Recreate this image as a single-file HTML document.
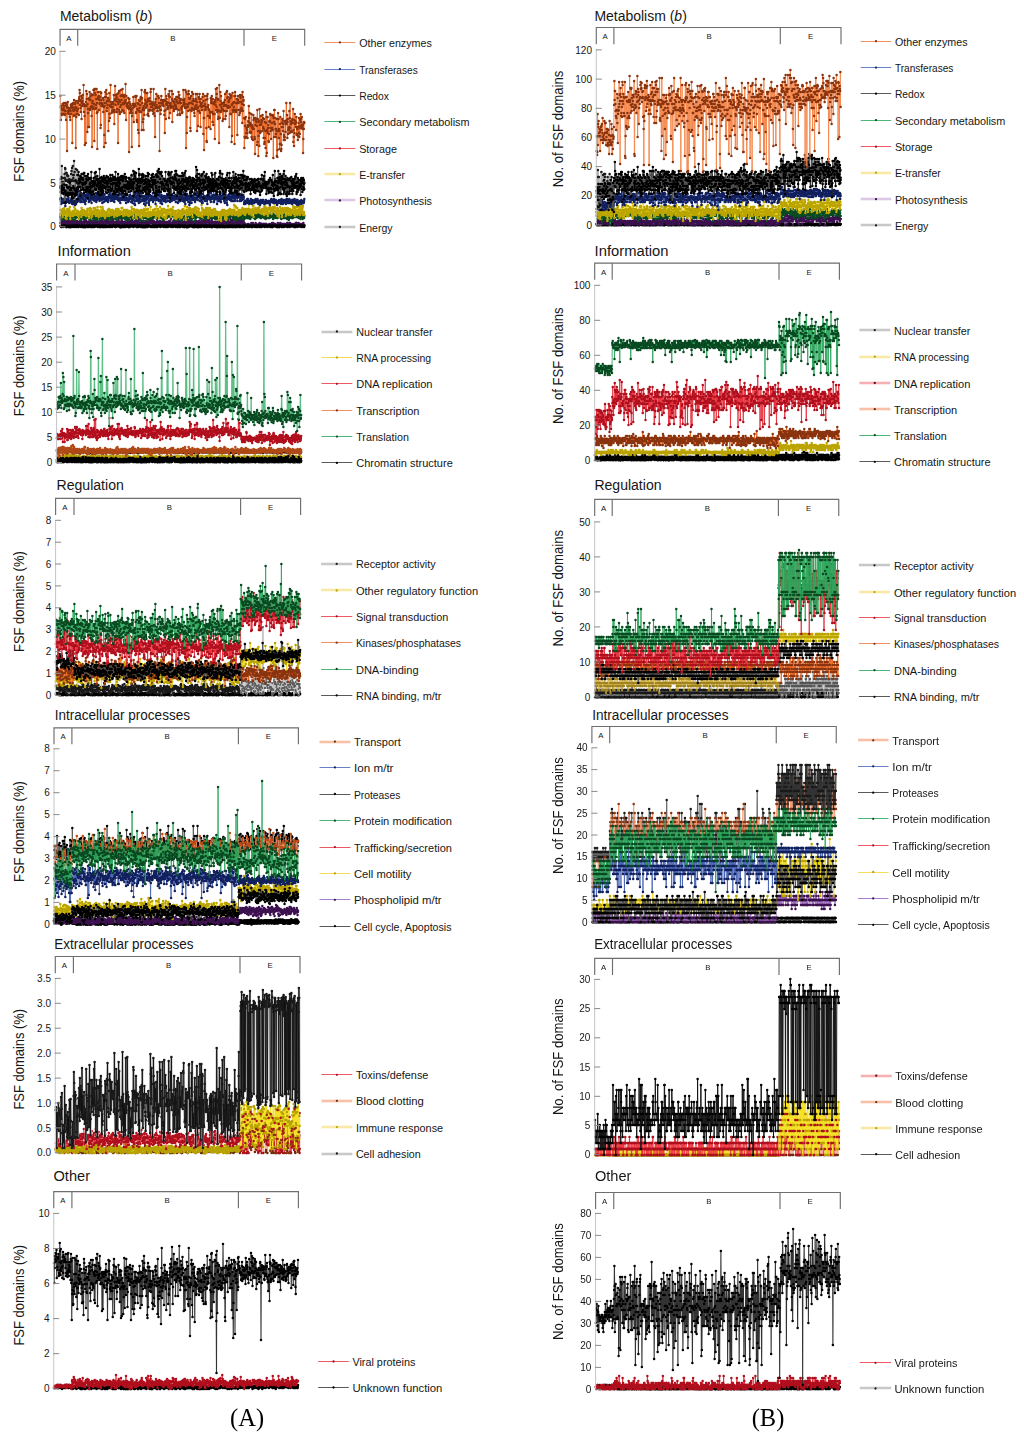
<!DOCTYPE html><html><head><meta charset="utf-8"><style>html,body{margin:0;padding:0;background:#fff;width:1024px;height:1440px;overflow:hidden}svg{display:block}text{font-family:"Liberation Sans",sans-serif;fill:#161616}.s{fill:none;stroke-linejoin:round}.d{filter:blur(0.35px)}.lt{font-size:11.2px}.tk{font-size:10px;text-anchor:end}.ti{font-size:14px}.yl{font-size:14.2px;text-anchor:middle}.br{font-size:7.8px;text-anchor:middle}</style></head><body>
<svg width="1024" height="1440" viewBox="0 0 1024 1440">
<defs><marker id="m0" markerUnits="userSpaceOnUse" markerWidth="1" markerHeight="1" overflow="visible"><ellipse rx="5.00" ry="1.25" fill="#b0101e"/></marker><marker id="m1" markerUnits="userSpaceOnUse" markerWidth="1" markerHeight="1" overflow="visible"><ellipse rx="5.00" ry="1.25" fill="#3d1250"/></marker><marker id="m2" markerUnits="userSpaceOnUse" markerWidth="1" markerHeight="1" overflow="visible"><ellipse rx="5.00" ry="1.25" fill="#000000"/></marker><marker id="m3" markerUnits="userSpaceOnUse" markerWidth="1" markerHeight="1" overflow="visible"><ellipse rx="5.00" ry="1.25" fill="#0a4a22"/></marker><marker id="m4" markerUnits="userSpaceOnUse" markerWidth="1" markerHeight="1" overflow="visible"><ellipse rx="5.00" ry="1.25" fill="#bba400"/></marker><marker id="m5" markerUnits="userSpaceOnUse" markerWidth="1" markerHeight="1" overflow="visible"><ellipse rx="5.00" ry="1.25" fill="#13205e"/></marker><marker id="m6" markerUnits="userSpaceOnUse" markerWidth="1" markerHeight="1" overflow="visible"><ellipse rx="5.00" ry="1.25" fill="#1a1a1a"/></marker><marker id="m7" markerUnits="userSpaceOnUse" markerWidth="1" markerHeight="1" overflow="visible"><ellipse rx="5.00" ry="1.25" fill="#8a3410"/></marker><marker id="m8" markerUnits="userSpaceOnUse" markerWidth="1" markerHeight="1" overflow="visible"><ellipse rx="5.00" ry="1.25" fill="#b04a18"/></marker><marker id="m9" markerUnits="userSpaceOnUse" markerWidth="1" markerHeight="1" overflow="visible"><ellipse rx="4.00" ry="1.00" fill="#5a5a5a"/></marker><marker id="m10" markerUnits="userSpaceOnUse" markerWidth="1" markerHeight="1" overflow="visible"><ellipse rx="6.80" ry="1.70" fill="#000000"/></marker><marker id="m11" markerUnits="userSpaceOnUse" markerWidth="1" markerHeight="1" overflow="visible"><ellipse rx="2.50" ry="1.25" fill="#c04a14"/></marker><marker id="m12" markerUnits="userSpaceOnUse" markerWidth="1" markerHeight="1" overflow="visible"><ellipse rx="5.00" ry="1.25" fill="#6a2a0a"/></marker><marker id="m13" markerUnits="userSpaceOnUse" markerWidth="1" markerHeight="1" overflow="visible"><ellipse rx="5.00" ry="1.25" fill="#b8a200"/></marker><marker id="m14" markerUnits="userSpaceOnUse" markerWidth="1" markerHeight="1" overflow="visible"><ellipse rx="1.25" ry="1.25" fill="#b0101e"/></marker><marker id="m15" markerUnits="userSpaceOnUse" markerWidth="1" markerHeight="1" overflow="visible"><ellipse rx="1.04" ry="1.25" fill="#8a3410"/></marker><marker id="m16" markerUnits="userSpaceOnUse" markerWidth="1" markerHeight="1" overflow="visible"><ellipse rx="4.17" ry="1.25" fill="#1a1a1a"/></marker><marker id="m17" markerUnits="userSpaceOnUse" markerWidth="1" markerHeight="1" overflow="visible"><ellipse rx="5.20" ry="1.30" fill="#000000"/></marker><marker id="m18" markerUnits="userSpaceOnUse" markerWidth="1" markerHeight="1" overflow="visible"><ellipse rx="5.00" ry="1.25" fill="#555"/></marker><marker id="m19" markerUnits="userSpaceOnUse" markerWidth="1" markerHeight="1" overflow="visible"><ellipse rx="5.00" ry="1.25" fill="#a08420"/></marker><marker id="m20" markerUnits="userSpaceOnUse" markerWidth="1" markerHeight="1" overflow="visible"><ellipse rx="2.50" ry="1.25" fill="#8a3410"/></marker><marker id="m21" markerUnits="userSpaceOnUse" markerWidth="1" markerHeight="1" overflow="visible"><ellipse rx="2.08" ry="1.25" fill="#b0101e"/></marker><marker id="m22" markerUnits="userSpaceOnUse" markerWidth="1" markerHeight="1" overflow="visible"><ellipse rx="4.17" ry="1.25" fill="#000000"/></marker><path id="p0" transform="translate(55.6 0) scale(0.3 1.0)" vector-effect="non-scaling-stroke" d="M0 1110l1-3 1 18 1-12 1 35 1-22 1-13 1 16 1-1 1-25 1 5 1 23 1-5 1-13 1-3 1 5 1 29 1-20 1-27 1 22 1-10 1-16 1 40 1 15 1-22 1-1 1 17 1-12 1 9 1 9 1-62 1 46 1-9 1-3 1-15 1 10 1 15 1-3 1 10 1-20 1 22 1-27 1 23 1-18 1 16 1 5 1-38 1 9 1 36 1-18 1-28 1 22 1 17 1-1 1 11 1-11 1 8 1-23 1 19 1 5 1-50 1-24 1 11 1 18 1 37 1-46 1 7 1-4 1 42 1-5 1-15 1-11 1 2 1 6 1 24 1-22 1-18 1 10 1-20 1 0 1 33 1-43 1 32 1-18 1-6 1 31 1-27 1 24 1-46 1 31 1 19 1-22 1 23 1 0 1-12 1-15 1 23 1 9 1-15 1 10 1-7 1 30 1-73 1 26 1 28 1 7 1-2 1-27 1-3 1-14 1 35 1 8 1-20 1-42 1 60 1-11 1 21 1-16 1-39 1 16 1 11 1 5 1-32 1 25 1-17 1 5 1 4 1 18 1-46 1 37 1-44 1 27 1-1 1 21 1 23 1-23 1-29 1 36 1 16 1 5 1-34 1-17 1 2 1 21 1 7 1-8 1-7 1-21 1 30 1-4 1-24 1-6 1 10 1 25 1 23 1-20 1 11 1-4 1-26 1 1 1 13 1-13 1 8 1-7 1 39 1-55 1 13 1-10 1 16 1 1 1 29 1-51 1 6 1-22 1 45 1 4 1 0 1 5 1-26 1-11 1-6 1 6 1 34 1-5 1-27 1 28 1-15 1-13 1 11 1 4 1 2 1-8 1 3 1-3 1 21 1-1 1-58 1 56 1 5 1 21 1 1 1-52 1-15 1 60 1-30 1 1 1-19 1 49 1-19 1-25 1-24 1 33 1-24 1 29 1 10 1 7 1-11 1-6 1 6 1 13 1 13 1-35 1 13 1-58 1 73 1-31 1 43 1-33 1 28 1-28 1 28 1-25 1 28 1-5 1-72 1 55 1-3 1-17 1 11 1-47 1 35 1 3 1 41 1-39 1 14 1 22 1-23 1-8 1 26 1 11 1-20 1 19 1-30 1 10 1 9 1-3 1-33 1 8 1 34 1-66 1 3 1 41 1-20 1 0 1 7 1-7 1 32 1-1 1-46 1 35 1-18 1 5 1-3 1 0 1-1 1 11 1 20 1-27 1 33 1-11 1 14 1-42 1-5 1 13 1 0 1-12 1-1 1-2 1 36 1-51 1 35 1 23 1-20 1-1 1-13 1 9 1-17 1 14 1 12 1 4 1 15 1-11 1-26 1 9 1-7 1 2 1 1 1 13 1 5 1-26 1 30 1-23 1 26 1-11 1 2 1 18 1-79 1 20 1 30 1-5 1-31 1 16 1 41 1 12 1-21 1-8 1-50 1 18 1 48 1-41 1 29 1-2 1-2 1-19 1 12 1-19 1 16 1 30 1-18 1-38 1 55 1-22 1 11 1-10 1 5 1 2 1-9 1-42 1 26 1-18 1 36 1-15 1 8 1 18 1 16 1-48 1-23 1 64 1-4 1 7 1 12 1-43 1-38 1 77 1-31 1-2 1-29 1 13 1-2 1 10 1 10 1-13 1 18 1-12 1 1 1 33 1-27 1-45 1 29 1 15 1 25 1-30 1 5 1-33 1 17 1 1 1-33 1 53 1-16 1 10 1-9 1 8 1 29 1-17 1-25 1-14 1 53 1-32 1 18 1-2 1-24 1 20 1 23 1-30 1-11 1-10 1 50 1-18 1-35 1 36 1-4 1 19 1-31 1-15 1 45 1-31 1 4 1 6 1-34 1 34 1-7 1-9 1 2 1-6 1 22 1-38 1 2 1-10 1 42 1 1 1 16 1-2 1 7 1-26 1-12 1 33 1-29 1 41 1 9 1-45 1-1 1-5 1 3 1 3 1-33 1-1 1 61 1-37 1 43 1-21 1-10 1 31 1-25 1-33 1 23 1-34 1 65 1-25 1 2 1 24 1-14 1 12 1 0 1-34 1-14 1 50 1-31 1 50 1-60 1 39 1-25 1-35 1 44 1 25 1-27 1-5 1-16 1-10 1 51 1-31 1 27 1-60 1 11 1 32 1 33 1-55 1-21 1 63 1-22 1-31 1 2 1 72 1-48 1 2 1 23 1 2 1-36 1-7 1-14 1 24 1 16 1 2 1-18 1 17 1 0 1-11 1 8 1 13 1-8 1-4 1 21 1-17 1 15 1-22 1-8 1 9 1-11 1 32 1-34 1 36 1-34 1 46 1-29 1-2 1-9 1-10 1 31 1-24 1 2 1 8 1 4 1 13 1-33 1 21 1-17 1 15 1 16 1-80 1 55 1-3 1 44 1-34 1-21 1 14 1 10 1-13 1-32 1 52 1-28 1 10 1 18 1-19 1-23 1 46 1 9 1-49 1-24 1 35 1 2 1 35 1-27 1 9 1-57 1 73 1-21 1 28 1-10 1-36 1 21 1-32 1 46 1-57 1 46 1 26 1-36 1 0 1 5 1 20 1-30 1-15 1 11 1 28 1-22 1 35 1-37 1 28 1-32 1-3 1 22 1-1 1-11 1 28 1-25 1 4 1 26 1-6 1-24 1-36 1 50 1-9 1-22 1 17 1-13 1 7 1-6 1 7 1 22 1 13 1-26 1 10 1-44 1-24 1 78 1-40 1 2 1 8 1-89 1-5 1-4 1 94 1-104 1 110 1 2 1-103 1 7 1-7 1 97 1-103 1 0 1 14 1 82 1-89 1 87 1-81 1-10 1 6 1-5 1 1 1-4 1 104 1-2 1-96 1 102 1-11 1-80 1 87 1 1 1-100 1-10 1 102 1-88 1 95 1-7 1 4 1-1 1-84 1-3 1-4 1 3 1 2 1-9 1 93 1-92 1 6 1-5 1 6 1-3 1 2 1-1 1-1 1 3 1 87 1 2 1 7 1-97 1 87 1 13 1-111 1 5 1 103 1-104 1 93 1 4 1 6 1-9 1-86 1-6 1 4 1-5 1 100 1-100 1-12 1 10 1 98 1-97 1 6 1-3 1-9 1 6 1 2 1 102 1-3 1-96 1-12 1 2 1 103 1-2 1-101 1 3 1 1 1 7 1-4 1-8 1 5 1 4 1 2 1 100 1-6 1 0 1 5 1-103 1-11 1 6 1 12 1-3 1 87 1-81 1-7 1 92 1-6 1-93 1 9 1-9 1 4 1 9 1 80 1-85 1 1 1-2 1 0 1-4 1 3 1 6 1-12 1 105 1-95 1 6 1-9 1-4 1 2 1 92 1-88 1-6 1-3 1 12 1-12 1 98 1-93 1-6 1 19 1-21 1 3 1 12 1-9 1 93 1-96 1 96 1-97 1 4 1 105 1-94 1 1 1-10 1 1 1 85 1-84 1 89 1-93 1 1 1 1 1 86 1-95 1 105 1-100 1 2 1 0 1-8 1 18 1 0 1 89 1-91 1-8 1 2 1-4 1 90 1-91 1 3 1-5 1 106 1 5 1-18 1-84 1 96 1-98 1 95 1-6 1-89 1 1 1-6 1 105 1-91 1-24 1 10 1 104"/></defs>
<g><text class="ti" x="59.9" y="20.9" textLength="92.4" lengthAdjust="spacingAndGlyphs">Metabolism (<tspan font-style="italic">b</tspan>)</text><path d="M60.05 45.8V29.3H304.7V45.8M77.7 29.3V45.8M244.0 29.3V45.8" fill="none" stroke="#6e6e6e" stroke-width="1.15"/><text class="br" x="68.9" y="40.8">A</text><text class="br" x="172.8" y="40.8">B</text><text class="br" x="274.4" y="40.8">E</text><g class="d"><path class="s" transform="translate(60.3 0) scale(0.25 1.0)" vector-effect="non-scaling-stroke" d="M0 227l1-1 1 1 1-1 1 1 1-1 1 0 1 0 1 0 1 1 1 0 1-1 1 0 1 0 1 0 1 1 1-1 1 1 1-1 1 0 1 1 1-1 1 0 1 0 1 0 1 0 1 0 1 0 1 0 1 0 1 0 1 1 1 0 1-1 1 0 1 0 1 0 1 0 1 0 1 1 1-1 1 0 1 0 1 0 1 0 1 1 1-1 1 0 1 0 1 0 1 0 1 1 1-1 1 0 1 0 1 0 1 1 1-1 1 0 1 0 1 1 1-1 1 0 1 0 1 0 1 0 1 0 1 1 1-1 1 0 1 0 1 0 1 0 1 0 1 0 1 1 1-1 1 0 1 0 1 0 1 0 1 0 1 1 1-1 1 0 1 0 1 0 1 0 1 0 1 1 1-1 1 0 1 0 1 0 1 1 1-1 1 1 1-1 1 0 1 1 1-1 1 0 1 0 1 1 1-1 1 0 1 0 1 0 1 0 1 1 1-1 1 0 1 1 1-1 1 1 1 0 1-1 1 0 1 0 1 0 1 1 1 0 1 0 1 0 1 0 1-1 1 0 1 0 1 0 1 0 1 1 1 0 1-1 1 0 1 0 1 0 1 0 1 0 1 0 1 1 1-1 1 1 1-1 1 0 1 1 1-1 1 1 1 0 1-1 1 0 1 0 1 1 1-1 1 0 1 1 1 0 1-1 1 1 1-1 1 0 1 1 1-1 1 0 1 1 1-1 1 0 1 0 1 0 1 0 1 0 1 0 1 0 1 0 1 1 1-1 1 0 1 0 1 0 1 1 1-1 1 1 1-1 1 1 1-1 1 1 1-1 1 0 1 0 1 1 1-1 1 0 1 0 1 0 1 0 1 0 1 0 1 0 1 0 1 1 1-1 1 0 1 0 1 0 1 0 1 1 1 0 1 0 1-1 1 0 1 0 1 0 1 0 1 1 1-1 1 0 1 1 1-1 1 1 1-1 1 1 1-1 1 0 1 1 1 0 1-1 1 1 1 0 1-1 1 0 1 1 1 0 1-1 1 1 1-1 1 0 1 1 1-1 1 0 1 1 1-1 1 0 1 0 1 0 1 1 1 0 1 0 1-1 1 1 1 0 1-1 1 0 1 0 1 0 1 1 1-1 1 0 1 1 1-1 1 0 1 0 1 1 1 0 1-1 1 0 1 0 1 0 1 0 1 1 1-1 1 1 1-1 1 1 1 0 1 0 1-1 1 1 1-1 1 0 1 0 1 0 1 0 1 0 1 0 1 0 1 0 1 0 1 0 1 0 1 0 1 0 1 0 1 1 1-1 1 0 1 0 1 0 1 1 1-1 1 1 1-1 1 0 1 0 1 1 1-1 1 0 1 0 1 0 1 0 1 1 1-1 1 0 1 1 1-1 1 1 1-1 1 0 1 0 1 0 1 1 1-1 1 1 1-1 1 1 1-1 1 1 1-1 1 1 1-1 1 0 1 0 1 0 1 0 1 1 1-1 1 1 1-1 1 0 1 0 1 0 1 0 1 0 1 0 1 0 1 0 1 0 1 0 1 0 1 1 1-1 1 0 1 1 1-1 1 1 1-1 1 0 1 1 1 0 1 0 1 0 1 0 1 0 1 0 1 0 1 0 1-1 1 1 1-1 1 0 1 0 1 0 1 0 1 1 1-1 1 0 1 0 1 0 1 0 1 0 1 0 1 0 1 0 1 0 1 0 1 1 1 0 1-1 1 0 1 0 1 0 1 0 1 1 1-1 1 1 1-1 1 1 1-1 1 1 1 0 1 0 1-1 1 0 1 0 1 0 1 0 1 0 1 0 1 0 1 0 1 0 1 1 1-1 1 1 1-1 1 1 1-1 1 1 1-1 1 1 1 0 1-1 1 0 1 0 1 0 1 1 1 0 1 0 1-1 1 1 1-1 1 1 1-1 1 1 1 0 1 0 1-1 1 0 1 0 1 1 1-1 1 0 1 0 1 0 1 0 1 0 1 1 1-1 1 0 1 0 1 0 1 1 1-1 1 0 1 0 1 1 1 0 1-1 1 0 1 0 1 0 1 0 1 0 1 1 1 0 1-1 1 0 1 1 1-1 1 0 1 0 1 1 1-1 1 0 1 0 1 0 1 0 1 0 1 0 1 0 1 0 1 0 1 0 1 0 1 0 1 0 1 1 1-1 1 0 1 0 1 1 1-1 1 0 1 0 1 0 1 1 1 0 1-1 1 0 1 1 1-1 1 1 1-1 1 1 1-1 1 0 1 0 1 1 1 0 1 0 1-1 1 1 1-1 1 1 1 0 1-1 1 0 1 0 1 0 1 0 1 0 1 0 1 0 1 0 1 0 1 0 1 0 1 0 1 1 1 0 1-1 1 1 1 0 1-1 1 0 1 0 1 1 1 0 1 0 1-1 1 0 1 0 1 0 1 0 1 1 1-1 1 1 1-1 1 0 1 0 1 0 1 0 1 0 1 0 1 1 1 0 1-1 1 1 1 0 1-1 1 0 1 0 1 0 1 1 1-1 1 0 1 0 1 1 1 0 1 0 1-1 1 0 1 1 1-1 1 0 1 0 1 0 1 0 1 0 1 0 1 0 1 0 1 1 1 0 1-1 1 1 1-1 1 0 1 1 1-1 1 0 1 1 1-1 1 1 1-1 1 1 1-1 1 0 1 0 1 1 1 0 1-1 1 0 1 0 1 1 1 0 1-1 1 0 1 0 1 0 1 0 1 0 1 0 1 0 1 0 1 0 1 0 1 0 1 0 1 1 1 0 1-1 1 0 1 0 1 0 1 1 1-1 1 1 1-1 1 0 1 1 1-1 1 1 1-1 1 0 1 0 1 0 1 0 1 0 1 1 1-1 1 1 1-1 1 1 1-1 1 1 1-1 1 0 1 0 1 0 1 1 1-1 1 0 1 0 1 0 1 0 1 0 1 1 1-1 1 0 1 1 1 0 1-1 1 0 1 0 1 0 1 1 1-1 1 0 1 0 1 0 1 0 1 0 1 0 1 1 1-1 1 0 1 0 1 0 1 0 1 1 1-1 1 0 1 0 1 0 1 0 1 1 1 0 1-1 1 1 1-1 1 1 1-1 1 1 1-1 1 1 1 0 1-1 1 0 1 0 1 0 1 0 1 0 1 0 1 0 1 1 1 0 1-1 1 0 1 0 1 0 1 0 1 0 1 1 1-1 1 1 1 0 1-1 1 0 1 0 1 1 1-1 1 0 1 0 1 1 1-1 1 1 1-1 1 0 1 1 1-1 1 0 1 0 1 0 1 0 1 0 1 0 1 0 1 1 1-1 1 0 1 0 1 0 1 0 1 0 1 0 1 0 1 0 1 0 1 0 1 0 1 0 1 1 1 0 1-1 1 1 1 0 1 0 1-1 1 1 1 0 1 0 1-1 1 1 1 0 1-1 1 1 1-1 1 1 1-1 1 0 1 0 1 0 1 0 1 1 1-1 1 0 1 0 1 1 1-1 1 0 1 1 1-1 1 0 1 0 1 0 1 0 1 1 1-1 1 0 1 0 1 0 1 0 1 1 1 0 1-1 1 0 1 0 1 0 1 1 1-1 1 0 1 0 1 0 1 0 1 0 1-1 1 1 1 0 1 0 1 1 1 0 1-1 1 0 1 1 1-1 1 1 1 0 1-1 1 1 1 0 1-1 1 0 1 1 1-1 1 1 1-1 1 0 1 0 1 0 1 0 1 0 1 0 1 0 1 0 1 0 1 0 1 1 1-1 1 0 1 0 1 0 1 0 1 0 1 0 1 1 1-1 1 0 1 0 1 0 1 1 1-1 1 0 1 0 1 0 1 0 1 0 1 1 1-1 1 1 1-1 1 0 1 0 1 1 1-1 1 0 1 1 1-1 1 0 1 0 1 0 1 0 1 0 1 0 1 0 1 1 1 0 1-1 1 0 1 0 1 0 1 0 1 0 1 0 1 0 1 0 1 0 1 0 1 1 1 0 1-1 1 0 1 0 1 0 1 0 1 0 1 0 1 0 1 0 1 1 1 0 1-1 1 0 1 0 1 1 1 0 1-1 1 0 1 0 1 0 1 0 1 1 1 0 1-1 1 1 1-1 1 0 1 1 1 0 1 0 1-1 1 0 1 0 1 0 1 0 1 1 1-1 1 0 1 0 1 0 1 0 1 0 1 0 1 1 1-1 1 0 1 0 1 0 1 0 1 0 1 0 1 1 1-1 1 1 1 0 1-1 1 1 1-1 1 0 1 0 1 1 1-1 1 0 1 0 1 0 1 1 1 0 1 0 1 0 1-1 1 0 1 1 1-1 1 0 1 0 1 0 1 1 1 0 1 0 1-1 1 0 1 1 1-1 1 0 1 0 1 0 1 0 1 0 1 0" stroke="#e6323e" stroke-width="0.9"/><path class="s" transform="translate(60.3 0) scale(0.25 1.0)" vector-effect="non-scaling-stroke" d="M0 223l1-4 1 3 1 0 1 5 1-6 1 2 1 0 1-1 1 2 1-3 1 1 1 1 1 1 1-3 1 3 1 2 1-4 1-1 1 2 1 0 1 0 1 0 1 1 1-2 1-1 1 4 1-3 1 0 1-1 1-1 1 3 1 0 1 2 1-2 1-2 1 1 1 2 1-3 1 2 1 1 1-1 1 0 1 0 1-1 1 3 1-3 1 2 1-4 1 0 1 1 1 2 1-2 1 3 1 1 1-2 1 2 1-2 1 0 1-2 1 0 1 2 1-1 1-1 1 1 1 3 1-2 1-2 1 4 1-2 1-1 1 0 1 0 1 2 1 1 1-2 1 2 1-2 1 0 1-3 1 2 1 1 1-1 1 1 1-2 1 4 1-3 1 1 1 3 1-1 1 1 1-3 1 0 1 1 1-2 1 1 1-2 1 0 1-2 1 6 1-3 1-2 1 2 1 0 1-1 1 2 1 0 1-1 1 3 1-1 1 1 1-3 1 0 1 3 1-2 1 1 1-1 1-3 1 1 1 1 1 2 1-3 1 0 1 3 1-2 1 4 1-5 1 1 1 1 1 2 1-4 1 3 1-3 1 2 1 1 1-1 1 3 1-4 1-2 1 4 1 0 1-2 1 2 1-2 1 0 1 1 1 2 1-3 1-1 1 2 1 1 1 0 1 0 1-2 1 0 1 0 1 2 1 0 1-2 1 3 1-2 1 1 1-3 1 4 1 0 1-4 1 1 1 2 1 0 1-4 1 4 1 1 1-1 1-2 1 0 1 3 1 0 1-3 1 0 1 4 1-5 1 2 1-2 1 1 1 2 1-3 1-2 1 2 1-1 1 1 1 2 1-1 1 1 1 0 1-2 1 1 1 2 1-1 1-1 1 2 1-1 1-1 1 1 1 0 1 0 1-2 1 2 1-1 1 3 1-2 1 2 1-5 1 3 1-1 1 2 1 0 1-2 1 2 1 0 1 3 1-3 1 0 1 0 1-2 1 1 1 1 1 0 1-3 1 4 1-1 1-2 1 2 1 0 1-4 1 3 1 3 1-4 1 2 1 3 1-5 1 0 1 1 1 2 1-2 1 2 1-5 1 5 1-4 1 2 1-1 1 1 1 0 1 0 1 1 1 0 1-2 1 0 1 0 1 1 1-1 1 3 1-6 1 4 1 1 1-1 1 0 1 0 1 0 1 1 1-2 1 3 1-5 1 5 1-4 1 1 1 1 1-1 1 3 1-1 1 1 1-2 1 1 1 0 1-3 1 1 1-2 1 1 1-2 1 4 1 1 1 1 1-3 1 2 1-2 1 0 1 2 1-2 1 3 1-4 1 1 1 1 1 1 1 1 1-3 1-1 1 2 1 2 1-1 1-2 1-1 1 2 1 0 1 1 1-3 1 2 1-4 1 5 1-2 1-2 1 3 1-2 1 3 1 3 1-4 1 1 1-2 1 2 1 2 1-4 1-1 1 0 1 1 1 1 1 0 1 2 1-2 1 2 1-1 1 1 1-2 1-2 1 2 1 1 1-1 1-1 1 2 1 1 1 0 1-3 1 0 1 1 1 0 1 1 1 0 1-2 1 0 1-1 1 0 1 2 1 0 1-1 1 1 1 0 1-2 1 2 1-2 1 1 1-2 1 3 1 0 1 1 1-3 1 3 1-3 1 1 1 3 1-3 1 0 1 0 1 2 1 1 1-2 1 0 1 1 1-2 1 1 1-1 1 1 1-2 1 3 1-2 1 0 1 2 1-2 1 1 1-1 1 2 1 0 1-1 1-2 1 4 1-2 1-1 1 2 1 0 1-1 1 0 1-1 1 3 1-2 1-3 1 2 1 3 1-3 1 3 1-3 1 2 1-5 1 7 1-3 1 3 1-3 1-1 1 3 1-2 1-1 1 3 1-2 1-1 1 1 1-1 1 1 1 0 1-1 1 2 1-1 1-2 1 3 1-3 1 3 1-1 1 2 1 0 1-6 1 7 1-3 1 0 1 2 1-2 1 2 1 0 1 0 1-4 1 1 1 2 1 0 1-1 1-1 1 3 1-4 1 0 1 2 1-1 1 2 1-1 1-1 1 2 1-3 1 4 1-3 1 2 1 3 1-4 1 0 1 2 1-4 1 1 1 2 1-1 1 2 1 0 1-1 1 0 1-2 1-2 1 2 1 1 1 0 1-3 1 2 1 4 1-2 1-2 1 2 1 1 1-2 1 2 1-1 1 0 1-3 1 1 1 0 1 1 1 1 1 0 1-4 1 2 1-1 1 1 1 3 1-4 1 2 1-1 1 1 1-3 1 4 1-1 1-2 1 5 1-1 1-3 1 1 1 0 1 0 1-3 1 2 1 2 1-1 1-1 1 1 1-1 1 3 1-1 1-1 1-1 1 0 1 2 1-3 1 1 1-2 1 1 1 3 1 1 1 0 1-3 1-1 1 3 1-1 1-1 1 2 1 3 1-3 1-1 1 0 1-2 1 1 1 4 1-4 1 3 1-1 1-2 1-3 1 4 1-1 1 0 1 2 1-1 1-2 1 3 1 0 1-1 1-1 1-2 1 1 1 1 1 1 1 1 1-3 1 2 1-3 1 4 1-3 1 2 1 2 1-1 1-2 1-3 1 7 1-4 1-1 1 4 1 0 1-6 1 3 1 2 1-4 1 2 1-1 1 4 1-2 1-1 1 1 1 0 1 1 1-2 1 4 1-6 1 7 1-5 1 1 1-1 1 0 1 1 1 1 1 0 1 0 1-2 1 0 1 2 1-2 1 3 1 0 1-3 1 0 1 0 1 2 1 0 1-2 1 1 1 2 1-8 1 5 1 5 1-2 1-2 1 1 1-3 1 1 1 1 1 1 1 1 1-2 1 3 1-1 1-1 1-3 1-1 1 2 1 0 1 2 1 1 1-1 1 1 1-2 1 1 1-1 1-2 1-1 1 2 1 0 1 4 1-5 1 0 1 2 1-1 1 0 1 3 1-3 1 2 1-3 1 1 1 1 1-2 1 2 1-1 1 0 1 2 1-1 1 2 1 0 1-6 1 3 1 2 1-3 1 1 1 1 1-2 1-1 1 5 1 1 1-3 1 1 1 1 1-4 1-3 1 6 1 1 1 1 1-2 1 2 1-4 1 2 1-1 1 0 1 2 1-1 1 0 1-3 1 1 1 0 1 1 1 0 1-2 1 1 1 3 1-1 1-2 1-3 1 2 1 3 1 1 1-2 1-1 1-1 1 0 1 2 1-3 1 3 1-3 1 3 1 1 1-3 1 1 1-1 1 4 1 1 1-3 1 4 1-2 1 1 1-2 1 1 1 0 1 0 1 1 1 0 1-1 1 1 1 1 1-2 1-1 1 1 1 1 1-2 1 2 1-1 1 0 1 1 1-1 1 1 1 0 1 0 1 0 1-1 1-2 1 4 1-3 1 1 1-1 1 2 1-3 1 1 1 2 1-1 1 1 1-1 1 1 1 0 1 0 1-1 1 1 1-3 1 2 1 0 1 0 1-1 1 1 1 2 1-1 1-1 1 1 1 0 1 0 1-1 1 1 1-1 1-1 1-1 1 1 1 0 1 0 1 1 1 2 1-2 1-1 1 0 1 0 1 1 1-1 1 2 1 0 1-1 1 0 1-1 1 0 1 1 1 0 1-1 1 1 1 0 1 0 1 0 1-1 1 0 1 0 1 1 1 1 1-1 1 2 1-1 1-1 1 1 1-1 1 1 1 0 1 0 1-2 1 1 1 1 1-1 1 0 1 2 1 0 1-3 1 1 1-1 1 2 1-3 1 4 1 0 1-2 1-2 1 2 1-1 1 1 1-1 1 1 1-1 1 1 1 0 1-1 1 2 1-1 1 0 1 1 1 1 1-1 1-1 1 0 1 2 1-4 1 3 1-2 1 2 1 1 1-3 1 3 1-2 1 0 1 1 1-3 1 1 1 1 1 1 1-2 1 1 1 2 1-3 1 1 1 0 1 0 1-1 1 0 1 2 1-1 1 0 1 0 1-1 1 0 1 2 1-1 1 1 1-1 1 0 1 1 1-1 1 0 1-2 1 4 1-4 1 4 1-2 1 0 1 1 1 0 1-2 1 1 1-2 1 4 1-4 1 2 1 0 1 0 1 0 1 0 1 0 1 0 1-1 1 1 1 1 1-1 1 0 1 1 1-1 1 0 1 0 1-1 1 0 1 0 1 3 1-2 1 0 1 0 1-2 1 0 1 0 1 1 1 2 1 1 1-2 1 0 1-1 1 1 1-2 1 2 1 0 1 0 1 1 1-2 1 1 1 0 1-1 1 1 1 1 1 1 1-1 1-1 1-1 1 2 1 1 1-2 1 0 1-2 1 2 1 1 1-1 1 0" stroke="#a070c0" stroke-width="0.9" marker-start="url(#m1)" marker-mid="url(#m1)" marker-end="url(#m1)"/><path class="s" transform="translate(60.3 0) scale(0.25 1.0)" vector-effect="non-scaling-stroke" d="M0 226l1 0 1 0 1 0 1 1 1-1 1 0 1 0 1 0 1 0 1 0 1 1 1-1 1 0 1 0 1 0 1 0 1 0 1 0 1 0 1 0 1 0 1 0 1 1 1 0 1-1 1 1 1-1 1 0 1 0 1 0 1 0 1 1 1-1 1 0 1 1 1 0 1-1 1 0 1 1 1 0 1-1 1 1 1-1 1 1 1-1 1 0 1 0 1 0 1 0 1 0 1 1 1-1 1 0 1 0 1 0 1 0 1 0 1 1 1-1 1 0 1 0 1 0 1 0 1 1 1-2 1 1 1 0 1 0 1 0 1 0 1 1 1-1 1 1 1-1 1 0 1 0 1 0 1 0 1 0 1 0 1 0 1 0 1 1 1-1 1 0 1 0 1 0 1 0 1 1 1-1 1 0 1 1 1-1 1 1 1 0 1-1 1 0 1 1 1 0 1 0 1 0 1-1 1 0 1 0 1 0 1 0 1 0 1 1 1-1 1 0 1 0 1 1 1-1 1 0 1 0 1 0 1 0 1 1 1-1 1 0 1 0 1 0 1 0 1 1 1 0 1-1 1 0 1 0 1 1 1-1 1 0 1 1 1-1 1 0 1 0 1 0 1 1 1-1 1 0 1 0 1 0 1 0 1 0 1 0 1 0 1 0 1 0 1 0 1 0 1 1 1-1 1 0 1 0 1 0 1 0 1 0 1 1 1-1 1 0 1 1 1 0 1-1 1 0 1 0 1 0 1 0 1 1 1-1 1 0 1 0 1 1 1 0 1-1 1 0 1 0 1 0 1 1 1-1 1 1 1-1 1 0 1 0 1 1 1-1 1 0 1 0 1 1 1-1 1 0 1 0 1 0 1 0 1 0 1 0 1 1 1-1 1 0 1 0 1 0 1 1 1-1 1 0 1 0 1 0 1 0 1 0 1 1 1-1 1 0 1 0 1 0 1 0 1 0 1 0 1 0 1 0 1 0 1 0 1 0 1 0 1 0 1 1 1-1 1 0 1 0 1 0 1 0 1 0 1 0 1 0 1 0 1 0 1 0 1 0 1 0 1 0 1 0 1 0 1 1 1 0 1 0 1 0 1 0 1 0 1-1 1 0 1 0 1 0 1 1 1-1 1 0 1 0 1 1 1-1 1 1 1-1 1 0 1 0 1 0 1 0 1 1 1-1 1 0 1 0 1 0 1 0 1 0 1 0 1 0 1 0 1 0 1 1 1 0 1-1 1 1 1-1 1 0 1 1 1-1 1 0 1 0 1 0 1 0 1 0 1 0 1 0 1 0 1 0 1 0 1 0 1 0 1 1 1-1 1 0 1 0 1 0 1 0 1 0 1 0 1 0 1 0 1 0 1 0 1 0 1 0 1 1 1 0 1-1 1 0 1 0 1 0 1 1 1-1 1 0 1 0 1 0 1 0 1 0 1 0 1 0 1 0 1 0 1 0 1 0 1 0 1 1 1 0 1-1 1 0 1 1 1-1 1 1 1 0 1-1 1 0 1 1 1 0 1-1 1 1 1-1 1 1 1-1 1 1 1-1 1 0 1 0 1 0 1 0 1 1 1-1 1 0 1 0 1 0 1 0 1 0 1 0 1 0 1 0 1 0 1 0 1 0 1 0 1 1 1-1 1 0 1 0 1 1 1-1 1 0 1 0 1 0 1 0 1 1 1-1 1 0 1 1 1-1 1 0 1 0 1 0 1 1 1-1 1 0 1 0 1 0 1 1 1-1 1 1 1-1 1 0 1 0 1 0 1 0 1 0 1 0 1 0 1 0 1 0 1 0 1 0 1 1 1-1 1 0 1 0 1 0 1 0 1 0 1 0 1 0 1 0 1 0 1 0 1 0 1 1 1-1 1 0 1 0 1 0 1 0 1 0 1 1 1-1 1 0 1 0 1 1 1-1 1 0 1 0 1 0 1 1 1-1 1 0 1 0 1 0 1 0 1 0 1 0 1 0 1 0 1 0 1 0 1 0 1 0 1 1 1-1 1 0 1 0 1 0 1 0 1 0 1 1 1-1 1 0 1 0 1 0 1 0 1 0 1 0 1 0 1 0 1 0 1 1 1-1 1 0 1 0 1 0 1 0 1 1 1 0 1-1 1 0 1 0 1 0 1 0 1-1 1 1 1 1 1-1 1 0 1 1 1-1 1 0 1 0 1 0 1 0 1 0 1 0 1 0 1 0 1 0 1 1 1-1 1 0 1 0 1 0 1 1 1 0 1-1 1 0 1 0 1 0 1 0 1 0 1 1 1 0 1 0 1 0 1 0 1-1 1 0 1 1 1-1 1 1 1-1 1 0 1 0 1 0 1 0 1 0 1 0 1 0 1 0 1 0 1 0 1 0 1 0 1 0 1 0 1 0 1 1 1-1 1 1 1-1 1 0 1 1 1 0 1-2 1 1 1 1 1-1 1 0 1 0 1 0 1 0 1 1 1-1 1 0 1 0 1 1 1-1 1 1 1-1 1 0 1 1 1-1 1 0 1 0 1 1 1-1 1 0 1 0 1 0 1 1 1-1 1 0 1 0 1 0 1 0 1 0 1 0 1 0 1 0 1 0 1 0 1 1 1-1 1 0 1 0 1 0 1 0 1 0 1 0 1 1 1-1 1 0 1 1 1-1 1 0 1 0 1 0 1 0 1 0 1 0 1 0 1 0 1 1 1-1 1 0 1 0 1 0 1 0 1 0 1 0 1 1 1-1 1 1 1-1 1 0 1 1 1-1 1 0 1 0 1 0 1 0 1 0 1 0 1 0 1 0 1 1 1-1 1 0 1 0 1 0 1 1 1-1 1 1 1-1 1 1 1 0 1-1 1 0 1 0 1 0 1 0 1 0 1 1 1-1 1 0 1 0 1 1 1 0 1-1 1 0 1 0 1 0 1 0 1 1 1 0 1-1 1 0 1 0 1 1 1-1 1 0 1 1 1-1 1 1 1-1 1 1 1 0 1-1 1 0 1 0 1 0 1 0 1 1 1-1 1 0 1 1 1-1 1 0 1 1 1-1 1 0 1 1 1-1 1 0 1 0 1 1 1-1 1 0 1 0 1 0 1 0 1 0 1 1 1-1 1 0 1 0 1 1 1 0 1-1 1 0 1 0 1 0 1 0 1 0 1 1 1 0 1-1 1 0 1 1 1 0 1-1 1 0 1 0 1 0 1 0 1 1 1-1 1 0 1 0 1 0 1 0 1 0 1 0 1 1 1-1 1 1 1-1 1 0 1 0 1 0 1 0 1 1 1-1 1 0 1 0 1 0 1 0 1 0 1 0 1 1 1 0 1-1 1 0 1 0 1 0 1 0 1 0 1 0 1 0 1 0 1 0 1 0 1 0 1 0 1 0 1 0 1 0 1 0 1 0 1 0 1 0 1 1 1-1 1 0 1 0 1 0 1 0 1 0 1 0 1 0 1 0 1 0 1 1 1-1 1 0 1 1 1-1 1 0 1 0 1 0 1 0 1 0 1 0 1 0 1 0 1 0 1 1 1-1 1 0 1 0 1 0 1 0 1 1 1-1 1 0 1 0 1 0 1 0 1 0 1 0 1 0 1 0 1 1 1-1 1 0 1 0 1 0 1 0 1 0 1 0 1 1 1-1 1 0 1 0 1 0 1 0 1 0 1 0 1 0 1 0 1 0 1 0 1 0 1 0 1 1 1-1 1 0 1 0 1 0 1 0 1 0 1 0 1 0 1 0 1 0 1 0 1 0 1 0 1 0 1 0 1 0 1 0 1 0 1 0 1 0 1 0 1 0 1 0 1 0 1 0 1 0 1 0 1 0 1 1 1-1 1 0 1 0 1 0 1 0 1 0 1 0 1 0 1 0 1 0 1 0 1 0 1 0 1 0 1 0 1 0 1 0 1 0 1 0 1 0 1 1 1-1 1 0 1 0 1 0 1 0 1 0 1 1 1-1 1 0 1 0 1 0 1 0 1 0 1 0 1 0 1 0 1 0 1 0 1 1 1-1 1 0 1 0 1 0 1 0 1 0 1 1 1-1 1 0 1 0 1 0 1 0 1 0 1 0 1 0 1 0 1 0 1 0 1 0 1 0 1 0 1 0 1 0 1 0 1 0 1 0 1 0 1 0 1 0 1 0 1 0 1 0 1 0 1 0 1 0 1 0 1 0 1 0 1 0 1 0 1 0 1 0 1 0 1 0 1 0 1 0 1 0 1 0 1 1 1-1 1 0 1 0 1 1 1-1 1 0 1 0 1 0 1 0 1 0 1 0 1 0 1 0 1 0 1 0 1 0 1 0 1 0 1 0 1 0 1 0 1 0 1 0 1 0 1 0 1 0 1 0 1 0 1 0 1 0 1 0 1 0 1 0 1 0 1 0 1 0 1 0 1 0 1 1 1-1" stroke="#555555" stroke-width="0.9" marker-start="url(#m2)" marker-mid="url(#m2)" marker-end="url(#m2)"/><path class="s" transform="translate(60.3 0) scale(0.25 1.0)" vector-effect="non-scaling-stroke" d="M0 217l1-3 1 2 1-1 1 0 1-1 1 6 1-3 1 0 1-3 1-1 1 5 1 1 1 0 1-1 1-1 1 2 1-2 1-3 1 5 1-3 1 0 1 1 1-1 1 1 1 0 1-3 1 1 1-1 1 2 1-1 1 4 1-1 1 0 1-1 1 2 1-3 1 0 1 0 1 0 1-1 1 2 1 0 1 0 1-2 1 0 1 2 1-1 1 3 1 0 1-3 1-2 1 2 1 0 1-1 1 2 1 0 1-2 1-1 1 6 1-3 1 1 1-1 1 0 1 0 1-1 1 1 1 0 1-2 1 2 1-3 1 2 1 1 1-1 1 1 1-2 1 3 1-3 1 0 1 0 1 0 1 3 1 2 1-4 1 0 1-1 1 2 1 1 1 0 1 0 1 0 1 0 1-3 1 1 1 3 1-4 1-1 1 3 1-1 1 1 1 0 1 0 1-3 1 3 1-3 1 4 1-1 1-2 1-3 1 4 1-1 1 0 1 3 1-1 1-3 1 5 1-1 1-1 1 0 1-2 1 1 1 4 1-5 1 2 1-1 1-2 1 2 1-1 1-1 1 0 1 4 1-3 1-2 1 7 1-5 1 3 1-2 1-1 1 3 1-3 1 0 1 3 1-4 1 4 1-2 1-2 1 6 1-2 1 1 1-5 1 1 1 1 1-1 1 2 1-2 1-1 1 3 1 3 1-2 1-1 1-2 1 1 1 1 1 1 1 0 1-1 1-2 1 1 1 3 1-4 1 3 1-3 1 0 1-2 1 5 1 1 1-2 1-3 1 5 1-2 1-1 1 0 1 0 1 0 1 0 1 2 1-1 1-3 1 1 1 3 1-4 1 1 1-2 1 6 1-3 1 0 1 2 1 0 1-3 1 2 1 1 1 0 1-2 1 4 1-5 1 2 1 0 1-3 1-1 1 4 1 0 1 1 1-3 1 0 1-1 1 4 1-5 1 1 1 3 1-2 1 4 1-3 1 1 1-2 1 2 1 3 1-5 1 1 1 1 1-1 1 2 1-4 1 3 1-2 1 3 1-3 1-1 1 4 1-1 1-1 1-3 1 5 1-1 1 0 1 1 1 0 1 0 1-2 1 1 1 1 1-2 1-2 1 4 1-1 1 0 1 1 1-1 1-3 1 2 1 3 1 0 1-2 1 2 1-7 1 8 1-3 1 1 1-3 1 2 1 0 1 1 1-1 1 0 1 1 1-3 1 2 1 3 1-4 1 1 1-2 1 2 1-1 1-1 1 2 1-1 1 2 1-1 1-1 1 0 1 3 1-3 1 1 1 0 1 0 1 0 1-1 1 0 1-1 1-2 1 5 1-2 1 2 1-4 1 2 1 3 1-5 1 1 1 2 1-1 1-1 1 1 1 1 1-1 1 1 1-1 1 0 1 0 1 1 1 4 1-1 1 0 1-1 1-2 1-1 1-3 1 3 1 0 1 1 1-2 1 2 1-6 1 5 1 2 1 3 1-4 1-2 1 0 1 0 1 1 1 2 1-3 1 2 1-1 1 1 1 1 1-1 1 0 1 0 1 3 1-7 1 2 1 4 1-1 1 0 1-3 1 3 1 0 1-1 1-3 1 5 1-4 1 1 1 0 1 3 1-3 1 1 1 0 1-1 1 3 1-6 1 2 1 1 1 2 1-2 1 0 1-1 1 1 1 1 1-1 1-1 1 1 1-2 1 3 1-2 1 0 1 3 1 1 1-4 1 1 1-2 1 4 1-6 1 3 1 0 1 3 1-1 1 1 1-3 1 1 1-1 1 2 1 0 1 0 1-1 1 2 1-3 1 1 1-3 1 3 1 2 1 2 1-6 1 4 1-4 1 6 1-6 1 0 1-1 1-1 1 6 1 0 1-1 1 1 1 0 1-4 1 1 1-1 1 4 1-1 1-2 1 1 1 0 1-1 1-2 1 1 1 2 1 0 1-2 1 3 1-2 1 2 1-2 1 1 1-2 1 3 1-1 1 0 1-2 1 1 1 0 1 0 1-2 1 3 1 0 1 0 1 1 1 3 1-3 1-2 1 0 1-3 1 7 1-4 1 3 1-2 1 0 1 2 1 1 1 1 1-2 1 0 1-1 1 2 1-1 1-2 1 1 1-5 1 4 1-1 1 2 1-2 1 1 1 0 1-1 1 4 1 2 1-2 1-2 1 1 1 0 1-3 1 1 1 1 1-1 1 0 1 0 1 1 1 0 1 0 1 2 1-3 1 2 1-1 1 0 1-1 1-1 1 1 1 1 1-4 1 7 1-7 1 3 1-2 1 1 1 0 1 1 1 0 1-2 1 4 1-5 1 4 1 0 1 1 1-2 1 2 1 2 1-2 1-1 1-1 1 2 1-3 1 3 1-2 1-2 1 0 1 1 1 1 1-3 1 8 1-6 1-1 1 4 1-1 1 1 1-2 1-2 1 2 1 1 1-3 1 1 1 0 1 0 1 1 1 1 1-2 1 2 1 0 1 0 1-3 1 0 1 3 1 2 1-1 1-3 1 1 1 0 1 2 1-1 1-4 1 4 1-1 1 0 1-2 1 3 1-4 1 4 1-2 1 0 1 4 1-1 1-3 1 2 1-1 1 3 1-5 1 0 1 3 1-2 1 4 1-6 1 1 1 1 1 2 1 0 1-1 1-1 1 2 1 0 1-2 1 2 1 1 1-1 1 1 1 0 1-3 1 0 1 0 1 0 1 2 1-4 1 2 1 3 1-1 1-1 1-1 1 1 1 2 1-5 1 5 1-3 1 4 1-1 1 1 1-1 1-2 1 0 1 2 1-3 1 0 1 4 1 0 1-2 1-2 1-2 1 3 1 2 1-2 1-1 1 0 1 2 1 1 1 0 1-3 1 3 1-5 1 4 1-1 1 2 1-2 1 0 1 3 1-4 1-1 1 4 1-5 1 4 1 0 1-1 1 2 1 1 1 0 1-1 1 1 1-6 1 1 1 7 1-6 1 2 1-2 1 3 1 1 1-3 1-2 1-1 1 3 1-1 1 0 1 2 1 0 1 0 1-2 1-3 1 2 1 1 1 1 1 0 1 0 1-1 1-1 1 2 1 1 1 1 1-1 1 2 1-5 1 3 1 0 1 1 1-4 1 6 1-2 1-1 1 0 1 0 1 1 1 1 1 1 1-3 1 2 1-2 1-2 1 3 1-2 1-1 1 4 1-5 1 1 1-1 1 4 1 1 1-1 1-4 1 3 1-1 1 3 1-6 1 3 1-2 1 5 1-4 1-1 1 2 1 0 1 0 1 2 1-2 1 3 1-2 1 1 1-3 1 1 1 2 1-2 1-1 1 1 1-1 1 3 1-1 1-3 1 2 1 2 1 0 1-3 1 3 1 0 1-2 1 1 1-3 1 3 1-2 1 4 1-2 1-1 1 0 1-2 1 2 1 1 1-2 1 2 1-2 1 2 1-1 1-1 1 1 1-2 1 4 1-2 1-1 1 3 1 1 1-2 1 0 1 1 1-3 1 3 1-3 1 1 1 0 1 0 1 0 1 1 1-3 1 2 1 1 1-3 1 1 1 2 1-2 1 0 1 1 1 0 1 2 1-1 1 1 1-2 1 0 1 1 1-3 1 1 1 2 1-1 1 1 1-1 1 1 1 0 1 0 1 1 1-3 1 2 1 0 1-1 1 3 1-3 1 0 1 0 1 1 1-1 1 2 1-2 1 1 1-2 1 3 1-3 1 0 1 3 1-1 1-1 1 2 1-2 1 0 1-1 1 0 1 1 1 1 1 0 1-4 1 3 1 0 1-3 1 3 1 0 1 3 1-5 1 4 1-3 1 1 1 0 1 1 1 1 1-3 1 2 1-2 1 1 1 1 1 0 1-1 1 2 1-2 1-2 1 4 1-4 1 2 1-1 1 1 1 1 1 0 1-1 1-1 1-1 1 0 1 3 1 0 1-2 1 3 1 1 1-3 1 2 1-3 1 2 1 1 1-3 1 1 1 1 1-3 1 4 1 0 1-3 1 2 1 0 1-1 1 2 1-3 1-1 1 2 1 0 1 0 1 2 1 1 1-2 1-2 1 1 1 0 1 2 1-1 1 3 1-3 1-1 1 1 1 1 1-2 1 1 1 0 1-3 1 2 1 0 1 2 1-3 1 0 1-1 1 4 1 0 1-3 1 1 1-1 1 2 1-1 1-2 1 3 1-1 1 1 1-2 1 1 1-1 1 2 1-1 1-3 1 2 1 2 1 0 1 0 1-1 1-2 1 1 1 0 1 3 1-2 1 0 1-2 1 1 1 0 1 0 1 4 1-2 1-1 1 0 1 0 1-1 1 2 1 0 1 2 1-3 1 0 1 0 1-1 1 2 1 1 1-2" stroke="#2ea65c" stroke-width="0.9" marker-start="url(#m3)" marker-mid="url(#m3)" marker-end="url(#m3)"/><path class="s" transform="translate(60.3 0) scale(0.25 1.0)" vector-effect="non-scaling-stroke" d="M0 215l1-5 1 0 1 2 1 1 1 0 1-3 1 4 1 0 1 3 1-8 1 3 1 2 1-2 1 3 1-5 1-2 1 4 1 2 1-2 1-1 1 7 1-7 1 2 1-1 1 7 1-3 1 0 1-7 1 4 1-3 1 1 1 4 1-6 1 6 1-2 1-3 1 6 1-9 1 5 1 7 1-6 1 3 1-1 1-2 1 0 1 2 1 0 1-2 1-2 1 5 1 0 1-4 1 0 1-1 1 3 1-7 1 8 1-2 1-4 1 5 1-4 1 4 1 0 1 1 1-2 1 0 1 0 1-2 1 1 1-1 1 5 1-4 1 0 1 7 1-6 1 0 1 1 1-1 1 1 1-2 1 1 1-1 1-1 1 6 1-9 1 7 1-5 1 2 1 0 1 0 1 3 1-2 1 1 1-4 1 3 1-1 1 1 1-1 1 3 1 0 1-2 1 2 1 1 1-5 1 5 1-5 1 3 1-1 1-4 1 0 1 5 1-5 1 6 1 3 1-4 1 4 1-7 1 4 1-7 1 5 1-3 1 4 1-2 1-3 1 8 1-5 1 4 1-4 1 1 1 1 1-2 1-1 1-3 1 4 1 1 1-2 1 3 1 0 1-4 1-2 1 2 1 6 1-6 1 3 1 3 1-5 1 4 1-3 1-5 1 5 1-2 1 5 1 1 1 1 1-4 1 2 1-4 1 2 1 0 1 2 1-8 1 7 1 2 1-3 1 3 1-6 1 3 1-2 1-4 1 2 1 6 1-3 1 4 1-3 1-2 1 5 1-2 1-2 1 6 1-4 1 2 1-4 1 1 1 1 1-1 1-1 1 1 1 1 1 2 1-6 1 4 1 0 1 1 1-6 1 0 1 7 1-5 1 4 1-4 1 1 1-1 1-1 1 4 1-1 1 2 1-3 1-2 1 1 1-1 1 2 1 1 1 0 1 2 1-3 1 2 1 3 1-6 1 3 1-1 1-2 1 4 1-4 1-2 1 3 1 0 1 0 1 4 1-1 1-6 1 1 1 3 1 2 1-6 1 4 1-2 1 2 1 2 1-2 1-2 1 2 1 0 1-1 1 1 1 0 1-5 1 4 1 0 1-4 1 5 1 1 1 0 1 2 1-4 1 0 1-2 1 1 1 4 1-3 1 3 1-5 1 5 1-2 1-1 1 3 1-5 1 1 1 1 1-2 1 4 1 1 1-2 1-1 1 4 1-5 1 5 1-2 1-3 1 2 1 2 1-2 1-2 1 4 1-3 1 2 1-7 1 6 1-4 1 3 1 2 1-1 1 1 1 4 1-5 1 0 1-4 1 1 1 1 1 0 1 1 1 0 1 4 1-3 1 3 1 2 1-8 1 0 1 1 1 1 1-2 1 5 1 0 1-1 1-3 1 0 1 0 1 2 1 2 1-4 1 6 1-6 1 3 1-2 1-2 1 2 1 6 1-8 1 2 1-1 1 3 1 1 1-2 1-1 1 1 1 3 1-7 1 3 1 3 1-5 1 6 1-6 1-4 1 7 1 0 1 3 1-2 1-4 1-1 1 4 1-4 1 8 1-4 1-4 1 8 1-1 1-1 1-3 1 0 1 3 1-2 1 2 1-8 1 8 1 1 1-1 1-2 1 0 1 0 1-1 1 1 1-3 1 5 1-3 1 0 1-1 1 2 1-1 1 3 1-6 1 5 1-1 1-4 1 9 1-4 1 2 1-10 1 6 1 3 1 1 1-4 1-1 1-2 1 5 1-3 1 1 1 6 1-5 1 1 1 0 1-7 1 5 1-1 1 4 1-1 1 0 1 2 1-7 1 2 1 2 1-2 1 1 1 5 1 0 1-4 1-4 1 0 1 3 1 5 1-7 1 8 1-5 1 6 1-9 1 2 1 5 1-2 1-4 1-1 1 2 1 0 1 2 1-8 1 8 1-4 1 1 1 0 1 0 1 3 1 0 1-3 1 0 1-2 1 8 1-8 1 0 1 1 1 5 1-2 1-1 1-2 1 1 1-4 1 8 1 0 1-4 1 3 1 4 1-6 1 1 1 3 1-1 1-4 1 5 1 3 1-8 1 7 1-3 1 2 1-3 1 2 1-3 1 0 1-3 1 7 1-4 1-2 1 3 1 1 1-3 1 4 1-5 1 5 1 1 1 1 1-4 1-3 1 6 1-7 1 2 1 1 1-4 1 6 1-2 1 0 1-2 1 0 1 2 1 0 1-7 1 6 1 1 1 5 1 2 1-8 1 2 1-4 1 4 1-7 1 8 1-3 1 3 1-1 1-1 1-3 1 0 1-1 1-1 1 0 1 0 1 7 1-3 1-2 1 3 1-3 1 4 1-2 1 0 1 1 1-4 1 8 1-5 1 0 1 0 1-2 1 1 1-2 1 3 1-3 1-1 1 5 1-2 1-4 1 3 1 1 1 3 1 0 1-1 1 2 1-7 1 4 1 0 1-1 1 5 1-3 1-4 1 4 1-1 1 2 1-1 1 3 1-2 1-1 1 3 1-1 1-2 1-8 1 11 1-8 1 9 1-8 1 2 1 0 1-1 1 2 1 2 1-4 1 1 1 4 1-1 1 0 1-2 1-2 1 2 1-4 1 3 1-2 1 5 1-1 1 2 1-1 1-6 1 2 1 8 1-3 1-3 1 2 1-2 1-3 1-1 1 5 1 0 1-3 1 6 1-5 1 2 1-3 1 1 1 1 1-1 1 3 1 2 1-3 1-3 1 0 1-1 1 6 1-3 1 2 1-1 1-4 1 3 1-1 1 2 1 2 1-3 1 0 1 0 1 0 1 3 1 0 1-3 1 1 1 2 1 5 1-6 1-1 1 0 1 2 1-2 1-1 1 5 1-5 1 3 1 6 1-8 1 0 1-2 1 1 1-2 1 1 1 4 1 0 1-5 1 4 1-3 1 2 1-3 1 3 1 1 1 5 1-4 1-4 1 5 1 4 1-1 1-1 1-7 1 4 1 0 1-2 1-2 1 3 1 1 1-5 1 1 1 2 1 0 1 1 1-5 1 0 1 5 1-3 1 0 1 2 1-3 1 1 1 2 1 2 1-5 1 3 1 1 1-1 1 0 1 0 1-3 1-5 1 6 1 1 1 1 1 2 1-9 1 8 1-7 1 7 1-2 1 0 1 2 1-1 1-5 1 6 1-2 1 1 1 3 1-3 1 0 1-3 1 3 1 2 1-4 1 3 1-4 1 5 1-2 1 0 1 0 1-2 1-1 1 3 1-5 1 5 1 0 1-3 1-1 1 4 1 0 1 1 1-3 1-2 1 0 1 6 1-1 1-2 1 1 1-3 1-1 1 2 1 0 1-2 1 1 1 2 1 0 1-2 1-1 1 3 1-9 1 11 1-5 1 3 1 1 1 0 1-3 1 0 1 2 1 0 1-1 1 4 1 0 1 0 1-4 1-2 1 4 1-7 1 0 1 11 1-6 1 2 1 0 1-3 1 0 1 0 1-2 1 3 1 1 1 1 1-2 1 2 1-2 1-2 1 1 1-2 1 3 1-2 1 3 1 0 1-3 1 3 1-5 1 5 1-2 1 3 1-1 1 0 1-2 1 0 1 0 1 3 1 1 1-1 1-4 1 3 1-3 1 2 1 1 1 0 1-1 1 4 1-8 1-2 1 6 1-2 1 5 1-7 1 6 1-4 1 3 1 1 1-4 1 2 1-2 1 5 1 2 1-3 1-5 1 5 1-5 1 1 1 4 1-3 1-2 1-4 1 3 1 3 1-1 1 2 1-2 1 5 1-4 1-2 1 2 1 1 1 1 1-5 1 1 1 1 1-1 1 3 1 0 1-4 1-5 1 6 1 4 1-1 1 0 1 0 1 3 1-2 1 0 1-2 1-2 1 8 1-7 1 5 1-5 1 6 1-2 1-2 1 6 1-5 1 1 1-6 1 4 1 2 1-2 1-2 1 5 1-3 1 0 1 6 1-7 1-2 1 4 1 1 1-1 1 0 1-1 1 1 1-3 1 1 1-2 1 2 1 1 1 1 1 4 1-6 1 5 1-4 1-3 1 6 1-5 1 1 1-2 1 4 1-3 1 3 1 3 1-3 1-3 1 2 1-2 1 4 1 0 1 0 1-1 1 3 1-5 1 1 1 2 1-2 1 1 1-2 1 1 1-5 1 2 1 3 1 3 1-7 1 4 1 2 1 3 1-8 1-1 1 3 1 3 1-1 1 2 1-2 1-5 1 5 1 3 1-4 1-1 1 0 1-4 1 7 1-3 1 4 1-7 1 2 1 2 1 4 1-2 1-7 1 7 1-2 1 1 1-4 1 2 1 2 1-3 1-2 1-1 1 9 1-1 1-2 1 2 1-2 1 3" stroke="#f0d820" stroke-width="0.9" marker-start="url(#m4)" marker-mid="url(#m4)" marker-end="url(#m4)"/><path class="s" transform="translate(60.3 0) scale(0.25 1.0)" vector-effect="non-scaling-stroke" d="M0 199l1 0 1 2 1 3 1-1 1 0 1-4 1 4 1-1 1 0 1-3 1 0 1 3 1-1 1 1 1 0 1-2 1 0 1 0 1 0 1 6 1-3 1 0 1-2 1-2 1 0 1 2 1 0 1-1 1 1 1-2 1 3 1 0 1-4 1 4 1-1 1 2 1-1 1-1 1 1 1-1 1-1 1 2 1-1 1-1 1 1 1 2 1-3 1 4 1-4 1 4 1-1 1 0 1-2 1 3 1-2 1-4 1 3 1-1 1 5 1-5 1 2 1-1 1 3 1-2 1-2 1-1 1 2 1 1 1-1 1 0 1-10 1 6 1 2 1-1 1 2 1-9 1 4 1 4 1-5 1 8 1-5 1 4 1-8 1 4 1 1 1 4 1-8 1 0 1 5 1 0 1-1 1-3 1 5 1-4 1 6 1-7 1 7 1-2 1-4 1 8 1-9 1 6 1-3 1-2 1-4 1 3 1 3 1 0 1 1 1-3 1 3 1 0 1-3 1 6 1-8 1 7 1 0 1 0 1-8 1 5 1 1 1-3 1 3 1-5 1 9 1-4 1-1 1-1 1 0 1 1 1-1 1 3 1-6 1 3 1 1 1-1 1 4 1-5 1 1 1 1 1 2 1 0 1-7 1 9 1-7 1 2 1-4 1 7 1-2 1 1 1-5 1 4 1-1 1 2 1-1 1-1 1 4 1-6 1 3 1-6 1 5 1-4 1 7 1 0 1-2 1 0 1 1 1 4 1-9 1 4 1-2 1 3 1-1 1 4 1-3 1-4 1-1 1 5 1 0 1 2 1-4 1 2 1-1 1 1 1 1 1-2 1-1 1 4 1-3 1 0 1 4 1-4 1 2 1-5 1 1 1 2 1-3 1-2 1 3 1 1 1 0 1 4 1-10 1 7 1 2 1-1 1-3 1-1 1 5 1-6 1 4 1 3 1-3 1 1 1-3 1 6 1-4 1-1 1 0 1-1 1 3 1-2 1 2 1-7 1 6 1-3 1 1 1 3 1-3 1 2 1 2 1 0 1-2 1 2 1 1 1-8 1 6 1-5 1 5 1 4 1-4 1 1 1-2 1-7 1 4 1 3 1-5 1 6 1 0 1 1 1-3 1 1 1-4 1 4 1-3 1 2 1 3 1 0 1 0 1-6 1 4 1 1 1 4 1-8 1 5 1-2 1 0 1 1 1 0 1 0 1 3 1-3 1 2 1-2 1 2 1-4 1-1 1-1 1 3 1 1 1-8 1 7 1 0 1 4 1 0 1-5 1-1 1 4 1 3 1-4 1 1 1 0 1-1 1-2 1-1 1 8 1-10 1 7 1 4 1-11 1 3 1-4 1 4 1 1 1 1 1-3 1 5 1-2 1 0 1-4 1-1 1 6 1-2 1 5 1-10 1 8 1-4 1 1 1 1 1 3 1-9 1 3 1-3 1 3 1-4 1 9 1-1 1-3 1-1 1 1 1-1 1 3 1 2 1-4 1 7 1-5 1-3 1 5 1-5 1 9 1-5 1-2 1 1 1-4 1 8 1-7 1-1 1 4 1-1 1 0 1-5 1 3 1 5 1 2 1 2 1-4 1-5 1 0 1-1 1 4 1 1 1-4 1 0 1 4 1-2 1-1 1 0 1 2 1 0 1-6 1 9 1-2 1 0 1-3 1 3 1-1 1-6 1 3 1-2 1 2 1 8 1-8 1 2 1 2 1-7 1 2 1 0 1 3 1 2 1-1 1-4 1-3 1 2 1 7 1-9 1 3 1 1 1 4 1 0 1-4 1 7 1-11 1 9 1-4 1-2 1 3 1 6 1-5 1 0 1-1 1-1 1-1 1 5 1-3 1 3 1-2 1 1 1-4 1 3 1 1 1-2 1 4 1-5 1 1 1 0 1-2 1-2 1 4 1 3 1 0 1-6 1 3 1 0 1-2 1 1 1 4 1-4 1-2 1 7 1-6 1 4 1-1 1-2 1-1 1 5 1-5 1-2 1 4 1 2 1-2 1-1 1-1 1 0 1 3 1 1 1-3 1 2 1-3 1 2 1-2 1-1 1 7 1-5 1 2 1-2 1 1 1 0 1-3 1-2 1 10 1-5 1 0 1 4 1-3 1 0 1-2 1 2 1 1 1-7 1 4 1 4 1-3 1 1 1-7 1 7 1-4 1 4 1-3 1 3 1 2 1-3 1-6 1 3 1 4 1-5 1 8 1-2 1-2 1 2 1 4 1-8 1 1 1 2 1 1 1-6 1 3 1-3 1 6 1-4 1 2 1-2 1 6 1-6 1 3 1-1 1 7 1-3 1-6 1 7 1-8 1 5 1-4 1 1 1-1 1 7 1-5 1 0 1-2 1 4 1-2 1-2 1 4 1-5 1 3 1 1 1-5 1-1 1 7 1 2 1-4 1 2 1-2 1-3 1 3 1 1 1-7 1 6 1-5 1 4 1 3 1-4 1 1 1-5 1 4 1 1 1 0 1 0 1 4 1-6 1 3 1-1 1 0 1-1 1 4 1 2 1-8 1 9 1-1 1 1 1-4 1-2 1 0 1 0 1 1 1 1 1-3 1 4 1 0 1 1 1-2 1-2 1 2 1 0 1 1 1-4 1 5 1-2 1 5 1-7 1 0 1 2 1 0 1-3 1-2 1-2 1 6 1-1 1 0 1 0 1 3 1-1 1 3 1-9 1 4 1 2 1-3 1 3 1-1 1 0 1-1 1-2 1 2 1 5 1-11 1 11 1-2 1-2 1-3 1 3 1-1 1-6 1 8 1-3 1 3 1-7 1 7 1 5 1-9 1 2 1 0 1 0 1 4 1-2 1-1 1 3 1-2 1-4 1 5 1-2 1-5 1 4 1 5 1 0 1-3 1-3 1 3 1-3 1 0 1-4 1 2 1 1 1 4 1-1 1 1 1-6 1 8 1 0 1 2 1-6 1-3 1 1 1 3 1-1 1 2 1 1 1 3 1-6 1 8 1-7 1 1 1-3 1 0 1-1 1 2 1 2 1 0 1-5 1 0 1 6 1-3 1 1 1-4 1 6 1 1 1-4 1 1 1-1 1-2 1 6 1-7 1 1 1 2 1 4 1-4 1-1 1 2 1-4 1 7 1-3 1 1 1-2 1-4 1 2 1 2 1-1 1-2 1-1 1 8 1-3 1-4 1 3 1 0 1-3 1 2 1 1 1-3 1 7 1-7 1 2 1 4 1-4 1 3 1 2 1-3 1 0 1-3 1 5 1-3 1 2 1-4 1 2 1-2 1 4 1-2 1 7 1-1 1-1 1 0 1 2 1-3 1 0 1 0 1 2 1-2 1 0 1 2 1 0 1-4 1 3 1-3 1 2 1 2 1-2 1 2 1 0 1 1 1-3 1 0 1 2 1 0 1-1 1-3 1 3 1-2 1 2 1 2 1-2 1 0 1-2 1 2 1 0 1-1 1 2 1 0 1 0 1-1 1-2 1 1 1 1 1 0 1-2 1-1 1 2 1 0 1 1 1 0 1 0 1 0 1-3 1 3 1-1 1 3 1-3 1 0 1 0 1 0 1 3 1-2 1 3 1-3 1 1 1-3 1 2 1 1 1-1 1-1 1 2 1-2 1 1 1-2 1 2 1-2 1 2 1 0 1 0 1 2 1-2 1 0 1 0 1 1 1 0 1-3 1 3 1 0 1-2 1 1 1 0 1 1 1-1 1 0 1 0 1-1 1 2 1-2 1 1 1-1 1 1 1 3 1-2 1-1 1 0 1-1 1-1 1-1 1 2 1-1 1 2 1-2 1 0 1 2 1-2 1 2 1 1 1 0 1-4 1 3 1 0 1 1 1-2 1 1 1 0 1-2 1 3 1 0 1-1 1 1 1 2 1-3 1-1 1 1 1 1 1-1 1-1 1 2 1-3 1 2 1 0 1 0 1-1 1 1 1-2 1 3 1 1 1-1 1-4 1 2 1 0 1 0 1 2 1 1 1-4 1 1 1 1 1 0 1-2 1 1 1 1 1-1 1 1 1 0 1 1 1 1 1-4 1 3 1-4 1 1 1-1 1 4 1-2 1 0 1-1 1 0 1 3 1-1 1 1 1-4 1 3 1 1 1-1 1-1 1 0 1 2 1-1 1-2 1 1 1 2 1 1 1-3 1-1 1 3 1-3 1 0 1 0 1 1 1 0 1 1 1-3 1 4 1-1 1-1 1 1 1 0 1 1 1-3 1 4 1 0 1-4 1 5 1-5 1 2 1 0 1 3 1-3 1 2 1-1 1-1 1 1 1-1 1-1 1 1 1 0 1 0 1 2 1-4 1 2 1 0 1-1 1 2 1 0 1 0 1-1 1 1 1 0 1-1 1-1 1-2" stroke="#4b66b4" stroke-width="0.9" marker-start="url(#m5)" marker-mid="url(#m5)" marker-end="url(#m5)"/><path class="s" transform="translate(60.3 0) scale(0.25 1.0)" vector-effect="non-scaling-stroke" d="M0 188l1-2 1-7 1 0 1-2 1 9 1-20 1 16 1 7 1-5 1-6 1 12 1-8 1 7 1-6 1 1 1-6 1-4 1 4 1-10 1 1 1 11 1 0 1 1 1-8 1 0 1 7 1 1 1-6 1 1 1 0 1 6 1-6 1 15 1-11 1 0 1-1 1 2 1-1 1 7 1-2 1 4 1 5 1-20 1 6 1-9 1 10 1-13 1 12 1 11 1-25 1 9 1 3 1 3 1-6 1-14 1 40 1-29 1 16 1 5 1-3 1-10 1-11 1 12 1 2 1 7 1-9 1-11 1 5 1 8" stroke="#b0b0b0" stroke-width="1.8" marker-start="url(#m6)" marker-mid="url(#m6)" marker-end="url(#m6)"/><path class="s" transform="translate(60.3 0) scale(0.25 1.0)" vector-effect="non-scaling-stroke" d="M70 183l1 1 1 3 1-5 1 0 1-3 1 7 1-1 1 2 1-6 1-5 1 20 1-10 1 1 1 0 1-5 1 1 1-1 1 6 1-3 1-2 1 6 1-1 1 2 1 0 1 3 1-9 1 1 1-6 1 9 1-1 1-1 1 6 1-5 1-4 1 7 1-12 1 4 1-5 1 21 1-11 1 4 1-10 1 5 1 0 1 3 1 3 1-10 1 4 1-3 1 10 1-5 1 3 1-12 1 5 1 4 1 7 1-9 1-4 1 6 1 3 1-5 1-1 1 2 1 7 1-16 1 11 1-9 1 4 1-3 1 5 1-5 1 9 1-1 1-2 1 0 1-4 1 2 1 2 1-5 1 3 1 1 1 8 1-8 1-6 1 3 1 12 1-13 1 5 1 0 1 2 1 6 1-5 1 1 1 4 1-6 1-5 1 8 1-4 1 3 1 2 1-10 1 8 1-4 1-4 1 3 1 0 1-4 1 6 1-5 1 1 1 1 1 4 1 3 1-3 1-2 1 6 1-7 1 0 1-7 1 13 1-3 1 1 1 1 1-6 1 4 1-3 1 4 1-2 1-6 1 6 1-1 1 0 1 0 1 4 1-3 1-7 1 8 1-1 1-2 1 1 1 7 1-8 1 3 1 0 1-1 1-3 1 7 1-5 1 7 1-8 1-4 1 3 1 4 1-4 1 5 1 2 1-13 1 4 1 8 1-13 1-4 1 21 1-7 1-2 1-4 1 7 1 0 1 1 1-6 1 7 1-3 1-7 1 7 1-5 1 0 1-2 1-2 1 9 1 5 1-5 1-5 1 14 1-15 1-2 1 9 1-1 1-10 1 5 1 2 1 9 1-5 1 6 1-18 1 5 1 6 1 0 1 0 1-3 1 2 1 1 1 0 1-7 1 7 1 4 1-5 1 2 1-11 1 2 1 8 1-1 1-2 1 3 1-4 1 7 1-15 1 9 1-1 1-4 1 7 1-5 1 7 1 7 1-10 1 3 1-6 1 2 1 3 1 2 1-1 1-1 1-7 1 3 1 6 1-8 1 4 1 5 1-3 1-1 1-5 1 5 1 4 1 1 1-2 1-3 1-1 1-2 1 6 1 6 1-13 1 6 1 1 1 0 1-3 1-4 1 2 1 3 1 3 1-9 1 4 1 7 1-4 1-2 1-10 1 12 1-1 1 0 1 2 1-4 1 5 1-7 1 8 1-10 1 4 1 8 1-5 1-4 1-1 1-1 1 4 1-8 1 10 1 2 1-5 1 8 1-13 1 6 1 0 1 5 1-8 1 7 1-7 1-2 1 3 1-2 1 4 1-1 1-2 1 0 1 4 1-4 1 1 1 5 1-6 1-3 1 10 1-8 1 8 1-10 1 15 1-13 1 13 1-9 1 6 1-5 1 0 1-4 1 11 1-15 1 12 1-2 1-9 1 5 1-2 1 3 1 3 1 2 1-2 1-7 1 0 1 8 1 0 1-5 1 3 1-9 1 8 1-10 1 10 1-10 1 5 1 1 1 0 1 3 1-7 1 5 1-1 1 0 1 4 1-5 1 0 1-4 1 3 1 6 1-2 1 2 1-5 1 5 1-6 1 4 1-3 1 7 1 1 1 4 1-12 1-2 1 6 1-1 1 7 1-4 1 9 1-23 1 17 1-8 1 7 1-7 1-1 1 4 1-1 1-1 1-8 1 9 1-6 1 6 1 0 1 2 1 5 1-12 1 8 1-4 1-1 1 5 1-7 1 2 1-13 1 19 1 0 1-1 1-4 1 11 1-9 1 2 1 3 1-10 1-1 1 1 1-3 1 15 1-15 1 21 1-9 1 1 1-6 1-4 1 9 1 3 1-15 1-3 1 14 1-3 1-3 1 4 1 0 1-2 1-3 1 6 1-10 1 9 1-3 1 5 1 4 1-10 1 11 1-8 1-1 1 5 1-12 1 8 1 1 1-3 1 0 1 4 1-3 1 3 1 0 1-5 1 2 1-4 1-1 1 0 1 12 1-1 1-9 1 3 1 5 1 5 1-14 1 4 1-2 1 8 1-5 1-9 1 2 1 5 1 1 1 0 1-3 1 1 1 1 1 9 1-8 1 1 1 3 1 0 1-4 1-6 1 1 1 2 1 4 1 1 1-6 1 4 1 2 1 8 1-10 1-4 1 7 1-4 1 9 1-9 1-2 1 9 1-1 1 0 1-5 1 7 1-7 1-1 1-1 1 6 1-12 1 7 1 2 1 0 1 11 1-17 1 4 1-4 1 9 1-9 1-5 1 4 1 6 1 3 1 0 1-8 1 7 1-2 1 0 1 2 1 7 1-9 1 5 1 0 1 1 1-5 1-4 1 1 1-3 1 9 1-11 1 2 1 7 1-7 1 10 1-3 1 1 1-5 1 3 1 2 1 0 1-6 1 8 1-3 1-4 1 6 1-10 1 6 1 1 1-13 1 15 1 0 1-2 1-7 1 3 1 2 1 9 1-14 1 7 1-3 1 8 1-3 1-8 1 2 1 2 1 1 1-1 1 0 1 0 1 7 1 2 1-21 1 9 1 1 1 4 1 1 1-8 1 5 1-1 1 5 1 1 1-5 1 6 1-11 1 2 1-1 1 13 1 4 1-14 1 3 1-3 1-5 1 13 1-12 1-2 1 10 1-1 1-4 1 4 1-4 1 1 1 0 1 1 1-3 1 3 1 1 1-3 1 4 1-4 1 4 1 6 1-6 1 2 1 2 1-1 1-9 1 12 1-4 1-8 1 3 1 1 1 2 1 0 1-5 1-6 1 12 1-6 1-1 1 11 1-7 1-6 1 12 1-9 1 3 1 7 1-11 1 4 1 8 1-5 1-5 1 12 1-10 1 4 1-6 1 5 1-4 1 6 1-6 1-2 1 4 1 3 1-8 1 8 1-5 1-6 1 6 1-6 1 8 1 4 1-6 1-1 1 5 1-6 1-3 1 7 1-1 1-9 1 16 1-5 1 1 1-6 1 7 1-2 1-2 1 1 1 5 1-13 1-1 1 11 1-1 1 0 1-10 1 12 1-5 1 2 1-3 1 7 1-1 1-2 1 2 1-6 1 1 1 10 1-8 1-2 1 5 1-10 1 4 1 7 1-7 1 4 1-7 1 5 1 1 1 3 1 1 1 2 1-6 1-7 1 5 1 4 1-7 1 10 1 0 1-6 1 3 1 0 1 2 1-9 1 7 1 3 1-6 1 0 1-4 1-2 1 10 1-6 1 0 1 2 1 0 1 10 1-6 1 0 1-4 1-1 1 5 1 2 1-5 1-3 1-2 1 5 1-1 1-1 1-2 1-2 1-3 1 9 1-5 1 2 1 2 1 1 1-2 1 2 1-4 1 6 1 6 1-7 1-3 1 1 1 0 1 2 1 0 1-3 1 3 1 6 1-3 1-4 1 2 1-2 1-2 1 7 1 1 1-2 1 2 1-6 1-5 1 5 1-3 1 4 1 0 1-5 1 2 1 1 1 1 1 3 1 7 1-7 1-3 1 5 1-9 1-3 1 6 1 2 1 2 1 1 1-5 1 0 1-1 1 4 1 0 1-3 1 10 1-5 1-9 1 3 1 10 1-7 1 1 1-6 1 7 1-2 1 7 1-8 1-7 1 9 1 0 1-12 1 4 1-4 1 11 1 0 1 2 1-9 1 9 1 5 1-4 1-1 1-10 1 4 1-3 1 12 1-6 1-5 1 1 1 6 1-1 1 1 1 8 1-16 1-2 1 12 1-5 1 2 1-3 1 7 1 0 1-8 1 5 1 6 1-10 1-2 1 9 1-9 1 4 1-4 1-1 1 2 1 1 1 2 1 8 1-11 1 1 1 2 1 5 1-11 1 8 1-1 1-7 1 0 1 8 1-7 1 4 1-6 1 2 1 6 1-8 1 15 1-7 1 5 1-3 1 3 1-14 1 8 1-1 1-2 1 3 1 2 1-4 1-3 1 7 1-6 1 0 1 3 1-2 1 3 1-8 1 4 1 1 1 0 1 0 1 1 1-3 1-2 1 7 1 2 1-4 1-2 1 1" stroke="#222" stroke-width="0.9" marker-start="url(#m2)" marker-mid="url(#m2)" marker-end="url(#m2)"/><path class="s" transform="translate(60.3 0) scale(0.25 1.0)" vector-effect="non-scaling-stroke" d="M0 187l1 5 1 6 1-9 1 2 1 1 1-4 1 5 1-7 1 3 1 4 1 0 1-3 1 4 1-6 1-4 1 19 1-13 1-5 1 7 1 10 1-11 1 3 1 1 1 0 1-10 1 2 1 7 1-1 1-6 1 9 1-8 1 5 1-6 1 0 1 8 1-2 1 2 1-12 1-1 1 8 1 3 1-5 1 2 1 4 1 4 1-10 1 8 1-3 1 5 1-5 1 1 1-8 1 12 1-10 1 0 1 6 1-5 1 1 1 6 1-15 1 14 1-3 1 1 1 2 1-1 1-4 1-2 1 4 1 7 1-12 1 2 1-14 1-3 1 11 1-3 1-1 1 3 1-1 1 6 1-5 1-5 1 0 1 13 1-11 1-5 1 9 1-4 1 5 1-6 1 5 1-3 1-6 1 10 1-11 1 11 1-11 1 10 1 1 1 6 1-14 1 6 1 1 1-1 1-3 1 8 1 1 1-12 1 4 1 8 1-8 1-6 1 13 1-9 1 0 1 14 1-2 1-3 1-3 1-5 1 4 1-5 1 8 1-8 1-6 1 15 1-6 1 11 1 0 1-9 1 1 1 2 1 5 1-10 1-3 1 7 1 0 1-2 1-10 1 9 1 1 1-6 1-5 1 17 1-9 1 5 1-6 1 7 1-10 1 4 1 4 1 8 1-10 1-3 1 9 1 1 1-3 1-17 1 14 1-5 1 3 1 4 1-2 1-2 1-3 1-1 1 4 1 6 1-7 1 5 1 1 1-8 1 4 1-2 1-4 1 10 1 1 1-8 1 4 1-3 1-2 1 0 1 3 1 6 1-4 1-7 1 5 1 12 1-8 1-2 1 7 1-13 1 10 1-4 1-4 1 1 1 1 1 9 1-3 1-8 1-4 1 3 1 6 1-3 1 3 1 5 1-9 1-1 1-4 1 5 1 4 1-1 1-6 1 3 1 11 1-8 1-4 1-2 1 6 1-3 1-2 1-6 1 11 1-3 1 3 1 1 1 1 1 4 1-3 1-3 1 0 1-3 1 1 1-2 1 7 1-5 1-3 1 6 1-1 1 5 1-11 1 12 1-9 1 11 1-15 1 4 1-2 1 11 1-2 1-8 1-3 1 5 1-3 1 13 1-4 1-10 1 8 1-8 1-3 1 17 1-3 1-9 1 2 1 5 1-8 1 7 1 9 1-6 1 7 1-6 1-5 1-2 1 4 1-8 1 5 1 1 1 2 1-7 1 5 1 2 1-4 1-2 1 0 1 1 1 4 1-10 1 10 1-2 1 4 1-4 1 0 1-1 1-11 1 8 1 3 1 1 1-9 1-2 1 4 1 16 1-14 1 2 1-7 1 0 1 15 1-7 1 0 1 4 1-5 1-1 1 7 1-3 1-3 1 7 1-18 1 12 1-6 1-1 1 5 1 7 1-6 1 3 1-1 1 9 1-12 1-4 1 7 1-4 1 2 1-6 1 3 1 4 1 9 1-15 1 13 1-4 1 4 1-8 1 3 1 4 1-6 1-5 1 3 1 0 1 4 1-1 1 3 1-3 1-6 1 0 1-3 1 14 1-7 1 4 1-10 1 7 1 2 1 2 1-4 1 0 1 9 1-3 1-2 1-7 1 9 1-12 1 5 1-5 1 2 1 5 1-8 1 6 1-3 1 6 1-3 1-3 1 7 1 9 1-11 1-1 1-1 1-5 1 8 1 3 1 2 1-14 1 3 1 14 1-15 1-5 1 11 1-10 1 5 1 13 1-21 1 18 1 0 1-14 1-1 1 7 1 4 1 9 1-18 1-1 1 9 1-10 1 11 1-7 1 6 1 3 1-1 1 0 1 5 1 1 1-11 1 12 1-5 1-7 1 9 1-7 1 10 1-19 1 12 1-3 1 3 1 1 1 4 1-7 1 3 1-5 1 5 1-6 1-5 1-2 1 3 1 5 1-6 1 15 1-16 1 8 1-3 1 5 1 0 1 1 1 11 1-23 1 10 1 2 1-6 1 4 1 0 1 0 1 6 1-9 1 4 1 3 1-7 1-4 1 2 1 0 1-6 1 17 1-8 1-1 1-5 1 13 1 1 1-7 1-6 1 8 1 3 1-1 1-1 1 0 1-4 1-4 1 13 1-1 1-1 1-4 1-1 1-6 1 11 1-5 1 8 1-4 1-5 1 6 1-14 1 11 1 4 1-9 1-3 1-1 1 7 1-2 1 6 1-13 1 7 1 7 1 0 1-16 1 15 1-4 1-4 1 3 1-2 1 5 1 1 1-2 1 5 1-8 1 1 1-3 1 4 1-4 1 4 1-5 1 9 1 0 1-1 1-7 1 2 1 4 1-3 1 8 1-6 1 0 1 6 1-4 1 1 1 2 1-7 1 1 1 6 1-9 1 7 1-6 1 5 1 4 1-4 1-2 1 3 1-19 1 9 1 1 1 3 1-10 1 11 1-7 1 11 1-7 1 10 1-4 1 4 1-9 1-5 1 4 1 3 1 0 1 3 1-4 1 4 1-1 1-7 1-1 1 16 1-3 1-14 1 6 1 3 1-3 1 0 1 2 1-10 1 10 1 0 1 1 1-3 1 2 1 5 1-11 1 11 1-10 1 1 1-4 1 4 1 0 1 8 1-1 1-5 1 2 1-4 1-1 1 9 1-3 1 2 1 0 1-3 1-2 1 3 1 1 1-4 1 3 1 0 1-10 1 12 1-5 1-5 1 7 1 2 1-5 1 3 1 2 1 0 1 1 1 1 1-5 1 6 1-3 1-11 1 8 1 10 1-5 1-3 1 1 1 2 1-7 1 0 1 5 1 3 1-8 1 5 1-4 1 5 1-8 1 0 1 11 1-15 1-2 1 14 1-1 1-2 1 1 1 1 1-6 1 10 1-7 1-7 1 9 1-3 1 5 1-2 1-4 1 2 1 2 1 3 1 0 1-3 1-1 1-1 1 4 1 3 1 2 1-5 1-2 1-3 1-5 1 8 1-10 1 13 1 2 1-7 1 4 1-1 1-6 1 13 1-18 1 14 1-6 1 7 1 0 1 1 1-2 1-9 1 5 1 2 1 3 1-3 1 0 1 8 1-11 1-10 1 6 1 0 1 5 1-3 1 7 1-4 1 4 1-5 1-8 1 5 1-2 1 6 1-4 1 6 1-4 1 10 1-4 1-8 1 9 1-13 1 3 1 16 1-8 1-5 1-3 1 11 1-7 1-7 1 10 1-1 1-3 1 7 1-6 1 13 1-20 1 1 1 7 1-5 1 7 1-14 1 6 1 14 1-11 1-4 1 0 1 8 1-4 1 4 1 0 1-4 1 3 1 3 1-7 1-1 1 9 1-8 1 11 1-3 1-3 1 2 1 4 1-3 1 2 1-5 1 5 1-10 1 11 1-5 1 5 1-8 1 0 1 7 1-6 1-3 1 2 1 5 1-5 1 7 1-5 1 2 1-1 1 1 1 2 1-6 1 8 1 0 1 0 1 3 1-7 1 5 1-7 1-4 1 7 1-3 1-4 1 6 1 1 1-2 1-6 1 12 1-6 1-3 1 2 1 0 1 2 1 6 1 0 1 0 1-13 1 7 1 1 1 1 1-9 1-4 1 15 1-3 1-2 1 1 1-2 1-4 1-1 1 9 1-12 1 9 1-3 1-10 1 12 1-2 1 2 1-1 1 3 1-1 1-1 1-2 1 0 1 2 1-1 1 6 1-1 1 3 1-8 1-3 1 1 1 8 1-9 1 12 1-14 1 10 1 0 1 4 1-12 1 0 1 9 1-7 1 3 1 8 1-10 1-8 1 10 1 1 1-3 1 1 1-1 1 1 1 5 1-18 1 10 1 4 1-4 1 1 1 6 1-7 1 0 1 1 1 4 1 0 1-8 1 0 1 5 1-12 1 7 1 10 1-7 1-2 1 14 1-16 1-3 1 9 1 4 1-7 1 14 1-10 1-2 1 1 1-1 1-4 1 7 1-6 1 3 1 1 1-9 1 14 1-17 1 12 1-1 1-3 1 9 1-3 1-9 1 5 1 13 1-14 1 5 1-2 1 2 1 2 1 5 1-12 1 6 1 8 1-14 1-1 1 8 1-8 1 8 1-8 1 8 1-9 1 9 1-6 1 10 1-14 1 4 1 8 1-3 1-3 1 1 1-5 1 5 1-3 1 1 1 4 1-3 1 1 1-5 1 7 1-3 1-6 1-1 1 10 1 0 1-12 1 18 1-5 1-4 1-1 1 7 1-3 1-4 1 6 1 2 1-4 1-6 1 7 1-2 1-1 1 3 1-7 1 15 1-11 1 2 1-4 1-3 1 10 1-10 1 13 1-11 1 2 1-5 1 9 1 3 1-10 1 4 1 5" stroke="#555555" stroke-width="0.9" marker-start="url(#m2)" marker-mid="url(#m2)" marker-end="url(#m2)"/><path class="s" transform="translate(60.3 0) scale(0.25 1.0)" vector-effect="non-scaling-stroke" d="M0 96l1 11 1 13 1-14 1 8 1-5 1 6 1-1 1-4 1-6 1 10 1-9 1 9 1-6 1-5 1 7 1-4 1 9 1-4 1-8 1 11 1-3 1-8 1 17 1-15 1-1 1 2 1 45 1-44 1 1 1-6 1 11 1-2 1 0 1 3 1-6 1 1 1 1 1 7 1-6 1 9 1-9 1-6 1 2 1 7 1-10 1 4 1-2 1 37 1-36 1-3 1-1 1 7 1 1 1 5 1-16 1 8 1 7 1-5 1-6 1-1 1 4 1 41 1-47 1 16 1-9 1 6 1-3 1 3 1-5 1-6 1 6 1-8 1 0 1 14 1-16 1-2 1-7 1 3 1 12 1-5 1 8 1 4 1-11 1-5 1 23 1-16 1 3 1-8 1 3 1-6 1 9 1 1 1-20 1 19 1 8 1-6 1 10 1 29 1-39 1-1 1 1 1 37 1-41 1-11 1 15 1-7 1-5 1 38 1-28 1 5 1 4 1 14 1-18 1-10 1 28 1-29 1-6 1 8 1 10 1-10 1 8 1-12 1 11 1-13 1 22 1-10 1 41 1-44 1-2 1-6 1 14 1-2 1-17 1 0 1 14 1 37 1-52 1 4 1-4 1 20 1-14 1 10 1 3 1-9 1-10 1 24 1-10 1 46 1-37 1-13 1-7 1 5 1 1 1-2 1 14 1-10 1 4 1-1 1-6 1-5 1 36 1-3 1-25 1-7 1 13 1 0 1-3 1 1 1 1 1 1 1-8 1 14 1-12 1 7 1 40 1-12 1-29 1-3 1-6 1-5 1 51 1-40 1-6 1-7 1 4 1 17 1-10 1 7 1-3 1-4 1-3 1 33 1-32 1 2 1 20 1-28 1 21 1 4 1-12 1-1 1-20 1 17 1 5 1 0 1 6 1-9 1 3 1 4 1-4 1 3 1-8 1 10 1-8 1-9 1 17 1 12 1-14 1-10 1-14 1 13 1 6 1-4 1-6 1 17 1-15 1 15 1-3 1-15 1 5 1 3 1 41 1-39 1-11 1 17 1-19 1 9 1 12 1 2 1-12 1 5 1-11 1-6 1 15 1 7 1-12 1-5 1 1 1 14 1-21 1 15 1-1 1-8 1 16 1-7 1-7 1 16 1-18 1 6 1 2 1 0 1-19 1 16 1 20 1-24 1 10 1-2 1 2 1 1 1 0 1-4 1 5 1-10 1 8 1 3 1 43 1-53 1 3 1 6 1 5 1-9 1 5 1-3 1 5 1-2 1 1 1 37 1-31 1-3 1-5 1-4 1 1 1-8 1 7 1 18 1-15 1-3 1 1 1 0 1-1 1-8 1 10 1-9 1 16 1-1 1-16 1 24 1 2 1-13 1-6 1 7 1 20 1-26 1 29 1-33 1 46 1-35 1-3 1-7 1 11 1-7 1-7 1-1 1 15 1-13 1-9 1 40 1-32 1 5 1 7 1 12 1-14 1 11 1 11 1-24 1 4 1 5 1-23 1 12 1-14 1 10 1 8 1-4 1-11 1 9 1 5 1-2 1-3 1-9 1 22 1-1 1-15 1 2 1 15 1-6 1 0 1 1 1-13 1 3 1 3 1 6 1-18 1-3 1 15 1 3 1 0 1-5 1 5 1 3 1 1 1-8 1 2 1 9 1-25 1 20 1 4 1-8 1-1 1 12 1 21 1-35 1 5 1-8 1 9 1-14 1 11 1 2 1 1 1 3 1 0 1-15 1 12 1-12 1 12 1-10 1 5 1 4 1 44 1-48 1 3 1 4 1 4 1-14 1 10 1-14 1 7 1 0 1-3 1 3 1 2 1-2 1 2 1-4 1 5 1-5 1-1 1 15 1-4 1 22 1-32 1-12 1 21 1 9 1-15 1-8 1 3 1 6 1-3 1 1 1 5 1 1 1-2 1-4 1-9 1 2 1 22 1-12 1-15 1 6 1 16 1-9 1-1 1 5 1-1 1-1 1 0 1-15 1 8 1 23 1-21 1-7 1 13 1 0 1-6 1 10 1-2 1-6 1-1 1 3 1-6 1 7 1-1 1 4 1-2 1-10 1 3 1 9 1-7 1-5 1 18 1-12 1-6 1 6 1-11 1 18 1-12 1-3 1 19 1-13 1 14 1-12 1-3 1-1 1 4 1 5 1 2 1-3 1 6 1-1 1-6 1-6 1 0 1-10 1 15 1-2 1-2 1-2 1 5 1 3 1 1 1-18 1 14 1 4 1 40 1-56 1 15 1 26 1-16 1-23 1 11 1 2 1 4 1-7 1-13 1 3 1 4 1 5 1-4 1 11 1-12 1 30 1 3 1-28 1-7 1 7 1 8 1-3 1-16 1 17 1-8 1 3 1-10 1 15 1-10 1 11 1-9 1 12 1 3 1-7 1-1 1-2 1-5 1-7 1 5 1 6 1 4 1-7 1 29 1-37 1 14 1-1 1 19 1-15 1 0 1-14 1 14 1-12 1-5 1 8 1 11 1-7 1 21 1-28 1 5 1 2 1 1 1-4 1 7 1-4 1-9 1 9 1-12 1 40 1-33 1 17 1 32 1-32 1-12 1-10 1 8 1 6 1-1 1-9 1 7 1 21 1 13 1 1 1-46 1 3 1-5 1 22 1-9 1-2 1 4 1 18 1-17 1 6 1 0 1 2 1-6 1 1 1 16 1-31 1 5 1-3 1 2 1-6 1 16 1-9 1 19 1-23 1 15 1 11 1-21 1 10 1-11 1-1 1 12 1 25 1-39 1 2 1 3 1-16 1 21 1-12 1 9 1-13 1-6 1 24 1-12 1 10 1 9 1-20 1 18 1-6 1 32 1-58 1 26 1 7 1-13 1-13 1 9 1 11 1-16 1 11 1 3 1-6 1-1 1 6 1 12 1-11 1-7 1 16 1-16 1 3 1 5 1-9 1 3 1-5 1-6 1 25 1-8 1 5 1-11 1 1 1-14 1 19 1-20 1 7 1 9 1-10 1 11 1-2 1-4 1-1 1-1 1 27 1-33 1 13 1-9 1 16 1-16 1-3 1 19 1-18 1 46 1-37 1 31 1-32 1-11 1 17 1-7 1 9 1-2 1-3 1-5 1-6 1 48 1-34 1-18 1 4 1 15 1-8 1 9 1-9 1 7 1-11 1 4 1 32 1-32 1-3 1-4 1 4 1 3 1-1 1 8 1 5 1-5 1 3 1-18 1 2 1 1 1 13 1-9 1 6 1-13 1 14 1-5 1 19 1-31 1 19 1-14 1 4 1-1 1 5 1 13 1 30 1-11 1-18 1 7 1 0 1 12 1-21 1 20 1-4 1-5 1 5 1-3 1 3 1 5 1-13 1 2 1-6 1 1 1-16 1 12 1 7 1-12 1 19 1-9 1 1 1 9 1-7 1 6 1-18 1 23 1-12 1 14 1-11 1-1 1 2 1 11 1-25 1 5 1 9 1-11 1 0 1 19 1 2 1 15 1-29 1-7 1 1 1 1 1 2 1 0 1 4 1 19 1-35 1 32 1-23 1 12 1 25 1-20 1-14 1-1 1 25 1-37 1 16 1 8 1-2 1 1 1-16 1 9 1-2 1-3 1 1 1 0 1 10 1-16 1 13 1-10 1 9 1 11 1-9 1-10 1 25 1-2 1-4 1-16 1 9 1 17 1-25 1-11 1 44 1-39 1 36 1-23 1 1 1-14 1 16 1-5 1-3 1 16 1 1 1-8 1-12 1-1 1 0 1-7 1 14 1 3 1-16 1 24 1-11 1-13 1 8 1 5 1 2 1 0 1-15 1 1 1 42 1-40 1 4 1 15 1-27 1 0 1 14 1 0 1-6 1 11 1 8 1-3 1-5 1 2 1 25 1-37 1 38 1-7 1-19 1-18 1 18 1-12 1 19 1-9 1 2 1 18 1-5 1-20 1-7 1 27 1-10 1 17 1-2 1-4 1-18 1-4 1-4 1 2 1 6 1 4 1-7 1-13 1 29 1-5 1 2 1 0 1 3 1-19 1 1 1 10 1-8 1-1 1-20 1 21 1-4 1-5 1 23 1-16 1-3 1 15 1-4 1-2 1 2 1-3 1-16 1 22 1-15 1-15 1 25 1-7 1 3 1 8 1-1 1-9 1 10 1-9 1-4 1 1 1 3 1-14 1 33 1-12 1 7 1 9 1-26 1 13 1-19 1 10 1-3 1 2 1 4 1-5 1-5 1 18 1-1 1-5 1-2 1 2 1 11 1-4 1-9 1-4 1 10 1-15 1 19 1-11 1 8 1-14 1 8 1-14 1 8 1-3 1 9 1-3 1-8 1 10 1 0 1 2 1-4 1 28 1-14 1-16 1 6 1-7 1 1" stroke="#ee6a28" stroke-width="1.0" marker-start="url(#m7)" marker-mid="url(#m7)" marker-end="url(#m7)"/></g><path d="M60.05 51.3V226.8" stroke="#c4c4c4" stroke-width="1" fill="none"/><text class="tk" x="55.8" y="230.4">0</text><text class="tk" x="55.8" y="186.5">5</text><text class="tk" x="55.8" y="142.7">10</text><text class="tk" x="55.8" y="98.8">15</text><text class="tk" x="55.8" y="54.9">20</text><path d="M59.5 226.8h6M59.5 182.9h6M59.5 139.1h6M59.5 95.2h6M59.5 51.3h6" stroke="#8a8a8a" stroke-width="1" fill="none"/><text class="yl" transform="translate(23.7 131.4) rotate(-90)" textLength="100.7" lengthAdjust="spacingAndGlyphs">FSF domains (%)</text><path d="M324.4 42.5H355.3" stroke="#f39060" stroke-width="1.0"/><circle cx="339.9" cy="42.4" r="1.15" fill="#8a3410"/><text class="lt" x="359.2" y="46.9" textLength="72.6" lengthAdjust="spacingAndGlyphs">Other enzymes</text><path d="M324.4 69.5H355.3" stroke="#6a80c8" stroke-width="1.0"/><circle cx="339.9" cy="69.1" r="1.15" fill="#13205e"/><text class="lt" x="359.2" y="73.6" textLength="58.5" lengthAdjust="spacingAndGlyphs">Transferases</text><path d="M324.4 95.5H355.3" stroke="#5a5a5a" stroke-width="1.0"/><circle cx="339.9" cy="95.6" r="1.15" fill="#000000"/><text class="lt" x="359.2" y="100.1" textLength="29.8" lengthAdjust="spacingAndGlyphs">Redox</text><path d="M324.4 121.5H355.3" stroke="#4cb87a" stroke-width="1.0"/><circle cx="339.9" cy="121.9" r="1.15" fill="#0a4a22"/><text class="lt" x="359.2" y="126.4" textLength="110.4" lengthAdjust="spacingAndGlyphs">Secondary metabolism</text><path d="M324.4 148.5H355.3" stroke="#ee5a64" stroke-width="1.0"/><circle cx="339.9" cy="148.4" r="1.15" fill="#b0101e"/><text class="lt" x="359.2" y="152.9" textLength="37.7" lengthAdjust="spacingAndGlyphs">Storage</text><path d="M324.4 174H355.3" stroke="#f8eaa6" stroke-width="2.6"/><circle cx="339.9" cy="174.2" r="1.15" fill="#bba400"/><text class="lt" x="359.2" y="178.7" textLength="45.9" lengthAdjust="spacingAndGlyphs">E-transfer</text><path d="M324.4 200H355.3" stroke="#dcc8e4" stroke-width="2.6"/><circle cx="339.9" cy="200.5" r="1.15" fill="#3d1250"/><text class="lt" x="359.2" y="205" textLength="72.8" lengthAdjust="spacingAndGlyphs">Photosynthesis</text><path d="M324.4 227H355.3" stroke="#c8c8c8" stroke-width="2.6"/><circle cx="339.9" cy="227" r="1.15" fill="#1a1a1a"/><text class="lt" x="359.2" y="231.5" textLength="33.4" lengthAdjust="spacingAndGlyphs">Energy</text></g>
<g><text class="ti" x="57.6" y="256.1" textLength="73.2" lengthAdjust="spacingAndGlyphs">Information</text><path d="M56.6 280.6V264.0H301.6V280.6M75.0 264.0V280.6M241.25 264.0V280.6" fill="none" stroke="#6e6e6e" stroke-width="1.15"/><text class="br" x="65.8" y="275.5">A</text><text class="br" x="170.1" y="275.5">B</text><text class="br" x="271.4" y="275.5">E</text><g class="d"><path class="s" transform="translate(56.9 0) scale(0.25 1.0)" vector-effect="non-scaling-stroke" d="M0 456l1 1 1 1 1-4 1 2 1 2 1 1 1-3 1-2 1 4 1 0 1 1 1-3 1 1 1 0 1 2 1-1 1-1 1 0 1 1 1-1 1 1 1-2 1 1 1 1 1-1 1-3 1 1 1 3 1-2 1 2 1-2 1 0 1 1 1-1 1 1 1-1 1 1 1-1 1 2 1-1 1-2 1 3 1-1 1-2 1 0 1 1 1 0 1-1 1 5 1-4 1 0 1 0 1 0 1-1 1 2 1-1 1 1 1-1 1 1 1 0 1-3 1 1 1 0 1 1 1 1 1-2 1-1 1 4 1 1 1-1 1-2 1 4 1-2 1-2 1 2 1-1 1 0 1-1 1 2 1 1 1-2 1 3 1-2 1 0 1-2 1 0 1 2 1-2 1 0 1 3 1-1 1-1 1 0 1 2 1-2 1 1 1 0 1-1 1 1 1 0 1-1 1 1 1-1 1 1 1-1 1 1 1-2 1 0 1 3 1 0 1-1 1-1 1 0 1 1 1 0 1-1 1 1 1 0 1 0 1 0 1-1 1-1 1 1 1 2 1 0 1-1 1 1 1-2 1 2 1-1 1 0 1 0 1 0 1-1 1-1 1 2 1 0 1-2 1 2 1-1 1 0 1 0 1 1 1-2 1 2 1 0 1 0 1 0 1-1 1 0 1 1 1 2 1-2 1-3 1 3 1-1 1 1 1 1 1-2 1 0 1 0 1 0 1 1 1-2 1 3 1 1 1-3 1 2 1-3 1 1 1 2 1-2 1 2 1-1 1 1 1-3 1 2 1-2 1 2 1-1 1 1 1-1 1 0 1 1 1-1 1 2 1 0 1-3 1 2 1 1 1 0 1-2 1 1 1 1 1-2 1-2 1 3 1-1 1 1 1-1 1 1 1 0 1-2 1 3 1-2 1 2 1-2 1 0 1 1 1-1 1 1 1 0 1-2 1 2 1 0 1-1 1 0 1 0 1-1 1 2 1 0 1-1 1 1 1-1 1-2 1 3 1 0 1 0 1-1 1 2 1-1 1-1 1 1 1 0 1-1 1-1 1 4 1-1 1-3 1 1 1 1 1-1 1 1 1-1 1 0 1 1 1 0 1 0 1 0 1-2 1 2 1 1 1-3 1 2 1 0 1-1 1 2 1 0 1-2 1 1 1-2 1 1 1 1 1 0 1 0 1 0 1 0 1 1 1-3 1 1 1 2 1-1 1-1 1 1 1 1 1-1 1 0 1 1 1-1 1 0 1 2 1-1 1-3 1 1 1 2 1-3 1 1 1 1 1-1 1 1 1 0 1 0 1-1 1 0 1 1 1 0 1 0 1 0 1 0 1 0 1-1 1 1 1-1 1 2 1-2 1 1 1 2 1-3 1 1 1-2 1 0 1 5 1-1 1-2 1 2 1-3 1 0 1 2 1-2 1 2 1-1 1-1 1-1 1 2 1-2 1 3 1-3 1 2 1-1 1 1 1-1 1 0 1 0 1 2 1-1 1 1 1-1 1 0 1 1 1 0 1 0 1 0 1-1 1 0 1-1 1 1 1 1 1-1 1 0 1-2 1 2 1 1 1-1 1 0 1 0 1 0 1 1 1 1 1-3 1 4 1-4 1-1 1 2 1 0 1 0 1-2 1 4 1-4 1 4 1-2 1-2 1 1 1-1 1 1 1 1 1 1 1-2 1 4 1-2 1-4 1 2 1 1 1-2 1 1 1 1 1-1 1 0 1 2 1-1 1 0 1 1 1-1 1-1 1 1 1-2 1 3 1-3 1 3 1-1 1 0 1-1 1 1 1 0 1 0 1 0 1 0 1-1 1 1 1 0 1 1 1-1 1-1 1 2 1 0 1-3 1 3 1-2 1 3 1 1 1-3 1 0 1 0 1 0 1-1 1 0 1 1 1 0 1-1 1 1 1 2 1-2 1 0 1 0 1 0 1 1 1 0 1-3 1 2 1 1 1-1 1-1 1 3 1-4 1 0 1 2 1-1 1 1 1-1 1 1 1 0 1 0 1 0 1-1 1 0 1 2 1-1 1 0 1 1 1-3 1 1 1 1 1 1 1-1 1-1 1 0 1 1 1-1 1 0 1 0 1 1 1 1 1-1 1 0 1-1 1 0 1 0 1 0 1 0 1-1 1 1 1-1 1 1 1 0 1 1 1 0 1 0 1 0 1-1 1 2 1-3 1 1 1 0 1 3 1-2 1 0 1 1 1-1 1 0 1-2 1 4 1-3 1 0 1 0 1 0 1 1 1-1 1 1 1 0 1 0 1-1 1 1 1-1 1 0 1 0 1 1 1 1 1-1 1 1 1-2 1 1 1 0 1-2 1 0 1 1 1 1 1-1 1 1 1-2 1 2 1-1 1 3 1-3 1 0 1 0 1-1 1 1 1 1 1-2 1 1 1-1 1 2 1 0 1-1 1 1 1 0 1-2 1 3 1-1 1 0 1 1 1 0 1-1 1-3 1 1 1 3 1-1 1-2 1 1 1 2 1 0 1-2 1 1 1 1 1 0 1-4 1 3 1 2 1-1 1-1 1 2 1-1 1-2 1 1 1-1 1 0 1-1 1 1 1 2 1-2 1 0 1 0 1-1 1 2 1 0 1 0 1 0 1 0 1-1 1 1 1 0 1 0 1 2 1-3 1 1 1-2 1 1 1 1 1 1 1-1 1 1 1-2 1 2 1-3 1 3 1-1 1 1 1 0 1-2 1 2 1-4 1 4 1-2 1 0 1-2 1 4 1-1 1 2 1-2 1-1 1 1 1-1 1-1 1 3 1-2 1 3 1-3 1 1 1 2 1-2 1-1 1 0 1 1 1-1 1 2 1 0 1-1 1 0 1-1 1 1 1 2 1-1 1-2 1 1 1-1 1 1 1 1 1 0 1-1 1-1 1-1 1 3 1 0 1-2 1 1 1 1 1-2 1 1 1-1 1-1 1 2 1-3 1 3 1-1 1 1 1 1 1-1 1 0 1 0 1-2 1 2 1 1 1-1 1-1 1-1 1 1 1 3 1-2 1-1 1 1 1 1 1-1 1 0 1 0 1 0 1-2 1 2 1 1 1-2 1-1 1 3 1-3 1 2 1-1 1 2 1-1 1-1 1 1 1 1 1-2 1 0 1 1 1 0 1 1 1-3 1 1 1 0 1 0 1 1 1-1 1 1 1-1 1 1 1-1 1 3 1-3 1 1 1 2 1-2 1-1 1 0 1 1 1-1 1 0 1 0 1 1 1-1 1 1 1 1 1-2 1 2 1-2 1 0 1 0 1 2 1-2 1 1 1 0 1 0 1-1 1 1 1-1 1 1 1-1 1 0 1 1 1 0 1 0 1 0 1 0 1-2 1 1 1 1 1 0 1-1 1 0 1 0 1 1 1-1 1 0 1 0 1 0 1 0 1 1 1-1 1 1 1 0 1 0 1 0 1-1 1 1 1-1 1 0 1 0 1 1 1-1 1 1 1 0 1 0 1-1 1 1 1-1 1 0 1 1 1 0 1-1 1 1 1 0 1-2 1 1 1-1 1 1 1 1 1-3 1 2 1 2 1-1 1 0 1-1 1 0 1 2 1-2 1 0 1 1 1 0 1 0 1 1 1-3 1 1 1 1 1 0 1 0 1-1 1 0 1 0 1 0 1 0 1 1 1-1 1 1 1-1 1 0 1 0 1 0 1 0 1-1 1 2 1 1 1-2 1 0 1 0 1 1 1 0 1 0 1-1 1 0 1 0 1 0 1 0 1 1 1-2 1 2 1-1 1 0 1 2 1-2 1 0 1 2 1-2 1 0 1 2 1-2 1-1 1 2 1-1 1 2 1 0 1-2 1 2 1-1 1 1 1-1 1 0 1 1 1-3 1 3 1-1 1 0 1-2 1 1 1 0 1 0 1 1 1 0 1-1 1 0 1 1 1-2 1 1 1-1 1 2 1-1 1 1 1 0 1 1 1-1 1 0 1 0 1 0 1-1 1 1 1-1 1 0 1 1 1-2 1 2 1-1 1 1 1 0 1 0 1-1 1 0 1 0 1 1 1-1 1 0 1 0 1 1 1-1 1-1 1 0 1 0 1 0 1 1 1 0 1 0 1 1 1 0 1 0 1 0 1-2 1 1 1 1 1-1 1 0 1 2 1-1 1-1 1 1 1-2 1 1 1 0 1 0 1 0 1-1 1 0 1 1 1 0 1 1 1-2 1 2 1-2 1 2 1-1 1 0 1 0 1 1 1 0 1-1 1 1 1-1 1 2 1-2 1 2 1-2 1 1 1-2 1 1 1 1 1 0 1-1 1 0 1 1 1-1 1 0 1 2 1-1 1-1 1 0 1 1 1 0 1-2 1 0 1 1 1 1 1-1 1 0 1 1" stroke="#f0d820" stroke-width="0.9" marker-start="url(#m4)" marker-mid="url(#m4)" marker-end="url(#m4)"/><path class="s" transform="translate(56.9 0) scale(0.25 1.0)" vector-effect="non-scaling-stroke" d="M0 462l1-1 1 0 1 1 1-1 1 1 1-2 1 0 1 1 1 0 1 1 1 0 1-1 1-1 1 0 1 1 1 0 1 0 1 1 1-1 1-1 1 2 1-1 1 0 1 0 1 1 1-1 1 1 1-1 1 1 1-1 1-1 1 1 1 0 1 0 1 0 1 0 1-1 1 0 1 1 1-1 1 2 1-2 1 1 1-1 1 2 1-1 1 0 1 0 1 0 1-1 1 0 1 2 1-1 1 0 1-1 1 1 1 0 1 0 1-1 1 1 1 0 1 1 1-1 1 0 1 0 1 0 1 0 1 0 1 0 1-2 1 3 1-2 1 0 1 0 1 0 1 2 1-1 1 0 1 0 1-1 1 2 1-1 1 0 1 0 1 1 1-1 1-1 1 2 1-1 1 0 1-1 1 2 1-1 1-1 1 2 1 0 1-3 1 1 1-2 1 4 1 0 1 0 1-1 1 1 1-2 1 1 1 0 1 0 1 0 1-2 1 2 1 0 1 0 1 0 1 0 1 0 1 0 1 0 1-2 1 0 1 2 1-1 1 1 1-1 1 2 1-4 1 3 1-1 1 0 1 2 1-1 1 1 1-1 1 1 1 0 1-2 1 0 1-1 1 3 1-1 1 0 1 0 1 1 1-2 1 2 1-3 1 2 1 0 1 1 1-1 1-2 1 2 1-2 1 2 1 0 1-2 1 3 1-1 1 1 1 0 1 0 1-1 1-1 1 2 1 0 1-1 1-1 1 0 1 1 1-1 1 0 1 0 1 2 1-1 1 1 1 0 1 0 1-2 1 2 1-1 1 0 1-1 1 1 1 1 1-1 1 0 1-1 1 1 1 1 1 0 1 0 1 0 1-2 1-1 1 2 1 0 1 0 1 1 1-1 1 0 1 0 1 0 1 0 1 1 1-1 1 0 1 0 1 0 1 0 1-1 1 0 1 1 1-1 1 2 1-1 1 0 1-1 1 2 1-2 1 1 1 1 1-1 1 1 1-1 1-2 1 3 1-1 1 1 1-1 1 1 1-2 1 0 1 2 1-1 1 0 1-1 1 1 1 1 1 0 1-1 1-2 1 1 1 2 1-1 1 1 1-2 1 2 1-2 1-1 1 2 1 0 1 1 1 0 1-2 1 2 1-1 1 0 1 1 1-1 1 0 1 0 1-1 1 2 1-2 1 1 1-2 1 0 1 2 1-1 1 0 1 2 1 0 1-2 1 0 1 0 1 2 1 0 1-2 1 2 1-3 1 1 1 2 1-2 1 1 1 1 1-1 1 0 1 1 1-1 1 1 1-1 1 1 1-2 1 1 1-2 1 2 1 0 1 0 1 0 1 0 1 0 1 0 1 0 1 1 1-1 1-1 1 2 1-1 1-2 1 1 1 1 1 0 1 0 1 0 1-1 1 1 1-1 1 1 1-1 1 2 1-2 1 1 1 0 1 1 1 0 1-1 1 1 1-1 1-1 1 1 1 1 1-1 1-1 1 1 1 1 1 0 1 0 1 0 1 0 1 0 1 0 1-1 1 1 1 0 1-1 1 0 1-2 1 2 1 1 1 0 1-1 1 1 1-1 1 0 1 1 1 0 1 0 1 0 1 0 1-2 1-1 1 2 1 0 1-2 1 3 1-1 1 0 1 0 1 1 1 0 1-3 1 2 1 0 1 0 1 0 1-1 1 0 1 0 1 1 1 0 1 0 1-1 1-1 1 2 1-2 1 2 1-2 1 2 1 0 1-1 1 1 1 1 1-2 1 0 1 2 1-3 1 2 1-2 1 2 1 0 1 1 1 0 1-2 1 1 1 1 1-1 1-2 1 1 1 2 1-1 1-2 1 3 1 0 1-4 1 2 1 2 1-1 1-2 1 3 1-2 1 1 1-2 1 2 1 1 1 0 1-1 1-1 1-2 1 4 1-1 1 0 1 0 1 0 1-1 1 0 1 0 1 1 1 0 1-2 1 3 1-2 1 1 1 1 1-1 1 0 1 1 1-1 1 1 1 0 1 0 1 0 1-1 1 0 1-1 1 2 1 0 1-1 1-1 1 1 1 1 1-1 1 0 1 0 1-1 1 1 1-1 1 0 1 0 1 1 1-1 1 1 1-1 1 2 1-1 1 0 1-2 1 2 1-1 1 1 1 0 1-1 1-1 1 2 1-2 1 2 1 1 1-2 1 0 1 0 1 1 1-1 1 2 1 0 1-1 1 1 1-3 1 2 1 1 1 0 1-2 1 1 1 1 1 0 1-1 1 0 1 1 1-2 1 1 1 0 1 0 1 1 1-2 1 0 1 2 1-2 1 0 1-1 1 2 1-1 1 0 1 2 1 0 1-1 1 0 1 0 1 0 1 0 1 0 1 0 1 0 1 1 1-1 1 0 1 0 1 0 1 0 1 0 1 1 1 0 1-1 1-1 1 2 1 0 1-1 1-1 1 1 1 0 1 0 1 0 1 1 1-1 1 1 1-1 1 0 1 1 1 0 1 0 1 0 1-2 1 0 1 2 1 0 1 0 1-3 1 2 1-2 1 1 1 1 1 1 1 0 1-2 1 0 1 1 1 1 1 0 1 0 1-1 1-1 1 0 1-2 1 3 1 0 1 0 1 1 1-2 1 2 1-3 1 1 1 1 1 1 1-2 1 2 1-2 1 0 1 2 1-1 1 0 1-1 1 1 1-3 1 3 1 1 1-1 1 0 1 1 1-1 1 0 1 0 1-2 1 0 1 3 1 0 1-1 1 0 1 0 1 1 1-1 1-1 1 1 1 0 1 1 1-1 1-1 1 0 1 1 1 1 1 0 1-1 1 0 1 1 1-1 1 1 1-1 1-1 1 0 1 2 1-3 1 3 1 0 1 0 1-3 1 1 1 0 1 1 1-1 1 2 1-1 1-1 1 0 1 0 1 2 1 0 1-1 1 1 1-2 1-2 1 1 1 1 1 1 1-1 1 1 1 0 1 0 1 0 1 1 1 0 1-1 1 0 1 0 1-1 1 0 1 2 1-1 1 1 1-2 1 1 1 1 1 0 1-1 1-1 1 2 1 0 1 0 1-3 1 2 1 1 1-1 1 1 1-3 1 1 1 1 1 0 1-2 1 1 1 1 1-1 1 0 1 0 1 2 1 0 1-2 1 0 1 2 1-1 1-1 1 2 1 0 1-3 1 2 1 0 1-2 1 0 1 3 1-1 1 0 1 1 1-3 1 2 1-1 1 2 1-4 1 4 1-2 1 1 1 0 1-1 1 0 1 2 1-1 1-2 1 3 1-1 1 0 1 1 1-2 1 0 1 0 1 2 1-2 1 1 1 1 1 0 1-3 1 2 1 1 1-2 1 0 1 2 1-1 1-2 1 2 1 0 1 0 1-1 1-1 1 2 1 0 1 1 1-1 1 0 1-2 1 0 1 3 1-1 1 1 1 0 1 0 1-2 1-1 1 1 1 2 1 0 1-1 1 1 1-1 1-1 1 1 1 1 1-1 1 0 1 0 1 0 1-2 1 1 1 1 1-1 1 1 1 0 1 0 1-1 1 0 1 1 1 1 1 0 1-1 1-1 1 2 1-2 1-1 1 1 1 0 1 1 1 0 1 0 1 0 1 1 1-1 1 0 1 0 1 1 1-2 1 0 1 1 1 1 1 0 1-1 1 0 1 1 1-2 1 1 1 1 1 0 1 0 1 0 1-1 1 1 1-1 1 1 1 0 1-1 1 1 1-1 1-1 1 1 1 0 1 1 1-1 1 0 1 1 1-1 1 0 1 1 1 0 1-2 1 2 1-3 1 1 1 0 1 2 1 0 1 0 1-2 1 0 1 1 1 1 1-2 1-1 1 2 1 1 1 0 1-1 1 0 1 1 1-3 1 0 1 1 1 2 1-2 1 1 1 1 1 0 1-2 1-1 1 3 1-2 1 1 1 1 1-1 1-1 1 1 1 1 1-1 1 0 1 0 1 1 1 0 1-2 1 1 1 1 1-1 1 1 1-1 1 1 1-1 1-3 1 4 1-2 1 0 1 1 1 1 1-1 1-1 1 2 1-1 1 1 1-3 1 2 1 1 1-1 1-1 1 0 1 1 1-2 1-1 1 3 1 0 1 0 1 0 1-1 1 1 1 0 1-1 1 2 1-1 1 0 1-1 1 0 1 1 1-2 1 2 1 0 1-1 1 2 1 0 1-1 1 1 1-1 1-1 1-2 1 3 1-1 1 0 1 2 1 0 1 0 1-1 1 1 1-2 1 1 1 1 1 0 1 0 1 0 1-1 1 1 1-2 1 0 1 1 1 1 1-2 1 1 1 1 1-1 1 1 1-1 1 0 1 0 1 1 1-1 1 1 1 0 1-2 1 2 1-1 1-1 1 2 1-1" stroke="#b0b0b0" stroke-width="1.8" marker-start="url(#m6)" marker-mid="url(#m6)" marker-end="url(#m6)"/><path class="s" transform="translate(56.9 0) scale(0.25 1.0)" vector-effect="non-scaling-stroke" d="M0 460l1 0 1-2 1 4 1-2 1 2 1-1 1 0 1-1 1 0 1 0 1 0 1 0 1-2 1 3 1 1 1-3 1 3 1-3 1 0 1 0 1 0 1 1 1 2 1-4 1 1 1 2 1 0 1-1 1 0 1 1 1 0 1-2 1 2 1-2 1 0 1 2 1 0 1-3 1 3 1 1 1-4 1 1 1 2 1-2 1 1 1-1 1 2 1-2 1 0 1 0 1 1 1 0 1-1 1-1 1 2 1 0 1 0 1-1 1 3 1-4 1 2 1 1 1-1 1 0 1 1 1-1 1 0 1-2 1 4 1-3 1 1 1-2 1 1 1 2 1 0 1-3 1 2 1-1 1 3 1-1 1-2 1 0 1 1 1 0 1 0 1-2 1 0 1 3 1-1 1-1 1 0 1 0 1 0 1 1 1-1 1 2 1 1 1-2 1 0 1 1 1 0 1-2 1 0 1-2 1 1 1 2 1 1 1 1 1-2 1-1 1 2 1-1 1 1 1-2 1-2 1 5 1-3 1 3 1-1 1-2 1 1 1-1 1-1 1 1 1 2 1-3 1 4 1-3 1 2 1-3 1 3 1-3 1 4 1-1 1 0 1-3 1 4 1-2 1 2 1-3 1-1 1 4 1-2 1-1 1 1 1 0 1-2 1 1 1 0 1 0 1 1 1-1 1 1 1 0 1 1 1-2 1 0 1 1 1 0 1-2 1 2 1 0 1 1 1-3 1 4 1-2 1 0 1 1 1-1 1 1 1-3 1 2 1 1 1 0 1-1 1 1 1-1 1 1 1 0 1-3 1 1 1-1 1 1 1 0 1 0 1 3 1-3 1 1 1 0 1 1 1-2 1 1 1 0 1 2 1-4 1 4 1 0 1-3 1 2 1-3 1 4 1-1 1 0 1 1 1-2 1 2 1-2 1 0 1 0 1 2 1-1 1-2 1 1 1 2 1-1 1-2 1 2 1-3 1 2 1 0 1 0 1 0 1 1 1-2 1 1 1 1 1-2 1 0 1 1 1 1 1 0 1-1 1 0 1 1 1-1 1-2 1 1 1 0 1 1 1 0 1 1 1 0 1 0 1-1 1 2 1 0 1-2 1 1 1-1 1 0 1 1 1-1 1-1 1 0 1 1 1 0 1 1 1-1 1 2 1-1 1-1 1 1 1-1 1-1 1 3 1 0 1 0 1-3 1 1 1 0 1 0 1-1 1 0 1 0 1 2 1-1 1 1 1 0 1-1 1 1 1-2 1 2 1-2 1 1 1-1 1 1 1 0 1-2 1 2 1-2 1 2 1 1 1 0 1-1 1-2 1 3 1-2 1 0 1 2 1-2 1 0 1 1 1 1 1-2 1-1 1 3 1-2 1 1 1 1 1-1 1-1 1 3 1-2 1 0 1-1 1 3 1-2 1-1 1 3 1-3 1 1 1-1 1 3 1-1 1 0 1-1 1 1 1-2 1 0 1 1 1-1 1 2 1 0 1-4 1 5 1-1 1-2 1 2 1-1 1-1 1 1 1 0 1-1 1 1 1 1 1 1 1-2 1-1 1 2 1-1 1 1 1-2 1-1 1 1 1 0 1 0 1 2 1 0 1 0 1 0 1 0 1-2 1 1 1-1 1 2 1 0 1 0 1-1 1-1 1 1 1 0 1 0 1-1 1-1 1 2 1-1 1 0 1 1 1 1 1-3 1 0 1 4 1-4 1 1 1 1 1-2 1 1 1 0 1 2 1-2 1 3 1-2 1-1 1 2 1-1 1 1 1 0 1 0 1-1 1 0 1 2 1-1 1 1 1-3 1 3 1-1 1 0 1-2 1 1 1-2 1-1 1 5 1-2 1-1 1 0 1 2 1-2 1 0 1 0 1 1 1-2 1 1 1 3 1-1 1 0 1-2 1 1 1 1 1-2 1 0 1 1 1 1 1-2 1-1 1 1 1 1 1-1 1 1 1-1 1 2 1-1 1-3 1 3 1-1 1 0 1 0 1 2 1-1 1 1 1-2 1 2 1-1 1-1 1-1 1 1 1 0 1 0 1 3 1-1 1-3 1 0 1 3 1-2 1 0 1 0 1 0 1 0 1 1 1 0 1-3 1 3 1 1 1-2 1 0 1 0 1 2 1 0 1-1 1 1 1-1 1 2 1-2 1 0 1 1 1-1 1 1 1-1 1-1 1 1 1 0 1 2 1-3 1 1 1 0 1 2 1 0 1-4 1 3 1-2 1 1 1 0 1 0 1 0 1 2 1 0 1-1 1-3 1 1 1 1 1 1 1 1 1-2 1 0 1 1 1 1 1-2 1 0 1 1 1-1 1-2 1 2 1 1 1-2 1 1 1 2 1-2 1-3 1 4 1-1 1 1 1-2 1-1 1 4 1-2 1-1 1 2 1 0 1 0 1 0 1-2 1 0 1 3 1 0 1-1 1 1 1-4 1 1 1 0 1 0 1 0 1 0 1 2 1 0 1-1 1-1 1 0 1 0 1 1 1-1 1 3 1-4 1 3 1-5 1 3 1 2 1-2 1 1 1 0 1 1 1-2 1 1 1-1 1 0 1 3 1-1 1-2 1 0 1 3 1-2 1 0 1-1 1 1 1 2 1-1 1 0 1 1 1-3 1 1 1 1 1 0 1 0 1-1 1 1 1-1 1 0 1 0 1 1 1-2 1-1 1 1 1 0 1 2 1 0 1 0 1 0 1 0 1 1 1-1 1-2 1 1 1 0 1 1 1 0 1-3 1 2 1 1 1-3 1 3 1-1 1 0 1 0 1-1 1 3 1-2 1-1 1 1 1 0 1 1 1-3 1 2 1 0 1 2 1-3 1 1 1 2 1-2 1 0 1 2 1-3 1 1 1-2 1 3 1-1 1 0 1-2 1 0 1 2 1 2 1-1 1-1 1 0 1-1 1 3 1-2 1 1 1 0 1-1 1-1 1 0 1 1 1 0 1 1 1-1 1-1 1 2 1-3 1 2 1 1 1-1 1 2 1 0 1-4 1 1 1 0 1 0 1 3 1-3 1 1 1 0 1 0 1 0 1 2 1-2 1 2 1-3 1 1 1-2 1 2 1 0 1-1 1 1 1 0 1 0 1 1 1-2 1 0 1 3 1-2 1 2 1-1 1-1 1 2 1-3 1 2 1-5 1 2 1 0 1 1 1-1 1 1 1 0 1 2 1 1 1-2 1 1 1-2 1 3 1-2 1-1 1 1 1-1 1 1 1-2 1 3 1-1 1 0 1-2 1 0 1 2 1 1 1-2 1 1 1 0 1 0 1 0 1 1 1 0 1 0 1 1 1-2 1-2 1 3 1 0 1-1 1-1 1 0 1 3 1-3 1 0 1 2 1 1 1 0 1-2 1-1 1 1 1 1 1 1 1-3 1 2 1 0 1 0 1-2 1-2 1 2 1-1 1 2 1 0 1 1 1-1 1-1 1 0 1 1 1 0 1 1 1 0 1-2 1 1 1-1 1 1 1-2 1 2 1 1 1 1 1-3 1 2 1-1 1 0 1-2 1 1 1 3 1-1 1 0 1-2 1 3 1-1 1-1 1 0 1-1 1 1 1-2 1 2 1-1 1 0 1 2 1-2 1 1 1 1 1-2 1 3 1-3 1-1 1 2 1 0 1-1 1 0 1 1 1 1 1-2 1 3 1-4 1 0 1 3 1-1 1-1 1 1 1 0 1 1 1 0 1 0 1-1 1-1 1-1 1 2 1-2 1 1 1 1 1-1 1 0 1 0 1 3 1-2 1-1 1 3 1-2 1 0 1 1 1-1 1-1 1 1 1-2 1 1 1 2 1-3 1 1 1 1 1 1 1-2 1 2 1-1 1 0 1 0 1-1 1-1 1 3 1 0 1-1 1 2 1-2 1-2 1 3 1-2 1 1 1 2 1-4 1 3 1-2 1 0 1 1 1 0 1-1 1 1 1 1 1 1 1-3 1 1 1 1 1-4 1 1 1 1 1 0 1 1 1 0 1 1 1-2 1 0 1 0 1-2 1 3 1 0 1 2 1-2 1 0 1 0 1-2 1 1 1 1 1 1 1-2 1 0 1-1 1 0 1 1 1 1 1-1 1 3 1-3 1-2 1 1 1 1 1 1 1-2 1 0 1 2 1 0 1 0 1-4 1 4 1 2 1-2 1 0 1 2 1-1 1-1 1 1 1-1 1 0 1 0 1-2 1 2 1-1 1 1 1-1 1 2 1-5 1 4 1-1 1 1 1 2 1-5 1 2 1 0 1 1 1 0 1 0 1-1 1 1 1 1 1-1 1 1 1 0 1 0 1-1 1 0 1 2 1-1 1-1 1-3 1 2 1 3 1-2 1 0 1 1 1-2 1 1 1 1 1-2 1 2" stroke="#555555" stroke-width="1.2" marker-start="url(#m2)" marker-mid="url(#m2)" marker-end="url(#m2)"/><path class="s" transform="translate(56.9 0) scale(0.25 1.0)" vector-effect="non-scaling-stroke" d="M0 450l1 2 1-2 1 2 1-1 1 0 1 0 1-1 1 1 1 1 1-1 1-1 1 2 1 0 1-1 1 1 1-1 1 0 1 1 1-1 1 0 1 0 1 0 1 0 1-1 1 2 1-1 1-1 1 1 1-1 1 1 1 1 1-1 1 0 1 0 1 0 1 0 1 0 1 0 1 1 1-1 1 0 1 0 1 1 1-1 1 0 1 0 1 0 1 0 1-1 1 1 1 0 1 0 1 1 1-1 1 0 1 0 1-1 1 0 1 2 1-1 1-1 1 0 1 2 1-1 1 0 1 0 1 1 1-1 1 0 1 0 1 0 1-1 1 2 1 0 1-1 1 1 1 1 1-2 1 1 1-1 1 1 1 0 1 0 1 0 1 0 1 0 1-1 1 1 1 1 1-2 1 0 1 1 1 0 1 1 1-2 1 2 1-1 1 0 1 0 1-1 1 1 1 0 1-1 1 1 1-1 1 1 1 0 1 0 1-1 1 1 1-1 1 0 1 1 1 0 1 0 1-1 1 1 1 0 1-1 1 1 1-1 1 2 1-1 1 0 1 0 1-1 1 1 1 0 1-1 1 1 1 0 1-1 1 1 1 1 1-2 1 1 1 0 1-1 1 1 1 0 1 0 1 0 1-1 1 1 1 0 1 0 1-1 1 1 1-1 1 0 1 1 1-2 1 2 1 0 1 0 1 1 1-1 1 0 1-1 1 2 1-1 1 0 1 0 1 0 1-1 1 2 1-2 1 1 1-1 1 2 1-1 1-1 1 0 1 0 1 1 1 0 1 0 1 0 1 0 1 0 1 0 1-1 1 1 1 0 1-1 1 1 1-1 1 1 1 0 1 0 1-1 1 1 1 0 1 0 1-1 1 1 1-2 1 2 1-1 1 0 1 0 1 1 1 0 1 0 1-1 1 0 1 1 1-1 1 0 1 1 1 0 1 0 1 1 1-1 1 0 1 0 1 0 1 1 1-1 1 1 1-1 1 0 1-1 1 0 1 0 1 1 1-1 1 1 1-1 1 1 1-1 1 1 1 0 1 0 1-1 1 0 1 2 1-1 1-1 1 1 1 0 1 1 1-1 1 0 1 0 1 0 1 0 1 0 1 0 1-1 1 1 1-1 1 0 1-1 1 1 1 1 1 0 1 0 1 0 1 0 1 0 1-1 1 1 1 0 1 1 1-1 1-1 1 0 1 1 1 0 1 0 1-1 1 0 1 1 1 0 1-1 1 0 1 1 1 0 1 0 1 0 1-1 1 0 1 2 1-1 1 0 1 0 1-1 1 1 1-1 1 0 1 0 1 1 1 1 1-1 1 0 1-1 1 0 1 1 1-1 1 0 1 1 1 0 1-1 1 2 1-1 1-1 1 1 1-1 1 1 1 0 1-1 1 1 1 0 1-1 1 0 1 1 1 0 1 0 1 0 1 0 1 1 1-2 1 0 1 2 1 0 1-1 1 0 1-1 1 1 1 0 1 0 1 0 1 0 1 0 1 0 1 0 1 0 1-1 1 1 1 0 1 0 1 0 1-1 1-1 1 1 1 0 1 1 1-1 1 0 1 1 1-1 1 1 1 0 1 0 1-1 1 1 1 0 1-1 1 0 1 1 1 0 1-1 1 1 1 1 1-1 1 1 1-1 1 0 1 0 1 0 1 0 1 0 1 0 1 0 1-1 1 1 1 0 1 0 1-1 1 0 1 1 1 0 1 0 1-1 1 1 1 0 1 0 1 0 1 0 1-1 1 1 1-1 1 1 1 0 1-1 1 1 1 0 1-1 1 0 1 1 1 0 1 0 1-1 1 0 1 0 1 1 1-1 1 0 1 0 1 0 1 1 1 0 1 0 1 0 1-1 1 1 1 0 1 0 1 0 1 1 1-1 1 0 1 0 1 0 1 0 1 0 1-1 1 1 1 0 1 0 1-1 1 0 1 1 1 0 1 0 1 0 1-1 1 0 1 0 1 0 1 0 1 1 1 0 1-1 1 1 1-1 1 1 1-1 1 0 1 0 1 1 1 0 1-1 1 1 1 0 1 0 1-1 1 1 1-1 1 1 1 0 1-1 1 0 1 1 1 0 1 0 1 0 1-1 1 2 1-1 1 0 1 0 1 0 1 1 1-1 1 0 1 0 1 0 1 0 1-1 1 1 1-1 1 1 1 0 1 1 1-2 1 1 1 0 1 0 1 0 1 0 1 0 1 0 1 0 1-1 1 0 1 1 1 0 1 0 1 0 1 0 1-1 1 0 1 2 1-1 1-1 1 0 1 0 1 0 1 1 1 0 1 0 1-1 1 1 1 0 1 0 1 0 1 0 1 0 1 0 1 0 1 0 1 0 1 1 1-1 1-1 1 0 1 0 1 1 1 0 1 0 1 0 1 0 1 0 1 1 1-2 1 1 1-1 1 1 1-1 1 1 1-1 1 0 1 0 1 0 1 1 1 1 1-1 1 0 1-1 1 1 1-1 1 1 1-1 1 1 1 0 1 0 1 0 1-1 1 1 1-1 1 1 1 1 1-1 1 0 1 1 1-1 1 0 1 0 1 0 1 0 1-1 1 0 1 1 1-1 1 1 1-1 1 1 1 0 1 0 1 0 1 0 1 0 1 0 1 0 1 0 1-1 1 0 1 1 1 0 1 0 1 0 1 0 1 0 1-1 1 1 1 0 1 0 1 0 1 0 1 0 1 0 1 0 1-1 1 1 1 0 1 0 1 0 1 0 1 0 1-1 1 1 1 0 1 0 1 0 1-1 1 1 1 0 1 0 1 0 1-1 1 1 1-1 1 1 1 0 1 0 1 1 1-1 1 0 1 0 1 0 1 0 1 0 1-1 1 1 1-2 1 1 1 1 1 0 1-1 1 1 1-1 1 1 1 0 1-1 1 1 1 0 1 0 1 0 1-1 1 2 1-1 1 0 1 0 1 0 1 0 1 0 1 0 1 0 1 1 1-1 1-1 1 1 1 0 1 0 1 0 1 0 1 0 1 0 1-1 1 0 1 1 1 0 1 0 1 0 1-1 1 1 1 0 1 0 1 0 1-1 1 0 1 1 1 0 1 0 1 0 1-1 1 1 1-1 1 0 1 0 1 0 1 2 1-2 1 1 1-1 1 1 1 0 1-1 1 1 1 0 1-1 1 2 1-1 1-1 1 1 1 0 1 0 1 1 1-1 1 0 1 0 1-1 1 2 1-1 1 0 1 0 1-1 1 1 1 0 1 0 1 0 1-1 1 1 1 0 1 0 1 0 1 0 1-1 1 1 1 0 1 0 1-1 1 1 1-1 1 1 1 0 1 0 1 0 1 0 1-1 1 1 1-1 1 1 1-1 1 0 1 1 1 0 1-1 1 0 1 1 1 0 1 0 1-1 1 1 1 0 1-1 1 1 1-1 1 1 1 0 1-1 1 1 1 0 1 0 1 0 1 0 1 0 1 0 1 0 1 0 1 0 1-1 1 1 1 0 1 0 1 0 1 0 1 0 1 0 1 0 1-1 1 1 1 0 1-1 1 1 1 0 1 0 1 0 1-1 1 0 1 1 1 0 1 0 1-1 1 1 1 0 1 0 1 0 1 0 1 0 1 0 1 0 1-1 1 0 1 1 1 0 1 0 1 0 1 0 1 0 1-1 1 0 1 2 1-2 1 1 1 0 1-1 1 1 1 0 1 0 1 0 1 1 1-1 1 0 1-1 1 0 1 1 1-1 1 0 1 1 1 0 1 0 1 0 1 0 1 0 1-1 1 0 1 0 1 1 1 0 1-1 1 1 1-1 1 1 1 0 1-1 1 1 1 0 1 0 1 0 1 0 1 0 1-1 1 1 1 0 1-1 1 1 1 0 1-1 1 1 1-1 1 0 1 1 1 1 1 0 1-1 1 0 1-1 1 0 1 0 1 1 1 0 1 0 1 0 1 0 1 1 1-2 1 1 1 0 1-1 1 1 1 0 1 0 1-1 1 1 1 1 1-2 1 1 1 0 1 0 1 1 1-1 1 1 1-1 1 0 1 0 1 0 1 0 1 0 1-1 1 0 1 1 1 0 1 0 1-1 1 0 1 0 1 1 1 0 1 0 1 0 1-1 1 1 1-1 1 1 1 0 1 0 1-1 1 2 1-2 1 1 1-1 1 1 1 0 1 0 1 0 1 1 1-1 1 1 1-1 1 0 1 0 1 0 1 0 1 0 1-1 1 0 1 1 1 0 1 1 1-1 1-1 1 1 1 1 1-1 1-1 1 0 1 1 1-1 1 0 1 1 1-1 1 1 1-1 1 1 1 0 1 0 1 0 1 0 1 0 1-1 1 1 1 0 1 0 1 0 1-1 1 1 1-1 1 1 1 0 1 0 1 0 1 1 1 0 1-1" stroke="#555555" stroke-width="1.0" marker-start="url(#m2)" marker-mid="url(#m2)" marker-end="url(#m2)"/><path class="s" transform="translate(56.9 0) scale(0.25 1.0)" vector-effect="non-scaling-stroke" d="M0 451l1 2 1-2 1 2 1 0 1-3 1 1 1-3 1 9 1-7 1 5 1-7 1 2 1 2 1-4 1 0 1 1 1 0 1-1 1 5 1-4 1 1 1-3 1 0 1 8 1-6 1 2 1-4 1 5 1-3 1 1 1 1 1-2 1 0 1 4 1-5 1 3 1 2 1-3 1 4 1-3 1 2 1-5 1 3 1-3 1 5 1-1 1 0 1-3 1 1 1 0 1-2 1 1 1 1 1 0 1 2 1-4 1 2 1-4 1 3 1 3 1 0 1-1 1 2 1-8 1 1 1 8 1-4 1-1 1-2 1 6 1-2 1-2 1 4 1-4 1 2 1-1 1 3 1-2 1-1 1 3 1-4 1 1 1 0 1 2 1-1 1-1 1 0 1 2 1-2 1-1 1 4 1-1 1 2 1-3 1 2 1-3 1 2 1 0 1-1 1 0 1-2 1 3 1 0 1 0 1 1 1-4 1 0 1 1 1-1 1 2 1-4 1 0 1 4 1 1 1 0 1 1 1 0 1-2 1 1 1-1 1 3 1-2 1-4 1 1 1 1 1-1 1 0 1 2 1 3 1-4 1 0 1 2 1-1 1 0 1 0 1 0 1-2 1 3 1-2 1 1 1 3 1-3 1 1 1 1 1-4 1 0 1 5 1-1 1-4 1 2 1 2 1-1 1-2 1 4 1-2 1-1 1 1 1-1 1 1 1-1 1-2 1 4 1 0 1-4 1 2 1 1 1-2 1 2 1-2 1-1 1 3 1 1 1-5 1 5 1-1 1-2 1 2 1 1 1-2 1 2 1 1 1-4 1 0 1 0 1 4 1-4 1 3 1-2 1 1 1 0 1-2 1 2 1-4 1 3 1 2 1-1 1 2 1-3 1-1 1-1 1 3 1-1 1 1 1-2 1 0 1 0 1 0 1 1 1-1 1 3 1-1 1-2 1 3 1-4 1 2 1 1 1 0 1 0 1 1 1-2 1 1 1-2 1 0 1 1 1 1 1 2 1-2 1 0 1 1 1-2 1 2 1-2 1-1 1 0 1 2 1 0 1-1 1-3 1 5 1 0 1-1 1-5 1 7 1-1 1-1 1-3 1 2 1 0 1-1 1 2 1 1 1-1 1-1 1 0 1 0 1 2 1-3 1-1 1 3 1-2 1 0 1 1 1 2 1-4 1 2 1 0 1 2 1-2 1-1 1 1 1-1 1-1 1 1 1-1 1 1 1 4 1 2 1-6 1 2 1 2 1-4 1 3 1-1 1-2 1 2 1-2 1 2 1-2 1 1 1 0 1 0 1-2 1 3 1 0 1-1 1 0 1-1 1 0 1-1 1 2 1-3 1 4 1-3 1 4 1-6 1 4 1 0 1 1 1-3 1 3 1 1 1-4 1 0 1 1 1 1 1 1 1 0 1 0 1 0 1 0 1 0 1 0 1-3 1 1 1-2 1 4 1-2 1-1 1 3 1-2 1 3 1-1 1-1 1 1 1 0 1-2 1 0 1-1 1 0 1 3 1 0 1-2 1-1 1 1 1 3 1-1 1-3 1 3 1 0 1-2 1-1 1 2 1-1 1 1 1 0 1-2 1 2 1-1 1 3 1-2 1 0 1-2 1 0 1 2 1 0 1-2 1 4 1 0 1-3 1 3 1 1 1-4 1 0 1 0 1 0 1 0 1 5 1-5 1 0 1 0 1 1 1 2 1-2 1 0 1 0 1 2 1-2 1-2 1 2 1-2 1 4 1-1 1-3 1 3 1-2 1 0 1 0 1 0 1 1 1 1 1-2 1-1 1 0 1 3 1 0 1-2 1 1 1 0 1 0 1 3 1-6 1 1 1 2 1 0 1 1 1-2 1 2 1 0 1 0 1-3 1 1 1 3 1-2 1-1 1 1 1-1 1-1 1 2 1 2 1-2 1 0 1-3 1 2 1 1 1-1 1 0 1 1 1 2 1-2 1 1 1 2 1-3 1 0 1 1 1-2 1 1 1 0 1-1 1 0 1 3 1-2 1 0 1-2 1 1 1 2 1 3 1-5 1-1 1-1 1 4 1-3 1 0 1 0 1 2 1-3 1 5 1-2 1-1 1 2 1 0 1-1 1-1 1 3 1-2 1 1 1-2 1 1 1 0 1 2 1-2 1 0 1-1 1 3 1-4 1 1 1 2 1-2 1 1 1 0 1 1 1-2 1 1 1 1 1 0 1-3 1 3 1-2 1 1 1-1 1 3 1-4 1 2 1 0 1 1 1-4 1 3 1-2 1 3 1-2 1-1 1 3 1 1 1-6 1 6 1 1 1-4 1 1 1 2 1 2 1-2 1-3 1 2 1-1 1 1 1-1 1 1 1-5 1 5 1-1 1 0 1-1 1-1 1 2 1 3 1-3 1 2 1-1 1-2 1 0 1 5 1-2 1-5 1 2 1 0 1 0 1 2 1-1 1 0 1 1 1-1 1-2 1 1 1 2 1-2 1 1 1 0 1 1 1-2 1 0 1 1 1 1 1-3 1 5 1-5 1 2 1-1 1 1 1 0 1-1 1 0 1 2 1-2 1 1 1 1 1-1 1 0 1 0 1 0 1 1 1-2 1 1 1-1 1 1 1 0 1 2 1-5 1 2 1 1 1-1 1 1 1-2 1 1 1 1 1 1 1 0 1-1 1 1 1-2 1 0 1 1 1 0 1 1 1-2 1-1 1 3 1-2 1 1 1-1 1 2 1-1 1 1 1-3 1 0 1 1 1 2 1 1 1-2 1-2 1 1 1 0 1 2 1-1 1 0 1-3 1 2 1 3 1-2 1 1 1 0 1-5 1 4 1-2 1 2 1 0 1-1 1 0 1-2 1 5 1-2 1 0 1-1 1 2 1 0 1-2 1 1 1 0 1 0 1-2 1 3 1-2 1 2 1 1 1-4 1-1 1 2 1 2 1-3 1 2 1 1 1-3 1 4 1-2 1 1 1-3 1 0 1 2 1-1 1 1 1 1 1-5 1 4 1 2 1-4 1-1 1 3 1-1 1 1 1 1 1 0 1-2 1 1 1 1 1 0 1-3 1 1 1 2 1-1 1-1 1 4 1-3 1 0 1 0 1-1 1 0 1 0 1 0 1 0 1 0 1 1 1 0 1-2 1 1 1-1 1 4 1-1 1 2 1 0 1-3 1 0 1 1 1-2 1 0 1 2 1-5 1 5 1 0 1 0 1-1 1-1 1 1 1-1 1 2 1-3 1 3 1 0 1 0 1 0 1 2 1 0 1-2 1-2 1 2 1-2 1 0 1-1 1 2 1-1 1 1 1-3 1 3 1-1 1 2 1-1 1 2 1-1 1-1 1-1 1-1 1 2 1-1 1 0 1 3 1-1 1 0 1-2 1-2 1 3 1-2 1 4 1-3 1 2 1-2 1-1 1 4 1-1 1 0 1-2 1 0 1 3 1-3 1 1 1 0 1 2 1-1 1-1 1-1 1 1 1 1 1-1 1-1 1 1 1 0 1 0 1-1 1 3 1-1 1-3 1 2 1 1 1 1 1-3 1 0 1 2 1 0 1-2 1 1 1 1 1 0 1 0 1-1 1 0 1-1 1 0 1 1 1-1 1 1 1 1 1-2 1-1 1 3 1 0 1 0 1 0 1-1 1-3 1 5 1-3 1 0 1 1 1 0 1-2 1 3 1 0 1 0 1-2 1 1 1-1 1-2 1 4 1-1 1 0 1-2 1 1 1-1 1 2 1 1 1-1 1 2 1-3 1 2 1 1 1-3 1 1 1 0 1-1 1 1 1 0 1 1 1-4 1 3 1-3 1 3 1-1 1 1 1 0 1 0 1-3 1 5 1-2 1 0 1-1 1 1 1-1 1 1 1-1 1 2 1-2 1 0 1 3 1-1 1 0 1 0 1 1 1-2 1 0 1 0 1 0 1 1 1-2 1 1 1 0 1-1 1 4 1-2 1-3 1 4 1-3 1 1 1 0 1 1 1-3 1 1 1 1 1 0 1-1 1-1 1 3 1 0 1 2 1-3 1-1 1 0 1 0 1 1 1 0 1-1 1 0 1 1 1-3 1 2 1 1 1 0 1-2 1 1 1 1 1 0 1 0 1 0 1 1 1 0 1-1 1 2 1-4 1 1 1 1 1-3 1 3 1 1 1-2 1 0 1 4 1-5 1 4 1-3 1 1 1 0 1 1 1-2 1 2 1 0 1 1 1-1 1-3 1 2 1 2 1-1 1-2 1 0 1 2 1-1 1-1 1 3 1-3 1 1 1 1 1-2 1 0 1 2 1 1 1-2 1-1 1 1 1-2 1 3 1-2 1 2 1-2 1 2 1 0 1 2 1-4 1 3 1-4 1 3 1-2 1 3 1-3" stroke="#ee6a28" stroke-width="1.0" marker-start="url(#m8)" marker-mid="url(#m8)" marker-end="url(#m8)"/><path class="s" transform="translate(56.9 0) scale(0.25 1.0)" vector-effect="non-scaling-stroke" d="M0 438l1-4 1 4 1-1 1 2 1-2 1-2 1 2 1 2 1-4 1 1 1 0 1 1 1-1 1-2 1 5 1-3 1-5 1 5 1-2 1 4 1-5 1-4 1 6 1 7 1-6 1-1 1-1 1-1 1 2 1 1 1 6 1-5 1-2 1 3 1-4 1 1 1 1 1 1 1 0 1-1 1-7 1 11 1 0 1-8 1-2 1 6 1-2 1 1 1 3 1-3 1 0 1-2 1-3 1 7 1-1 1-3 1 6 1-5 1 2 1-5 1 3 1-4 1 7 1-7 1 6 1 0 1 2 1-6 1 1 1 0 1 1 1 3 1-10 1 1 1 4 1 5 1-9 1 5 1-3 1-3 1 9 1-3 1 3 1-3 1-3 1 8 1-5 1-3 1 3 1-4 1 1 1 1 1 3 1-2 1 0 1 1 1 2 1-2 1-2 1 0 1 3 1 5 1-9 1 2 1 3 1-3 1 0 1 0 1 0 1 1 1-2 1 2 1-1 1 1 1-1 1 3 1-9 1 6 1-2 1 4 1-8 1 6 1-2 1 2 1 2 1 3 1-13 1 10 1-3 1 6 1 0 1-5 1 5 1-3 1 3 1-5 1-4 1 6 1-4 1 2 1 5 1-3 1-4 1 5 1-4 1 6 1-9 1 4 1-2 1-10 1 16 1-4 1 1 1 2 1-16 1 14 1 5 1-1 1-1 1 4 1-10 1 2 1-1 1 7 1-7 1 1 1 3 1 0 1-3 1 3 1-3 1 5 1-3 1 1 1 0 1-1 1-4 1 2 1 0 1 1 1-1 1 0 1 4 1-5 1 1 1 2 1 2 1-2 1-5 1 0 1 3 1 0 1 3 1-4 1 5 1-2 1-1 1 1 1-3 1 3 1-3 1-1 1 6 1 0 1-3 1 6 1-4 1 0 1-2 1-15 1 11 1 3 1 2 1-2 1-3 1 5 1-7 1 5 1 1 1 6 1-6 1-7 1 5 1 4 1-1 1-1 1 2 1 0 1-6 1 6 1-2 1-3 1 1 1 0 1-1 1 2 1 2 1-3 1 2 1 1 1-4 1-1 1-5 1 10 1 0 1-2 1 3 1-11 1 13 1-6 1 5 1 3 1-5 1-5 1 5 1-4 1-1 1 2 1-3 1 2 1 3 1-2 1 0 1 0 1 1 1 2 1-3 1 4 1-1 1-4 1 5 1-3 1-2 1 5 1-1 1 2 1-3 1 1 1-2 1-2 1 5 1-9 1 11 1-1 1-7 1 1 1 4 1-1 1 1 1-2 1 1 1 1 1-5 1 5 1-2 1 2 1-6 1 6 1-1 1-2 1 1 1 3 1-1 1-1 1-2 1 2 1-1 1 0 1 3 1-1 1-7 1 1 1 5 1 4 1-1 1-3 1-2 1 3 1 0 1-3 1 1 1 2 1-3 1 2 1 1 1 2 1-5 1 2 1-2 1 2 1-1 1 1 1-4 1 2 1-1 1 1 1 7 1-6 1 1 1-2 1 4 1-3 1 4 1-7 1 6 1-3 1-2 1 5 1-5 1 5 1 1 1-1 1-4 1 0 1 5 1-7 1 3 1-5 1 5 1-12 1 11 1 7 1-7 1 4 1-7 1 4 1 5 1-8 1 5 1-3 1 3 1-5 1 6 1-13 1 13 1-4 1-2 1 4 1 2 1-7 1 9 1-2 1-5 1 6 1-3 1 0 1-7 1 12 1-4 1-6 1-1 1 9 1-3 1-3 1-4 1 8 1 1 1 3 1-7 1 4 1-3 1-2 1 7 1 0 1-5 1-1 1 2 1-3 1 3 1-3 1 3 1 1 1 6 1-11 1-7 1 6 1 3 1 3 1-7 1 4 1-2 1 10 1-9 1 1 1 4 1-3 1 3 1-6 1 4 1-1 1-1 1 3 1-1 1 0 1 0 1-1 1 6 1-7 1-1 1 6 1-5 1 2 1-3 1-3 1-1 1 8 1-4 1 5 1 0 1 0 1 1 1-4 1 1 1 6 1-13 1 7 1 3 1-6 1 2 1 0 1 3 1-1 1-3 1 1 1 0 1-2 1 1 1 4 1-1 1-2 1-1 1 0 1 0 1-1 1 4 1 2 1-3 1 1 1-5 1 5 1 0 1-6 1 7 1 0 1 0 1 1 1-7 1 7 1-5 1 4 1 1 1-4 1 2 1-1 1-2 1 1 1 2 1-5 1 5 1-1 1-4 1 8 1-5 1-3 1 5 1-2 1 3 1 1 1-4 1-1 1 3 1-1 1 1 1 2 1-6 1 3 1 1 1 2 1-6 1 3 1 1 1-1 1 2 1-3 1 2 1-1 1 2 1-1 1-4 1 2 1-10 1 8 1-4 1 6 1-1 1-7 1 8 1-1 1-1 1 8 1-8 1 6 1-3 1-3 1 2 1-3 1 3 1-1 1 3 1-4 1 9 1-14 1 10 1-6 1 5 1 1 1-1 1-1 1-3 1-7 1 1 1 11 1-6 1 2 1 2 1-2 1 5 1-3 1-3 1 0 1-1 1 3 1 3 1-6 1 1 1 3 1 2 1 2 1-6 1 3 1-1 1 1 1 0 1-1 1-4 1 4 1-1 1-1 1 2 1-2 1 3 1 1 1 0 1-3 1 6 1-3 1-6 1 7 1-5 1 3 1 6 1-5 1-1 1 3 1-4 1-2 1 1 1 5 1-2 1-4 1-4 1 4 1 1 1 3 1-7 1 1 1 5 1 1 1 2 1-6 1 2 1 2 1-3 1-4 1-8 1 16 1-7 1 6 1-8 1 4 1-3 1 3 1 1 1 1 1-3 1 2 1-2 1 5 1-2 1-6 1-1 1 8 1-1 1-4 1 1 1 1 1-1 1 2 1 1 1 4 1 4 1-11 1 0 1 0 1 2 1 1 1-1 1-3 1 4 1-4 1 6 1-8 1 4 1 4 1-3 1-9 1 10 1 1 1-2 1 2 1-5 1 0 1 2 1-3 1 4 1-13 1 10 1 1 1 1 1-7 1 8 1-3 1-1 1 3 1-8 1 12 1-1 1 1 1-3 1 3 1-2 1-2 1 0 1-2 1 1 1-3 1 12 1-6 1-3 1 1 1 2 1-1 1 1 1-4 1 5 1 4 1-6 1-2 1 2 1-4 1 7 1-1 1-4 1 3 1-3 1 0 1 0 1 7 1 0 1-1 1-2 1 2 1-4 1 0 1 0 1-13 1 16 1-1 1-4 1 5 1-12 1 12 1 1 1-3 1 2 1-1 1 2 1 3 1-2 1 3 1 2 1-5 1 2 1 3 1-5 1 3 1-1 1 2 1 0 1 1 1-2 1-3 1 5 1-5 1 1 1 0 1 1 1-7 1 1 1 6 1-2 1 3 1 0 1-1 1-2 1 3 1 1 1-3 1 0 1 1 1-3 1 0 1 3 1 2 1-2 1 0 1-2 1 3 1-1 1 2 1 2 1-4 1-1 1 2 1-1 1 0 1-1 1 1 1-1 1 0 1 0 1 0 1 0 1 0 1 3 1-1 1 0 1 0 1-4 1 4 1-2 1 4 1-5 1 1 1 1 1 1 1 2 1-7 1 4 1-2 1 2 1-7 1 8 1-2 1 0 1-2 1-1 1-3 1 4 1 7 1-7 1 4 1-5 1 2 1-1 1-1 1 5 1 1 1-2 1 2 1 0 1-6 1 0 1 3 1 1 1-2 1 3 1-1 1-2 1 2 1-1 1-2 1 4 1-1 1 0 1-1 1-2 1-3 1 4 1 2 1-5 1 11 1-4 1-4 1 3 1 0 1-3 1 1 1 3 1-5 1 0 1 3 1 4 1-5 1 1 1-5 1-1 1 2 1 2 1 5 1-5 1-1 1 5 1-3 1 2 1-4 1 1 1 3 1-3 1 6 1-3 1 1 1-3 1 3 1-3 1-1 1 3 1 0 1 2 1-6 1 4 1-4 1-1 1 4 1-2 1-1 1 6 1-2 1 0 1-1 1-4 1 5 1-3 1 1 1 4 1-10 1 11 1-2 1-1 1 1 1-1 1 2 1-5 1-1 1 1 1 4 1-6 1 0 1 4 1-2 1-1 1 1 1 0 1-1 1 3 1 0 1 0 1 2 1-1 1-2 1 4 1-3 1 1 1-2 1 3 1 2 1-5 1 3 1 0 1-5 1 8 1-7 1 4 1-3 1 1 1-4 1 0 1 5 1 0 1-1 1-2 1 5 1-2 1-5 1-1 1 4 1-6 1 8 1-4 1 4 1-4 1 2 1 4 1-4 1-2 1-1 1 1 1 3 1 0 1-1 1 3 1-4 1 4 1-2 1 1 1-2 1-2" stroke="#e6323e" stroke-width="0.9" marker-start="url(#m0)" marker-mid="url(#m0)" marker-end="url(#m0)"/><path class="s" transform="translate(56.9 0) scale(0.25 1.0)" vector-effect="non-scaling-stroke" d="M0 409l1-4 1-2 1 3 1-4 1 0 1 6 1-11 1 10 1 0 1-9 1 7 1 0 1-3 1-6 1 2 1-15 1 18 1 7 1-10 1 5 1-3 1 2 1-8 1-21 1 28 1-24 1 19 1 13 1-27 1 26 1-7 1-2 1 6 1-4 1 5 1-1 1-5 1 1 1-4 1 14 1-14 1 7 1 2 1-2 1-4 1-2 1 8 1-7 1 11 1-4 1-8 1 6 1 0 1 1 1-6 1-2 1 8 1-4 1 4 1-5 1 6 1-7 1 1 1 7 1-9 1-62 1 72 1-5 1-1 1-4 1-2 1 9 1-2 1 13 1-9 1 6 1-10 1 1 1-34 1 31 1-1 1 4 1 4 1-9 1 2 1 7 1-6 1-30 1 24 1 11 1 0 1-3 1 4 1-6 1 3 1 3 1-6 1 6 1-1 1-4 1-2 1 12 1-10 1 0 1-6 1 8 1-1 1 7 1-2 1-6 1-7 1 1 1 10 1-2 1-1 1-1 1 6 1-7 1 3 1 8 1-8 1-3 1-2 1 2 1-1 1-5 1 12 1-10 1 8 1 12 1-17 1 8 1-8 1 2 1-52 1 6 1 46 1-1 1 11 1-9 1 5 1-3 1 0 1-12 1 23 1-15 1 7 1-5 1-2 1-23 1 11 1 15 1-3 1-4 1 2 1-2 1 2 1-2 1 7 1 3 1-11 1 9 1 2 1-7 1 7 1-50 1 41 1 11 1-9 1 7 1-7 1-2 1 9 1-26 1 18 1-24 1 37 1 3 1-11 1-3 1 1 1-64 1 65 1-6 1 12 1-8 1 7 1-3 1 0 1-13 1 12 1 8 1-14 1 6 1 3 1-1 1 3 1-33 1 34 1-7 1 2 1-4 1-22 1 28 1-11 1 4 1-2 1 6 1 21 1-21 1-3 1-1 1-6 1 12 1-2 1-10 1 7 1 7 1 2 1-10 1 0 1-2 1 19 1-12 1 1 1-24 1 19 1 3 1-9 1 2 1 7 1 7 1-33 1 16 1 8 1-4 1 8 1-11 1 6 1-25 1 29 1-2 1-25 1 26 1-3 1 2 1 0 1-5 1-3 1 2 1 5 1-2 1 2 1-8 1 10 1 4 1-40 1 36 1-1 1 2 1 0 1-6 1-4 1 11 1-8 1 9 1-6 1 4 1 3 1-3 1-10 1 13 1 1 1-6 1 0 1-34 1 36 1-5 1 3 1 2 1 6 1-4 1-1 1-3 1 6 1-11 1-2 1-4 1 10 1 1 1-2 1 2 1 0 1-5 1 13 1-33 1 35 1-13 1 13 1-11 1 0 1 2 1 2 1-3 1 7 1-6 1-5 1 5 1 1 1-77 1 76 1-1 1-1 1-2 1-5 1-5 1 14 1-6 1 9 1-1 1 1 1-4 1-9 1 4 1 11 1-8 1 4 1 3 1-1 1-1 1-3 1 9 1-5 1-7 1 7 1-2 1-3 1-6 1 11 1 3 1-3 1-9 1 1 1-27 1 27 1 11 1-6 1-1 1 4 1-1 1-9 1 20 1-18 1 11 1-13 1 11 1-4 1-9 1 8 1-5 1-7 1 10 1-7 1 8 1 4 1-5 1-1 1 5 1 4 1-1 1-6 1 7 1 1 1-21 1 8 1 10 1-7 1 11 1-9 1-1 1 18 1-25 1 7 1 5 1-5 1 4 1-14 1 9 1 2 1 7 1-1 1-12 1 4 1 10 1-8 1-1 1-6 1 12 1 2 1-16 1 13 1-4 1-14 1 11 1 7 1-4 1 4 1 9 1-17 1 8 1-5 1 11 1 2 1-11 1-5 1 11 1-7 1-25 1 30 1-57 1 56 1-10 1 15 1-4 1-1 1-6 1-3 1 9 1-2 1-4 1 0 1 1 1 6 1-7 1 7 1 2 1-3 1-12 1 12 1 0 1-36 1 37 1-9 1-37 1 41 1-3 1 11 1-10 1-6 1 18 1-9 1-3 1 16 1-6 1-9 1-6 1 5 1 1 1 2 1-1 1 6 1-2 1 6 1-44 1 34 1-5 1 8 1-4 1 0 1 2 1 0 1 9 1-13 1 5 1 3 1-7 1-2 1 10 1-12 1 9 1-3 1-2 1-18 1 13 1 2 1 2 1-3 1 8 1-4 1 1 1 16 1-14 1 0 1 3 1-1 1-1 1 5 1-6 1 1 1-7 1 0 1 2 1 7 1-5 1 1 1 2 1 3 1-1 1 0 1-7 1 3 1-4 1 5 1-3 1 0 1-53 1 64 1-6 1-32 1 39 1-3 1-6 1 1 1-1 1 2 1-4 1 9 1-7 1-5 1 6 1-57 1 68 1-1 1-6 1 2 1-11 1 9 1 0 1-7 1-1 1-11 1 16 1-3 1-8 1 5 1-2 1-49 1 56 1-4 1 14 1-10 1-6 1 10 1 7 1-18 1 11 1-6 1 3 1-1 1-1 1-7 1 9 1 1 1-3 1-2 1 5 1-2 1-58 1 50 1-2 1 5 1 6 1 5 1-1 1-7 1-3 1 0 1 11 1 1 1-11 1 5 1-11 1 10 1-11 1 15 1-12 1 12 1 2 1-11 1 9 1 0 1-3 1 6 1-2 1 4 1-2 1-3 1-12 1 6 1 2 1-25 1 32 1-1 1-5 1-12 1 13 1 0 1-3 1-22 1 24 1 2 1-10 1 3 1 4 1 3 1 0 1-7 1 12 1-4 1-41 1 35 1 4 1-15 1 13 1 5 1-8 1-2 1 8 1 3 1-10 1-2 1-3 1 16 1-32 1 25 1-3 1 4 1 11 1-7 1-32 1 25 1 6 1-2 1 8 1-10 1-7 1 6 1-2 1 3 1-3 1-115 1 111 1 2 1 5 1 7 1-5 1-5 1 2 1 6 1-1 1-8 1 11 1-12 1-1 1 7 1 4 1-5 1 1 1-3 1-7 1 12 1-8 1 7 1-5 1-80 1 85 1-5 1-5 1-1 1-20 1-20 1 51 1-5 1 4 1 0 1 1 1-8 1 2 1-1 1 5 1-2 1 7 1-5 1 6 1-6 1-7 1 13 1-6 1 0 1-43 1 44 1-7 1 20 1-44 1 30 1-2 1 8 1-34 1 27 1 2 1-7 1 8 1-5 1-5 1 1 1 7 1-16 1 2 1 8 1 5 1 0 1-78 1 87 1 1 1-15 1 0 1 9 1 12 1-14 1 6 1-9 1 3 1-10 1 12 1-13 1 11 1-1 1 6 1 3 1 1 1 6 1 3 1-8 1 11 1-18 1 14 1-5 1 5 1-6 1-4 1 5 1-5 1 6 1-2 1 2 1 5 1-9 1 2 1-1 1-1 1 5 1-27 1 23 1-1 1-4 1 5 1 1 1 5 1-6 1-4 1 1 1 5 1-3 1-2 1 5 1 2 1-22 1 17 1 3 1-1 1 2 1-2 1-2 1 4 1 3 1-4 1 1 1-4 1-3 1 13 1-10 1 5 1-3 1-3 1 4 1-1 1-3 1 5 1-7 1 8 1-10 1 6 1 6 1-3 1 0 1-1 1 4 1-9 1 2 1 8 1-4 1-4 1 5 1-4 1 5 1-3 1-3 1 1 1-5 1 14 1-23 1 21 1 3 1-12 1 3 1 3 1-7 1-91 1 91 1-19 1 22 1-19 1 21 1-7 1 7 1-3 1 1 1 1 1-1 1-2 1 0 1 0 1 2 1 7 1-15 1 11 1-1 1-10 1 10 1 0 1-2 1 1 1-5 1 8 1-6 1 3 1 1 1-3 1 7 1-4 1-4 1-2 1 8 1-12 1 3 1 12 1-2 1-2 1-3 1 0 1 1 1 1 1-5 1 6 1 0 1-1 1-3 1 1 1-2 1 5 1-4 1 6 1-8 1-3 1 7 1-3 1 2 1 4 1-2 1-4 1 6 1-2 1-1 1 0 1-1 1 5 1-2 1-10 1-13 1 14 1 14 1-9 1 7 1-9 1 4 1 10 1-13 1 1 1 1 1-3 1 1 1-3 1 9 1-7 1 6 1-2 1 0 1 5 1-11 1 1 1 8 1-28 1 24 1-21 1 20 1 0 1-2 1 3 1-14 1 18 1-3 1 1 1-20 1 19 1-15 1 8 1 5 1 6 1-2 1-4 1 4 1-8 1-2 1 8 1 3 1-5 1 1 1-4 1 14 1-8 1-2 1 2 1 2 1-3 1 0 1 6 1-8 1 0 1-3 1 4 1 15 1-10 1-5 1-3 1-6 1 11 1-3 1-6 1 12 1 6 1-16 1 4 1-4 1-16 1 24 1-1 1-3" stroke="#5cbf86" stroke-width="1.3" marker-start="url(#m3)" marker-mid="url(#m3)" marker-end="url(#m3)"/></g><path d="M56.6 286.9V462.5" stroke="#c4c4c4" stroke-width="1" fill="none"/><text class="tk" x="52.3" y="466.1">0</text><text class="tk" x="52.3" y="441">5</text><text class="tk" x="52.3" y="415.9">10</text><text class="tk" x="52.3" y="390.8">15</text><text class="tk" x="52.3" y="365.8">20</text><text class="tk" x="52.3" y="340.7">25</text><text class="tk" x="52.3" y="315.6">30</text><text class="tk" x="52.3" y="290.5">35</text><path d="M56.1 462.5h6M56.1 437.4h6M56.1 412.3h6M56.1 387.2h6M56.1 362.2h6M56.1 337.1h6M56.1 312h6M56.1 286.9h6" stroke="#8a8a8a" stroke-width="1" fill="none"/><text class="yl" transform="translate(23.7 365.8) rotate(-90)" textLength="100.7" lengthAdjust="spacingAndGlyphs">FSF domains (%)</text><path d="M321.5 332H352.3" stroke="#c8c8c8" stroke-width="2.6"/><circle cx="336.9" cy="331.5" r="1.15" fill="#1a1a1a"/><text class="lt" x="356.2" y="336" textLength="76.3" lengthAdjust="spacingAndGlyphs">Nuclear transfer</text><path d="M321.5 357.5H352.3" stroke="#f3dc5a" stroke-width="1.0"/><circle cx="336.9" cy="357.5" r="1.15" fill="#bba400"/><text class="lt" x="356.2" y="362" textLength="75.0" lengthAdjust="spacingAndGlyphs">RNA processing</text><path d="M321.5 383.5H352.3" stroke="#ee5a64" stroke-width="1.0"/><circle cx="336.9" cy="383.8" r="1.15" fill="#b0101e"/><text class="lt" x="356.2" y="388.3" textLength="76.3" lengthAdjust="spacingAndGlyphs">DNA replication</text><path d="M321.5 410.5H352.3" stroke="#f39060" stroke-width="1.0"/><circle cx="336.9" cy="410.4" r="1.15" fill="#8a3410"/><text class="lt" x="356.2" y="414.9" textLength="63.2" lengthAdjust="spacingAndGlyphs">Transcription</text><path d="M321.5 436.5H352.3" stroke="#4cb87a" stroke-width="1.0"/><circle cx="336.9" cy="436.6" r="1.15" fill="#0a4a22"/><text class="lt" x="356.2" y="441.1" textLength="52.7" lengthAdjust="spacingAndGlyphs">Translation</text><path d="M321.5 462.5H352.3" stroke="#5a5a5a" stroke-width="1.0"/><circle cx="336.9" cy="462.9" r="1.15" fill="#000000"/><text class="lt" x="356.2" y="467.4" textLength="96.6" lengthAdjust="spacingAndGlyphs">Chromatin structure</text></g>
<g><text class="ti" x="56.5" y="489.7" textLength="67.3" lengthAdjust="spacingAndGlyphs">Regulation</text><path d="M55.6 515.0V498.4H300.6V515.0M74.0 498.4V515.0M240.6 498.4V515.0" fill="none" stroke="#6e6e6e" stroke-width="1.15"/><text class="br" x="64.8" y="509.9">A</text><text class="br" x="169.3" y="509.9">B</text><text class="br" x="270.6" y="509.9">E</text><g class="d"><path class="s" transform="translate(55.9 0) scale(0.25 1.0)" vector-effect="non-scaling-stroke" d="M0 694l1-1 1 1 1 0 1 0 1-1 1 1 1 0 1 0 1 0 1-1 1 1 1 1 1 0 1-2 1 1 1 1 1 0 1-1 1 1 1 0 1-1 1 0 1 1 1 0 1-1 1 0 1 1 1-2 1 2 1-1 1 1 1-1 1-2 1 2 1 0 1 0 1 0 1 0 1 1 1 0 1-2 1 1 1 0 1 1 1 0 1-1 1 0 1 1 1-1 1 0 1 0 1 0 1 0 1 0 1 0 1 0 1 0 1 0 1 1 1 0 1-1 1 1 1-1 1 0 1 0 1 0 1-1 1 2 1-1 1-1 1 1 1 0 1 0 1 1 1 0 1-1 1 1 1-1 1 1 1-1 1 1 1 0 1-1 1 0 1-1 1 1 1-1 1 2 1-1 1 0 1 1 1-1 1-1 1 1 1 0 1 0 1-1 1 2 1-1 1 0 1 0 1 0 1 1 1 0 1-1 1 1 1-1 1 0 1 1 1-1 1 0 1 1 1-1 1 1 1-1 1 1 1-1 1 0 1 0 1 0 1-1 1 1 1 0 1-1 1 1 1 0 1 0 1 0 1 0 1 1 1-1 1 0 1 0 1 0 1 0 1 0 1 0 1 1 1 0 1-1 1 1 1-1 1 0 1 1 1-1 1 0 1 1 1 0 1 0 1-2 1 0 1 1 1 1 1-1 1 1 1-1 1 1 1-2 1 1 1 1 1-2 1 1 1 0 1 0 1 0 1 0 1 1 1-1 1 1 1-1 1 0 1 1 1-1 1 0 1 1 1 0 1-1 1-1 1 1 1 0 1 1 1-1 1 0 1 1 1-1 1 1 1-1 1 0 1 0 1 0 1-1 1 0 1 1 1-2 1 2 1 1 1 0 1-1 1 1 1 0 1-1 1 1 1 0 1 0 1-2 1 1 1 0 1 0 1 0 1 0 1 0 1 1 1-1 1 1 1-1 1 1 1-2 1 2 1-1 1 0 1 1 1-1 1 0 1 0 1 0 1 1 1-2 1 2 1-2 1 0 1 1 1 0 1 0 1 0 1 0 1 0 1 0 1 1 1-1 1 0 1 1 1 0 1-1 1 0 1 1 1-1 1 1 1 0 1-1 1-1 1 1 1 1 1-2 1 1 1-1 1 0 1 1 1-1 1 1 1 0 1 1 1-2 1 0 1 2 1 0 1-1 1 0 1 0 1 0 1 1 1-1 1-1 1 0 1 1 1-1 1 0 1 2 1-1 1 0 1 0 1 1 1-1 1 0 1 1 1-2 1 0 1 2 1 0 1-1 1 0 1 1 1 0 1-2 1 2 1-1 1 0 1 0 1 0 1 0 1 1 1 0 1-3 1 2 1 0 1 0 1-1 1 1 1 1 1-1 1 1 1-1 1 0 1 0 1 0 1 1 1-1 1 0 1 0 1-1 1 0 1 1 1 1 1-1 1 0 1 0 1 1 1-2 1 2 1-1 1 0 1 0 1 0 1 0 1 0 1 1 1 0 1 0 1-1 1 0 1 0 1 1 1-1 1-1 1 2 1-2 1 1 1-1 1 2 1-1 1 0 1 0 1 0 1 0 1 0 1 1 1 0 1-1 1-1 1 0 1 0 1 0 1 1 1 0 1 0 1 1 1-2 1 2 1-2 1 1 1 0 1 1 1 0 1-1 1 1 1-1 1 0 1 0 1-1 1 1 1-1 1 1 1 1 1-1 1 0 1-1 1 0 1 1 1 1 1-1 1 1 1-1 1-1 1 1 1 0 1 1 1-1 1 0 1 0 1 0 1 0 1 1 1 0 1-1 1 0 1 0 1 0 1 0 1-1 1 1 1 0 1 1 1-1 1 1 1 0 1 0 1-1 1 0 1-1 1 2 1 0 1-2 1 1 1 0 1 1 1-1 1 1 1-1 1 0 1 0 1 0 1 1 1-1 1 1 1 0 1 0 1-1 1 1 1-1 1 0 1-1 1 2 1-1 1 0 1-1 1 1 1 0 1 0 1 1 1-1 1-1 1 2 1-1 1-1 1 1 1 1 1 0 1 0 1-1 1 1 1 0 1-1 1 0 1 0 1 0 1-2 1 2 1-1 1 1 1 0 1 0 1 1 1-2 1 2 1 0 1-1 1 1 1-1 1 1 1 0 1 0 1 0 1-1 1 0 1 0 1 0 1 0 1 1 1-1 1 0 1 1 1-1 1 0 1 0 1 0 1 1 1-1 1 1 1-1 1 0 1 0 1 0 1 1 1-1 1 0 1 1 1 0 1-1 1 1 1-1 1 1 1 0 1-1 1 0 1 0 1 1 1 0 1 0 1-1 1 0 1 1 1 0 1-2 1 1 1 1 1-1 1 0 1 0 1 1 1-1 1 0 1-1 1 2 1-1 1 1 1-1 1-1 1 2 1 0 1-2 1 1 1 1 1 0 1-2 1 1 1 0 1 1 1-1 1 1 1-3 1 2 1-1 1 1 1 0 1-1 1 0 1 1 1 0 1 0 1 1 1-1 1 0 1 0 1 0 1 1 1-2 1 2 1-1 1 0 1 0 1 0 1 1 1-1 1 1 1-1 1 0 1 0 1 0 1 1 1-1 1 0 1-1 1 0 1 1 1 0 1 0 1 0 1 0 1 1 1-2 1 2 1 0 1 0 1 0 1 0 1-1 1 1 1-2 1 1 1 0 1 0 1 1 1-1 1 0 1 1 1-1 1 1 1 0 1-1 1 0 1 0 1 1 1-2 1 1 1 1 1-1 1 0 1 1 1-2 1 1 1 0 1 1 1-1 1 0 1 0 1 0 1 1 1-1 1 1 1-1 1 1 1 0 1-1 1-1 1 2 1-1 1 0 1 0 1 0 1 1 1-1 1 1 1 0 1 0 1-2 1 2 1-1 1 0 1 1 1 0 1 0 1 0 1-1 1 0 1 0 1-1 1 0 1 1 1 0 1 0 1 0 1-1 1 1 1 0 1 0 1 1 1-1 1 0 1 1 1-1 1 0 1 0 1-1 1-1 1 2 1 1 1-1 1 0 1 0 1 1 1 0 1-1 1 0 1 1 1-1 1 1 1-1 1 0 1 1 1-1 1 0 1 0 1 1 1 0 1 0 1 0 1-1 1 1 1-1 1 0 1 0 1 1 1-1 1 1 1-1 1 0 1 1 1-2 1 1 1-1 1 2 1-1 1-1 1 1 1 1 1 0 1-2 1 1 1 0 1 0 1 0 1 1 1-1 1 0 1 0 1 0 1 0 1 0 1 0 1 1 1-1 1 0 1 1 1 0 1 0 1-2 1 1 1 1 1-1 1 1 1 0 1-1 1 0 1 1 1 0 1 0 1 0 1 0 1-1 1 0 1 0 1-1 1 1 1 0 1 0 1 0 1 1 1-2 1 2 1 0 1-1 1 0 1 0 1 0 1 0 1 0 1 0 1 0 1 1 1 0 1-1 1 0 1 1 1-1 1 1 1-1 1 1 1-1 1 0 1 1 1 0 1-1 1-1 1 2 1-1 1 1 1 0 1-1 1 0 1 1 1-1 1-1 1 1 1 0 1 1 1-1 1 0 1 0 1-1 1 2 1 0 1 0 1 0 1-1 1-1 1 0 1 2 1-1 1 0 1 0 1 1 1-1 1 1 1 0 1-1 1-1 1 1 1 0 1-1 1 2 1-1 1 0 1 0 1 1 1-1 1 0 1 1 1-1 1 1 1-1 1 1 1-2 1 2 1-1 1 0 1 0 1 0 1-1 1 2 1-1 1 1 1 0 1-1 1 0 1 0 1 1 1 0 1 0 1-1 1-1 1 1 1-1 1 2 1-1 1 0 1 1 1-1 1-1 1 0 1 1 1-2 1 2 1 1 1 0 1-1 1 0 1 0 1 0 1 1 1-1 1 1 1-1 1 1 1 0 1 0 1-1 1 0 1 0 1 0 1-1 1 1 1 0 1 0 1 0 1 0 1 0 1-1 1 1 1 1 1 0 1-2 1 0 1 2 1-2 1 1 1-1 1 2 1 0 1-1 1 0 1 0 1 0 1 0 1 0 1 0 1 0 1 0 1 0 1 0 1 1 1 0 1-1 1 0 1-1 1 1 1 0 1 0 1 1 1-1 1 0 1 1 1 0 1 0 1-1 1 0 1 0 1 1 1-1 1 0 1 1 1-1 1-1 1 1 1 0 1 0 1-1 1 2 1-1 1 1 1 0 1-1 1 1 1 0 1-1 1 0 1 0 1 0 1 1 1-2 1 1 1 0 1 0 1-1 1 2 1-1 1 0 1 0 1 0 1 1 1-1 1 0 1 0 1 0 1 0 1 0 1 0 1 1 1-1 1 1 1 0 1 0 1-1 1 0 1 1 1-1 1 0 1-1 1 1" stroke="#555555" stroke-width="0.9" marker-start="url(#m2)" marker-mid="url(#m2)" marker-end="url(#m2)"/><path class="s" transform="translate(55.9 0) scale(0.25 1.0)" vector-effect="non-scaling-stroke" d="M0 686l1 1 1 0 1 2 1-2 1-1 1 3 1 0 1-4 1 2 1-1 1-1 1 8 1-6 1 3 1-2 1 1 1-4 1 6 1-5 1 1 1 0 1 3 1-2 1 1 1 1 1 0 1-3 1 4 1-4 1 3 1 0 1-4 1 0 1 2 1 3 1 0 1-1 1-3 1 4 1-4 1 6 1-6 1 2 1 5 1-6 1-1 1-1 1 0 1 5 1-2 1 2 1-2 1 6 1-6 1 2 1-4 1 3 1 1 1 0 1-6 1 5 1 0 1-2 1-2 1 2 1 5 1-1 1-1 1 0 1-2 1 0 1-3 1 1 1-1 1 6 1-1 1-3 1 5 1-6 1 4 1-2 1 5 1-7 1-2 1 3 1 5 1-5 1 1 1-1 1-2 1 3 1-1 1 3 1-2 1 1 1-3 1 4 1-1 1-3 1 2 1 0 1 5 1-3 1 2 1-6 1-3 1 6 1-4 1 5 1-4 1-2 1 7 1-1 1 2 1-3 1-3 1 1 1 2 1-3 1 1 1 1 1-3 1 6 1-4 1 2 1-4 1 0 1-2 1 6 1 2 1-9 1 7 1-1 1 0 1 1 1 0 1-1 1-2 1-1 1 2 1 3 1 3 1-4 1-1 1 0 1 3 1-6 1 4 1-3 1 3 1-4 1 1 1 5 1-2 1-6 1 7 1 0 1-4 1 5 1-2 1-5 1-1 1 0 1 3 1 1 1-3 1 6 1-2 1-1 1-3 1 3 1 1 1 3 1-3 1 4 1-4 1-1 1 0 1 1 1 1 1-3 1 1 1-1 1 3 1-2 1 1 1-2 1 2 1 2 1 0 1-4 1 3 1-7 1 4 1 0 1 2 1 3 1-3 1-2 1 2 1-2 1 1 1 2 1-2 1-1 1 2 1 0 1 1 1-2 1 0 1 6 1-8 1 6 1 0 1-1 1 1 1-1 1 1 1-1 1-1 1 0 1-1 1-1 1 1 1-2 1-2 1 6 1-3 1 0 1 0 1 0 1 0 1 1 1-3 1 1 1 0 1 2 1-1 1 3 1-3 1 1 1-1 1-1 1 2 1 1 1-1 1 2 1-6 1 4 1 0 1-3 1 4 1-4 1 7 1-7 1 4 1 4 1-7 1 4 1-4 1 7 1-5 1 1 1 1 1-1 1-3 1-2 1 4 1 0 1 4 1-5 1 1 1-1 1-4 1 6 1-2 1-1 1 4 1-1 1 2 1-2 1-4 1 3 1 3 1-3 1 1 1 1 1-3 1 2 1-3 1 2 1-2 1 3 1-1 1 0 1 3 1-5 1 1 1 1 1-2 1 0 1 3 1-5 1 4 1-5 1 7 1-2 1-1 1 2 1-2 1-2 1 4 1-1 1-1 1 0 1 2 1-6 1 5 1 3 1 0 1 0 1-6 1 0 1 1 1 4 1 2 1-7 1 4 1-4 1 3 1-1 1-2 1 2 1-2 1 2 1-1 1 4 1 1 1-5 1 4 1-2 1-1 1-2 1 4 1 0 1 0 1-2 1 2 1-2 1-3 1 2 1 0 1 3 1-2 1 0 1 2 1-2 1 1 1 0 1-5 1 5 1-2 1 3 1-1 1 4 1-4 1-4 1 2 1 2 1 0 1 3 1-5 1 0 1-1 1 7 1-3 1 0 1 3 1-1 1-7 1 0 1 3 1 3 1-4 1-4 1 7 1-3 1-1 1 1 1 5 1 0 1-1 1-1 1-2 1 2 1-4 1 3 1 4 1-3 1 3 1-2 1-1 1-1 1 0 1-1 1 2 1 4 1-6 1 1 1 1 1-2 1 2 1 1 1-3 1 5 1-3 1 0 1 2 1-6 1 3 1 1 1 5 1-7 1 3 1-2 1 1 1 1 1 2 1-4 1-1 1 0 1-2 1 4 1-4 1 1 1 0 1 5 1 1 1-3 1-2 1 0 1-1 1 4 1-1 1-2 1-2 1 3 1 1 1 2 1-4 1 1 1-2 1 4 1-2 1 0 1-2 1 5 1-3 1 2 1-2 1-4 1 10 1-6 1-3 1 1 1 2 1 1 1-4 1 3 1-1 1-1 1 6 1-4 1-2 1 2 1-3 1 0 1 2 1 0 1-2 1 1 1 1 1 0 1 1 1-2 1 3 1-3 1 4 1-2 1-1 1 0 1 4 1-2 1-1 1-1 1 0 1 4 1 0 1-7 1 3 1-4 1 3 1 6 1-4 1-3 1 2 1 1 1-1 1-2 1 3 1-4 1 2 1 1 1-1 1 4 1-5 1 2 1 3 1-3 1 2 1-3 1 3 1 1 1-1 1-3 1 1 1 1 1 0 1-1 1 2 1 0 1 4 1-7 1 3 1 2 1-4 1-2 1 3 1-3 1 1 1 1 1 2 1 2 1-7 1 7 1-6 1 6 1-3 1-1 1 0 1 0 1 0 1 0 1 2 1-3 1 2 1-3 1 0 1-1 1 3 1 2 1 2 1-1 1 0 1-6 1 7 1-5 1 2 1 3 1-5 1 1 1 3 1-2 1 0 1 2 1-2 1-1 1 4 1 0 1-5 1 3 1-2 1 6 1-4 1-2 1-1 1 5 1-6 1-2 1 5 1-3 1 3 1-4 1 3 1-2 1-5 1 9 1-1 1-5 1 4 1-2 1-2 1 6 1 0 1-4 1 2 1-1 1 3 1 1 1-3 1 0 1 2 1 1 1-1 1-1 1 2 1 1 1-3 1 1 1-6 1 4 1 0 1 0 1-1 1-1 1-1 1 1 1-1 1 3 1 3 1-1 1 3 1-6 1 4 1 0 1-4 1 0 1 0 1-1 1 2 1-1 1 0 1 3 1-1 1 0 1-4 1 6 1-4 1 5 1 1 1-7 1-1 1 2 1-1 1 7 1-6 1 2 1-1 1 0 1 0 1-2 1 3 1-2 1 0 1 0 1 3 1 2 1-7 1 5 1-1 1 1 1-2 1 5 1-4 1-2 1 4 1 1 1-1 1-3 1 0 1 1 1 5 1-5 1-1 1 3 1 0 1-3 1 3 1 1 1-3 1 1 1 0 1 1 1-3 1 1 1-2 1-3 1 3 1 3 1 1 1 0 1 0 1-3 1 3 1-7 1 6 1-1 1-2 1 2 1-1 1 0 1 1 1 0 1-1 1 3 1 2 1-5 1 0 1 0 1-1 1 0 1 0 1 2 1-3 1 3 1-2 1 6 1-3 1-2 1-1 1 3 1 0 1 2 1-1 1-2 1 0 1 2 1-6" stroke="#9a9a9a" stroke-width="1.8" marker-start="url(#m6)" marker-mid="url(#m6)" marker-end="url(#m6)"/><path class="s" transform="translate(55.9 0) scale(0.25 1.0)" vector-effect="non-scaling-stroke" d="M739 685l1 6 1 2 1-7 1-3 1 3 1 3 1-3 1-10 1 15 1 3 1-7 1 1 1 0 1 1 1 2 1 1 1-3 1-8 1-2 1 8 1-7 1 13 1-4 1-7 1 4 1 9 1-5 1-5 1 2 1-2 1-2 1-14 1 21 1-22 1 15 1 3 1 1 1 0 1 2 1-2 1-5 1 9 1-3 1-6 1 7 1-9 1 5 1-2 1 1 1-4 1 8 1 3 1-19 1 20 1-6 1-3 1 10 1-9 1 7 1-6 1-10 1 13 1 6 1-8 1-10 1-22 1 35 1 4 1-7 1 4 1 1 1-16 1 10 1 3 1-1 1-5 1 7 1 5 1-1 1-3 1-3 1 7 1-8 1-6 1 4 1 4 1-5 1-27 1-29 1 65 1 2 1-26 1 25 1-9 1-3 1 2 1 5 1 0 1-4 1 0 1-3 1 3 1-2 1-3 1-2 1 9 1 2 1-3 1 6 1-6 1-3 1 3 1-3 1 6 1-14 1 8 1 5 1-5 1 8 1-3 1 0 1 2 1-1 1 2 1 3 1-10 1 12 1-6 1 5 1 0 1-4 1 3 1-13 1 2 1-28 1 30 1-9 1 9 1-2 1 10 1-8 1 7 1-4 1-2 1 5 1-1 1-10 1 10 1-7 1 2 1-22 1 28 1 1 1 4 1-7 1-6 1 10 1-7 1 7 1-10 1 1 1 11 1 1 1-6 1-7 1 6 1 3 1-36 1 36 1-6 1 3 1-3 1-7 1 10 1-5 1 7 1-3 1-3 1 7 1-12 1 13 1-15 1 11 1-1 1 7 1-3 1-9 1 7 1-4 1 5 1-5 1-3 1 9 1-4 1 3 1-14 1 8 1-2 1 3 1-4 1 9 1-7 1 4 1-22 1 23 1 2 1-10 1 4 1-2 1 8 1-5 1-2 1 12 1-8 1-3 1 2 1 0 1 0 1 4 1-8 1 9 1 2 1-21 1 4 1 8 1-4 1 4 1 0 1 0 1-4 1 9 1 6 1-11 1 2 1 1 1-3 1 8 1-4" stroke="#c4c4c4" stroke-width="1.8" marker-start="url(#m9)" marker-mid="url(#m9)" marker-end="url(#m9)"/><path class="s" transform="translate(55.9 0) scale(0.25 1.0)" vector-effect="non-scaling-stroke" d="M0 681l1 0 1-1 1 0 1-3 1 4 1-1 1 6 1-7 1 2 1-3 1 4 1 3 1-2 1-2 1 3 1-5 1 2 1-4 1 3 1 5 1-8 1 1 1-3 1 5 1 5 1 1 1-1 1-6 1-4 1 6 1 0 1 4 1-1 1-5 1 1 1 2 1-4 1-1 1 5 1 1 1-2 1 0 1 2 1-3 1-2 1 1 1-4 1 7 1-9 1 6 1-1 1 4 1 5 1-9 1 4 1-2 1 0 1-1 1 5 1-6 1-3 1 7 1 1 1-4 1 4 1-6 1 3 1 0 1 5 1-11 1 3 1 3 1-3 1 1 1 0 1-3 1-3 1 7 1-3 1-14 1 5 1 10 1 3 1-7 1 13 1-6 1-9 1 0 1 9 1-5 1-9 1 12 1 4 1-16 1 0 1 13 1-16 1 14 1-1 1 7 1-16 1 10 1 6 1-3 1-3 1-1 1 2 1 2 1-4 1-5 1 4 1-6 1 8 1-7 1 7 1-8 1 18 1-22 1 15 1-16 1 12 1-4 1-3 1 2 1 9 1 2 1-12 1 0 1 11 1-3 1-2 1-4 1 2 1-2 1 2 1 9 1-14 1 5 1-5 1 9 1-10 1 9 1-2 1-9 1 1 1 2 1-1 1 2 1 6 1 0 1-14 1 6 1 0 1-1 1 14 1-9 1 6 1-1 1-2 1-10 1 6 1-2 1-7 1 20 1-9 1-4 1 8 1 3 1-10 1 4 1 6 1-6 1-1 1 0 1 2 1-3 1 2 1 2 1-9 1 3 1 5 1 13 1-12 1 3 1-3 1 2 1 1 1-12 1 11 1-1 1-1 1 4 1-12 1 8 1-13 1 15 1-5 1 3 1-3 1 1 1 4 1-2 1-9 1 3 1 6 1-7 1 2 1 11 1-19 1 14 1-7 1 3 1 4 1-7 1 3 1-1 1 10 1-8 1 6 1-3 1-8 1 7 1-1 1-1 1-1 1 3 1-9 1 9 1-1 1-10 1 3 1-2 1 9 1-1 1-10 1 9 1 3 1-9 1 9 1 9 1-6 1 7 1-18 1 14 1-7 1 2 1-6 1 1 1-3 1 6 1 4 1-1 1-8 1 10 1-3 1-9 1 4 1-2 1 1 1 7 1-7 1-11 1 7 1 3 1 6 1-5 1-4 1 7 1-4 1 7 1-3 1 0 1-5 1 5 1-12 1 12 1-10 1 4 1 6 1-9 1 5 1-6 1 10 1 7 1-9 1 13 1-14 1 6 1-5 1 11 1-3 1-5 1-3 1-2 1 5 1 4 1-4 1-3 1-3 1-3 1 17 1-8 1 5 1-9 1 2 1 4 1 2 1-4 1-5 1 6 1-5 1 2 1-1 1 10 1-11 1-2 1 4 1-1 1 6 1-1 1-5 1 7 1 1 1-4 1-1 1-7 1-2 1 10 1 0 1 0 1-10 1 7 1 4 1-7 1-6 1 11 1-16 1 14 1-5 1 13 1-11 1 8 1-7 1-7 1 7 1 3 1 6 1-11 1 0 1 0 1-2 1 11 1-11 1 9 1 6 1-12 1-6 1 12 1 4 1 5 1-3 1-10 1-6 1 7 1-4 1-9 1 12 1 2 1-5 1 9 1-5 1-3 1 0 1 2 1 0 1-1 1 1 1 0 1 13 1-19 1-4 1 17 1-6 1-3 1 11 1-14 1-1 1 3 1 1 1 14 1-9 1 6 1-7 1 0 1 5 1-7 1 0 1-6 1 4 1 7 1-3 1 0 1-2 1-3 1 7 1-2 1 9 1-11 1-2 1-4 1 8 1-4 1 5 1-10 1 17 1-10 1 7 1 3 1-8 1-14 1 18 1-3 1-5 1-4 1 15 1-6 1-3 1-9 1 8 1 6 1 0 1-10 1 16 1-12 1 4 1 1 1-8 1 4 1-2 1 12 1-4 1-4 1 2 1-5 1-7 1 19 1-11 1 9 1-11 1 4 1-8 1 4 1 13 1-21 1 1 1 6 1 5 1-7 1 0 1 14 1 6 1-19 1 1 1 17 1-4 1-3 1-6 1-12 1 8 1-1 1 1 1-1 1 2 1 7 1-6 1 6 1-3 1 2 1-8 1 7 1 1 1 2 1-19 1 10 1 4 1-7 1 10 1 4 1-4 1 2 1-6 1 8 1-2 1-8 1 9 1-12 1 4 1-1 1 2 1-2 1 7 1-1 1 5 1-13 1 3 1 0 1-9 1 25 1-17 1 5 1-1 1 0 1-4 1 3 1 2 1-5 1 4 1-7 1 0 1 7 1-8 1 1 1 8 1-7 1 9 1-11 1 12 1 5 1-7 1-2 1 5 1-5 1-15 1 15 1-5 1-3 1 6 1 2 1-2 1 0 1 11 1-15 1-3 1 10 1 3 1 1 1-9 1 10 1-7 1-1 1 3 1-4 1 5 1-2 1 0 1-7 1 13 1-12 1 1 1 6 1-7 1 11 1-11 1 7 1 2 1 0 1-1 1-1 1-3 1 10 1-7 1-8 1 11 1-1 1-12 1-1 1 11 1-3 1-3 1 10 1-21 1 13 1 13 1-19 1 14 1-4 1-2 1 2 1 2 1 4 1-11 1 6 1-2 1-3 1-7 1 10 1 3 1 3 1-11 1 18 1-16 1 7 1-3 1 2 1 0 1-2 1 3 1-6 1 4 1 2 1-7 1 4 1-5 1 1 1 9 1-6 1 5 1-1 1 1 1-1 1 7 1-12 1-6 1-2 1 9 1-2 1 2 1 0 1-6 1 11 1-5 1 8 1-15 1 3 1 10 1-12 1 6 1-4 1 5 1-7 1 0 1 3 1-2 1 2 1 0 1 13 1-15 1-1 1 12 1-3 1-13 1 4 1 20 1-14 1 3 1 7 1-13 1 1 1 1 1-7 1 4 1 8 1-10 1 11 1-11 1 9 1-7 1 4 1 4 1-4 1-4 1 17 1-9 1 2 1-16 1 7 1-1 1 7 1-5 1 6 1-5 1-3 1 8 1-12 1 4 1 8 1-14 1 11 1-8 1 3 1-7 1 13 1-1 1 0 1 3 1 3 1-7 1-5 1 0 1 11 1-19 1 8 1-4 1 18 1-13 1 8 1 6 1-12 1 7 1-2 1 6 1-22 1 11 1 13 1-15 1 4 1-16 1 9 1 0 1 5 1 10 1-11 1 5 1 0 1 3 1-5 1 9 1-15 1 13 1-3 1-7 1 12 1-10 1-2 1 8 1 0 1-7 1-5 1-11 1-11 1 20 1-11 1 8 1-2 1-1 1-1 1 11 1-10 1-3 1-5 1 9 1 7 1-17 1 6 1 3 1 7 1-10 1-3 1 0 1 11 1-10 1-2 1-1 1 4 1-5 1 5 1-4 1 9 1-3 1 3 1-6 1 11 1-2 1 2 1-7 1-2 1-13 1 25 1-9 1-2 1 5 1 8 1-10 1 1 1-8 1 7 1-5 1 0 1-5 1 12 1-6 1-7 1 14 1 5 1-13 1 4 1-2 1-4 1 4 1-5 1 10 1-13 1 7 1 3 1 0 1 4 1-3 1-11 1 16 1-18 1 9 1 1 1 5 1 6 1-10 1 3 1 9 1-13 1 1 1-1 1-5 1 2 1 4 1-5 1 10 1-1 1 0 1-10 1 6 1-6 1 3 1-3 1 10 1-5 1-2 1 2 1 2 1-13 1 11 1 4 1-10 1 5 1 5 1-9 1 1 1 8 1-8 1 3 1-4 1 8 1-6 1 6 1-2 1-3 1 0 1 0 1 5 1-13 1 11 1 7 1 4 1-18 1 10 1-9 1 4 1-1 1 0 1 3 1 5 1-9 1 3 1-4 1 12 1-4 1 5 1-9 1-14 1 22 1 1 1-17 1 9 1 1 1-11 1 3 1 6 1 4 1-3 1-1 1 5 1-1 1-9 1 2 1 2 1 3 1-1 1-7 1 6 1-2 1-6 1 6 1-1 1 0 1 4 1 3 1-13 1 10 1-6 1-5 1 7 1 8 1-14 1 11 1-10 1-1 1 15 1-2 1-3 1-2 1 5 1 3 1-2 1-2 1 12 1-19 1 1 1 8 1-18 1 16 1-4 1 4 1-6 1 3 1 8 1-6 1 1 1-6 1 1 1 3 1 0 1 5 1-14 1-2 1 15 1 2 1-4 1-1 1-7 1-2 1 3 1 4 1-7 1 1 1 5 1-1 1-3 1 7 1-6 1 0 1-8 1 6 1 11 1-7 1 3 1-6 1 4 1 0 1 10 1 2 1-12 1 8 1-3 1-1 1-13 1 16 1-10 1 3 1-3" stroke="#f0d820" stroke-width="0.9" marker-start="url(#m4)" marker-mid="url(#m4)" marker-end="url(#m4)"/><path class="s" transform="translate(55.9 0) scale(0.25 1.0)" vector-effect="non-scaling-stroke" d="M0 674l1-8 1 9 1-2 1-4 1 6 1-12 1 16 1-4 1-6 1 6 1-5 1 1 1 14 1-13 1 2 1 4 1-7 1 0 1 9 1-4 1-18 1 10 1 12 1-8 1 4 1-2 1-9 1 2 1 12 1-6 1 10 1 1 1-15 1-3 1 3 1 4 1 5 1-1 1-8 1 2 1-6 1 12 1 3 1-14 1 13 1-1 1 4 1-25 1 16 1-2 1 5 1-8 1 11 1-12 1 6 1 10 1-9 1-3 1 2 1-3 1 1 1-3 1-1 1 10 1-10 1 8 1 8 1-8 1-6 1 4 1 5 1-6 1-8 1 4 1 1 1 4 1-1 1-10 1 4 1 4 1-1 1-3 1 3 1 0 1-3 1 6 1-3 1 5 1-6 1 5 1-11 1 14 1-5 1 2 1-2 1 0 1 2 1-5 1-3 1 2 1 1 1 8 1-10 1 3 1-2 1 9 1-12 1 4 1 4 1 4 1-5 1-3 1 4 1-2 1 0 1 0 1 11 1-9 1-11 1-3 1 17 1 6 1-11 1 6 1-4 1 1 1-7 1 11 1-12 1 8 1-1 1-10 1 9 1 2 1-2 1 9 1-5 1-1 1-5 1-2 1 8 1 2 1-14 1 6 1-2 1-1 1 1 1-6 1 16 1-17 1-4 1 11 1 4 1 4 1 1 1-3 1-4 1-2 1 1 1-3 1 5 1 2 1 12 1-10 1 5 1 1 1-4 1-3 1 1 1-12 1 5 1 7 1-10 1 4 1 9 1-11 1 6 1 5 1-5 1-3 1-1 1-3 1 6 1 3 1-3 1-5 1 10 1-5 1 4 1-12 1 5 1-2 1 9 1-8 1 2 1 15 1-16 1 4 1 5 1-11 1 4 1 11 1-9 1 2 1-3 1 1 1 4 1-15 1 7 1 3 1-4 1 1 1-4 1 9 1 2 1-8 1-1 1 4 1 0 1-1 1 4 1-3 1-10 1 5 1 7 1-8 1 7 1-3 1 1 1 2 1 0 1 0 1 4 1-9 1-1 1-4 1 5 1-5 1 1 1 10 1-8 1 12 1-11 1 5 1-2 1 8 1-6 1 6 1-9 1-2 1 7 1-13 1 9 1 1 1-2 1 0 1-12 1 13 1 6 1-3 1 2 1-1 1-5 1-3 1 11 1-9 1-2 1 10 1-3 1-1 1-1 1-1 1-1 1 7 1-5 1-1 1 8 1 4 1-4 1-4 1-5 1 14 1-21 1 14 1-11 1 11 1-5 1 1 1 2 1-3 1 6 1 1 1-2 1 5 1-15 1 8 1-4 1-1 1 3 1-10 1 19 1-13 1 18 1-17 1-1 1 14 1-7 1 6 1-9 1 6 1-16 1 4 1 18 1-18 1 14 1-12 1-2 1 7 1 1 1 3 1 1 1-1 1-5 1 3 1-4 1-3 1-4 1 18 1-8 1-1 1-1 1 8 1-9 1 8 1-5 1 2 1-5 1 6 1-4 1 2 1 5 1-2 1-4 1 5 1-9 1 0 1 2 1 2 1 0 1-2 1 1 1-2 1-4 1 10 1-1 1-7 1 11 1-12 1 6 1-1 1-5 1 5 1-1 1-1 1-1 1 3 1-1 1 3 1-2 1 5 1-4 1-6 1 15 1-3 1-4 1-4 1-10 1 3 1 8 1-5 1-5 1 18 1-14 1 10 1 2 1-2 1 2 1-7 1 5 1-8 1 4 1 7 1-10 1 1 1-7 1 11 1 4 1-8 1-6 1 2 1 4 1 6 1-6 1 13 1-11 1-12 1 14 1-4 1 3 1-3 1-6 1 11 1 5 1-12 1 3 1-2 1-2 1 1 1 4 1-5 1 2 1-6 1 1 1 6 1-3 1 9 1 0 1-9 1-7 1 15 1-8 1 0 1-9 1 16 1-1 1-4 1 4 1 3 1-9 1 8 1-4 1 9 1-10 1 9 1-10 1-4 1 11 1-5 1 1 1-1 1 4 1-11 1 8 1-5 1-1 1 6 1-6 1 1 1 16 1-15 1 5 1-4 1 1 1 8 1-10 1 10 1-3 1-9 1 4 1-1 1 2 1 5 1 3 1-9 1 0 1 5 1-6 1 8 1 2 1-2 1-6 1-1 1 1 1 0 1-2 1 11 1-11 1 0 1-2 1 4 1-4 1-3 1 3 1 3 1 1 1-9 1 1 1 9 1-3 1-1 1 1 1 2 1-6 1 4 1 4 1-5 1 1 1 5 1-9 1 8 1-9 1 4 1-3 1 2 1 3 1-4 1 12 1-5 1 1 1 2 1-4 1 0 1 3 1 4 1-7 1-3 1-5 1 2 1 2 1 3 1-5 1 4 1 4 1-3 1 11 1-8 1-5 1 7 1-11 1 7 1 3 1-12 1 10 1-3 1-3 1 14 1-13 1-4 1 3 1 6 1 1 1 0 1-7 1 7 1 2 1-1 1 5 1-14 1 2 1 2 1-8 1 13 1 3 1-10 1 4 1-2 1 0 1 7 1-2 1-13 1 12 1-4 1-9 1 8 1 5 1 2 1-4 1 1 1-2 1 1 1 3 1-1 1-8 1 5 1 2 1-7 1 0 1 6 1 4 1 4 1-9 1-3 1 7 1-5 1 5 1-5 1-6 1 7 1-5 1 6 1-1 1-4 1 7 1-12 1 9 1 3 1 5 1-4 1-3 1-8 1 11 1-8 1 0 1 3 1 5 1-3 1-1 1 6 1 2 1-16 1 8 1-6 1 18 1-13 1 0 1-5 1 6 1-8 1 17 1-18 1 8 1 2 1-12 1 4 1-4 1 12 1-2 1 2 1-1 1-1 1-6 1 2 1 14 1-4 1-7 1 5 1 1 1-2 1 3 1-14 1 10 1-4 1 12 1-16 1 10 1-6 1 5 1 2 1-10 1 1 1 3 1 7 1-9 1 2 1 4 1 1 1-6 1 8 1-9 1 5 1-3 1-1 1 6 1-7 1 2 1 12 1 6 1-22 1 2 1 2 1 6 1-4 1 8 1-9 1 3 1 8 1-10 1 0 1-2 1-1 1 3 1 0 1 0 1 1 1 3 1-7 1 1 1 5 1-11 1 7 1 10 1-10 1 5 1 1 1-10 1-4 1 9 1 7 1-5 1-4 1 2 1 1 1-2 1 0 1 0 1-1 1 1 1-9 1 14 1-7 1 13 1-11 1-3 1 4 1 1 1 2 1-8 1 2 1 10 1 0 1-6 1-1 1 8 1-8 1-2 1 5 1-6 1 6 1 4 1-4 1 5 1-10 1 11 1-7 1 9 1-6 1 1 1-8 1 1 1 12 1-6 1 1 1-1 1-1 1 2 1 4 1-6 1-1 1-3 1 5 1 4 1-8 1 4 1 0 1-7 1 8 1-2 1 0 1-2 1 9 1-11 1 3 1-4 1 4 1-2 1-1 1 0 1 5 1-6 1 1 1-1 1-3 1 11 1-6 1-1 1 2 1-3 1 5 1 7 1-10 1 4 1-4 1-1 1 2 1-6 1 10 1-1 1 0 1 4 1-9 1 6 1-3 1 1 1-1 1-6 1 7 1 2 1-1 1 4 1-3 1-1 1 6 1-2 1-9 1 6 1-3 1 9 1-12 1 7 1-5 1 1 1 1 1 0 1 1 1-4 1-1 1 4 1 4 1 3 1-6 1-2 1 2 1-2 1-1 1 0 1 5 1 0 1 6 1-8 1-1 1-2 1 5 1-3 1 0 1 1 1-5 1 3 1 5 1-8 1-3 1 2 1 10 1-6 1 2 1-8 1 6 1 8 1-8 1 6 1-13 1 4 1 7 1-7 1-1 1 6 1-9 1 10 1-3 1 0 1 1 1-1 1-2 1 6 1-4 1 0 1 4 1-2 1-3 1 2 1-3 1-2 1-2 1 4 1 1 1 5 1-4 1 3 1 3 1-5 1-2 1 0 1-4 1 3 1 10 1-5 1 2 1-6 1 3 1 2 1-6 1 4 1 0 1 1 1 3 1-8 1 2 1 0 1 3 1-1 1-3 1 5 1-7 1 4 1 0 1-3 1 2 1 1 1 5 1-7 1 6 1-6 1 3 1 2 1-5 1 5 1 1 1-3 1 7 1-11 1 1 1 2 1-4 1 0 1-1 1-3 1 4 1 2 1-4 1 7 1-6 1 5 1-4 1 6 1-4 1 0 1 5 1-1 1-5 1-1 1 0 1 6 1-2 1 4 1-5 1 2 1 0 1-4 1 4 1 2 1-2 1-5 1 0 1-2 1 4 1 0 1 1 1-3 1 3 1 0 1 3 1-6 1 11 1-10 1 7 1-5 1 1 1 2" stroke="#ee6a28" stroke-width="1.0" marker-start="url(#m7)" marker-mid="url(#m7)" marker-end="url(#m7)"/><path class="s" transform="translate(55.9 0) scale(0.25 1.0)" vector-effect="non-scaling-stroke" d="M0 662l1 2 1-3 1 2 1 7 1-2 1-12 1 5 1-4 1 6 1-12 1 7 1-4 1 7 1 0 1-1 1 2 1 0 1-6 1 5 1 6 1-10 1-3 1 6 1-4 1 11 1-2 1 2 1-7 1 4 1 0 1-3 1-2 1 4 1 1 1 2 1 2 1-1 1-6 1 5 1-2 1-2 1 1 1-10 1 0 1 7 1 4 1 0 1-5 1 8 1-6 1 2 1 6 1-13 1 8 1-9 1 1 1-3 1 2 1 0 1 11 1-15 1 13 1-4 1-4 1 1 1 1 1-2 1 8 1-3 1 2 1-3 1-2 1 10 1 7 1-6 1 2 1 1 1 2 1 0 1-9 1 4 1 5 1 5 1-1 1-12 1 11 1-9 1 4 1-2 1 1 1 2 1-5 1 6 1 2 1-1 1 2 1-2 1-6 1 4 1-1 1 9 1-8 1-3 1 1 1-3 1 0 1 0 1 5 1-4 1 1 1 10 1-3 1 0 1-11 1 5 1 6 1 1 1-11 1 8 1-4 1 4 1-11 1 6 1 1 1-6 1 5 1-2 1 8 1-11 1 6 1 1 1-2 1 1 1-2 1 9 1 0 1-7 1 2 1-7 1 3 1 0 1 1 1 15 1-12 1 1 1-10 1 6 1 4 1-1 1-3 1 3 1-1 1 2 1-7 1 8 1-10 1 9 1-9 1 10 1-7 1 3 1-9 1 4 1 4 1 2 1 1 1-8 1 5 1 5 1-3 1 2 1 0 1-4 1 3 1-1 1 4 1-4 1 0 1-6 1 8 1-3 1 1 1-6 1 1 1 9 1-5 1 4 1-3 1-2 1 0 1 5 1-9 1 5 1 2 1-10 1 8 1 10 1-15 1 8 1 4 1-6 1 3 1 4 1-11 1 7 1-6 1 7 1-9 1-2 1 0 1 8 1-9 1 8 1 5 1 3 1-11 1 5 1-5 1 3 1-8 1 5 1 0 1 0 1 3 1 6 1 1 1-1 1-12 1 9 1 0 1-11 1 12 1-2 1-7 1-3 1 6 1-2 1 1 1 3 1-1 1 3 1-2 1 5 1-13 1 10 1-1 1 6 1-13 1 3 1 1 1-1 1 3 1-6 1 11 1-13 1 5 1 5 1-5 1 2 1 0 1-2 1 3 1-5 1 8 1-4 1 2 1-8 1 9 1-3 1 3 1 5 1-6 1-1 1-1 1 3 1 0 1-4 1-1 1 3 1 6 1-6 1-4 1 10 1-6 1 10 1-15 1 0 1 1 1 4 1 3 1-2 1 4 1-12 1 2 1 7 1-1 1-4 1-1 1 1 1-1 1 9 1-2 1-2 1-1 1-1 1 0 1-1 1 3 1 4 1-5 1 0 1 6 1-2 1-3 1-1 1-2 1 2 1-7 1 8 1-7 1 12 1-5 1-6 1 5 1-1 1-5 1 9 1-3 1 4 1-7 1 0 1 3 1 3 1-5 1-1 1 1 1-2 1 8 1 4 1-16 1 8 1 1 1-5 1 5 1 4 1-5 1 7 1-5 1-6 1 5 1 1 1-3 1 11 1-10 1 6 1-8 1-4 1 3 1 0 1-1 1 5 1 2 1-5 1-3 1-4 1 6 1-4 1 2 1 7 1-13 1 12 1-8 1 6 1 1 1-8 1 5 1-7 1 7 1 7 1 0 1-9 1 8 1-14 1 6 1 5 1-1 1-7 1 7 1-1 1-3 1-3 1 3 1 5 1-3 1 4 1-6 1-1 1 4 1 8 1-6 1-2 1 1 1 4 1-2 1-3 1 2 1 6 1-2 1-11 1 14 1-6 1 0 1 2 1-12 1 8 1-3 1 3 1 0 1 0 1-3 1 1 1 4 1-9 1 18 1-9 1-1 1-5 1 8 1-6 1 3 1-8 1 4 1 7 1-1 1 1 1-10 1 6 1-1 1-4 1 8 1-3 1 0 1-1 1-4 1 0 1 5 1 2 1 0 1 1 1-6 1 12 1-10 1 6 1-2 1-7 1 10 1-10 1 3 1-5 1-1 1 10 1-5 1 5 1 3 1-12 1 3 1 8 1-3 1 2 1-1 1 0 1 0 1-2 1 3 1-4 1 0 1-1 1 2 1 2 1-13 1 12 1 1 1-6 1 0 1 8 1-6 1 2 1-4 1-9 1 7 1 2 1 1 1 9 1-6 1 1 1-4 1 10 1-13 1 7 1-3 1 4 1 1 1-5 1-5 1 9 1-6 1 3 1-4 1 9 1-3 1 0 1-1 1-2 1 0 1 1 1-8 1 14 1-2 1-8 1 1 1 13 1-9 1-7 1 6 1 5 1-7 1 8 1-8 1-2 1 5 1 0 1-8 1-1 1 2 1 3 1 9 1-14 1 11 1-6 1 4 1-5 1 4 1-5 1 10 1-4 1-5 1 3 1 4 1-3 1 4 1-3 1-3 1 3 1-3 1 6 1-5 1 11 1-6 1-8 1 3 1-5 1-3 1 12 1-8 1 6 1-4 1-5 1 11 1 3 1-5 1 4 1-7 1 4 1-4 1-4 1 4 1 1 1 6 1-8 1-6 1 10 1-3 1 5 1-7 1-3 1 9 1 0 1-2 1-2 1 10 1-11 1 11 1-1 1-10 1 9 1-5 1-2 1-9 1 9 1-1 1 3 1-1 1 1 1 6 1-8 1-3 1 10 1-7 1 1 1-7 1 10 1-3 1 2 1-3 1-2 1 8 1-6 1 1 1-1 1 5 1-4 1-5 1 5 1-4 1 6 1 5 1-5 1-4 1-1 1-3 1 7 1 6 1-3 1 0 1 1 1-13 1 13 1-3 1-4 1 3 1 6 1-10 1 7 1-2 1 3 1 2 1-8 1-2 1 5 1-3 1 3 1-12 1 12 1-7 1 6 1 2 1-1 1-4 1 11 1-2 1-2 1 1 1-8 1 4 1 1 1 0 1 1 1-1 1-8 1 5 1-2 1-4 1 10 1-6 1 4 1-7 1 1 1 10 1-1 1-6 1 3 1 0 1-1 1-4 1 4 1 2 1 3 1-3 1-2 1 6 1-4 1 4 1-9 1 8 1-7 1-3 1 8 1 3 1-14 1 7 1-14 1 8 1 5 1 2 1 8 1-4 1-5 1 4 1-8 1 7 1-6 1-1 1 8 1-8 1 6 1-8 1 6 1 1 1 8 1-14 1 0 1-2 1 9 1-1 1-1 1 1 1-7 1 7 1-4 1-2 1-1 1 8 1 1 1 1 1-11 1 8 1 8 1-13 1-10 1-3 1 2 1 0 1-2 1 5 1-1 1-7 1 4 1-3 1 5 1-6 1 5 1-2 1 2 1-3 1 1 1-10 1 12 1-1 1 3 1-5 1 0 1 7 1-5 1-1 1-1 1 2 1-1 1 2 1 1 1-3 1-2 1 4 1-2 1-4 1 1 1 7 1-2 1 0 1-1 1 4 1-5 1 2 1 0 1 2 1 1 1-2 1-8 1 8 1 1 1 0 1-2 1-3 1 6 1-3 1 1 1-1 1 0 1 0 1-6 1 2 1 2 1 3 1 1 1-2 1 1 1-4 1 5 1-6 1 3 1 5 1-3 1 3 1-8 1 6 1-1 1 3 1-7 1-2 1 5 1 4 1-2 1-7 1 4 1 1 1 2 1-1 1-14 1 16 1-3 1-3 1 0 1-2 1 7 1 0 1-2 1 2 1-5 1 6 1-3 1 1 1 4 1-1 1-8 1 2 1 1 1 2 1-4 1 2 1 3 1-1 1 2 1 1 1-9 1 0 1 6 1 0 1-3 1 2 1-2 1 3 1-2 1 5 1-5 1 4 1-12 1 5 1 5 1-1 1-2 1 2 1 2 1-1 1 1 1-7 1 4 1-4 1 5 1-4 1 5 1-2 1 6 1-8 1 4 1 5 1-7 1 2 1 0 1-1 1-1 1 6 1-8 1 1 1 6 1-6 1-3 1 4 1 2 1-4 1 1 1 0 1 4 1-16 1 12 1 0 1-11 1 12 1 4 1-4 1 11 1-9 1 2 1-4 1 1 1-3 1 2 1 0 1 2 1-1 1-1 1 4 1-5 1 6 1-1 1-4 1 2 1 1 1-6 1 6 1-1 1-1 1 3 1-5 1-6 1 14 1-10 1-3 1 3 1 4 1-3 1 4 1-5 1 2 1 2 1-5 1 11 1-5 1 4 1-6 1-2 1 0 1 0 1 4 1-1 1-3 1-1 1 1 1 4 1 0 1-1 1-3 1-2 1 3 1 5 1-2 1 4 1-8 1 5 1-4 1-14 1 15 1-4 1 0 1 4 1 0 1 5 1-8 1-2" stroke="#555555" stroke-width="0.9" marker-start="url(#m2)" marker-mid="url(#m2)" marker-end="url(#m2)"/><path class="s" transform="translate(55.9 0) scale(0.25 1.0)" vector-effect="non-scaling-stroke" d="M0 644l1-2 1 0 1 5 1-12 1 12 1-11 1 22 1-23 1 22 1-14 1 0 1-1 1 8 1-8 1-8 1-16 1 24 1-9 1 16 1-4 1-5 1 3 1-2 1 17 1-18 1 3 1-1 1 3 1 4 1-17 1 7 1-5 1 13 1-14 1 16 1-19 1 2 1 9 1 0 1 7 1-17 1 19 1-13 1 6 1-11 1-1 1-10 1 15 1 16 1-8 1-1 1 0 1 13 1-20 1 14 1 1 1-12 1-3 1 9 1-1 1 16 1-15 1-15 1 6 1 25 1-6 1-4 1-8 1 3 1 7 1 1 1-6 1-3 1 5 1-4 1-10 1 0 1 9 1 1 1 12 1-16 1-2 1 13 1-7 1 13 1-20 1-4 1 3 1 14 1-2 1-9 1 7 1 2 1-2 1-4 1-1 1 2 1-9 1 0 1 7 1-2 1 10 1-2 1-8 1 4 1 4 1 7 1-13 1 3 1-3 1 11 1 0 1-13 1 11 1 1 1-10 1 3 1 8 1-13 1 2 1 8 1 1 1-8 1 4 1-6 1 15 1-4 1 2 1-19 1 12 1 6 1-9 1-1 1 7 1-7 1 0 1 3 1 5 1-1 1-5 1-11 1 9 1 2 1-6 1 5 1-4 1 11 1-4 1 7 1-7 1 2 1-6 1 5 1-7 1 3 1-3 1 10 1-2 1 2 1 5 1-7 1-3 1 0 1 1 1-13 1 1 1 11 1-4 1 5 1 3 1 1 1-17 1 0 1 19 1 5 1-9 1 11 1-18 1 7 1-17 1 16 1-9 1 9 1-4 1 9 1 2 1-8 1-2 1 3 1 2 1-7 1-1 1 7 1 1 1 0 1-6 1 3 1-9 1 11 1-5 1 9 1 2 1 8 1-17 1 1 1-5 1 14 1-6 1 12 1-26 1 10 1 2 1-14 1 15 1 1 1-10 1 0 1 10 1-13 1 11 1 0 1 4 1-8 1 3 1 4 1-11 1-12 1 24 1-3 1-5 1 0 1 2 1-6 1 11 1-14 1 16 1-8 1 7 1-8 1 10 1-23 1 15 1-20 1 16 1-4 1 12 1-1 1 1 1-4 1 3 1-14 1 9 1 4 1 3 1-4 1-9 1 1 1 12 1-10 1 2 1-6 1 6 1 2 1 5 1 7 1-8 1-4 1 3 1 3 1-2 1-5 1-5 1 13 1-11 1 2 1 13 1-17 1 11 1 0 1-1 1-17 1 13 1-2 1 22 1-14 1-20 1 16 1 5 1-6 1-2 1 8 1-10 1 14 1-9 1-12 1 12 1-1 1 1 1-3 1 21 1-5 1-8 1-10 1 8 1-14 1 9 1-6 1 7 1-6 1 8 1-10 1 7 1 3 1-2 1-6 1 10 1-13 1 17 1-11 1 5 1-5 1 10 1-18 1 12 1 3 1-8 1-5 1 3 1-4 1 25 1-19 1 4 1-2 1 3 1 6 1-3 1-2 1 0 1-7 1 7 1 1 1-10 1-3 1 5 1 10 1-2 1-5 1-2 1 1 1-1 1 15 1-9 1 6 1 2 1 2 1-19 1 4 1-1 1 5 1 3 1-7 1 1 1 4 1 3 1-4 1 1 1 11 1-11 1-3 1-3 1-2 1 8 1-3 1 4 1-6 1 2 1-3 1-1 1 17 1-5 1-1 1-12 1 2 1-7 1 18 1-11 1 1 1-3 1 13 1-7 1-5 1-2 1 8 1-3 1 1 1 10 1-7 1-7 1 6 1-8 1 1 1 7 1 1 1 5 1-7 1 10 1-8 1-8 1 9 1-8 1-4 1-1 1 15 1-1 1-13 1 13 1-6 1 7 1-3 1 1 1-4 1-7 1 18 1-7 1-7 1-1 1 7 1 2 1-7 1 4 1 12 1-20 1 8 1-5 1 0 1 9 1-18 1 14 1-13 1 20 1-5 1-7 1 1 1-3 1 5 1-2 1 4 1 5 1-1 1-3 1-7 1 2 1 2 1 5 1 3 1-8 1 2 1-6 1 2 1-1 1-1 1 1 1 19 1-7 1-10 1 15 1-21 1 3 1-1 1 8 1-6 1 8 1-7 1 8 1-4 1 0 1-4 1 0 1 0 1 4 1 17 1-28 1 11 1-9 1 6 1-9 1 7 1 0 1 15 1-8 1-3 1-2 1 8 1-3 1 5 1-15 1 0 1-7 1 1 1 8 1 5 1 3 1 2 1-10 1 11 1-8 1 4 1-2 1 6 1-10 1-9 1 18 1-5 1 2 1 5 1 0 1 3 1 1 1-17 1 10 1-3 1 12 1-21 1 11 1-5 1-4 1 16 1-17 1 5 1-16 1 21 1 5 1-5 1-13 1 7 1-6 1-2 1 9 1-5 1 16 1-15 1 7 1-5 1 3 1 1 1 5 1-8 1 1 1 3 1-1 1-5 1 5 1 1 1 9 1-10 1 2 1-9 1 5 1 3 1 1 1-2 1-2 1-11 1 17 1-1 1-3 1 1 1 3 1 3 1-3 1-17 1 13 1 2 1 0 1-9 1 10 1 0 1-2 1-4 1 2 1 12 1-13 1 4 1 7 1-6 1 6 1-16 1 5 1-1 1 2 1 2 1 3 1-8 1 0 1 12 1-6 1-3 1 3 1-5 1-7 1 8 1 12 1 0 1-8 1-3 1 6 1-4 1-7 1 11 1 6 1-27 1 7 1 5 1 11 1-10 1 4 1-16 1 25 1-12 1-9 1 18 1-9 1 2 1-5 1 3 1 2 1 16 1-12 1-3 1-12 1 4 1 3 1 0 1 16 1-12 1 16 1-5 1-10 1-3 1 2 1 7 1 2 1-17 1-1 1 1 1 12 1-5 1 7 1-19 1 13 1 1 1-6 1 9 1 0 1-6 1 5 1 9 1-16 1 5 1-7 1-5 1 9 1 2 1-2 1 3 1 1 1 11 1-11 1-4 1-1 1 4 1 3 1 0 1 3 1-11 1 13 1-15 1 5 1 6 1-6 1 2 1-3 1 9 1-6 1 7 1-9 1 4 1-2 1 10 1-9 1-3 1 2 1-7 1 9 1 7 1-11 1 12 1-17 1 16 1-8 1-5 1 1 1 5 1 7 1-10 1 9 1-6 1 3 1-7 1 14 1 0 1-11 1-12 1 8 1 2 1-3 1 1 1 4 1 5 1 0 1 14 1-33 1 12 1 4 1-9 1 8 1-9 1 13 1-10 1 1 1 3 1 0 1-7 1 7 1 6 1-7 1-1 1-4 1-28 1 0 1-2 1 14 1-15 1 1 1-15 1 12 1 5 1 12 1-16 1 11 1-10 1 0 1 0 1 4 1 6 1-10 1 2 1 8 1-23 1 19 1 1 1 1 1-9 1 4 1 9 1-12 1-2 1 1 1 6 1-2 1 7 1 4 1-12 1 8 1-13 1 0 1-1 1 11 1-8 1-1 1 22 1-18 1 2 1 15 1-9 1-2 1-2 1-4 1 2 1-11 1-11 1 13 1 14 1-14 1-9 1 28 1-1 1-7 1 5 1-10 1-1 1 6 1-6 1 6 1 4 1-6 1-1 1-7 1 8 1-1 1-6 1 22 1-4 1 4 1-26 1 16 1-13 1-6 1 29 1-14 1 12 1-6 1-10 1-3 1 2 1-7 1 4 1 8 1-11 1 6 1-6 1 9 1 2 1-7 1 1 1 0 1 8 1-4 1-3 1-4 1 1 1 18 1-10 1-5 1-6 1 15 1-2 1-1 1-14 1 17 1-10 1 6 1-4 1-7 1 26 1-15 1-3 1-4 1 7 1 7 1-19 1 4 1 19 1-18 1-6 1 17 1-4 1-5 1-1 1 15 1 2 1-13 1 14 1-15 1-2 1-9 1 4 1 10 1-4 1 8 1-20 1 4 1 19 1-7 1-13 1 17 1 0 1 2 1-13 1 4 1 4 1 4 1-10 1 12 1-6 1 2 1-11 1 2 1-11 1 36 1-24 1 17 1-5 1-9 1-2 1 3 1 14 1 2 1-18 1-16 1 14 1 10 1-9 1-8 1 6 1 0 1 1 1 0 1 12 1-8 1 2 1-2 1-3 1-7 1 10 1 2 1 4 1-8 1-9 1 8 1 8 1-6 1 8 1-4 1-20 1 14 1-1 1-7 1 8 1 16 1-11 1 2 1-7 1-6 1-6 1 11 1 0 1 0 1 16 1-18 1 13 1-16 1 4 1 17 1-21 1 4 1 1 1-4 1 9 1 3 1-3 1-4 1 3 1-3 1 6 1-8 1 7 1-11 1 18 1-9 1-11 1 7 1 4 1-7 1 6 1-13 1 13" stroke="#e6323e" stroke-width="0.9" marker-start="url(#m0)" marker-mid="url(#m0)" marker-end="url(#m0)"/><path class="s" transform="translate(55.9 0) scale(0.25 1.0)" vector-effect="non-scaling-stroke" d="M0 637l1-17 1 0 1 4 1 1 1 5 1-9 1 12 1-2 1-7 1 4 1 3 1-10 1 0 1 0 1 8 1 3 1-23 1 15 1 14 1-4 1-4 1-8 1-2 1 6 1-15 1 1 1 11 1 14 1-11 1 1 1-4 1 6 1-4 1-3 1-7 1 15 1-17 1 5 1 26 1-19 1-4 1 2 1-3 1 11 1-18 1 9 1 6 1 0 1-5 1 0 1 5 1-4 1 0 1 4 1 6 1-10 1 12 1-11 1-3 1-1 1 13 1-5 1 5 1-15 1 5 1-2 1 8 1-6 1-13 1 12 1-2 1 10 1-4 1-23 1 32 1-10 1-1 1 11 1 3 1-2 1-9 1-14 1 16 1-11 1 15 1-9 1-1 1-3 1 20 1-19 1-2 1 9 1-5 1 12 1-5 1-2 1 0 1-4 1 18 1-27 1 7 1 1 1 14 1-2 1-1 1-9 1-2 1-4 1 13 1-2 1-1 1 9 1-12 1 10 1-16 1-1 1 17 1-6 1-6 1 5 1-5 1-2 1-1 1 8 1 2 1-21 1 14 1 3 1 7 1-10 1 2 1 4 1-7 1 1 1 10 1-15 1 11 1 7 1 0 1-16 1 13 1-3 1 7 1 2 1-20 1-5 1 24 1-9 1 5 1 0 1 0 1-10 1-2 1 7 1 1 1-8 1 4 1 15 1-22 1 12 1-21 1 29 1-13 1 7 1-3 1 10 1-21 1 17 1-19 1 0 1 6 1-4 1 3 1 17 1-25 1 7 1 6 1-23 1 20 1 8 1 1 1-12 1-1 1 3 1 4 1-3 1-11 1 13 1 3 1-7 1 22 1-17 1-6 1 2 1-6 1 12 1-8 1-9 1 16 1 6 1 0 1-1 1 3 1-11 1 4 1-8 1 20 1-9 1-21 1 3 1 15 1-3 1 12 1-4 1-6 1-2 1 3 1-16 1 8 1 2 1 5 1 3 1-3 1 9 1-12 1 5 1-9 1 12 1 9 1-1 1-10 1-9 1 5 1-7 1 5 1-2 1 11 1 4 1-3 1-15 1 3 1-1 1 3 1 9 1-5 1-2 1-5 1-3 1-5 1 21 1-13 1 9 1 3 1-10 1-4 1 9 1 7 1-18 1 15 1-6 1 9 1-4 1-14 1-2 1-9 1 14 1 10 1 4 1-15 1 0 1 6 1 4 1-3 1 16 1-22 1 4 1 1 1-1 1 8 1-8 1-3 1-2 1 11 1-11 1 11 1-10 1-5 1 10 1 5 1-14 1 34 1-28 1 6 1-5 1 19 1-21 1 5 1-1 1-4 1 7 1 0 1 1 1-1 1-11 1 5 1-2 1-10 1 36 1-29 1 10 1 3 1-1 1 7 1-9 1 0 1-2 1 5 1 4 1-15 1-10 1-1 1 31 1 2 1-24 1 22 1 0 1-13 1 3 1 4 1-25 1 12 1-5 1 3 1 16 1-1 1-7 1-12 1 6 1 13 1-17 1 18 1-11 1-7 1-7 1 7 1 16 1-10 1 4 1 9 1-6 1 0 1 7 1-6 1 4 1-13 1 5 1-12 1 4 1 14 1 0 1 2 1 2 1-17 1 5 1-5 1 5 1 3 1 0 1-2 1 0 1 4 1-8 1 5 1 8 1-6 1-4 1 11 1-4 1-16 1 8 1 4 1-1 1 3 1-14 1 12 1-4 1 17 1-29 1 24 1-3 1 1 1-1 1-10 1 11 1-10 1-16 1 9 1-15 1 26 1 6 1 3 1-9 1-3 1 3 1 2 1 8 1-21 1 5 1 15 1-6 1 0 1-4 1 0 1-12 1 5 1-5 1 11 1-1 1 7 1-12 1 2 1 5 1 1 1-11 1 4 1-4 1 2 1 3 1 3 1 4 1-3 1 7 1-8 1 1 1-2 1 11 1-27 1 24 1-6 1 1 1-5 1 10 1-5 1-3 1 1 1-5 1-3 1 3 1 11 1 6 1-18 1 0 1 16 1-16 1 11 1 8 1-17 1 3 1 9 1-3 1-1 1 6 1-10 1 9 1-29 1 24 1 4 1-9 1-1 1 0 1 0 1 3 1-3 1-5 1 19 1-16 1 16 1-5 1 3 1-20 1 11 1 8 1-2 1 1 1 0 1-8 1 1 1-4 1 7 1-12 1 19 1-2 1-13 1 3 1-2 1 9 1-4 1-2 1-1 1-1 1 0 1 0 1-8 1 13 1 2 1-1 1-22 1 18 1 14 1-9 1 2 1-12 1 26 1-9 1-5 1-3 1-5 1 5 1 2 1 0 1 4 1-3 1 0 1-19 1 12 1 1 1-9 1 16 1-13 1 20 1-10 1-3 1 2 1 1 1-6 1-7 1-12 1 25 1-13 1 26 1-15 1 11 1-21 1 16 1-23 1 8 1 17 1-23 1 6 1 4 1 1 1-8 1 18 1-18 1 24 1-9 1-3 1 11 1-18 1-6 1 0 1 14 1 1 1-10 1 15 1 1 1-30 1-4 1 26 1 9 1-17 1 6 1-8 1 12 1 3 1-9 1-4 1 1 1 1 1 7 1-1 1 0 1 4 1-1 1 17 1-29 1 8 1 4 1 4 1-22 1 23 1-5 1 7 1-15 1 6 1-2 1 16 1-19 1-6 1 23 1-16 1 0 1-3 1 7 1 2 1-7 1 8 1-8 1 1 1-3 1 0 1 2 1 2 1 4 1-12 1 2 1-5 1 6 1 15 1-13 1 9 1-2 1-7 1-14 1 18 1-2 1-5 1 9 1-21 1 20 1 4 1-15 1-1 1-4 1 13 1-8 1 4 1 11 1 5 1-4 1-11 1 6 1-2 1-1 1-6 1-10 1-2 1 25 1-12 1 7 1-5 1 1 1 1 1 5 1 3 1-24 1-1 1 25 1-5 1 7 1-30 1 30 1-10 1 5 1-11 1 3 1 17 1-30 1 24 1-2 1-7 1 25 1-26 1 5 1 3 1 9 1-7 1-13 1 2 1-1 1 6 1 14 1-14 1-8 1 11 1-4 1 2 1 5 1-12 1 1 1 2 1 19 1-9 1-12 1 9 1 4 1-20 1 6 1 2 1 12 1-11 1 14 1-26 1 8 1 14 1-7 1 3 1 0 1-2 1 13 1-11 1-12 1 2 1 9 1-4 1 15 1-7 1-7 1-1 1 15 1-9 1-22 1 23 1-12 1 5 1-12 1 10 1 1 1-1 1 8 1 0 1 11 1-29 1 21 1-5 1-5 1-2 1 6 1-30 1 20 1-34 1 28 1-13 1 2 1 7 1-6 1 1 1 0 1 10 1-8 1-4 1 7 1-16 1 20 1 4 1-12 1-4 1 12 1-15 1 5 1-4 1 6 1-3 1 6 1 0 1-16 1 9 1-5 1 9 1-17 1 20 1-6 1-11 1 26 1-15 1 2 1-8 1 7 1-9 1 2 1 10 1-9 1 8 1-13 1 16 1 0 1 7 1-4 1 5 1-20 1 21 1-10 1 8 1-2 1-15 1 7 1-4 1-4 1 13 1-1 1-3 1-11 1 8 1-4 1 3 1 3 1-7 1 11 1-2 1-5 1 2 1 6 1-6 1-13 1 20 1-6 1 2 1-21 1 6 1 17 1 3 1-5 1-8 1-8 1 14 1 10 1-32 1 17 1 1 1 1 1-3 1-3 1 7 1 4 1 4 1-8 1-16 1 14 1-35 1 43 1-1 1-10 1 5 1-9 1 1 1 12 1-6 1 3 1-5 1-3 1 9 1-2 1 8 1-3 1 5 1-8 1 3 1-6 1-1 1 11 1 5 1-23 1 14 1 3 1-3 1-16 1 10 1-1 1 10 1-8 1-8 1 5 1 7 1 4 1-9 1 6 1-10 1 4 1-4 1 2 1 15 1-11 1 2 1 0 1-12 1 16 1-5 1-13 1 13 1 14 1-4 1-10 1 3 1-13 1 0 1 18 1-3 1-7 1 2 1-21 1 29 1-49 1 51 1-7 1-2 1 3 1-3 1-3 1 4 1-2 1 0 1-5 1 4 1 6 1-11 1 16 1-16 1 11 1 5 1-5 1-2 1-11 1 19 1-1 1-17 1 14 1-9 1 3 1-9 1 5 1 10 1-19 1 20 1 0 1 3 1-27 1 5 1-4 1 23 1 1 1-9 1 2 1-16 1 6 1 11 1-6 1 7 1-1 1-5 1 1 1 4 1 7 1 4 1-12 1 12 1-22 1 11 1-3 1 5 1 4 1-11 1-11 1 35 1-33 1 3 1 10 1 6 1-6 1-8 1 13 1-18 1 14 1-9 1 2 1-2 1 19 1-9" stroke="#2ea65c" stroke-width="0.9" marker-start="url(#m3)" marker-mid="url(#m3)" marker-end="url(#m3)"/></g><path d="M55.6 520.3V695.3" stroke="#c4c4c4" stroke-width="1" fill="none"/><text class="tk" x="51.3" y="698.9">0</text><text class="tk" x="51.3" y="677">1</text><text class="tk" x="51.3" y="655.1">2</text><text class="tk" x="51.3" y="633.3">3</text><text class="tk" x="51.3" y="611.4">4</text><text class="tk" x="51.3" y="589.5">5</text><text class="tk" x="51.3" y="567.6">6</text><text class="tk" x="51.3" y="545.8">7</text><text class="tk" x="51.3" y="523.9">8</text><path d="M55.1 695.3h6M55.1 673.4h6M55.1 651.5h6M55.1 629.7h6M55.1 607.8h6M55.1 585.9h6M55.1 564h6M55.1 542.2h6M55.1 520.3h6" stroke="#8a8a8a" stroke-width="1" fill="none"/><text class="yl" transform="translate(23.7 601.6) rotate(-90)" textLength="100.7" lengthAdjust="spacingAndGlyphs">FSF domains (%)</text><path d="M321.1 564H352.3" stroke="#c8c8c8" stroke-width="2.6"/><circle cx="336.7" cy="563.9" r="1.15" fill="#1a1a1a"/><text class="lt" x="355.9" y="568.4" textLength="79.7" lengthAdjust="spacingAndGlyphs">Receptor activity</text><path d="M321.1 590H352.3" stroke="#f8eaa6" stroke-width="2.6"/><circle cx="336.7" cy="590.5" r="1.15" fill="#bba400"/><text class="lt" x="355.9" y="595" textLength="122.2" lengthAdjust="spacingAndGlyphs">Other regulatory function</text><path d="M321.1 616.5H352.3" stroke="#ee5a64" stroke-width="1.0"/><circle cx="336.7" cy="616.3" r="1.15" fill="#b0101e"/><text class="lt" x="355.9" y="620.8" textLength="92.4" lengthAdjust="spacingAndGlyphs">Signal transduction</text><path d="M321.1 642.5H352.3" stroke="#f39060" stroke-width="1.0"/><circle cx="336.7" cy="642.7" r="1.15" fill="#8a3410"/><text class="lt" x="355.9" y="647.2" textLength="105.2" lengthAdjust="spacingAndGlyphs">Kinases/phosphatases</text><path d="M321.1 669.5H352.3" stroke="#4cb87a" stroke-width="1.0"/><circle cx="336.7" cy="669" r="1.15" fill="#0a4a22"/><text class="lt" x="355.9" y="673.5" textLength="62.7" lengthAdjust="spacingAndGlyphs">DNA-binding</text><path d="M321.1 695.5H352.3" stroke="#5a5a5a" stroke-width="1.0"/><circle cx="336.7" cy="695.4" r="1.15" fill="#000000"/><text class="lt" x="355.9" y="699.9" textLength="85.6" lengthAdjust="spacingAndGlyphs">RNA binding, m/tr</text></g>
<g><text class="ti" x="54.8" y="720.4" textLength="135.1" lengthAdjust="spacingAndGlyphs">Intracellular processes</text><path d="M54.0 744.2V727.8H298.4V744.2M71.9 727.8V744.2M238.4 727.8V744.2" fill="none" stroke="#6e6e6e" stroke-width="1.15"/><text class="br" x="63" y="739.3">A</text><text class="br" x="167.2" y="739.3">B</text><text class="br" x="268.4" y="739.3">E</text><g class="d"><path class="s" transform="translate(54.3 0) scale(0.25 1.0)" vector-effect="non-scaling-stroke" d="M0 921l1-2 1 2 1 2 1-4 1 4 1-3 1 0 1 0 1 2 1 0 1 0 1 0 1-1 1 0 1 0 1 2 1-4 1 2 1 0 1-1 1 2 1-3 1 3 1 1 1-3 1 1 1 3 1-2 1 2 1-5 1 3 1-1 1 1 1 1 1-3 1 0 1 0 1 1 1 1 1-2 1 2 1-3 1 0 1 0 1 1 1 1 1 2 1-1 1 0 1-2 1 3 1 0 1-4 1 2 1-1 1 2 1 0 1-1 1 0 1 2 1-2 1 0 1 0 1 1 1 0 1-1 1 1 1-2 1 2 1-1 1 1 1 1 1-1 1 1 1-2 1 1 1 1 1-1 1-1 1 0 1 2 1 0 1-1 1 1 1 0 1 0 1-1 1 2 1-2 1-1 1 2 1 1 1 0 1-2 1 1 1-1 1 0 1 1 1 1 1-1 1 0 1 0 1 0 1 1 1-2 1 1 1 0 1 1 1-3 1 1 1 0 1 1 1 0 1-2 1 1 1 0 1 2 1-3 1 1 1 1 1 0 1 0 1-1 1 1 1-2 1 3 1-1 1 1 1-1 1 1 1-1 1-1 1 2 1 0 1-3 1 0 1 2 1-2 1 0 1 1 1 2 1-1 1 0 1-1 1 2 1-2 1 1 1 1 1-2 1 1 1-1 1 1 1-1 1 0 1 1 1 0 1 0 1 0 1-1 1 0 1 0 1 1 1-1 1 1 1 1 1-2 1 0 1 1 1-2 1 0 1 2 1 1 1-2 1 2 1-2 1 1 1-1 1 0 1 2 1-3 1 2 1-1 1 1 1-1 1 1 1 1 1 0 1-1 1 0 1 0 1-2 1 1 1-1 1 2 1-1 1 1 1-1 1 1 1 0 1 1 1-1 1-1 1 1 1 1 1-1 1 1 1-1 1-1 1 2 1-1 1 1 1-1 1 0 1-1 1 0 1 0 1 1 1-2 1 1 1 1 1 0 1-2 1 2 1-1 1-1 1 2 1-1 1 1 1 0 1 0 1-1 1 0 1 0 1 1 1-1 1-1 1 1 1 1 1 0 1-1 1 2 1-3 1 2 1 0 1 0 1-1 1 0 1-1 1 1 1 0 1 0 1 2 1-1 1-1 1 1 1 0 1-1 1-1 1 2 1-1 1 1 1 0 1 0 1 1 1-1 1-2 1 2 1 0 1-2 1 2 1 0 1 1 1-1 1 1 1-1 1 1 1-2 1 0 1 0 1 1 1 0 1 0 1-1 1 0 1 0 1 1 1 0 1 0 1-1 1 1 1-1 1 2 1-2 1-1 1 1 1-1 1 3 1-2 1 0 1-1 1 1 1 1 1 0 1 1 1-2 1 2 1-2 1 1 1 1 1 0 1-3 1 3 1-1 1-1 1 1 1-1 1 0 1-1 1 1 1 0 1 2 1-3 1 2 1 0 1-1 1 2 1-2 1 1 1-1 1 0 1 1 1-1 1 1 1-1 1 1 1 0 1 1 1-1 1-1 1 1 1 0 1 0 1 0 1-1 1 0 1 2 1-2 1 1 1 0 1 1 1-2 1 2 1-2 1 1 1-1 1 1 1 0 1-1 1-1 1 2 1 1 1-1 1 0 1 0 1 0 1 0 1-1 1 0 1 2 1-1 1-1 1 1 1 0 1 0 1 0 1 0 1-1 1 1 1-2 1 1 1 1 1 1 1 0 1-1 1-2 1 3 1-1 1 1 1-2 1 1 1 1 1-2 1 1 1-2 1 3 1-2 1-1 1 1 1 1 1 0 1-1 1 1 1 0 1-1 1 0 1 0 1-2 1 3 1-1 1 1 1 0 1 0 1-1 1 1 1 0 1 0 1 0 1-2 1 3 1-1 1-1 1 0 1 0 1 1 1 1 1-2 1 1 1-1 1 2 1-1 1 0 1-2 1 2 1 0 1-1 1 0 1 0 1 1 1-1 1 0 1 1 1 1 1-2 1 0 1 1 1 1 1-1 1-1 1 1 1 0 1 1 1 0 1-1 1-2 1 0 1 1 1 2 1-2 1 2 1-2 1 0 1 1 1-1 1 0 1 2 1-3 1 1 1 0 1 0 1 2 1-2 1 0 1 1 1-1 1 1 1-1 1 2 1 0 1-3 1 2 1 1 1-2 1 1 1-2 1 1 1 1 1-1 1 0 1 0 1 1 1-1 1 1 1-1 1 0 1 1 1 0 1 0 1 1 1-1 1-2 1 2 1 1 1-3 1 0 1 2 1 0 1 0 1 1 1-2 1 1 1-1 1 2 1-2 1 0 1 1 1-2 1 2 1 1 1 0 1-1 1-1 1 2 1-2 1 1 1-2 1 2 1 0 1-1 1 2 1-1 1-1 1 0 1 0 1 1 1-2 1 2 1 1 1-1 1-2 1 2 1 0 1 0 1 0 1-1 1 2 1-2 1 1 1 1 1 0 1-3 1 2 1-1 1 2 1-1 1-1 1 0 1 1 1 1 1 0 1 0 1-1 1-1 1 0 1 0 1 0 1 2 1 0 1-2 1 2 1-3 1 2 1 0 1 0 1 0 1-1 1 1 1 0 1-1 1 1 1 1 1-1 1-1 1 0 1 2 1-3 1 2 1-2 1 1 1 0 1 0 1 1 1 0 1 0 1 0 1-2 1 2 1-1 1 2 1-3 1 3 1-2 1 2 1-2 1 1 1 1 1-2 1 0 1 1 1-1 1 2 1-1 1-1 1 0 1 1 1-1 1 0 1 0 1 0 1 0 1 1 1 1 1-1 1 0 1-1 1 1 1 0 1 0 1-1 1-2 1 3 1 0 1-1 1 1 1-2 1 1 1 0 1 1 1 0 1 0 1-1 1 0 1 0 1 2 1-2 1 1 1-1 1 1 1 0 1-1 1 1 1 0 1 0 1 0 1-1 1 0 1 0 1 0 1 1 1 0 1 0 1 1 1-1 1 1 1-2 1-1 1 2 1 1 1 0 1 0 1-3 1 2 1-2 1 2 1-1 1 1 1-1 1 1 1-1 1 1 1-2 1 2 1 0 1-1 1 1 1 0 1 0 1-2 1 1 1-1 1 2 1 0 1 0 1 0 1-1 1 0 1 2 1-3 1 2 1-1 1 1 1-1 1 0 1 1 1-1 1 0 1 0 1 1 1 0 1 0 1 0 1-2 1 1 1-1 1 1 1 0 1 1 1-1 1 1 1-1 1 0 1 0 1 0 1 1 1 0 1-1 1 1 1-1 1 0 1 0 1 2 1-1 1 0 1 1 1-3 1 2 1-2 1 1 1 2 1-2 1-1 1 1 1-1 1 1 1-1 1 1 1-1 1 1 1 0 1-1 1 1 1 0 1 0 1 0 1 0 1 0 1 0 1 0 1-1 1 1 1 0 1 1 1-2 1 0 1 1 1 0 1 0 1 0 1 1 1-1 1-1 1 0 1 0 1 2 1 0 1-1 1 0 1 1 1-2 1 0 1 0 1 1 1-1 1 0 1 2 1-1 1 0 1-2 1 3 1 1 1-2 1 0 1-1 1 2 1-1 1-1 1 0 1 1 1-1 1 2 1-1 1-1 1 2 1-2 1 1 1 0 1 0 1 0 1 1 1-1 1 0 1-1 1 0 1 2 1-3 1 2 1 0 1 0 1-1 1 2 1-1 1 0 1 0 1 0 1 0 1 0 1 1 1-2 1 0 1 1 1-1 1 1 1 0 1 0 1 0 1 0 1 0 1 1 1-1 1-1 1 1 1-1 1 1 1 0 1 0 1-1 1 0 1 1 1 0 1 1 1-2 1 1 1 0 1-1 1 1 1 0 1-1 1 1 1 1 1-1 1-1 1 0 1 1 1 0 1-1 1 0 1 0 1 1 1-1 1 2 1-1 1 0 1 0 1 0 1 0 1-1 1 1 1 0 1 1 1-1 1-1 1 0 1 2 1-1 1 0 1 0 1-2 1 3 1-2 1 1 1-1 1 1 1 0 1-1 1 0 1 2 1-1 1-2 1 2 1 0 1-1 1 0 1 0 1 1 1-2 1 1 1 0 1 1 1 0 1-1 1 0 1 1 1 0 1-2 1 2 1 1 1-2 1 2 1-1 1 1 1-2 1 0 1 1 1 1 1-1 1 0 1 0 1-1 1 1 1 0 1-1 1 1 1 1 1-1 1 0 1-1 1 0 1 2 1-1 1-1 1 1 1 1 1-1 1 1 1 0 1-1 1 0 1-2 1 0 1 2 1 0 1-1 1 1 1 0 1 0 1-1 1 1 1-1 1 1 1-1 1 1 1-1 1 0 1 0 1-1 1 3 1-1 1 0 1 0 1-1 1-1 1 1 1 2 1-1 1 0 1 0" stroke="#555555" stroke-width="3" marker-start="url(#m10)" marker-mid="url(#m10)" marker-end="url(#m10)"/><path class="s" transform="translate(54.3 0) scale(0.25 1.0)" vector-effect="non-scaling-stroke" d="M0 919l1 0 1 0 1-5 1 6 1 2 1-4 1 3 1 1 1 1 1-4 1 0 1 3 1-2 1-2 1 3 1-3 1 2 1 0 1-2 1 1 1-1 1 1 1 0 1 2 1-3 1 1 1 1 1-3 1 4 1-2 1 3 1-2 1 3 1-2 1-3 1-1 1 5 1-2 1-2 1 1 1 4 1-2 1 2 1-4 1-1 1 5 1-3 1 0 1-1 1-1 1 2 1 0 1 2 1-2 1 3 1-3 1-2 1 3 1 1 1-4 1 3 1-3 1 2 1 0 1-2 1 1 1 0 1 0 1 2 1-2 1 3 1-1 1 2 1-3 1-1 1 3 1 1 1 0 1-3 1 2 1-1 1 0 1-2 1 4 1-2 1 2 1-2 1-2 1 3 1-2 1 1 1-3 1 2 1 2 1-2 1-3 1 2 1 0 1 1 1 1 1 1 1-1 1-2 1-1 1 3 1-2 1-1 1 1 1 3 1-2 1-1 1 5 1-4 1 2 1-2 1 0 1-4 1 3 1 1 1-1 1 3 1-4 1 0 1 2 1 1 1 1 1 0 1 1 1-3 1 1 1-1 1 2 1-1 1 0 1 2 1-2 1 3 1-5 1 3 1-1 1 0 1-3 1 0 1 4 1 1 1-2 1 0 1 0 1-2 1 2 1 3 1-4 1 4 1-4 1 0 1 0 1 2 1 2 1-4 1 4 1-6 1 1 1 2 1 1 1-3 1 1 1-1 1 1 1 3 1-2 1 0 1-2 1 2 1-2 1 4 1-3 1 3 1-2 1-1 1 2 1-3 1-2 1 3 1 1 1 0 1-3 1 3 1 0 1-3 1 2 1 1 1 0 1 1 1-2 1-2 1 4 1-3 1 3 1-3 1 3 1-3 1 2 1-1 1 2 1-2 1 4 1-3 1 2 1-3 1 1 1 0 1 0 1-4 1 1 1 1 1 1 1 1 1-3 1 5 1-1 1-1 1-2 1 4 1 0 1-1 1-2 1-1 1 4 1-6 1 5 1-3 1 1 1 0 1 1 1 2 1-1 1-1 1-2 1 1 1 0 1 0 1-1 1 2 1 0 1-3 1 4 1-3 1 2 1-1 1 0 1 2 1-3 1 0 1 1 1 1 1-1 1 3 1 0 1-5 1-2 1 6 1-2 1 1 1 0 1 1 1-4 1 3 1-1 1 1 1 0 1-5 1 3 1-1 1 0 1 5 1-3 1 1 1-4 1 4 1 2 1-1 1 0 1-4 1-1 1 1 1 1 1-2 1 6 1-3 1 0 1 1 1-1 1 0 1 4 1-5 1 4 1-6 1 2 1 1 1 2 1-5 1 4 1-2 1 3 1-2 1-1 1 4 1 1 1-1 1-2 1 0 1-3 1 1 1 4 1 0 1-2 1 2 1-1 1-1 1-1 1 2 1 1 1-5 1 5 1-2 1 1 1-3 1 2 1-2 1-1 1 3 1-1 1-2 1 6 1-1 1 0 1-3 1-1 1-1 1 4 1-1 1-2 1 1 1 0 1-4 1 5 1-4 1 6 1 1 1-5 1 1 1 1 1-1 1-1 1 2 1 0 1-1 1 0 1 3 1 0 1-3 1 2 1-3 1 2 1 2 1-4 1 3 1-2 1 4 1-3 1 1 1-2 1 3 1 0 1-3 1-2 1 1 1 4 1-2 1-1 1 2 1 2 1-4 1-1 1-1 1 3 1 0 1-1 1 2 1-2 1 1 1 0 1 2 1-4 1 4 1 1 1-2 1 0 1 0 1-2 1-3 1 3 1-1 1 1 1 1 1-1 1 2 1-1 1-3 1 1 1 0 1 0 1 0 1 2 1-1 1-1 1 0 1 2 1-2 1 0 1 3 1 0 1 2 1-3 1-1 1 2 1-4 1 2 1 1 1 0 1 1 1-3 1 2 1 1 1-2 1 3 1-4 1 2 1-1 1 0 1-1 1 3 1-2 1 0 1 4 1-3 1-3 1 6 1-3 1-1 1 1 1-3 1 3 1 2 1-4 1-1 1 5 1-1 1-2 1 4 1-2 1 0 1 0 1-1 1-2 1 1 1 0 1 2 1 2 1-1 1-3 1 2 1-1 1 0 1 2 1-1 1-2 1 4 1-2 1 0 1-3 1 0 1 1 1-3 1 1 1 1 1 1 1 0 1-1 1 2 1 1 1-2 1-1 1 2 1-1 1 2 1 0 1 2 1-5 1 2 1 0 1 0 1-1 1 2 1 0 1-5 1 6 1-1 1 2 1-2 1 0 1-5 1 5 1 1 1-3 1 3 1-4 1-1 1 0 1 4 1-1 1 1 1-1 1 1 1-1 1-3 1 5 1-2 1-3 1 3 1-2 1 2 1 3 1-2 1-3 1-3 1 2 1 4 1-2 1 0 1 2 1-1 1 1 1-3 1 2 1-1 1 2 1 0 1-3 1-2 1 6 1-2 1 1 1 0 1-1 1 1 1 2 1-4 1 2 1-4 1 2 1 1 1 0 1-1 1 0 1 3 1 1 1-2 1 2 1-2 1-5 1 5 1 0 1-2 1 0 1 0 1-1 1-1 1 2 1 0 1-2 1 2 1 3 1-3 1 4 1-3 1 3 1-3 1-1 1 0 1 3 1-4 1 1 1 1 1-1 1 0 1 1 1 0 1 1 1-4 1 1 1 1 1 3 1-4 1 1 1 3 1 1 1-4 1-1 1 1 1 0 1-1 1 2 1-1 1 0 1-2 1 1 1 0 1 1 1 0 1-2 1 3 1 1 1-2 1-3 1 4 1-1 1 0 1-2 1 3 1 1 1-3 1-1 1 3 1-1 1 2 1-4 1 5 1-1 1-1 1 0 1 0 1-5 1 7 1-1 1-3 1 1 1 3 1-5 1 5 1 0 1 0 1-3 1 1 1-1 1 1 1 1 1 2 1-3 1 2 1-3 1-2 1 3 1-2 1 1 1 1 1-2 1 2 1 0 1-2 1 3 1-2 1-2 1 3 1 2 1-3 1-2 1 6 1-4 1 2 1-3 1 0 1-1 1 1 1 2 1-2 1-1 1 2 1 0 1 2 1-5 1 2 1 0 1-1 1 5 1-3 1 2 1-6 1 5 1-1 1-4 1 5 1 0 1-1 1 0 1 0 1-2 1 2 1 1 1-1 1 1 1-3 1 2 1 1 1-2 1 1 1-1 1-2 1 5 1-1 1 0 1 2 1-2 1-2 1 3 1-2 1-1 1 0 1 4 1-4 1 0 1-2 1 6 1-3 1 1 1 0 1-10 1 0 1 3 1-5 1 1 1 2 1-2 1-2 1 5 1-2 1 2 1 0 1-2 1 1 1-3 1-1 1 4 1-1 1 1 1-3 1 2 1-1 1-2 1 3 1 1 1-1 1 2 1-2 1-3 1 3 1-1 1-3 1 3 1-2 1 6 1-1 1-2 1 1 1-2 1 1 1 4 1-6 1 0 1 4 1-6 1 5 1-2 1 3 1-3 1 4 1 0 1-5 1-1 1 3 1-2 1 3 1-1 1 0 1 5 1-5 1-3 1 7 1-5 1 1 1 1 1 1 1-3 1 1 1 4 1-6 1 2 1 2 1 3 1-8 1 1 1 2 1 4 1-3 1-2 1 1 1 7 1-4 1-7 1 1 1 2 1 4 1-5 1 2 1 2 1 3 1-7 1 0 1 6 1-2 1-2 1-5 1 6 1-1 1 1 1 0 1-2 1 2 1-4 1 3 1-1 1 1 1-1 1-1 1 5 1-4 1 2 1-1 1 0 1 1 1-1 1 0 1 0 1 0 1-4 1 3 1 2 1-4 1 1 1 0 1 2 1 2 1-1 1 3 1-7 1 4 1 0 1-1 1-1 1-3 1 0 1 2 1-1 1 3 1-1 1 2 1 2 1-3 1-2 1 3 1 4 1-7 1 2 1 0 1-1 1-2 1-3 1 6 1-2 1 0 1-3 1 5 1-4 1 2 1 1 1 4 1-6 1 8 1-7 1 0 1 1 1-1 1 6 1-4 1-2 1 3 1-2 1 1 1 1 1 0 1 2 1-4 1 4 1 0 1-1 1-2 1 1 1-1 1 0 1 0 1-2 1 4 1-3 1 0 1 0 1 1 1 2 1 2 1-3 1 0 1-4 1 3 1-2 1 2 1 1 1 2 1-2 1-3 1 4 1-3 1-3 1 5 1 1 1 1 1-7 1 2 1 4 1-5 1 2 1 1 1-1 1-1 1 1 1 0 1 1 1-2 1 0 1 3 1-4 1 6 1-4 1 0 1 0 1 2 1 1 1-2 1 1 1 0 1-1 1-3 1 4 1-2 1 5 1-3 1-1" stroke="#a070c0" stroke-width="0.9" marker-start="url(#m1)" marker-mid="url(#m1)" marker-end="url(#m1)"/><path class="s" transform="translate(54.3 0) scale(0.25 1.0)" vector-effect="non-scaling-stroke" d="M0 911l1-4 1 7 1-4 1-2 1 9 1-5 1 4 1-6 1-3 1 3 1 2 1-2 1-1 1 7 1-7 1 0 1 8 1-4 1-3 1 0 1 0 1 5 1-1 1-10 1 6 1-2 1 2 1 0 1 2 1-1 1 2 1 4 1-6 1-2 1-3 1 3 1 6 1-1 1-9 1 0 1 4 1 2 1 0 1 1 1-7 1 5 1 0 1 0 1 2 1-5 1 2 1-3 1 3 1 3 1-2 1 4 1-6 1-1 1 1 1 2 1 7 1-4 1 0 1-5 1 1 1-1 1 1 1 1 1-1 1 3 1-7 1 10 1-9 1 1 1 4 1 0 1 3 1-8 1 4 1 2 1-6 1 5 1-4 1 4 1-3 1-1 1 9 1-9 1 2 1 4 1-7 1 2 1-7 1 7 1 0 1-2 1-1 1 2 1 2 1 3 1 1 1-10 1-4 1 7 1 4 1 1 1-1 1-2 1 1 1 3 1-10 1 2 1 6 1-3 1 3 1 0 1-5 1 8 1 2 1-11 1 4 1 1 1 5 1-6 1 4 1-10 1 8 1-1 1-4 1 4 1 2 1-1 1-2 1-1 1 2 1-6 1 4 1 5 1-1 1-2 1-1 1-5 1 1 1 4 1-2 1 7 1-4 1-3 1 3 1-1 1-1 1 2 1-2 1 2 1-2 1 1 1-3 1 2 1 2 1-3 1 8 1-10 1 7 1 0 1-6 1 1 1-3 1 5 1-3 1 6 1-4 1 0 1 6 1-5 1 5 1-5 1-4 1 3 1-1 1-2 1 6 1 1 1 0 1-4 1-1 1 7 1-3 1-3 1 4 1-3 1 0 1 2 1-2 1 2 1-1 1-2 1 2 1-6 1 7 1-3 1 1 1 2 1 3 1-7 1 8 1-5 1 4 1-9 1 0 1 6 1-3 1 5 1 4 1-7 1-5 1 3 1-3 1 2 1 1 1 5 1-1 1-10 1 6 1 3 1-3 1 4 1 2 1-3 1 0 1-1 1-5 1 12 1-11 1 0 1 5 1-1 1 8 1-7 1-2 1 4 1-5 1 6 1-4 1 1 1-1 1-6 1 14 1-10 1 4 1-2 1 6 1-3 1-4 1-3 1-1 1 5 1 5 1-2 1-1 1-2 1 1 1-1 1-3 1-2 1 7 1 1 1 2 1-9 1 2 1 2 1 3 1-8 1 10 1-7 1 2 1 2 1 0 1-4 1 0 1 8 1-5 1-5 1 2 1-2 1-1 1 11 1-6 1-4 1 5 1-5 1 4 1-7 1 10 1-1 1-7 1 5 1 0 1-1 1-5 1 5 1-4 1 9 1 1 1-1 1-2 1-1 1 0 1-6 1 7 1-4 1-2 1 2 1-2 1 0 1 4 1 2 1-1 1-6 1 6 1-2 1 5 1-10 1 5 1 0 1 2 1-6 1 3 1 0 1 5 1-1 1-8 1 9 1-6 1 6 1-3 1 6 1-4 1-1 1-4 1 6 1-2 1 1 1-2 1-6 1 6 1 1 1-1 1-10 1 6 1 0 1 6 1-8 1 11 1-2 1-7 1-1 1 5 1 0 1 4 1-4 1 0 1-7 1 11 1 3 1-8 1 5 1 0 1-8 1 10 1-5 1-1 1-1 1-3 1 2 1 0 1-4 1-5 1 2 1-1 1 6 1 7 1-1 1 2 1-3 1-8 1 8 1 2 1-1 1-2 1 6 1-9 1-5 1 9 1-3 1 2 1-2 1 4 1-4 1 2 1-1 1 3 1-4 1 2 1-3 1 1 1 1 1-7 1 5 1 2 1 4 1 1 1-7 1 2 1 2 1-9 1 8 1-7 1 10 1-13 1 6 1 1 1 7 1-7 1 4 1 3 1-4 1 1 1-4 1 1 1 9 1-12 1 7 1-5 1 2 1-7 1 3 1 9 1-4 1 3 1-1 1 2 1-4 1 3 1-9 1 3 1-5 1 8 1 1 1 0 1-3 1 4 1-1 1 1 1-7 1 5 1-7 1 8 1-5 1 5 1-2 1 2 1 2 1 0 1-3 1 3 1-1 1-5 1 6 1-3 1 2 1-1 1 2 1 7 1-12 1-2 1 3 1 2 1-5 1 7 1-6 1 2 1 1 1 1 1 2 1-3 1-1 1 0 1 2 1-5 1 4 1 4 1-3 1 3 1 0 1 2 1-5 1-2 1 0 1 3 1-1 1-2 1 7 1-2 1-7 1 3 1-2 1 1 1 3 1 1 1-6 1-5 1 11 1-3 1-1 1 1 1-4 1 10 1-6 1 6 1-8 1 1 1 2 1-6 1 4 1 3 1 1 1-7 1 0 1 9 1-6 1-1 1 0 1 1 1-2 1 5 1-4 1 1 1-1 1 2 1-4 1 1 1 5 1-4 1-3 1-1 1 2 1 3 1 2 1 0 1 0 1-5 1 7 1-3 1-1 1-3 1 7 1-6 1-4 1 10 1-3 1 3 1 1 1-7 1 1 1 4 1-3 1 4 1-6 1 1 1 2 1-4 1 3 1 1 1 3 1-5 1 6 1 4 1-9 1 6 1-10 1 4 1 5 1-10 1-1 1 12 1-5 1-3 1-2 1 0 1 2 1 2 1 4 1 1 1-4 1 0 1 2 1-7 1 7 1-5 1 3 1 3 1-1 1-1 1 0 1-5 1 2 1 3 1-5 1 9 1-13 1 4 1-1 1 6 1-4 1 6 1 2 1-4 1 4 1-10 1 5 1 2 1 4 1-5 1 3 1-6 1 3 1 2 1-5 1-3 1 5 1 2 1-6 1 10 1-5 1-2 1-1 1 0 1-4 1 1 1 5 1 3 1 0 1-6 1 4 1-3 1 2 1-1 1 1 1-6 1 7 1 2 1-4 1 0 1 7 1-3 1 0 1 0 1-1 1-1 1 0 1 1 1-1 1-2 1-8 1 5 1 2 1 2 1-1 1-2 1-2 1 0 1 5 1 1 1-4 1 3 1 3 1 4 1-8 1-1 1 5 1-3 1-6 1 6 1 3 1-4 1-3 1-2 1 5 1 3 1-8 1 4 1 3 1 2 1-1 1-2 1-3 1 5 1-1 1-6 1 8 1 0 1-6 1 8 1-4 1 3 1-4 1 0 1-2 1 2 1 0 1 0 1 5 1-6 1-5 1 4 1-7 1 10 1-4 1 1 1-1 1 1 1 1 1-1 1 2 1 0 1 2 1-7 1 7 1-1 1-3 1 5 1-2 1 0 1-2 1-1 1 2 1-21 1 1 1 5 1-17 1 16 1-5 1 0 1 3 1-2 1 3 1 9 1-12 1 6 1-3 1 4 1 4 1-3 1-15 1 11 1 1 1-8 1-10 1 13 1-2 1 1 1 5 1-2 1-3 1 0 1 2 1-6 1 8 1-3 1 0 1-4 1 2 1-3 1 6 1 3 1-1 1 4 1-10 1 3 1-3 1-1 1 3 1-3 1 11 1 0 1-9 1 2 1 0 1 4 1-5 1 1 1 0 1 3 1-2 1 0 1 5 1-5 1 0 1 0 1 1 1-3 1-4 1 4 1 1 1 1 1 4 1-9 1 6 1-1 1 2 1 3 1-10 1 6 1-1 1-3 1 10 1-4 1-4 1 5 1-12 1 1 1 3 1 1 1 14 1-16 1 3 1 4 1-5 1 9 1 0 1-10 1 2 1 5 1-3 1 3 1-7 1 8 1 0 1-8 1 1 1 1 1-1 1 1 1 7 1-2 1 1 1-7 1 5 1-2 1 2 1-2 1-4 1 12 1-8 1-2 1 8 1-10 1 2 1 10 1-2 1-7 1-1 1 6 1 1 1-4 1 1 1 2 1-2 1-2 1 2 1 2 1-2 1-2 1 0 1 8 1-16 1 12 1-1 1-7 1 1 1 3 1-7 1 8 1-1 1 1 1-8 1 10 1-12 1 2 1 12 1-1 1-7 1 5 1-6 1 9 1 0 1-6 1 4 1-6 1-2 1-2 1 13 1-11 1 3 1-2 1 7 1-4 1-2 1-2 1 2 1 2 1-1 1 3 1-2 1 1 1 3 1 3 1-9 1 5 1-4 1-1 1 7 1-7 1 0 1 9 1-7 1 2 1-6 1 1 1 0 1 2 1 1 1 1 1 5 1-4 1 4 1-10 1-1 1 8 1-9 1 5 1-5 1 10 1-3 1 1 1-10 1 15 1-3 1-4 1-11 1 3 1 7 1 2 1 1 1 4 1 4 1-4 1-2 1 1 1-5 1 2 1 2 1-3 1 1 1-1 1-4 1 3 1 5 1-8 1 4 1 0 1 0 1 2 1-2 1 3" stroke="#f0d820" stroke-width="0.9" marker-start="url(#m4)" marker-mid="url(#m4)" marker-end="url(#m4)"/><path class="s" transform="translate(54.3 0) scale(0.25 1.0)" vector-effect="non-scaling-stroke" d="M0 920l1-5 1-1 1 5 1 1 1 1 1 1 1-6 1 0 1 0 1-2 1 6 1-2 1 1 1-1 1 1 1 0 1 0 1-3 1 2 1-1 1 3 1-2 1-2 1 3 1-4 1 3 1 0 1-1 1 3 1 0 1 3 1-9 1 0 1 6 1-1 1-3 1 1 1-2 1 3 1 1 1-2 1 2 1-2 1 0 1-1 1 0 1 6 1-8 1 7 1 0 1-5 1 6 1-3 1-1 1 0 1 1 1-2 1 2 1-5 1 8 1-4 1 1 1 1 1-4 1 1 1-1 1 2 1 4 1-1 1-4 1-8 1 3 1 3 1-8 1 7 1-1 1-4 1 1 1 7 1-9 1 6 1 0 1-4 1 2 1-3 1 5 1 1 1-1 1-5 1 0 1-3 1 4 1-3 1 5 1-3 1 1 1-2 1 5 1-3 1 7 1-4 1 0 1-4 1 3 1 3 1-1 1-3 1 2 1-4 1 8 1-10 1 8 1 5 1-7 1-4 1 1 1 12 1-14 1 4 1-2 1 10 1-3 1-6 1 4 1-9 1 5 1 2 1 4 1-8 1 3 1-1 1 7 1-3 1 1 1-9 1 6 1-1 1-2 1-2 1 7 1-1 1 3 1 2 1-5 1-8 1 7 1 2 1-5 1 4 1 0 1-3 1 6 1-4 1 2 1-3 1 1 1-1 1-4 1 5 1 0 1-1 1-1 1 8 1-8 1 1 1 4 1-1 1-10 1 7 1 0 1 1 1-1 1 1 1 4 1-10 1 7 1 1 1-4 1 1 1-4 1 5 1 1 1 0 1-3 1 0 1 0 1 3 1-5 1 3 1 7 1-10 1 7 1 4 1-10 1 4 1 1 1 1 1-5 1 1 1 1 1 1 1-4 1 1 1-1 1 3 1 2 1 1 1-4 1-8 1 7 1-3 1 8 1-5 1 3 1-1 1-4 1 6 1-3 1-1 1 1 1-12 1 12 1-2 1 5 1-4 1 3 1-2 1 1 1-2 1 4 1-1 1 0 1 0 1-3 1 1 1 1 1-3 1 3 1 0 1-7 1 6 1 12 1-13 1 2 1-5 1 11 1-9 1 1 1 3 1-3 1 1 1 5 1-7 1 2 1-8 1 5 1 6 1 1 1-4 1 0 1-3 1 1 1 0 1 3 1 1 1 0 1 2 1-7 1 4 1 1 1-4 1 0 1 6 1-9 1 10 1 1 1-3 1-9 1 5 1 4 1-4 1-5 1 7 1-4 1 1 1 2 1 6 1-8 1 8 1-4 1 0 1-1 1-2 1-2 1 0 1 2 1 1 1 1 1-1 1-3 1 1 1 3 1 1 1-5 1-3 1 9 1 1 1-4 1-4 1 5 1 3 1-2 1-3 1-4 1 11 1 0 1-3 1-5 1 4 1-1 1 5 1-7 1 1 1-5 1 1 1 8 1-1 1-5 1 1 1 1 1 6 1-9 1 6 1-8 1 5 1-4 1 2 1 0 1 5 1-5 1 1 1 2 1 4 1 2 1-6 1-2 1-4 1 15 1-12 1 4 1-1 1-2 1 4 1-1 1-4 1 0 1 7 1-9 1 4 1-6 1 5 1-3 1 11 1-6 1-2 1 1 1-8 1 7 1 4 1-8 1 5 1-3 1 6 1-6 1 3 1 0 1 4 1-5 1-1 1 2 1 1 1 0 1 2 1-1 1 5 1-6 1 3 1 1 1-5 1-1 1 1 1-4 1 4 1 1 1-5 1 3 1 3 1 1 1-3 1-3 1 2 1-1 1 2 1-5 1 5 1-1 1 1 1 5 1-2 1-5 1 0 1 5 1 2 1-4 1-1 1 4 1-2 1-3 1 4 1-3 1 3 1-9 1-1 1 13 1-12 1 3 1 7 1 0 1-4 1-1 1 2 1 7 1-5 1-5 1 3 1 0 1-1 1 0 1 1 1 2 1-5 1 4 1-2 1 0 1 0 1-5 1 8 1 0 1 1 1-8 1 10 1-6 1 0 1 2 1-1 1 1 1 2 1-6 1 9 1-5 1-7 1-3 1 14 1-3 1-6 1 5 1-6 1 10 1-3 1-3 1-6 1 5 1 4 1 2 1-3 1-7 1 2 1 2 1 2 1-7 1 7 1-1 1-5 1 2 1 4 1-3 1-2 1 5 1 2 1-4 1-3 1 7 1-1 1-7 1 7 1-4 1 5 1-7 1 4 1 0 1 2 1 2 1-3 1-4 1 3 1 0 1 3 1 0 1 5 1-2 1-9 1 0 1 7 1-7 1 3 1 0 1-3 1 3 1 4 1-9 1 7 1-5 1-1 1 5 1-5 1 2 1-2 1 6 1 0 1-2 1-1 1 1 1 5 1-5 1 1 1-2 1 8 1-8 1 1 1 6 1-4 1-2 1-3 1 4 1-1 1 10 1-16 1 1 1 6 1-3 1 3 1-3 1 2 1 2 1-6 1 3 1 5 1-12 1 3 1 10 1-5 1 7 1-6 1-4 1 0 1 4 1 0 1 1 1 0 1-3 1-2 1 1 1 3 1 1 1-6 1 2 1 10 1-5 1-3 1 1 1-7 1 14 1-13 1 5 1 2 1-1 1 1 1 5 1-5 1-4 1 3 1 0 1-3 1 5 1-6 1 3 1-3 1-1 1 6 1-3 1-2 1 6 1 0 1 5 1-11 1 5 1-2 1 0 1 3 1 2 1-5 1-2 1 2 1 0 1-2 1 4 1 1 1-3 1-3 1 4 1 1 1 3 1-6 1 1 1 4 1-7 1 6 1 2 1-10 1 0 1 1 1 6 1-1 1 2 1-4 1 4 1-5 1 2 1-4 1 1 1 7 1-1 1-8 1 4 1 4 1 5 1-9 1 8 1-6 1 0 1-4 1 8 1-6 1-4 1 1 1 4 1-1 1 3 1-1 1-6 1 4 1 2 1-4 1 2 1 0 1 5 1 0 1-3 1 2 1 0 1-7 1 5 1-2 1 2 1 1 1 0 1-7 1 4 1 4 1-8 1 6 1-3 1 1 1-2 1 1 1 3 1 3 1 0 1-5 1-3 1-2 1 1 1 4 1 4 1-7 1 5 1-5 1 2 1 4 1 0 1-1 1-6 1 6 1-2 1 2 1 2 1-2 1 3 1-10 1 4 1 5 1-5 1-2 1 2 1 2 1 5 1-8 1 5 1-2 1-10 1 3 1 10 1-3 1-2 1 4 1 2 1-3 1 1 1 2 1 0 1-3 1 4 1-3 1 1 1-5 1 3 1-16 1-5 1-2 1 5 1 3 1-1 1 0 1 1 1-2 1-6 1 4 1 4 1-5 1 6 1-1 1 2 1 0 1-1 1 0 1 0 1 0 1-5 1 4 1-10 1 6 1 2 1 1 1 0 1-2 1 3 1-3 1 5 1-5 1 8 1-2 1-11 1 8 1 0 1-4 1 7 1-9 1 9 1-2 1 3 1-8 1 1 1 3 1-5 1 4 1-2 1 4 1-11 1 12 1-5 1 3 1-5 1 0 1 0 1 5 1-4 1-3 1 6 1-2 1-3 1 0 1 1 1 2 1 1 1-3 1 8 1 1 1-8 1 7 1-1 1 3 1-7 1-3 1 8 1 2 1-9 1 5 1 0 1-9 1 11 1-4 1 1 1 2 1-10 1 4 1 6 1-2 1-3 1 4 1 0 1 0 1-3 1-4 1 5 1 0 1-2 1-1 1 6 1-4 1-2 1 3 1 2 1 3 1-12 1 8 1-5 1-3 1 2 1 7 1 0 1 2 1-5 1-1 1 4 1 1 1 0 1-6 1 1 1 8 1-5 1 0 1 6 1-6 1-1 1 4 1-5 1-2 1-4 1 10 1-4 1 5 1-3 1-4 1 5 1 1 1-3 1-1 1 4 1-6 1-4 1 11 1-6 1 2 1 1 1-1 1-3 1-3 1 4 1 3 1-1 1-1 1-1 1 5 1-3 1-2 1-3 1 6 1-1 1 4 1-1 1-4 1 3 1-1 1-3 1 5 1-6 1 3 1 3 1-7 1 6 1-3 1 1 1 4 1-5 1 3 1 1 1-7 1 2 1 4 1-2 1 7 1-15 1 3 1 8 1-6 1 7 1-6 1 3 1-2 1-3 1 4 1-2 1 1 1 0 1-1 1-4 1 8 1-5 1 6 1-6 1-6 1 5 1 7 1-2 1 0 1 2 1-2 1 4 1-2 1-3 1 1 1-1 1 1 1 0 1-3 1-2 1 0 1 2 1 2 1 1 1 2 1-2 1 0 1 0 1 2 1-8 1 9 1-6 1-3 1 6 1-3 1 0 1 3 1-4 1 3" stroke="#555555" stroke-width="0.9" marker-start="url(#m2)" marker-mid="url(#m2)" marker-end="url(#m2)"/><path class="s" transform="translate(54.3 0) scale(0.25 1.0)" vector-effect="non-scaling-stroke" d="M0 879l1-1 1 6 1 12 1-6 1-1 1-24 1 7 1 14 1-9 1 8 1 8 1-15 1-2 1 6 1-4 1 0 1 19 1-10 1 0 1-6 1-2 1 10 1-3 1-6 1-9 1 13 1 0 1-16 1 26 1-20 1 2 1-5 1 5 1 8 1-8 1 15 1-20 1 6 1-5 1 2 1 8 1 4 1-5 1 16 1-21 1 10 1-7 1 5 1 5 1-7 1 2 1 3 1-10 1 10 1 0 1-10 1 3 1-10 1 23 1-14 1-7 1 30 1-31 1 31 1-23 1 8 1-11 1 17 1 0 1-5 1-10 1-7 1-3 1 4 1 1 1 7 1 6 1-5 1-7 1 9 1-14 1 1 1 10 1-1 1-6 1 15 1-7 1 3 1-12 1-5 1 17 1-9 1 0 1 2 1-7 1 6 1 2 1-1 1 9 1-9 1-3 1-3 1 12 1-6 1-4 1-5 1 11 1-6 1 11 1-13 1 1 1-2 1 3 1-5 1 11 1 0 1-7 1 5 1-2 1-1 1 3 1 4 1-12 1 8 1 4 1 4 1 0 1-6 1-1 1 0 1 2 1-4 1-3 1 25 1-32 1 9 1 6 1 14 1-17 1 2 1-10 1-2 1 5 1 7 1-4 1 2 1-4 1 9 1-7 1 4 1-4 1 4 1-16 1 9 1 4 1-2 1 12 1-15 1 6 1-2 1 8 1-8 1-5 1 19 1-8 1-9 1 0 1 11 1-2 1-2 1 3 1-12 1 7 1 6 1-6 1-6 1 7 1-4 1-2 1 21 1-13 1-7 1-6 1 12 1-2 1-2 1-2 1 0 1-3 1 4 1 1 1 7 1 3 1-6 1-2 1-8 1 10 1-2 1-2 1 3 1 1 1 4 1 0 1-5 1-3 1-6 1 2 1 6 1 9 1-10 1 3 1 1 1-10 1 5 1 2 1 0 1-4 1 2 1 6 1-8 1-2 1 1 1-1 1-5 1 11 1-12 1 14 1 2 1-11 1 11 1-1 1-11 1 15 1-2 1-4 1-6 1 10 1-5 1-7 1 6 1 8 1-9 1-1 1 10 1-7 1-7 1 4 1-7 1 6 1-2 1 3 1-5 1 1 1 3 1 10 1-11 1 5 1 6 1-11 1 4 1-1 1 1 1 0 1-5 1-2 1 8 1 2 1 0 1-1 1-5 1 0 1 1 1-2 1 7 1-2 1-1 1-2 1 0 1 3 1 4 1-4 1-4 1-2 1 6 1-2 1 3 1 7 1-9 1-3 1-3 1 4 1 0 1 7 1 3 1-11 1 3 1 0 1 2 1-10 1 14 1-7 1 5 1-7 1-4 1 3 1 7 1 0 1-1 1 12 1-16 1-4 1 7 1 7 1-4 1-5 1-3 1 24 1-18 1-1 1 0 1 5 1-9 1 1 1 3 1-4 1-4 1 2 1-1 1 1 1 14 1-2 1-9 1 1 1 6 1 1 1-2 1-2 1-7 1 8 1-11 1 0 1 7 1-5 1-1 1 8 1 2 1-3 1-3 1 3 1 3 1-6 1-3 1-3 1 18 1-4 1-4 1 0 1 4 1-10 1 8 1-8 1 4 1 1 1 7 1-6 1 0 1-1 1 3 1-3 1-3 1 0 1 6 1 0 1-10 1 8 1-5 1 4 1-3 1 1 1 6 1-7 1 5 1-2 1 2 1 19 1-15 1-5 1-1 1-6 1 7 1 2 1 0 1-1 1-2 1-1 1 0 1 1 1-2 1-2 1-2 1 4 1 0 1 3 1-5 1 4 1-4 1-2 1 3 1 4 1-9 1 11 1-4 1 2 1 8 1-7 1 2 1-10 1 13 1-10 1 5 1 9 1-14 1 4 1 3 1-8 1-4 1 14 1-3 1-3 1 1 1 1 1-8 1 5 1 3 1-5 1 5 1-1 1 0 1 6 1-8 1-3 1 4 1 2 1-4 1-8 1 4 1 3 1-6 1 16 1-8 1-4 1 9 1-3 1-3 1 0 1-1 1 6 1-5 1 4 1-7 1-4 1 11 1-8 1-4 1 7 1 12 1 12 1-22 1 6 1-1 1 2 1-7 1-2 1 3 1 2 1 0 1 1 1 5 1-12 1 4 1 2 1 12 1-15 1-8 1 5 1 9 1-1 1-9 1 10 1 2 1-4 1-5 1 9 1-8 1 7 1-14 1 14 1-5 1-2 1 3 1 0 1-2 1-3 1 1 1 7 1-2 1-6 1 0 1 7 1-8 1-1 1 22 1-20 1-4 1 17 1-13 1 2 1 3 1-1 1-7 1 7 1-2 1 4 1-1 1 3 1 16 1-21 1 6 1-7 1-1 1 4 1-3 1 1 1 1 1 4 1 3 1-6 1-5 1 1 1 4 1-11 1 7 1 3 1-5 1 7 1 1 1-4 1 6 1-3 1-7 1-1 1 0 1 6 1-2 1 11 1-16 1 6 1-3 1-1 1-5 1 7 1 2 1 0 1 1 1 5 1-3 1-2 1-1 1-2 1-3 1 9 1-11 1 15 1-7 1-1 1 0 1-2 1 1 1 4 1-9 1 3 1 5 1-2 1-4 1-4 1 8 1-3 1 9 1 15 1-17 1-11 1 9 1-8 1 2 1 5 1-5 1 8 1 11 1-14 1-1 1 0 1-4 1 8 1-3 1-5 1 2 1 0 1 6 1-2 1 0 1-2 1 14 1-3 1-14 1 0 1 4 1 1 1 7 1-12 1 7 1-9 1 3 1 5 1 6 1-3 1-8 1 4 1-3 1 2 1 4 1-6 1 11 1-11 1 6 1-7 1 0 1 5 1-9 1 1 1 6 1-3 1 3 1 1 1-4 1 5 1-7 1-1 1 5 1-1 1 9 1-14 1 6 1-1 1 1 1-4 1 0 1 6 1 0 1-5 1 2 1 0 1-5 1 4 1-1 1 5 1 14 1-13 1-2 1 3 1-5 1 11 1-15 1 7 1-3 1 6 1-7 1 6 1-5 1 1 1 7 1-7 1 0 1 6 1 2 1-1 1-4 1-9 1 7 1 0 1 3 1-4 1 4 1-1 1-2 1-3 1 2 1-1 1 4 1-3 1-5 1 9 1-3 1 1 1-7 1 3 1-7 1 9 1 5 1-12 1 32 1-34 1 10 1-6 1 10 1-9 1 6 1-7 1 12 1-6 1 1 1 7 1-5 1 1 1-12 1 9 1-2 1-3 1 11 1-11 1 0 1-4 1 2 1 5 1 1 1 4 1-1 1 1 1 2 1-5 1 1 1 0 1-2 1-2 1 4 1 2 1 1 1-7 1 5 1 2 1-3 1 3 1-2 1-1 1 1 1-1 1-1 1 6 1-5 1 3 1-3 1-2 1 5 1-2 1 3 1-3 1-2 1 0 1 2 1-1 1-4 1 3 1-1 1 1 1-4 1 10 1-7 1 3 1-2 1 0 1 4 1-4 1 3 1-2 1 0 1 2 1-1 1 2 1-2 1 1 1-3 1-1 1 2 1 1 1 1 1 1 1-2 1 1 1-1 1-1 1 4 1-5 1 4 1-1 1-1 1 1 1 1 1-2 1-1 1 0 1 1 1-2 1-1 1 0 1 2 1-3 1 3 1-1 1 2 1-3 1 3 1-2 1 3 1 1 1-2 1-2 1 7 1-7 1 2 1 3 1-2 1-1 1 1 1-2 1-2 1 4 1 1 1-2 1-5 1 3 1 1 1-2 1 4 1 0 1-1 1 0 1 0 1 1 1 1 1-3 1 2 1-1 1-4 1 4 1 1 1-1 1-3 1 3 1-2 1 1 1 1 1-4 1 6 1-4 1 3 1-4 1 0 1 3 1-4 1 6 1-3 1 1 1 0 1 0 1-4 1 3 1-4 1 4 1 0 1 0 1 3 1-3 1 2 1 1 1-1 1-4 1 8 1-5 1 1 1-2 1-5 1 4 1 3 1 2 1-8 1 4 1 2 1-2 1 2 1-6 1 4 1 3 1 0 1-1 1-2 1 5 1-5 1 1 1 1 1-2 1 0 1 1 1-3 1 3 1 3 1-3 1-2 1 3 1-2 1-1 1 5 1-4 1-1 1 6 1-1 1-5 1 0 1 1 1-1 1 1 1-3 1 6 1-5 1 3 1 0 1 3 1-2 1-2 1 2 1-5 1 7 1-3 1-1 1-4 1 4 1 1 1-3 1-2 1 5 1-2 1 5 1-5 1 0 1 5 1-4 1 3 1-4 1 0 1 4 1-3 1 2 1 0 1-6 1 3 1 4 1-3 1-3 1 4 1-1 1 0 1-1 1-2 1 4 1-1 1 1 1 1" stroke="#4b66b4" stroke-width="0.9" marker-start="url(#m5)" marker-mid="url(#m5)" marker-end="url(#m5)"/><path class="s" transform="translate(54.3 0) scale(0.25 1.0)" vector-effect="non-scaling-stroke" d="M0 850l1-4 1 11 1-11 1 4 1 9 1-8 1 3 1-2 1 2 1 5 1-23 1 19 1 3 1-2 1-3 1 2 1-3 1-7 1 7 1 2 1-11 1 15 1-4 1 8 1-10 1 5 1-11 1 11 1 3 1-5 1 1 1 0 1-4 1-11 1 22 1-2 1-12 1-8 1 15 1-12 1 3 1-10 1 21 1-3 1-8 1 11 1 0 1-8 1 5 1-10 1 10 1-3 1 0 1 2 1 11 1-14 1-1 1 4 1-1 1 0 1 7 1-6 1-14 1 6 1 8 1-1 1 3 1-11 1 4 1-8 1 17 1-30 1 20 1 4 1-4 1 5 1 0 1-11 1 10 1-6 1 4 1 4 1-7 1 8 1-4 1-10 1 5 1-2 1 14 1-8 1-1 1 0 1-3 1 3 1 6 1-6 1-2 1 13 1-2 1-13 1-3 1-3 1 20 1-14 1 3 1 3 1-3 1-10 1 17 1-11 1 4 1 3 1-8 1 13 1-4 1 6 1-8 1-11 1 9 1 3 1-13 1 14 1-3 1 1 1 5 1-14 1 6 1-5 1 11 1-4 1 7 1-5 1-1 1-6 1 4 1-5 1 7 1-7 1-4 1 5 1-3 1 2 1 12 1-9 1-3 1-4 1 12 1-7 1-6 1 14 1-9 1 6 1 2 1-6 1 11 1-2 1-10 1 3 1 1 1 0 1 8 1 0 1-11 1 14 1-3 1-6 1 0 1 6 1 0 1-5 1-1 1-6 1 5 1-8 1 11 1-4 1 12 1-21 1 19 1-25 1 17 1 1 1-2 1-7 1 4 1 3 1-11 1 5 1 4 1-8 1 15 1-10 1-8 1 7 1 3 1 12 1-21 1 11 1-9 1 16 1-6 1-6 1 13 1-1 1-10 1 3 1 4 1-1 1-8 1 6 1-23 1 20 1 12 1-10 1 4 1-8 1 2 1 8 1-12 1 1 1 1 1-3 1 10 1-9 1 6 1 12 1-16 1-1 1 4 1 7 1-7 1 0 1 3 1-5 1 7 1 0 1 0 1-5 1 7 1-5 1-6 1 13 1-1 1-15 1 8 1 4 1-2 1 3 1-5 1-1 1 11 1-8 1-3 1 8 1 0 1 4 1-5 1-10 1 17 1-11 1 8 1-25 1 8 1-1 1 13 1-4 1 4 1 11 1-17 1-6 1 4 1 4 1-6 1 8 1-4 1-6 1 5 1 4 1 2 1-9 1 7 1-6 1 3 1 10 1-11 1 19 1-18 1 5 1-22 1 19 1-5 1 5 1-12 1 2 1 13 1-12 1 10 1 2 1 0 1-9 1 0 1 6 1 0 1-15 1 12 1 7 1-6 1-8 1 11 1-12 1 12 1 1 1-2 1 3 1-13 1 3 1 7 1-3 1-9 1 6 1 3 1 3 1 7 1-12 1-2 1 9 1 4 1-7 1 8 1-5 1-7 1-1 1 7 1-7 1 6 1 2 1 2 1-8 1 13 1-10 1 2 1-6 1 12 1-17 1 8 1-2 1 10 1 0 1-12 1-5 1 9 1 7 1-21 1 14 1 6 1-2 1-6 1 2 1 9 1-11 1 0 1 8 1-16 1 5 1 18 1-8 1-5 1 5 1-7 1-2 1 9 1-24 1 20 1 3 1-9 1 10 1 1 1-4 1-8 1 14 1-4 1 2 1 2 1-7 1 4 1 3 1-11 1 1 1-1 1 1 1-4 1 1 1 14 1 3 1-10 1 8 1-11 1 10 1-10 1 4 1-6 1 10 1-3 1-6 1 2 1-1 1 7 1 5 1-14 1-4 1 9 1 2 1-4 1-4 1 9 1-2 1-1 1-2 1 1 1-3 1 0 1 3 1 0 1-18 1 18 1 3 1-2 1 0 1-9 1 10 1-3 1 2 1 5 1 3 1-10 1-1 1-8 1 2 1 16 1-14 1 12 1 2 1-5 1-9 1 9 1-7 1 3 1 1 1-3 1 7 1-19 1 19 1-7 1 6 1 0 1-25 1 20 1-8 1 22 1-10 1-4 1-3 1-1 1-5 1 19 1-6 1 0 1 3 1-18 1 13 1 8 1-9 1-5 1 6 1 4 1 3 1-1 1-11 1 15 1-4 1-7 1 7 1-16 1 15 1-3 1-4 1 8 1-4 1-9 1 17 1-2 1-10 1 7 1 2 1-25 1 19 1 1 1 10 1-17 1 11 1-2 1-4 1 1 1 13 1-23 1 9 1-10 1 11 1-5 1 13 1-7 1-9 1 10 1-22 1 18 1 3 1-7 1 9 1-7 1 7 1-21 1 13 1-3 1 8 1 5 1-1 1-3 1-6 1 4 1-2 1-2 1-2 1 6 1 7 1-9 1 5 1-2 1-9 1 7 1 8 1-5 1 6 1 9 1-23 1 12 1-8 1 13 1-5 1-9 1 5 1 4 1-5 1-6 1 6 1 4 1-27 1 13 1 21 1-9 1-2 1 2 1-15 1 19 1-4 1-3 1-2 1-3 1 1 1 9 1-17 1 16 1-3 1-23 1 18 1 3 1-4 1 3 1 0 1-1 1 3 1 7 1-9 1 4 1-12 1 9 1-2 1-7 1 7 1 3 1 0 1 0 1-7 1 4 1 1 1 6 1-1 1-4 1-3 1-8 1 6 1 2 1 3 1 0 1 2 1-9 1 4 1 11 1-6 1 3 1-8 1 16 1-24 1 8 1 0 1-1 1 1 1 3 1 2 1-8 1 6 1-5 1 1 1 1 1 1 1 1 1-4 1 10 1-11 1 9 1-3 1 1 1 0 1 5 1-10 1 3 1-8 1 9 1 3 1-1 1 0 1-3 1 3 1 0 1-10 1 7 1 0 1 0 1 13 1-10 1 1 1-5 1-4 1 0 1 8 1 15 1-9 1-7 1 2 1 3 1-4 1 5 1-6 1-9 1 19 1-2 1-12 1 8 1-5 1 4 1 0 1 3 1-14 1 4 1 16 1-18 1-5 1 14 1 1 1-2 1-6 1 4 1-3 1 9 1-4 1-2 1-1 1 3 1 0 1 3 1 1 1 4 1-4 1-8 1 10 1-5 1-1 1 3 1-5 1 0 1 9 1-11 1 5 1-11 1 20 1-12 1-2 1-4 1 15 1-13 1 10 1 3 1 1 1-12 1 2 1-6 1 15 1-2 1-7 1 5 1-4 1 2 1-8 1-2 1 12 1-5 1 0 1 8 1-1 1-8 1 1 1-4 1 1 1 10 1-5 1-4 1 7 1-14 1 15 1-11 1-8 1 9 1 5 1-7 1 9 1-17 1 18 1-10 1 0 1 6 1-4 1-7 1 0 1-1 1 11 1-3 1 7 1 1 1-4 1-1 1 2 1-5 1-6 1 4 1 7 1-6 1-2 1-5 1 8 1-3 1 6 1 2 1-16 1 10 1-9 1 1 1 16 1-6 1-4 1-4 1 1 1 4 1 0 1-3 1 3 1 1 1 6 1-6 1-5 1-2 1 9 1 6 1-4 1-3 1-4 1-1 1 9 1-17 1 10 1 1 1 5 1-4 1-3 1 0 1 5 1 5 1-12 1 2 1 6 1-10 1 3 1 2 1-12 1 13 1-6 1 8 1-1 1-7 1-2 1-6 1 16 1 2 1-5 1-10 1 9 1 1 1 3 1 0 1 3 1 1 1-4 1-7 1 7 1-8 1 10 1-15 1 13 1 8 1-8 1-1 1 2 1-13 1 10 1 0 1-2 1-7 1 19 1-9 1-1 1-6 1 13 1-6 1 2 1-11 1 12 1-1 1 3 1-4 1-6 1 4 1 1 1 0 1 7 1-5 1-15 1 11 1 8 1-1 1-12 1-1 1 4 1-1 1-2 1 11 1-2 1-10 1 12 1-6 1-2 1 1 1 1 1-2 1-2 1 7 1 8 1-11 1-6 1 0 1 15 1-16 1-4 1 16 1-7 1 7 1-2 1 2 1-13 1 14 1-5 1 4 1-4 1-5 1 9 1-11 1 6 1 2 1 1 1-8 1 11 1-7 1-1 1-3 1-2 1 8 1-11 1 17 1-6 1 0 1-16 1 16 1-1 1 7 1-7 1-3 1 7 1 1 1-9 1 7 1-7 1-2 1 5 1-2 1 0 1-2 1 7 1 1 1 0 1 5 1-13 1-2 1 7 1 3 1 0 1-7 1 2 1 12 1-8 1-5 1 20 1-22 1 6 1 1 1-6 1 5 1 4 1 6 1-10 1 1 1 5 1-7 1 4 1-4 1 1 1 7 1-3 1-7 1 7 1-4 1 4 1-8 1 2 1 8 1-8 1 6 1-4 1-1" stroke="#555555" stroke-width="0.9" marker-start="url(#m2)" marker-mid="url(#m2)" marker-end="url(#m2)"/><path class="s" transform="translate(54.3 0) scale(0.5 1.0)" vector-effect="non-scaling-stroke" d="M0 858l1 5 1-1 1-16 1 11 1 1 1-6 1 12 1 1 1-4 1 0 1 5 1 9 1-17 1 7 1 1 1-15 1 4 1 18 1-8 1-12 1-3 1 5 1 5 1 1 1 2 1 1 1-2 1 3 1 1 1 2 1-9 1 5 1-8 1 13 1-5 1-13 1-11 1 1 1 0 1 13 1-10 1 3 1 0 1-2 1-9 1 18 1-13 1 5 1-1 1 7 1 0 1-10 1 8 1 0 1 3 1-7 1-10 1 12 1-3 1 9 1-4 1-7 1-2 1 8 1-7 1 8 1-2 1-3 1-4 1 2 1 0 1 11 1 2 1-15 1 7 1 2 1-15 1 14 1 9 1-8 1-1 1 0 1-7 1 8 1-7 1-1 1 1 1 14 1-12 1 4 1 3 1-8 1 1 1 1 1 6 1 2 1 2 1-14 1-4 1 0 1-9 1 23 1-3 1 2 1-6 1 5 1 0 1 2 1-3 1-11 1 5 1 11 1-5 1-3 1 5 1-5 1-8 1 8 1 5 1 2 1-8 1 2 1-4 1 5 1-7 1 9 1-3 1-11 1 13 1 0 1-1 1-9 1 5 1 0 1 6 1-9 1 9 1-7 1 2 1 5 1-4 1 3 1 5 1-4 1-11 1 8 1-6 1 6 1 7 1-6 1-8 1 1 1 5 1 1 1 8 1-16 1 7 1 3 1-5 1 6 1 2 1-5 1 1 1 3 1-5 1-4 1 9 1-4 1-3 1-2 1 4 1 4 1 6 1-11 1-2 1-10 1 10 1 2 1-7 1 7 1 9 1-12 1 14 1-6 1 0 1-2 1-6 1-3 1 10 1-3 1-6 1 7 1 6 1-8 1 6 1-8 1 4 1 4 1 0 1-15 1 11 1 1 1-8 1 6 1 7 1 0 1-11 1 3 1-1 1-3 1 5 1 5 1 2 1-8 1-6 1-5 1 11 1 4 1-3 1 0 1 2 1 5 1-19 1 19 1-7 1 2 1-3 1 8 1-5 1 5 1-7 1-4 1-4 1 11 1-8 1 11 1-5 1-8 1 11 1-10 1 13 1-5 1-2 1 4 1-2 1-2 1 0 1 1 1 3 1-3 1-1 1-8 1 12 1 4 1-4 1 0 1-5 1 6 1-8 1-2 1 8 1-9 1 10 1-4 1 12 1-6 1-12 1 6 1-1 1 7 1-1 1-6 1-4 1 4 1-1 1 2 1-4 1 1 1 1 1 4 1-6 1 12 1-6 1-7 1 9 1-2 1 3 1-3 1 3 1-4 1-11 1 20 1-13 1 10 1-9 1 4 1 1 1-7 1 13 1-7 1-7 1 12 1 0 1-8 1-6 1 4 1-2 1 6 1-1 1 1 1 0 1 0 1-5 1 11 1-14 1 9 1-3 1 1 1-5 1 6 1-5 1-2 1 10 1 2 1-6 1-4 1 1 1 7 1 3 1 6 1-14 1-1 1-3 1 12 1-7 1-4 1 9 1-12 1 8 1-9 1 1 1 9 1 3 1-7 1 9 1-5 1 0 1-4 1 5 1 0 1-16 1 15 1-5 1 0 1 2 1 6 1-3 1-1 1 6 1-5 1 3 1 6 1-22 1 9 1-2 1 4 1-4 1-3 1 17 1-10 1-1 1-2 1 9 1 0 1-7 1-5 1-2 1 4 1 7 1-6 1 3 1 3 1 1 1-8 1-6 1 8 1-5 1 8 1-3 1 1 1-2 1 4 1-10 1 9 1 0 1-3 1 1 1-2 1 12 1-6 1-2 1 5 1-13 1 0 1 11 1-5 1-1 1 7 1 0 1-6 1 2 1-8 1 3 1 6 1-4 1-4 1 4 1 7 1-18 1 5 1 8 1 2 1 8 1-15 1 4 1 0 1-4 1 0 1 9 1-20 1 23 1-10 1-5 1 3 1 6 1-3 1-3 1-7 1 16 1-1 1-2 1-1 1-1 1-6 1 9 1 8 1-8 1-8 1 15 1-3 1-2 1-14 1 12 1-3 1 5 1-2 1-5 1-1 1 11 1-9 1 4 1-3 1-7 1 4 1 6 1-6 1 6 1 3 1-1 1 3 1-9 1 2 1-11 1 14 1-5 1 5 1 1 1-3 1-5 1-1 1 2 1 6 1 2 1-9 1 14 1 2 1-16" stroke="#f59a70" stroke-width="0.8" marker-start="url(#m11)" marker-mid="url(#m11)" marker-end="url(#m11)"/><path class="s" transform="translate(54.3 0) scale(0.25 1.0)" vector-effect="non-scaling-stroke" d="M0 868l1 30 1-28 1-6 1 7 1 5 1 0 1-5 1 2 1-1 1-2 1-4 1 11 1-24 1 24 1 3 1-8 1 4 1-18 1 12 1 10 1-19 1 19 1-13 1 8 1-14 1 11 1 10 1-5 1-4 1 1 1-8 1 8 1-11 1 8 1-22 1 30 1 9 1-13 1 7 1-8 1 7 1 1 1-20 1 10 1-2 1 13 1-9 1-2 1 6 1-6 1-13 1 21 1 0 1-6 1-25 1 16 1 20 1 0 1-23 1 21 1 0 1-11 1 7 1 9 1-25 1 22 1 3 1-4 1-5 1-8 1-23 1 9 1-8 1 3 1 1 1 8 1-4 1-2 1-6 1 13 1-22 1 7 1 3 1 6 1-9 1 13 1-13 1 21 1-11 1 3 1 5 1-15 1 6 1 18 1-26 1 7 1-4 1-10 1 13 1 7 1 4 1-12 1-11 1 23 1-17 1 24 1-17 1 14 1-4 1-9 1 7 1-10 1 6 1-5 1 1 1 0 1 4 1 2 1-4 1-15 1 12 1-2 1-4 1 13 1-16 1 12 1 3 1-10 1 12 1-9 1-2 1-1 1 5 1-3 1-5 1 12 1-10 1 6 1-21 1 31 1 0 1-9 1-6 1 6 1 1 1-11 1 17 1 1 1-6 1 3 1-11 1 16 1-9 1 2 1-5 1-3 1 3 1-1 1-18 1 30 1-15 1 16 1-5 1 13 1-33 1 4 1-1 1 17 1-17 1 8 1-1 1-7 1 18 1-9 1-23 1 40 1-28 1 13 1-10 1 3 1 6 1 4 1 2 1-1 1-11 1 11 1-6 1-3 1 21 1-31 1 20 1-27 1 20 1 3 1 8 1-12 1 17 1-3 1-15 1 1 1 3 1 5 1-5 1 6 1 6 1-13 1 17 1-18 1-4 1 0 1 10 1-5 1 6 1-7 1 7 1 4 1-3 1-2 1-21 1 7 1 21 1-16 1 0 1 4 1 14 1 0 1-13 1 2 1 8 1-7 1-4 1 4 1 15 1-15 1-4 1 3 1-11 1 4 1 0 1 9 1-18 1 15 1 12 1-16 1 11 1-9 1 0 1 3 1 0 1-1 1 1 1-6 1 13 1-8 1-33 1 26 1-6 1 11 1-11 1 20 1-1 1-12 1 9 1-2 1 8 1-14 1 3 1-18 1 19 1 3 1-15 1 7 1 9 1-4 1 8 1-7 1 15 1-18 1-6 1 11 1 0 1 13 1-7 1-16 1 11 1-9 1 11 1-6 1-1 1 10 1 6 1-5 1-3 1 0 1 2 1-15 1 7 1 1 1 6 1-15 1 3 1 22 1 0 1-12 1-12 1 2 1 8 1 1 1-5 1 5 1-48 1 50 1 5 1-15 1-1 1 9 1 4 1-8 1-4 1 2 1-8 1 17 1-4 1-2 1 3 1-4 1 10 1-13 1 6 1 5 1-33 1 38 1-18 1 3 1-1 1-4 1 17 1-12 1 11 1-11 1-14 1 24 1 4 1-8 1 1 1-8 1 10 1-14 1 6 1 10 1-1 1-14 1 20 1-19 1 5 1 6 1 3 1-17 1-5 1 20 1 8 1-15 1-7 1 35 1-43 1 20 1-6 1-3 1-4 1 6 1 3 1-6 1 5 1-5 1 3 1 3 1-8 1 12 1 5 1-27 1 7 1 15 1-13 1 7 1 3 1 6 1-6 1 4 1-3 1-4 1 9 1-1 1-17 1 1 1 12 1-24 1 16 1-16 1 9 1 4 1 10 1 1 1-1 1-18 1 19 1-14 1 1 1-4 1-8 1 31 1-42 1 34 1 8 1 1 1-20 1 12 1 14 1-13 1 1 1-18 1 19 1 8 1-12 1-18 1 10 1 7 1 4 1-6 1-6 1 15 1-18 1 17 1-4 1-14 1-1 1 9 1-8 1 18 1 0 1 1 1-3 1-16 1 16 1-6 1 3 1-5 1 3 1-14 1 23 1-3 1 0 1-3 1-7 1 17 1-23 1-10 1 24 1-4 1 3 1-6 1 5 1-1 1-8 1 5 1-7 1 7 1 6 1 13 1-23 1 7 1 4 1-6 1 4 1-3 1-32 1 20 1 23 1-7 1-4 1-5 1-2 1 5 1 4 1-7 1-6 1 2 1 5 1 5 1-6 1 4 1-6 1 27 1-15 1-1 1 12 1-22 1 0 1 0 1 10 1 6 1-29 1 6 1 19 1 0 1 2 1-5 1-8 1 9 1 2 1-24 1 18 1-2 1 3 1-10 1 6 1 5 1 1 1 6 1-9 1 6 1-6 1-17 1 29 1-15 1-10 1 9 1 6 1 2 1 0 1-1 1 10 1 1 1-9 1 2 1-6 1-2 1-12 1 7 1 12 1 10 1-6 1-18 1 10 1 2 1 6 1-5 1-15 1 6 1 7 1 5 1-8 1 9 1 6 1-13 1-7 1 5 1-6 1 1 1 8 1 3 1 5 1-9 1 1 1 8 1-6 1 11 1-15 1 0 1-7 1 14 1-9 1 7 1-12 1 14 1-1 1-10 1 2 1 6 1 15 1-26 1-1 1 14 1-3 1-9 1 13 1-11 1 5 1 4 1-5 1 10 1-8 1-2 1-5 1 2 1-1 1 12 1-7 1 14 1-28 1 19 1-1 1 9 1-26 1 17 1-9 1 4 1 9 1-16 1-12 1 28 1-22 1 0 1 18 1-16 1 13 1 4 1-11 1 7 1 0 1 18 1-10 1-9 1-8 1-2 1 12 1-8 1 8 1 7 1-13 1-1 1 5 1-3 1-6 1-3 1 6 1 12 1 0 1 3 1-28 1 8 1 5 1 7 1 0 1-2 1-2 1 3 1-10 1-12 1 26 1-12 1 8 1-2 1 8 1-10 1-66 1 77 1-24 1-1 1 16 1 0 1 3 1 7 1-17 1 15 1-9 1 19 1-22 1 5 1 6 1-19 1 14 1-4 1 2 1-1 1-15 1 14 1-5 1-2 1 14 1-21 1-1 1 33 1-21 1 5 1-12 1 12 1-6 1-6 1 12 1 1 1-5 1 12 1-6 1 0 1-31 1 42 1-23 1 16 1 9 1-15 1 5 1 5 1-11 1 14 1-11 1 14 1 5 1-15 1 6 1-20 1 14 1 1 1-15 1-5 1 9 1 16 1-10 1 12 1-16 1 8 1 3 1 1 1-18 1 17 1-19 1-2 1-28 1 56 1-2 1-26 1 32 1-30 1-35 1 54 1-18 1 35 1-14 1-8 1 5 1-5 1 3 1 0 1 6 1-14 1 0 1 8 1-6 1 11 1-5 1-11 1-3 1 16 1 0 1 3 1-2 1 0 1-7 1 1 1 3 1-10 1 10 1 7 1-15 1-3 1 28 1-29 1 19 1-9 1 13 1-10 1 5 1-3 1 7 1-24 1 13 1 11 1-11 1 0 1-11 1 17 1 4 1-5 1-3 1 10 1-12 1-1 1 11 1 3 1-14 1-16 1 20 1-42 1 41 1 2 1-18 1 16 1 3 1-18 1 10 1-7 1 28 1-23 1 7 1-17 1 5 1 10 1 0 1 7 1 2 1-20 1-3 1 12 1-17 1 23 1-39 1 24 1-6 1 13 1 19 1-22 1 0 1 2 1-4 1 6 1 5 1 0 1-14 1 2 1 8 1-2 1-76 1 74 1 6 1-10 1 8 1-11 1 15 1-12 1 7 1-2 1 1 1 10 1-23 1 13 1 7 1-6 1 9 1-8 1 14 1-22 1 9 1-8 1-5 1 25 1-9 1-1 1-3 1 20 1-23 1 1 1 8 1-13 1 10 1-15 1 0 1 22 1-2 1-18 1 5 1 21 1-22 1-5 1 17 1-15 1-6 1 23 1 9 1-15 1 4 1-2 1 11 1-13 1-6 1-4 1-3 1 30 1-11 1 9 1-21 1-2 1 11 1 4 1-10 1 3 1 3 1-5 1 10 1 5 1-8 1-3 1-24 1 24 1-4 1 5 1 6 1 7 1-14 1-7 1-6 1 22 1-7 1-6 1 1 1-1 1-4 1 22 1-22 1 0 1 4 1-10 1 16 1 16 1-18 1 12 1-20 1 5 1-2 1 2 1-2 1-7 1-8 1 26 1-5 1-15 1 23 1-18 1 6 1 19 1-26 1 2 1 15 1-2 1-17 1 18 1 5 1-16 1-14 1 24 1 8 1-9 1-16 1 4 1 0 1 8 1-2 1 9 1-8 1 14 1-9 1-14 1 22 1-24 1 3 1 12 1-5 1 4 1 3 1-7 1 19 1-24 1 7 1 0 1 12 1-2 1-22" stroke="#2ea65c" stroke-width="0.9" marker-start="url(#m3)" marker-mid="url(#m3)" marker-end="url(#m3)"/></g><path d="M54.0 748.75V924.4" stroke="#c4c4c4" stroke-width="1" fill="none"/><text class="tk" x="49.7" y="928">0</text><text class="tk" x="49.7" y="906">1</text><text class="tk" x="49.7" y="884.1">2</text><text class="tk" x="49.7" y="862.1">3</text><text class="tk" x="49.7" y="840.2">4</text><text class="tk" x="49.7" y="818.2">5</text><text class="tk" x="49.7" y="796.3">6</text><text class="tk" x="49.7" y="774.3">7</text><text class="tk" x="49.7" y="752.4">8</text><path d="M53.5 924.4h6M53.5 902.4h6M53.5 880.5h6M53.5 858.5h6M53.5 836.6h6M53.5 814.6h6M53.5 792.7h6M53.5 770.7h6M53.5 748.8h6" stroke="#8a8a8a" stroke-width="1" fill="none"/><text class="yl" transform="translate(23.7 831.6) rotate(-90)" textLength="100.7" lengthAdjust="spacingAndGlyphs">FSF domains (%)</text><path d="M319.5 742H350.4" stroke="#f8c0a6" stroke-width="2.6"/><circle cx="334.9" cy="741.6" r="1.15" fill="#6a2a0a"/><text class="lt" x="354" y="746.1" textLength="46.8" lengthAdjust="spacingAndGlyphs">Transport</text><path d="M319.5 767.5H350.4" stroke="#6a80c8" stroke-width="1.0"/><circle cx="334.9" cy="767.4" r="1.15" fill="#13205e"/><text class="lt" x="354" y="771.9" textLength="39.5" lengthAdjust="spacingAndGlyphs">Ion m/tr</text><path d="M319.5 794.5H350.4" stroke="#5a5a5a" stroke-width="1.0"/><circle cx="334.9" cy="794" r="1.15" fill="#000000"/><text class="lt" x="354" y="798.5" textLength="46.3" lengthAdjust="spacingAndGlyphs">Proteases</text><path d="M319.5 820.5H350.4" stroke="#4cb87a" stroke-width="1.0"/><circle cx="334.9" cy="820.7" r="1.15" fill="#0a4a22"/><text class="lt" x="354" y="825.2" textLength="97.9" lengthAdjust="spacingAndGlyphs">Protein modification</text><path d="M319.5 847.5H350.4" stroke="#ee5a64" stroke-width="1.0"/><circle cx="334.9" cy="847.1" r="1.15" fill="#b0101e"/><text class="lt" x="354" y="851.6" textLength="97.9" lengthAdjust="spacingAndGlyphs">Trafficking/secretion</text><path d="M319.5 873.5H350.4" stroke="#f3dc5a" stroke-width="1.0"/><circle cx="334.9" cy="873.4" r="1.15" fill="#bba400"/><text class="lt" x="354" y="877.9" textLength="57.4" lengthAdjust="spacingAndGlyphs">Cell motility</text><path d="M319.5 899.5H350.4" stroke="#a880cc" stroke-width="1.0"/><circle cx="334.9" cy="899.8" r="1.15" fill="#3d1250"/><text class="lt" x="354" y="904.3" textLength="87.6" lengthAdjust="spacingAndGlyphs">Phospholipid m/tr</text><path d="M319.5 926.5H350.4" stroke="#5a5a5a" stroke-width="1.0"/><circle cx="334.9" cy="926.2" r="1.15" fill="#000000"/><text class="lt" x="354" y="930.7" textLength="97.5" lengthAdjust="spacingAndGlyphs">Cell cycle, Apoptosis</text></g>
<g><text class="ti" x="54.3" y="949.3" textLength="139.2" lengthAdjust="spacingAndGlyphs">Extracellular processes</text><path d="M55.3 973.2V956.5H300.0V973.2M73.4 956.5V973.2M240.0 956.5V973.2" fill="none" stroke="#6e6e6e" stroke-width="1.15"/><text class="br" x="64.3" y="968">A</text><text class="br" x="168.7" y="968">B</text><text class="br" x="270" y="968">E</text><g class="d"><path class="s" transform="translate(55.6 0) scale(0.25 1.0)" vector-effect="non-scaling-stroke" d="M72 1149l1-2 1 3 1 1 1 0 1 0 1 0 1-1 1-3 1 3 1-1 1 2 1-1 1 2 1-1 1 0 1-1 1 1 1-1 1 2 1 1 1-2 1 1 1-1 1-2 1 2 1-1 1-1 1 3 1-2 1 1 1 0 1-4 1 6 1-3 1-2 1 2 1 3 1-2 1 0 1 0 1 0 1-3 1 3 1 1 1-2 1 1 1 2 1-4 1 3 1-3 1 1 1 2 1 0 1-1 1-3 1 1 1 3 1-2 1 0 1-1 1 1 1 1 1 2 1-1 1-1 1 0 1-2 1 3 1-2 1-1 1-1 1 5 1-3 1-2 1 2 1 0 1 0 1 2 1-1 1-3 1 3 1-2 1 1 1-5 1 7 1-4 1 3 1 1 1-1 1 0 1-1 1 3 1-1 1-4 1 3 1-2 1 1 1 1 1 2 1-2 1-1 1 2 1-2 1 0 1 0 1 2 1-3 1 2 1-1 1-1 1 1 1-1 1 2 1-2 1 3 1 1 1-3 1-1 1 2 1-1 1 0 1 0 1 1 1 0 1-2 1 2 1-2 1 1 1-2 1 4 1-1 1 0 1-2 1 4 1-2 1-5 1 3 1 0 1-1 1 2 1 0 1 0 1-1 1 2 1 0 1-2 1 0 1 2 1-2 1 1 1-2 1 3 1-4 1 1 1 4 1-1 1-2 1 4 1-1 1 0 1 0 1-1 1 0 1 1 1-3 1 1 1-2 1 2 1 0 1 0 1 2 1-2 1 2 1-1 1-2 1 2 1 0 1-1 1 0 1 1 1 2 1-2 1-3 1 1 1 1 1-1 1 2 1 1 1-2 1 1 1-3 1 5 1-2 1 0 1-1 1 0 1-1 1-1 1 1 1 2 1-2 1 2 1 2 1-4 1 1 1 3 1-2 1 1 1-3 1-3 1 6 1-2 1 1 1-1 1 1 1-1 1 3 1-2 1-1 1-1 1 3 1 0 1-1 1 0 1 1 1-2 1-2 1 4 1-2 1-1 1 1 1-1 1 3 1-3 1-3 1 3 1 0 1-2 1 2 1 2 1-2 1 1 1 0 1 1 1-2 1 1 1 3 1 0 1-3 1-2 1 4 1-6 1 6 1-1 1-1 1 0 1 1 1-4 1 5 1 0 1 0 1-3 1-1 1 3 1-1 1-3 1 3 1 1 1-1 1 1 1-1 1 1 1-2 1 4 1-2 1 1 1-3 1 2 1-3 1 3 1 1 1-3 1 2 1-1 1 0 1-4 1 4 1 1 1-1 1 2 1-2 1 0 1-1 1 3 1 1 1-3 1-2 1 3 1 0 1 0 1 0 1-1 1 2 1-4 1 2 1 1 1 0 1 1 1-1 1 1 1-1 1-2 1 1 1 0 1 1 1-2 1 2 1 0 1 1 1-3 1 3 1-2 1 1 1-2 1 1 1 0 1 0 1-1 1 2 1 1 1-3 1 2 1 0 1-1 1-1 1 0 1 0 1 1 1 1 1-2 1 2 1-3 1 1 1 2 1-1 1 1 1 2 1-3 1 1 1-2 1 2 1-3 1 3 1 2 1-4 1 3 1-4 1 5 1-3 1 0 1 2 1-2 1-2 1 5 1-4 1 2 1 1 1-3 1-1 1 2 1 1 1-1 1 2 1 0 1-1 1-2 1 0 1 1 1-1 1 2 1-2 1-1 1 3 1-2 1 4 1 0 1-3 1-3 1 3 1-1 1 3 1-3 1 4 1-5 1 4 1-2 1-1 1 1 1 3 1-5 1 2 1 0 1-2 1 3 1-1 1 0 1 0 1-2 1 3 1-1 1 1 1-1 1 3 1-2 1-3 1 1 1 1 1 0 1 2 1-2 1 1 1 1 1-1 1-4 1 3 1 0 1 2 1-1 1 0 1-3 1 3 1 2 1 0 1-3 1 0 1 1 1-1 1 1 1 1 1-2 1 1 1-2 1 2 1-2 1-1 1 0 1 2 1 2 1-1 1-2 1 0 1 0 1 0 1 1 1 0 1 3 1-2 1 0 1-1 1 2 1-2 1-2 1 2 1 1 1-3 1 3 1-1 1 0 1 1 1 0 1-1 1-1 1 3 1-1 1-1 1 1 1-1 1 1 1-1 1-1 1 2 1-3 1 1 1 0 1-2 1 4 1 0 1 2 1-4 1-1 1 3 1 0 1 0 1 1 1-1 1-2 1 2 1-1 1-1 1 0 1-1 1 2 1-1 1-1 1 1 1 2 1-3 1 2 1 0 1 3 1-1 1-2 1 3 1-1 1-2 1-2 1 2 1 1 1 0 1-1 1 3 1-3 1 1 1 2 1-3 1 3 1-3 1 2 1-1 1 0 1-3 1 1 1 1 1-3 1 3 1 2 1-1 1-1 1 0 1-1 1 2 1-2 1 1 1 1 1-2 1 1 1 2 1-2 1 0 1 2 1-4 1 0 1 2 1 0 1 2 1-1 1 0 1 0 1 1 1-2 1 2 1-2 1-2 1 3 1-1 1 2 1-2 1-1 1 2 1 0 1-2 1 0 1 2 1-2 1 0 1 0 1 0 1 3 1-2 1 2 1 0 1-3 1-2 1 3 1 1 1 0 1-2 1 1 1-2 1 3 1-1 1 0 1-1 1 2 1 0 1 0 1-2 1 2 1 1 1 0 1-4 1 3 1 0 1 0 1-3 1 1 1 1 1-1 1-1 1 2 1 1 1 0 1-1 1 1 1 2 1-5 1 1 1-1 1 2 1 0 1-1 1 1 1 2 1-3 1 1 1 3 1-4 1-1 1 2 1 0 1 0 1 2 1 0 1-3 1 1 1 2 1-4 1 0 1 5 1-4 1 3 1-2 1 1 1 1 1-3 1 1 1-1 1 0 1 1 1 1 1 0 1-2 1 1 1-4 1 1 1 1 1 1 1 2 1-1 1-1 1 1 1-3 1 3 1 0 1 3 1-7 1-21 1 18 1-9 1 6 1 10 1-16 1 9 1-2 1-8 1 8 1 4 1-5 1-10 1 0 1 16 1-14 1 9 1-4 1 4 1-3 1 11 1-13 1-2 1-8 1 19 1 8 1-9 1 2 1-20 1 16 1-2 1-8 1 8 1-10 1-2 1 9 1-3 1-1 1 7 1 7 1 1 1 0 1-24 1 18 1-3 1-20 1 16 1 0 1 12 1-11 1-2 1 12 1-13 1 2 1-5 1 5 1 8 1 1 1 8 1-20 1 1 1 0 1 16 1-10 1-1 1 3 1-8 1-3 1 8 1 7 1-9 1 5 1-7 1-14 1 24 1-13 1-2 1 3 1-1 1 4 1-1 1 5 1-5 1 4 1-1 1 8 1-7 1-9 1 12 1-5 1 3 1-2 1 16 1-15 1 4 1-3 1-11 1 12 1-2 1 0 1-2 1-4 1 20 1-2 1-14 1-4 1 7 1 4 1 10 1-23 1 2 1 5 1 8 1-17 1 14 1 3 1-9 1 3 1-9 1 5 1 8 1 0 1-2 1-9 1 5 1 16 1-11 1 6 1-7 1 10 1-10 1-10 1 22 1-17 1-5 1 9 1 3 1 0 1 5 1-21 1 26 1 0 1-16 1-2 1-6 1 6 1 3 1 3 1 2 1-6 1-5 1 2 1-1 1 8 1 8 1 1 1-3 1-2 1 8 1-10 1-7 1 0 1 4 1-6 1 4 1 9 1-11 1 4 1 0 1 5 1-7 1 15 1-12 1 5 1 2 1 1 1-23 1 15 1-10 1 8 1-16 1 8 1 12 1-5 1 12 1-20 1 6 1 8 1 7 1-16 1 13 1-15 1 9 1 1 1 2 1-14 1 4 1 3 1-4 1 4 1-3 1 18 1-7 1-20 1 15 1 7 1-14 1-4 1 15 1 1 1-2 1-4 1-13 1 16 1-20 1 14 1 7 1-4 1-18 1 30 1 1 1-20 1 4 1 1 1-6 1 6 1 6 1-2 1-6 1 7 1-18 1-7 1 21 1-8 1 11 1-5 1-2 1 14" stroke="#f7b99a" stroke-width="1.8" marker-start="url(#m12)" marker-mid="url(#m12)" marker-end="url(#m12)"/><path class="s" transform="translate(55.6 0) scale(0.25 1.0)" vector-effect="non-scaling-stroke" d="M0 1149l1-6 1 3 1 2 1-2 1 1 1 2 1-5 1 5 1 3 1-4 1-3 1 2 1-6 1 6 1-8 1 8 1-7 1 6 1 5 1-4 1 1 1-8 1 7 1-2 1 3 1-3 1-2 1 0 1 0 1 0 1-2 1-3 1 8 1 2 1 5 1-3 1-3 1 2 1-3 1-3 1-2 1 10 1-2 1 3 1-3 1-12 1 10 1-7 1 11 1-3 1 0 1 0 1-4 1 1 1 7 1 0 1-3 1-3 1 4 1-7 1-5 1 9 1-5 1-1 1 2 1 10 1-11 1 2 1 2 1-1 1 2M738 1141l1 5 1-27 1 32 1-15 1 1 1-3 1-6 1 3 1 3 1 3 1 16 1-20 1-2 1-4 1 10 1 10 1-19 1 25 1-8 1-15 1 7 1 1 1 11 1-13 1 6 1 11 1-14 1 14 1-24 1 16 1 7 1-14 1-5 1-5 1-8 1 13 1-3 1 7 1-11 1 6 1 12 1 0 1-3 1-18 1-1 1 16 1-4 1-4 1 4 1-7 1 13 1-7 1-10 1 5 1 17 1-6 1-8 1 4 1 8 1-8 1-10 1 11 1-17 1 14 1 1 1 16 1-14 1 6 1-10 1 9 1 1 1 10 1 1 1-36 1 24 1-8 1-2 1-7 1 27 1-11 1-5 1 4 1 4 1-15 1 3 1 22 1-9 1-21 1 3 1 10 1-7 1-5 1 5 1 1 1 9 1-7 1 1 1 7 1 1 1-5 1-8 1 6 1 7 1-7 1 4 1-2 1 3 1-23 1 11 1 18 1-33 1 20 1 6 1 7 1-14 1 6 1 2 1 6 1-13 1-3 1 7 1-1 1 8 1 2 1-25 1 9 1-2 1 5 1-6 1 7 1 9 1-10 1-14 1 14 1 13 1-8 1 6 1-16 1 10 1-10 1 18 1-10 1 8 1-1 1-13 1 20 1 4 1-4 1-2 1-5 1-13 1 11 1 0 1 13 1-29 1 29 1-18 1 1 1 17 1-12 1-8 1 17 1-4 1-10 1-3 1 18 1-1 1-10 1-14 1 15 1-2 1 4 1-16 1 3 1-9 1 26 1 6 1-10 1-16 1 3 1 15 1-27 1 3 1 14 1-15 1 11 1-9 1 3 1 7 1-1 1-3 1 10 1-12 1-7 1 21 1-10 1-5 1-1 1 21 1 7 1-10 1-1 1-1 1 13 1-17 1-8 1 19 1-14 1 9 1-27 1 27 1-8 1-4 1 7 1 9 1 4 1-2 1-20 1 3 1 9 1 7 1-14 1-4 1 17 1 1 1-26 1 8 1 14 1-16 1 23 1-4 1-7 1-9 1 1 1 20 1 0 1-2 1-36" stroke="#ee3a45" stroke-width="0.9" marker-start="url(#m0)" marker-mid="url(#m0)" marker-end="url(#m0)"/><path class="s" transform="translate(55.6 0) scale(0.25 1.0)" vector-effect="non-scaling-stroke" d="M0 1150l1 0 1 1 1 1 1-3 1-1 1 1 1 0 1 1 1 1 1 1 1-4 1 1 1 0 1 3 1 1 1-3 1 2 1-3 1 0 1 4 1-3 1 1 1-1 1 2 1-1 1 0 1-1 1 0 1 2 1 1 1-1 1-1 1 0 1 1 1-2 1 0 1 1 1 0 1-2 1 0 1 0 1 1 1 0 1 2 1-4 1 3 1-2 1 1 1-2 1 5 1-4 1 0 1 0 1 2 1 0 1-2 1 2 1 0 1 0 1-4 1 3 1 0 1 0 1 0 1-1 1 2 1 0 1-2 1 1 1 1 1 1 1-6 1 3 1 2 1-5 1 5 1-3 1-1 1 6 1 0 1-4 1 2 1-1 1 1 1-1 1-3 1 2 1-3 1 4 1-1 1 3 1-3 1 1 1-1 1-4 1 1 1 3 1-4 1 4 1 1 1-4 1 3 1 2 1-2 1 1 1-3 1 0 1 4 1-1 1 0 1-2 1 2 1-1 1 1 1-4 1 6 1-4 1-1 1 4 1-4 1 2 1-3 1 4 1-4 1 7 1-4 1 0 1-3 1 3 1-1 1 2 1-4 1 3 1 0 1 0 1 4 1-2 1 0 1-1 1 2 1-3 1 0 1 2 1-4 1 2 1 3 1 1 1-6 1-1 1 3 1-5 1 6 1 3 1-6 1 1 1 5 1-6 1 1 1 1 1 0 1 0 1-3 1-1 1 1 1 4 1-4 1 4 1 0 1-1 1-1 1 3 1-3 1-1 1 1 1-1 1 5 1 0 1-7 1 5 1 2 1-5 1 5 1 0 1-2 1-2 1 2 1-1 1-1 1 2 1-1 1 3 1 0 1-3 1 3 1-3 1 0 1 3 1 0 1-1 1 1 1-1 1-3 1 3 1-3 1 5 1-2 1 1 1 0 1-1 1-1 1 0 1-2 1 0 1-1 1 3 1 0 1-3 1 1 1 1 1 2 1-4 1 1 1 0 1 1 1 0 1-2 1 4 1 1 1-6 1 5 1 0 1-1 1 1 1-1 1 1 1-3 1 1 1-1 1-1 1 3 1-1 1 3 1-2 1 2 1-3 1-4 1 8 1-6 1 1 1 1 1 2 1-1 1-2 1 3 1-2 1-3 1 3 1 2 1 0 1 2 1-5 1 1 1 1 1 0 1 0 1 0 1 0 1-1 1 0 1 4 1-5 1 0 1 4 1-3 1 2 1-1 1-6 1 7 1-2 1 3 1-1 1-3 1-1 1-3 1 7 1-1 1-1 1 2 1-1 1 3 1-4 1-4 1 3 1 1 1 3 1-4 1 5 1-1 1-2 1 0 1-2 1 2 1-3 1 6 1-4 1 0 1 4 1-5 1 1 1-1 1 4 1-4 1 4 1-8 1 3 1 6 1-8 1 4 1 1 1 3 1-1 1-2 1-1 1-1 1 1 1 1 1 3 1-2 1 0 1-2 1 3 1-3 1 1 1-1 1 1 1 0 1-3 1 3 1 2 1-1 1 1 1-3 1 2 1-1 1-1 1 0 1 4 1-5 1 2 1-2 1 1 1 0 1 0 1 4 1-4 1 3 1 1 1-4 1 0 1 1 1-1 1 0 1 0 1 0 1-3 1 1 1 3 1 2 1-2 1-3 1 2 1 3 1-3 1 3 1-2 1-3 1 0 1 3 1 0 1-1 1 3 1 1 1-4 1-1 1 1 1-1 1 1 1 1 1-1 1 1 1-2 1 1 1 0 1 2 1-3 1-1 1 3 1-1 1 1 1-2 1 5 1 0 1-6 1 0 1 2 1 2 1-3 1 1 1-3 1 2 1-1 1 6 1-3 1-1 1 0 1-1 1 1 1 0 1 0 1 0 1-4 1 4 1 2 1-1 1-4 1 6 1-3 1 3 1-4 1 1 1-1 1 1 1 1 1-1 1-3 1 5 1 1 1-2 1 2 1 1 1-1 1-3 1 2 1 2 1-4 1 0 1 3 1-5 1 2 1 0 1 1 1-4 1 0 1 5 1-3 1 2 1 2 1 0 1-5 1 5 1-6 1 0 1 3 1 3 1-6 1 5 1-4 1 1 1 0 1 4 1-1 1 0 1-4 1 1 1 3 1 2 1-4 1 2 1-2 1 2 1 0 1-1 1 1 1 1 1-5 1 4 1 0 1-1 1 1 1-1 1 0 1 1 1-2 1-1 1 4 1-4 1 1 1-1 1 3 1-1 1 0 1 0 1-4 1 6 1-3 1 0 1 0 1-1 1-1 1-1 1 0 1 2 1 4 1-5 1 4 1-3 1 1 1-1 1 3 1-2 1-4 1 3 1 0 1 1 1-2 1 1 1 2 1 3 1-5 1 0 1 0 1 1 1 1 1-1 1-2 1 2 1 2 1 1 1-2 1-2 1 2 1 0 1-1 1-3 1 2 1 0 1 3 1-2 1 0 1 0 1 3 1-1 1 1 1-2 1 1 1 1 1-4 1 2 1-1 1-3 1 7 1-1 1 0 1-6 1 2 1-3 1 3 1-2 1 5 1-1 1 0 1-2 1-2 1 6 1-5 1 1 1 2 1 0 1 0 1-2 1 0 1 2 1 1 1-7 1 3 1 0 1-1 1 1 1 0 1 2 1 0 1-2 1 6 1-3 1 3 1-5 1-1 1 4 1-4 1 6 1-4 1 3 1-4 1 2 1 2 1-1 1-2 1-2 1 2 1-1 1-1 1 2 1 2 1 0 1-5 1 2 1 1 1 1 1 1 1 0 1-3 1 4 1-2 1-1 1-2 1 4 1-3 1 2 1 2 1-3 1 1 1 0 1 1 1-5 1 4 1 1 1-1 1 2 1-2 1-2 1 2 1 0 1-1 1-1 1 0 1 5 1-6 1 1 1 2 1 3 1-2 1-4 1 0 1 1 1 1 1 0 1 2 1-4 1 3 1 2 1-8 1 6 1-3 1 3 1-2 1 3 1-3 1 3 1-5 1 7 1-3 1-1 1 4 1-3 1 0 1 0 1-2 1-3 1 4 1 3 1 1 1-2 1 1 1 1 1-6 1-1 1 3 1-2 1 1 1 1 1 0 1 4 1-1 1-4 1 1 1 0 1 2 1-4 1 3 1-2 1 1 1-3 1 3 1 2 1-3 1 1 1 1 1-3 1 4 1-4 1 1 1 2 1-2 1 2 1-3 1 2 1-2 1 1 1 1 1 2 1-1 1-3 1 3 1-1 1-2 1 5 1-2 1-2 1-2 1 1 1 3 1 0 1 0 1 1 1-1 1-1 1-2 1-42 1 21 1-16 1-2 1 41 1-12 1-14 1 10 1-18 1 1 1 15 1-9 1-19 1 12 1 14 1-15 1-5 1-4 1 42 1 0 1-33 1 5 1-7 1 17 1-3 1 18 1-42 1 32 1 13 1-31 1-10 1 27 1-24 1 15 1-16 1 30 1-24 1-7 1 23 1 3 1-11 1-12 1 6 1 10 1-19 1 0 1 18 1 2 1 10 1-9 1 15 1 1 1 0 1-29 1 30 1-39 1 1 1 28 1 12 1-20 1-18 1 16 1 13 1-10 1 17 1-18 1 21 1-34 1 0 1 12 1 15 1-32 1 19 1-23 1 20 1 9 1-10 1-11 1 21 1-5 1 9 1 5 1-32 1 5 1 15 1-17 1-4 1 32 1-33 1 21 1-18 1-5 1 40 1-13 1-4 1-21 1 9 1 15 1 0 1-10 1-5 1-13 1 33 1-6 1-13 1-17 1 0 1 32 1-21 1 14 1 8 1-24 1 18 1 5 1 4 1-20 1 19 1-24 1 15 1 10 1-11 1 23 1-45 1 19 1-7 1-2 1 8 1 17 1-6 1 2 1 13 1-1 1-42 1 14 1 1 1 12 1 5 1-7 1-10 1 0 1-15 1 12 1 29 1-38 1 10 1-9 1 20 1-7 1-4 1-1 1-10 1 40 1-29 1-12 1 38 1-22 1-13 1-5 1 37 1-12 1-24 1 15 1 26 1-5 1-25 1 27 1-32 1 1 1 0 1 8 1 3 1-6 1-4 1 3 1-7 1 39 1-18 1 6 1-28 1 17 1-6 1-12 1 16 1 20 1 5 1-29 1-13 1 5 1 4 1 10 1-22 1 18 1 14 1-14 1-14 1 13 1-19 1 44 1-21 1-3 1 1 1 5 1-4 1 0 1 15 1 0 1-12 1-6 1 1 1 12 1 1 1-23 1 4 1 10 1-22 1 4 1 7 1-4 1 36 1-36 1-4 1 33 1-27 1 10 1-10 1 12 1 24 1-41 1 4 1 24 1-29 1 33 1-1 1-38 1 36 1 1 1 1 1-23 1 10" stroke="#f5e02a" stroke-width="1.4" marker-start="url(#m13)" marker-mid="url(#m13)" marker-end="url(#m13)"/><path class="s" transform="translate(55.6 0) scale(0.25 1.0)" vector-effect="non-scaling-stroke" d="M72 1133l1 15 1-6 1 2 1-4 1 4 1 0 1-6 1 1 1 3 1 1 1-10 1 3 1 8 1-1 1-2 1-4 1 0 1-4 1 8 1 2 1 2 1-8 1 5 1-7 1 1 1 6 1 2 1-5 1-3 1 9 1-11 1 11 1-6 1-1 1 6 1-2 1-8 1 3 1 1 1-2 1-7 1 5 1 10 1-10 1 5 1 4 1-6 1 5 1 0 1-1 1-11 1 19 1-11 1-2 1 1 1 3 1-5 1 3 1-3 1 1 1 7 1-6 1 7 1 3 1-6 1 2 1-7 1 8 1-8 1 1 1 7 1-13 1 16 1-6 1-3 1 1 1-1 1-1 1-2 1 10 1-12 1 6 1 0 1 4 1-4 1 4 1-5 1-9 1 6 1 4 1-1 1 3 1 1 1-8 1 9 1 0 1-5 1 11 1-4 1-13 1 10 1 1 1-6 1 7 1-4 1-5 1 5 1 0 1 2 1-7 1 2 1-4 1 8 1 5 1-15 1 9 1 1 1 3 1 1 1-3 1-1 1-3 1 1 1 6 1-2 1-9 1 6 1-12 1 25 1-13 1 0 1-1 1 2 1-3 1 1 1 0 1 4 1-2 1-5 1 5 1-8 1 11 1 1 1-1 1-3 1-3 1-1 1 6 1-5 1 5 1-8 1 2 1 2 1 3 1-8 1 8 1-9 1 2 1 6 1 5 1-4 1-1 1-2 1 5 1 0 1-5 1-2 1 0 1 5 1-1 1-5 1 9 1 1 1-7 1 3 1 1 1-2 1 0 1-8 1 9 1-1 1 1 1 0 1-10 1 5 1-2 1 5 1-5 1 2 1 7 1-1 1-7 1 5 1-2 1-4 1 3 1 0 1-2 1 0 1 6 1 5 1-8 1-1 1 0 1-5 1 9 1-4 1 9 1-6 1 0 1 6 1-10 1 5 1-2 1 1 1-2 1 6 1-3 1-5 1 3 1-5 1 10 1-8 1 2 1-1 1-4 1 0 1 5 1 2 1-3 1-2 1-1 1 7 1-1 1-5 1 6 1-3 1 3 1 5 1-5 1-6 1 8 1-7 1 6 1-4 1-3 1 4 1-2 1-2 1 1 1-4 1 4 1 2 1 4 1 0 1-8 1 8 1 1 1-6 1-4 1 13 1-8 1 3 1-6 1 3 1-1 1 6 1-6 1-2 1-2 1-4 1 4 1 1 1 6 1 0 1-1 1 3 1-5 1 2 1-3 1 5 1-8 1 6 1-7 1 11 1-6 1 5 1-6 1 1 1 0 1-4 1 4 1 4 1 0 1-4 1-2 1 7 1-5 1 0 1 4 1 1 1 0 1 3 1-2 1-4 1-3 1 7 1-9 1 5 1 4 1-3 1-6 1 6 1-3 1 3 1-6 1 10 1-3 1-5 1-2 1 5 1 4 1-4 1-5 1 0 1 7 1 1 1-5 1 2 1-7 1 7 1-13 1 8 1 5 1-1 1 4 1-3 1 3 1-5 1 7 1-9 1 6 1 1 1-5 1 1 1-7 1 10 1-5 1 3 1 5 1-9 1 6 1-5 1 5 1-8 1 5 1 2 1-1 1 1 1-4 1 6 1-1 1-2 1-1 1-2 1 4 1-4 1 5 1-2 1 9 1-9 1 2 1-9 1 10 1-3 1-2 1-2 1 1 1-3 1 4 1-1 1 5 1-4 1-3 1-2 1 7 1-2 1-1 1 2 1 3 1-3 1 4 1-3 1-1 1-3 1 2 1 5 1-1 1-2 1 2 1-6 1 5 1-5 1 4 1 3 1-6 1 0 1-2 1 11 1-5 1-4 1-6 1 10 1-9 1 3 1 2 1 2 1-2 1-1 1 2 1 4 1-8 1 1 1 12 1-10 1 8 1-3 1 3 1-3 1-8 1 3 1 4 1 1 1-6 1 0 1 7 1-8 1 1 1 5 1 1 1 0 1-6 1 2 1 3 1 4 1-4 1 4 1-6 1 1 1-1 1 2 1-1 1-1 1-2 1 2 1 1 1 2 1-4 1-5 1 9 1-3 1-2 1 5 1-2 1 4 1-1 1-4 1 3 1-5 1 9 1-8 1 7 1-3 1-5 1-2 1 1 1 1 1 6 1-3 1-5 1 6 1 7 1-9 1 1 1 4 1-4 1-9 1 12 1 0 1-5 1 3 1-4 1 4 1-3 1 1 1 7 1-9 1 2 1-6 1 1 1 11 1-18 1 12 1 4 1-1 1 3 1-2 1 1 1-4 1-6 1 5 1 1 1 3 1-2 1 1 1-8 1 6 1-3 1-1 1 9 1-6 1-2 1 3 1-3 1 0 1 4 1-4 1 5 1-7 1-1 1 6 1-2 1 1 1 3 1-1 1 3 1 3 1-2 1-4 1 0 1 3 1-5 1 1 1-2 1-3 1-3 1 10 1-11 1 12 1-9 1 7 1-1 1 1 1-4 1 3 1-3 1 1 1 3 1 1 1 2 1-6 1-6 1 6 1 5 1-8 1-4 1 4 1 4 1-1 1 0 1 2 1-6 1 7 1 3 1-7 1-4 1-1 1 9 1-3 1-3 1 1 1 6 1 0 1-4 1 4 1-5 1 0 1 4 1-3 1 8 1-12 1 0 1 12 1-9 1 5 1-2 1 1 1-4 1 3 1-3 1 0 1 2 1 0 1-2 1-1 1 1 1 5 1-1 1 1 1-1 1-10 1 11 1-2 1-1 1 5 1-2 1-1 1-4 1 4 1 3 1-8 1 0 1 3 1 4 1 3 1-2 1-5 1-2 1 2 1-4 1 2 1 6 1-4 1-1 1 4 1-2 1 6 1-4 1 1 1 1 1 0 1-7 1-2 1 0 1 3 1 6 1-6 1 5 1-5 1 6 1 0 1-2 1-2 1-7 1 3 1 6 1-3 1-1 1 3 1 0 1-7 1 0 1 5 1 1 1-3" stroke="#ee3a45" stroke-width="0.9" stroke-opacity="0.7" marker-start="url(#m0)" marker-mid="url(#m0)" marker-end="url(#m0)"/><path class="s" transform="translate(55.6 0) scale(1.0 1.0)" vector-effect="non-scaling-stroke" d="M185 1148l1-1 1-30 1-1 1 6 1-8 1 21 1-15 1 33 1-7 1-34 1 2 1 17 1 10 1-9 1 4 1-15 1 9 1 7 1 9 1-32 1 7 1 7 1 3 1-4 1 14 1 3 1-4 1-22 1 13 1-17 1 15 1-11 1 11 1-6 1 28 1-12 1-29 1 14 1 4 1-10 1 34 1-21 1 2 1-9 1 15 1 14 1-10 1-34 1 8 1 20 1-6 1 4 1 11 1-37 1 19 1 13 1-3 1-6 1 21" stroke="#e6323e" stroke-width="0.9" stroke-opacity="0.0" marker-start="url(#m14)" marker-mid="url(#m14)" marker-end="url(#m14)"/><path class="s" transform="translate(55.6 0) scale(1.2 1.0)" vector-effect="non-scaling-stroke" d="M154 1136l1-3 1-5 1 23 1-8 1-18 1 12 1-3 1-2 1 18 1-31 1 13 1-13 1 10 1 18 1-13 1 12 1-3 1-12 1-5 1 14 1-15 1-10 1 22 1-2 1 16 1-19 1-2 1 5 1 0 1 18 1-14 1-10 1 14 1-3 1-6 1-5 1 11 1 13 1-7 1 7 1 0 1-9 1-15 1 7 1-7 1 9 1 3 1 11 1-20" stroke="#ee6a28" stroke-width="1.0" stroke-opacity="0.0" marker-start="url(#m15)" marker-mid="url(#m15)" marker-end="url(#m15)"/><use href="#p0" class="s" stroke="#bdbdbd" stroke-width="2.2"/><use href="#p0" class="s" stroke="#111" stroke-width="0.9" marker-start="url(#m16)" marker-mid="url(#m16)" marker-end="url(#m16)"/></g><path d="M55.3 978.4V1152.8" stroke="#c4c4c4" stroke-width="1" fill="none"/><text class="tk" x="51" y="1156.4">0.0</text><text class="tk" x="51" y="1131.5">0.5</text><text class="tk" x="51" y="1106.6">1.0</text><text class="tk" x="51" y="1081.7">1.5</text><text class="tk" x="51" y="1056.7">2.0</text><text class="tk" x="51" y="1031.8">2.5</text><text class="tk" x="51" y="1006.9">3.0</text><text class="tk" x="51" y="982">3.5</text><path d="M54.8 1152.8h6M54.8 1127.9h6M54.8 1103h6M54.8 1078.1h6M54.8 1053.1h6M54.8 1028.2h6M54.8 1003.3h6M54.8 978.4h6" stroke="#8a8a8a" stroke-width="1" fill="none"/><text class="yl" transform="translate(23.7 1059.2) rotate(-90)" textLength="100.7" lengthAdjust="spacingAndGlyphs">FSF domains (%)</text><path d="M321.5 1074.5H352.3" stroke="#ee5a64" stroke-width="1.0"/><circle cx="336.9" cy="1074.8" r="1.15" fill="#b0101e"/><text class="lt" x="355.9" y="1079.3" textLength="72.5" lengthAdjust="spacingAndGlyphs">Toxins/defense</text><path d="M321.5 1101H352.3" stroke="#f8c0a6" stroke-width="2.6"/><circle cx="336.9" cy="1100.8" r="1.15" fill="#6a2a0a"/><text class="lt" x="355.9" y="1105.3" textLength="68.0" lengthAdjust="spacingAndGlyphs">Blood clotting</text><path d="M321.5 1127H352.3" stroke="#f8eaa6" stroke-width="2.6"/><circle cx="336.9" cy="1127.1" r="1.15" fill="#bba400"/><text class="lt" x="355.9" y="1131.6" textLength="87.3" lengthAdjust="spacingAndGlyphs">Immune response</text><path d="M321.5 1154H352.3" stroke="#c8c8c8" stroke-width="2.6"/><circle cx="336.9" cy="1153.5" r="1.15" fill="#1a1a1a"/><text class="lt" x="355.9" y="1158" textLength="64.8" lengthAdjust="spacingAndGlyphs">Cell adhesion</text></g>
<g><text class="ti" x="53.5" y="1180.9" textLength="36.5" lengthAdjust="spacingAndGlyphs">Other</text><path d="M53.75 1208.2V1191.6H298.4V1208.2M71.9 1191.6V1208.2M238.4 1191.6V1208.2" fill="none" stroke="#6e6e6e" stroke-width="1.15"/><text class="br" x="62.8" y="1203.1">A</text><text class="br" x="167.2" y="1203.1">B</text><text class="br" x="268.4" y="1203.1">E</text><g class="d"><path class="s" transform="translate(54 0) scale(0.25 1.0)" vector-effect="non-scaling-stroke" d="M0 1388l1-1 1 0 1 1 1-1 1 0 1 0 1 0 1 1 1-2 1 0 1 1 1 0 1 1 1-3 1 0 1 2 1 1 1 0 1 0 1-1 1-1 1 0 1 1 1 0 1 0 1 1 1-2 1 1 1 0 1 0 1 1 1 1 1-2 1 0 1-1 1 1 1 1 1-2 1 1 1 1 1-1 1 0 1-1 1 2 1-2 1 2 1-2 1 1 1 0 1-2 1 2 1 0 1-2 1 2 1 0 1 0 1 1 1 0 1-1 1-1 1-1 1 1 1 1 1-1 1 2 1-1 1 1 1-1 1-1 1 2 1-1 1 0 1 1 1-1 1 2 1-2 1 0 1 0 1 0 1-1 1 2 1 0 1-1 1 0 1 0 1-1 1 1 1 1 1 0 1 1 1-1 1-2 1 1 1 0 1-1 1 1 1 0 1 0 1 1 1-1 1 0 1 0 1 1 1-2 1 1 1 2 1-2 1 1 1-1 1 2 1 0 1-2 1 0 1-1 1 1 1 0 1 0 1 0 1 1 1-2 1 3 1-3 1 2 1 0 1-1 1 2 1-2 1 1 1-1 1 0 1 1 1 0 1 0 1-1 1 1 1-1 1 0 1 1 1-1 1 0 1 2 1-2 1 1 1 0 1-1 1 1 1-1 1-1 1 3 1-3 1 0 1 1 1 0 1 1 1 0 1-1 1 1 1 0 1 0 1-2 1 0 1 2 1 0 1-1 1-1 1 1 1 1 1-1 1 1 1 1 1-2 1-1 1 1 1 0 1 1 1-1 1 1 1 0 1-1 1 0 1 1 1 0 1-1 1 1 1-1 1 0 1 0 1 1 1-1 1 2 1-1 1-1 1 0 1 2 1-4 1 2 1 0 1 0 1 0 1 1 1-1 1-1 1 3 1-1 1-1 1 0 1 2 1-2 1 1 1 0 1-1 1 1 1 1 1-1 1-2 1 1 1 0 1 1 1 0 1-2 1 1 1-1 1 2 1-2 1 2 1-2 1 2 1-1 1 0 1 0 1 0 1 1 1-2 1 3 1-2 1 2 1-1 1-1 1 0 1-1 1 3 1-4 1 3 1 1 1-2 1 0 1 2 1-2 1 1 1 0 1-1 1-1 1 0 1 1 1 0 1 1 1-1 1 1 1 0 1-1 1 0 1-1 1 2 1-1 1 1 1-3 1 3 1 1 1-1 1-1 1 1 1 0 1-2 1 2 1-1 1 1 1-1 1 2 1 0 1-3 1 2 1-2 1 2 1-1 1 2 1-2 1 2 1-1 1-1 1-1 1 3 1-2 1 2 1-3 1 3 1-1 1-2 1 1 1 2 1-2 1-1 1 0 1 1 1 1 1-1 1 2 1-3 1 0 1 3 1-2 1 1 1-1 1 0 1 1 1-1 1 1 1-2 1 2 1-1 1 0 1 2 1-1 1 1 1-4 1 2 1 1 1 0 1-1 1 0 1-1 1 2 1-1 1 0 1 0 1 2 1-2 1 2 1-2 1 0 1 1 1 0 1 0 1-1 1-1 1 0 1 1 1 1 1 1 1-2 1-1 1 0 1 2 1 0 1-2 1 0 1 2 1 0 1-1 1 0 1-1 1 2 1-1 1 1 1 0 1 0 1-2 1 2 1-1 1 2 1-1 1 0 1 0 1 0 1-3 1 2 1 1 1-2 1 2 1 0 1-1 1-1 1 0 1 3 1-3 1 1 1 0 1 1 1-1 1 0 1 2 1 0 1-2 1 2 1-1 1-1 1 1 1-1 1 0 1 0 1-2 1 2 1 0 1 1 1 0 1-1 1 0 1 1 1 0 1 0 1-2 1 2 1 1 1 0 1-1 1 0 1-1 1 0 1 0 1 0 1 0 1-2 1 2 1 2 1-2 1 2 1-1 1-1 1-1 1 1 1-1 1 1 1-1 1 2 1-1 1 0 1 1 1-1 1 0 1 1 1 1 1-3 1 0 1 1 1 0 1 1 1 0 1-1 1 1 1-2 1 1 1 0 1 1 1-2 1 0 1 1 1 0 1 0 1 1 1 1 1-1 1-2 1 2 1 0 1-1 1-1 1 1 1 0 1 0 1 0 1-1 1 1 1-1 1 3 1-1 1-2 1 0 1 1 1 1 1-1 1 0 1 0 1 0 1 0 1 0 1 2 1-1 1-2 1 2 1 1 1-1 1-2 1 1 1 0 1 0 1 1 1-1 1 0 1-1 1 2 1-1 1 1 1 0 1-3 1 4 1-2 1 0 1 1 1 0 1-1 1 1 1-2 1 1 1 1 1 0 1 0 1-1 1 1 1-1 1 0 1 1 1 1 1-4 1 2 1 0 1 2 1-2 1 1 1-1 1 1 1 0 1-1 1 1 1-1 1 1 1 0 1 0 1-1 1 0 1 1 1 0 1 0 1-1 1 0 1 1 1-1 1-2 1 2 1 1 1 0 1 0 1 0 1-1 1-2 1 3 1 1 1 0 1-2 1 1 1-2 1 2 1 1 1-2 1 0 1 0 1 0 1 0 1-1 1 1 1 1 1-2 1 1 1 1 1 1 1-2 1 1 1-1 1 0 1 1 1 0 1 1 1-2 1 2 1-1 1-2 1 2 1 1 1-2 1 0 1 1 1 0 1-1 1 2 1-2 1 1 1-4 1 4 1 1 1-2 1-1 1 1 1-2 1 3 1-2 1 3 1-2 1 1 1 0 1 0 1 0 1-1 1 0 1 2 1-2 1 0 1 1 1 0 1-2 1 2 1-1 1 2 1-2 1 0 1 1 1-1 1 1 1-3 1 3 1-1 1 0 1 1 1-3 1 2 1 0 1 0 1 0 1 0 1 0 1-1 1 2 1-1 1 1 1 0 1-2 1 0 1 1 1 2 1-1 1 0 1-1 1 1 1-2 1 3 1-2 1 1 1 0 1-1 1 1 1 0 1 0 1-1 1 1 1-1 1 1 1 0 1-1 1 0 1 0 1-1 1 0 1 1 1 0 1 0 1 0 1-1 1 2 1-1 1-1 1 1 1 0 1 0 1 1 1-1 1 0 1 0 1 1 1-2 1-1 1 2 1 0 1 0 1 1 1-1 1 1 1 1 1-1 1-1 1 1 1-1 1 1 1-1 1 2 1-1 1-1 1 0 1 0 1 0 1 1 1 0 1 0 1 1 1-2 1-1 1 0 1 1 1 1 1 0 1-1 1 1 1-1 1 1 1-1 1 1 1 0 1 0 1 0 1 0 1-1 1 1 1-1 1-1 1 1 1 0 1 1 1-1 1 2 1-1 1 0 1-1 1 0 1-1 1 0 1 2 1-1 1 0 1 0 1 1 1-2 1 1 1 0 1-1 1 1 1-1 1 1 1 1 1-1 1 0 1-1 1 0 1 1 1-1 1 2 1-1 1 0 1-2 1 2 1 0 1 0 1-1 1 0 1 2 1 0 1-2 1 2 1-1 1 0 1 0 1-2 1 3 1 0 1-2 1 1 1 0 1-1 1-1 1 0 1 0 1 2 1-1 1-1 1 2 1-2 1 2 1 0 1 2 1-3 1 2 1-2 1 0 1 0 1 2 1-2 1 0 1 2 1-1 1 0 1 0 1 0 1-1 1-1 1 2 1 0 1 1 1 0 1-2 1 1 1 0 1 0 1 2 1-4 1 0 1 1 1 2 1-1 1-1 1 0 1 1 1-1 1 1 1-1 1 1 1 0 1-1 1 3 1-4 1 2 1 0 1 0 1-2 1 3 1-1 1 0 1 0 1 0 1 0 1-2 1 3 1-1 1 0 1-3 1 3 1-1 1 0 1 0 1 1 1 0 1 0 1 0 1 0 1-1 1 2 1-2 1 1 1-2 1 1 1 1 1-1 1 0 1 0 1 1 1-1 1 0 1 1 1 0 1 1 1-1 1 1 1-2 1 0 1 1 1 0 1-1 1 1 1-2 1 3 1-1 1 1 1 1 1-2 1-1 1 0 1 0 1 1 1 0 1-1 1 0 1 1 1 0 1 0 1-1 1-1 1 3 1-2 1 0 1 1 1 0 1 0 1-2 1 1 1 2 1-2 1 1 1-1 1 0 1 2 1-2 1 0 1 1 1 1 1-1 1 0 1 0 1 0 1 0 1-2 1 0 1 2 1-2 1 2 1-1 1 1 1 0 1-1 1 1 1 0 1 0 1-2 1 1 1 2 1-3 1 0 1 1 1 1 1-2 1 2 1-1 1 2 1-2 1 1 1-1 1 0 1 0 1 1 1 0 1-1 1 1 1 0 1 1 1-1 1-1 1-1 1 3 1-1 1-1 1 1 1 1 1-1 1-1 1 0 1 0 1 1 1-2 1 0 1 3 1 0 1-1 1-2" stroke="#555555" stroke-width="0.9" marker-start="url(#m2)" marker-mid="url(#m2)" marker-end="url(#m2)"/><path class="s" transform="translate(54 0) scale(0.25 1.0)" vector-effect="non-scaling-stroke" d="M0 1387l1-1 1 0 1 2 1 0 1-1 1-1 1 0 1 1 1 0 1-1 1-1 1 1 1 0 1 0 1 1 1-2 1 2 1-1 1-1 1 1 1 1 1-1 1-1 1 0 1 0 1 2 1-1 1 0 1-1 1 2 1 0 1 0 1-1 1 1 1-1 1 0 1 1 1-1 1 1 1-1 1 0 1 1 1-2 1 0 1 0 1 1 1 1 1-2 1 3 1-3 1 0 1 0 1 2 1-2 1 2 1-1 1 0 1 0 1 1 1-2 1 0 1 1 1 0 1-1 1 2 1-1 1 0 1 0 1 1 1 2 1-4 1-4 1-1 1 6 1-3 1 0 1 4 1-1 1-9 1 10 1-8 1 3 1-1 1-1 1 2 1 1 1 2 1-3 1 2 1 1 1-1 1 3 1-1 1-1 1-5 1 3 1 0 1 0 1 1 1-1 1-1 1 4 1-7 1 2 1 2 1 2 1-3 1-1 1 5 1-2 1-1 1 3 1-1 1 1 1-8 1 5 1 3 1-2 1 2 1-2 1-1 1 4 1-1 1-1 1 2 1-6 1 2 1-3 1 2 1 0 1 0 1 0 1 1 1-4 1 6 1-2 1 3 1-4 1-2 1 4 1 5 1-3 1-3 1 2 1-2 1 0 1 3 1-4 1 2 1-2 1 2 1-3 1 2 1 0 1 2 1 2 1-2 1 1 1-4 1 0 1-1 1 0 1-1 1 5 1 1 1-3 1-1 1-1 1 2 1 3 1 0 1-5 1 3 1-2 1 1 1 1 1-1 1 4 1-2 1 1 1-4 1 2 1-2 1 3 1-3 1-2 1 3 1 5 1-3 1-2 1-1 1-1 1 3 1 0 1 1 1-1 1-2 1 2 1-2 1 0 1 3 1 1 1-1 1 0 1-3 1 1 1 0 1 1 1 0 1-4 1 4 1-3 1 1 1 0 1 3 1 0 1-2 1-1 1-1 1 2 1 1 1 1 1-3 1 1 1-2 1 2 1 1 1-2 1 6 1-5 1 2 1-2 1 3 1-3 1 2 1 1 1-5 1-1 1 5 1-1 1-1 1 0 1 5 1-3 1-4 1 2 1 1 1-9 1 10 1 3 1-4 1 3 1-4 1 0 1-2 1 1 1 1 1 2 1-6 1 7 1-5 1 3 1 1 1-1 1-2 1 0 1 1 1-5 1 4 1 2 1 0 1 0 1-1 1 1 1 1 1 0 1-3 1-1 1 5 1-4 1 0 1 1 1 2 1 2 1-4 1 0 1-2 1-5 1 8 1 1 1-3 1-1 1 6 1-4 1 2 1 0 1 2 1-5 1 2 1-1 1 4 1-4 1 6 1-7 1 1 1 1 1 1 1 3 1-9 1 1 1 2 1 6 1-7 1 0 1 2 1 2 1-1 1 1 1 0 1-2 1 1 1-1 1 3 1 1 1-2 1-3 1 3 1 2 1-5 1 3 1-5 1 4 1 2 1-1 1 1 1-3 1 0 1 0 1 2 1-1 1 0 1-2 1 3 1 0 1-3 1-1 1 2 1 0 1 0 1-3 1-2 1 8 1-5 1 2 1 2 1 1 1 0 1-2 1-2 1 2 1 0 1 1 1-1 1 0 1 0 1 0 1 0 1 1 1-7 1 0 1 5 1 2 1-5 1 6 1-5 1 7 1-12 1 7 1 2 1 0 1-4 1 0 1 1 1 0 1 4 1-7 1-3 1 7 1 0 1 2 1 1 1-3 1-2 1 1 1 2 1-1 1 4 1-4 1 2 1-3 1 0 1 3 1-3 1 2 1-1 1 2 1-1 1-5 1 4 1-2 1 0 1 2 1 2 1 3 1-6 1-1 1 3 1 0 1-3 1 4 1-5 1 3 1 1 1 0 1-2 1 3 1 0 1-4 1 2 1 0 1-1 1 3 1-3 1 0 1 4 1-1 1 0 1 2 1-3 1 2 1-1 1-3 1 3 1 0 1 0 1-4 1 4 1-3 1 0 1 3 1-2 1-4 1 4 1 1 1-4 1 7 1-4 1 4 1-2 1-2 1-2 1 1 1 7 1-4 1-4 1 4 1 1 1-4 1 0 1 4 1 2 1-3 1-4 1 1 1-4 1 4 1-1 1 4 1-6 1 3 1 2 1 2 1-1 1-3 1 3 1-2 1-2 1-2 1 3 1 1 1 1 1-1 1 4 1-1 1-1 1-1 1 0 1-2 1 3 1-2 1 1 1-2 1 3 1-1 1 3 1-2 1-3 1 1 1-1 1 3 1-4 1 3 1-3 1 4 1-4 1 2 1-3 1 3 1-1 1 0 1 3 1-6 1 2 1-2 1 5 1 2 1-3 1-1 1 0 1 4 1-1 1-4 1 3 1-4 1 3 1 1 1-2 1 1 1 0 1 2 1-1 1-1 1 2 1-1 1 0 1-4 1 4 1-2 1 2 1-1 1-1 1 1 1 0 1 3 1-1 1 1 1-2 1 2 1-4 1-1 1 2 1-3 1 3 1-2 1-3 1 4 1 3 1 0 1-2 1 1 1 0 1-4 1 3 1 0 1 1 1 0 1-1 1 0 1 0 1 0 1 2 1 3 1-7 1 3 1-1 1 3 1-3 1 3 1 1 1-5 1 1 1 1 1-2 1-4 1 2 1 4 1 0 1 1 1-2 1-3 1 3 1 1 1 4 1-3 1-4 1 7 1-3 1-2 1-1 1 2 1-1 1-3 1 0 1 0 1 2 1 1 1 3 1-3 1 3 1 0 1-3 1-2 1 3 1-2 1 1 1-5 1 7 1 0 1-2 1 0 1-1 1 3 1 1 1-3 1 0 1-4 1 3 1 0 1 3 1-2 1-1 1-2 1 2 1 3 1-2 1 2 1 2 1-1 1-1 1 0 1-4 1 4 1 2 1-4 1-3 1 5 1 1 1-2 1-3 1-2 1 2 1 3 1-2 1 2 1-2 1-4 1 3 1 1 1 1 1-2 1 2 1-1 1-7 1 7 1-3 1 6 1 1 1-5 1 2 1-1 1 0 1 3 1 0 1-4 1 4 1-1 1 0 1-2 1 0 1 3 1-2 1 4 1-4 1 3 1 1 1-4 1 0 1 1 1 2 1-1 1 2 1-3 1-2 1 1 1-2 1 3 1-1 1-1 1 3 1 2 1-6 1 1 1 4 1-3 1-3 1 5 1-4 1 6 1-3 1-7 1 4 1 1 1 1 1-2 1-3 1 6 1 1 1-1 1-1 1 2 1-2 1 1 1-5 1 8 1-5 1 4 1-3 1-1 1 2 1-1 1-1 1 1 1-1 1-1 1 3 1-1 1-6 1 7 1-3 1 4 1-4 1 2 1 0 1 3 1-2 1 1 1 1 1-4 1-1 1 3 1 5 1-6 1 0 1-1 1 1 1 1 1 1 1 0 1 0 1 0 1-3 1-1 1-1 1 5 1-1 1-2 1 0 1 0 1 1 1 1 1-1 1 1 1-3 1 4 1-4 1 4 1-2 1 1 1-1 1 2 1-2 1 2 1-1 1-1 1-3 1 3 1 0 1-1 1 0 1-2 1 1 1 2 1 0 1-1 1-1 1 3 1-1 1-1 1 2 1-3 1 4 1 1 1-5 1 3 1 1 1-1 1-4 1 2 1 1 1 0 1 1 1-4 1 3 1-3 1 1 1 4 1 0 1-3 1 2 1-3 1 3 1 1 1 0 1-4 1 1 1 2 1 0 1 1 1-2 1 2 1-3 1 1 1 0 1 3 1-1 1-3 1 2 1-3 1 3 1-3 1-3 1 6 1-2 1 1 1 1 1 2 1-2 1-2 1-1 1 1 1 1 1 0 1-2 1 2 1 0 1 2 1-2 1-1 1 2 1-1 1 0 1-2 1 3 1 1 1-9 1 8 1-2 1 2 1-4 1 2 1 0 1 1 1-1 1 1 1 2 1-3 1 3 1-2 1 0 1 1 1-1 1 1 1-2 1-1 1 5 1-4 1 4 1-10 1 10 1-1 1-5 1 4 1-2 1 1 1 2 1-1 1-1 1 0 1 0 1 1 1-3 1 1 1 3 1-6 1 4 1-1 1-1 1-1 1 3 1 0 1 1 1 1 1-1 1 0 1 0 1 1 1 0 1-5 1 3 1 1 1-2 1 4 1-1 1 1 1-5 1-3 1 3 1 5 1-4 1 2 1 0 1-1 1 0 1 1 1 0 1 3 1-4 1-2 1 4 1-2 1-6 1 6 1-5 1 3 1 3 1-2 1-2 1 5 1-3 1 3 1-1 1 0 1 1 1 0 1-4 1 1 1 1 1 2 1-2 1-3 1 1 1 0 1 1 1-1 1 0 1 0" stroke="#e6323e" stroke-width="0.9" marker-start="url(#m0)" marker-mid="url(#m0)" marker-end="url(#m0)"/><path class="s" transform="translate(54 0) scale(0.25 1.0)" vector-effect="non-scaling-stroke" d="M0 1263l1 20 1-27 1 12 1-9 1 3 1-9 1 7 1 1 1-7 1-4 1 28 1-21 1 10 1 3 1-13 1 2 1-1 1-4 1 22 1-3 1 2 1-13 1-19 1 8 1 19 1 5 1-26 1 14 1 8 1-3 1-7 1 6 1 11 1-12 1-9 1-5 1 21 1-18 1 24 1-22 1 3 1 2 1 0 1-1 1-2 1 9 1-14 1 22 1-3 1 0 1-11 1 12 1-20 1 23 1-6 1 1 1-19 1 16 1 7 1-11 1-3 1 8 1-3 1 5 1-10 1 18 1-21 1-5 1 29 1-22 1 59 1-40 1 14 1-4 1-32 1 47 1-1 1-13 1-4 1-3 1-10 1 20 1-36 1 26 1-1 1 3 1-26 1 14 1 23 1-14 1-27 1 8 1 45 1-21 1 0 1-27 1 17 1 15 1-18 1 5 1 4 1-13 1-6 1 17 1-13 1 10 1-10 1 13 1 12 1-10 1 4 1 15 1-30 1 30 1-18 1 17 1-10 1 23 1-46 1-10 1 4 1 17 1-7 1 11 1 5 1-10 1-9 1 38 1-41 1 25 1-8 1 9 1-15 1-1 1 0 1 43 1-46 1-8 1 14 1-7 1 1 1-11 1 25 1-17 1 22 1 8 1-34 1-7 1 24 1-1 1 1 1-14 1 20 1-25 1-5 1 24 1 2 1 2 1-16 1 2 1 26 1-24 1-11 1 38 1-32 1 4 1 8 1-17 1-8 1 1 1 22 1-9 1-18 1 52 1-31 1 0 1 3 1-15 1 13 1-10 1 14 1-6 1-18 1 13 1-1 1 16 1 0 1-1 1-5 1 5 1-10 1 38 1-39 1 3 1 1 1 33 1-35 1 11 1-13 1 5 1 10 1 1 1-15 1-1 1 9 1-6 1-5 1-6 1 28 1-7 1-13 1 17 1-8 1 39 1-37 1-4 1-8 1-11 1 20 1-9 1 3 1-13 1 38 1-18 1 8 1-2 1-3 1 7 1 8 1-24 1 5 1 0 1 11 1-14 1 40 1-29 1-10 1-13 1 7 1-13 1 7 1 47 1-31 1 0 1 6 1-14 1-7 1 19 1-19 1 15 1 17 1-7 1-14 1 8 1 1 1-6 1-1 1-15 1 17 1-1 1 2 1-11 1 30 1-32 1 19 1-14 1 5 1 38 1-47 1 16 1 29 1-29 1-9 1 5 1 0 1 3 1 28 1-25 1 8 1-10 1-29 1 28 1 22 1-34 1-3 1-3 1 7 1 20 1-36 1 19 1 11 1-18 1-4 1 40 1-15 1-15 1 4 1-14 1 7 1 5 1 1 1 0 1 5 1-20 1 3 1 1 1 13 1 38 1-26 1-15 1-5 1-5 1 14 1 26 1-43 1 17 1 14 1-10 1 27 1-33 1 28 1-37 1 14 1 17 1-9 1-17 1-5 1 9 1 2 1-3 1 15 1-17 1 0 1 0 1 25 1-30 1 0 1 8 1 1 1-9 1 7 1-14 1 30 1-15 1 27 1-36 1 0 1 7 1 7 1-8 1 27 1-32 1 23 1-35 1 15 1 13 1-12 1-7 1-2 1-12 1 7 1 23 1-4 1-5 1 11 1-18 1 1 1 11 1 14 1-20 1 4 1-1 1 36 1 3 1-51 1-4 1 44 1-20 1-16 1-4 1 0 1 17 1 7 1-10 1 5 1-15 1 16 1 5 1-8 1-3 1 3 1 1 1 18 1-32 1 38 1-5 1-32 1 4 1 3 1 19 1-19 1 27 1-21 1-3 1-12 1-3 1-1 1 5 1 4 1 11 1-4 1 1 1 3 1 28 1-55 1 37 1-18 1 39 1-18 1-14 1-3 1 10 1-11 1 15 1-18 1 2 1 7 1 37 1-47 1-9 1-20 1 50 1-7 1-3 1-8 1-7 1 13 1-3 1-2 1 24 1-40 1 13 1-13 1 6 1 4 1 12 1 2 1-15 1 36 1-36 1 7 1-9 1 3 1 3 1 1 1 3 1 22 1-23 1 13 1 1 1-6 1-14 1-7 1 47 1-51 1 8 1-8 1 20 1-25 1 8 1 10 1-30 1 30 1-5 1 32 1-17 1-12 1-5 1-16 1 15 1-5 1-2 1 18 1-6 1-12 1 34 1-32 1 10 1 8 1-2 1-11 1-6 1-4 1 19 1-2 1 20 1-24 1-4 1 10 1-7 1-25 1 35 1-3 1-9 1 21 1-7 1-22 1 24 1-5 1-15 1 10 1 0 1-6 1-12 1 11 1 5 1 12 1 1 1 25 1-34 1 1 1 1 1-9 1 40 1-20 1-11 1 11 1-21 1 8 1 6 1-21 1 17 1 20 1-17 1 3 1-19 1 38 1 2 1-58 1 29 1 8 1 2 1 0 1 49 1-37 1-16 1-5 1 7 1-21 1-4 1 5 1 40 1-32 1 44 1-44 1-9 1 27 1-22 1 4 1 13 1-10 1-9 1 55 1-44 1 4 1 2 1-1 1 12 1-8 1 7 1-8 1-1 1-6 1-5 1-2 1 1 1-4 1 20 1-8 1 14 1-4 1-22 1 19 1-7 1-10 1 21 1-19 1 15 1-8 1 2 1 10 1 6 1-30 1 1 1 32 1-25 1-8 1 22 1 14 1-22 1-17 1 14 1-2 1 10 1-9 1 24 1 2 1-30 1 4 1 11 1-21 1 20 1-32 1 28 1-10 1 8 1-4 1 5 1-10 1-4 1-2 1 5 1 0 1-12 1 30 1 28 1-45 1 19 1-38 1 57 1-58 1 23 1 41 1-32 1-23 1 16 1 6 1 8 1 10 1-23 1 9 1-5 1-23 1 14 1-13 1 26 1-21 1-11 1 66 1 52 1-122 1 37 1 25 1-50 1 9 1 10 1-12 1 19 1-24 1 1 1 19 1-10 1 6 1 7 1-12 1-2 1-6 1 18 1 4 1-7 1 6 1-19 1 13 1 5 1-12 1-32 1 24 1 10 1 2 1-12 1 15 1 15 1-18 1 37 1 4 1-46 1-9 1 16 1-6 1-8 1-7 1 21 1-7 1-7 1 24 1-22 1-1 1 4 1-7 1-8 1 18 1-7 1 19 1-14 1-9 1 3 1 20 1-21 1 17 1-24 1 50 1-46 1 24 1-16 1 46 1-37 1 57 1-35 1-34 1-9 1 2 1 14 1-8 1 66 1-72 1 14 1-2 1-3 1 12 1-4 1 31 1-40 1 12 1-18 1 26 1-32 1 29 1-30 1 5 1 4 1 3 1 1 1-2 1 5 1-1 1 0 1 3 1 5 1-7 1 6 1-13 1-4 1 19 1-6 1 3 1-11 1 3 1 9 1-4 1-4 1 7 1-10 1 8 1-6 1 8 1 6 1-26 1 8 1 11 1-2 1-10 1-3 1 7 1-2 1 12 1-7 1 0 1 11 1-10 1 1 1-15 1 16 1-2 1-5 1 1 1 4 1 7 1-27 1 9 1 11 1-17 1 7 1 8 1 15 1-20 1-8 1 8 1 6 1 6 1-1 1-4 1-9 1-5 1 2 1 10 1-3 1 10 1-16 1 27 1-20 1 4 1 11 1-9 1-5 1 3 1 3 1-6 1 4 1-6 1 11 1 3 1-6 1-7 1-6 1-1 1 15 1-7 1 70 1-72 1-3 1 18 1-17 1 0 1 2 1-2 1 4 1 3 1-4 1 4 1-6 1 12 1 1 1-6 1 2 1-21 1 14 1-3 1 10 1-2 1-8 1 1 1-4 1 14 1 2 1 3 1 0 1 9 1-10 1-5 1-7 1 6 1 26 1-39 1-7 1 9 1-1 1 19 1-2 1-1 1-5 1 5 1 0 1-13 1-1 1 7 1-12 1 13 1 8 1-4 1-13 1-3 1 15 1-9 1 10 1-14 1 12 1-7 1-1 1 8 1-12 1 5 1 6 1-6 1 2 1-4 1 16 1-17 1 5 1-1 1 8 1-3 1 8 1-11 1-6 1 6 1 19 1-24 1 7 1-4 1 1 1-3 1 12 1-6 1 5 1-18 1 11 1 3 1 6 1-7 1-4 1 8 1-12 1 6 1 1 1-1 1 8 1 2 1-4 1 1 1 2 1-15 1-1 1 12 1-5 1 3 1-6 1 2 1 13 1-16 1 6 1-6 1 3 1 3 1-6 1 1 1 2 1-5 1 3 1 20 1-23 1-1 1 1 1 10 1-4 1-3 1 7 1 10 1-23 1 3 1-4 1 0 1 18 1-5 1-7 1 4 1 16 1 7 1-18 1-7 1 1 1 4 1-5 1-1 1 6 1-2 1-12" stroke="#333" stroke-width="1.1" marker-start="url(#m2)" marker-mid="url(#m2)" marker-end="url(#m2)"/></g><path d="M53.75 1213.4V1388.75" stroke="#c4c4c4" stroke-width="1" fill="none"/><text class="tk" x="49.5" y="1392.3">0</text><text class="tk" x="49.5" y="1357.3">2</text><text class="tk" x="49.5" y="1322.2">4</text><text class="tk" x="49.5" y="1287.1">6</text><text class="tk" x="49.5" y="1252.1">8</text><text class="tk" x="49.5" y="1217">10</text><path d="M53.2 1388.8h6M53.2 1353.7h6M53.2 1318.6h6M53.2 1283.5h6M53.2 1248.5h6M53.2 1213.4h6" stroke="#8a8a8a" stroke-width="1" fill="none"/><text class="yl" transform="translate(23.7 1295.2) rotate(-90)" textLength="100.7" lengthAdjust="spacingAndGlyphs">FSF domains (%)</text><path d="M318.2 1361.5H348.8" stroke="#ee5a64" stroke-width="1.0"/><circle cx="333.5" cy="1361.5" r="1.15" fill="#b0101e"/><text class="lt" x="352.4" y="1366" textLength="63.0" lengthAdjust="spacingAndGlyphs">Viral proteins</text><path d="M318.2 1387.5H348.8" stroke="#5a5a5a" stroke-width="1.0"/><circle cx="333.5" cy="1387.5" r="1.15" fill="#000000"/><text class="lt" x="352.4" y="1392" textLength="90.0" lengthAdjust="spacingAndGlyphs">Unknown function</text></g>
<g><text class="ti" x="594.4" y="20.9" textLength="92.4" lengthAdjust="spacingAndGlyphs">Metabolism (<tspan font-style="italic">b</tspan>)</text><path d="M596.3 44.3V27.5H841.0V44.3M613.9 27.5V44.3M780.3 27.5V44.3" fill="none" stroke="#6e6e6e" stroke-width="1.15"/><text class="br" x="605.1" y="39">A</text><text class="br" x="709.1" y="39">B</text><text class="br" x="810.6" y="39">E</text><g class="d"><path class="s" transform="translate(596.6 0) scale(0.25 1.0)" vector-effect="non-scaling-stroke" d="M0 224l1 0 1 1 1-1 1 1 1 0 1 0 1 0 1-1 1 1 1 0 1 0 1-1 1 1 1-1 1 0 1 1 1 0 1-1 1 0 1 1 1 0 1-1 1 1 1-1 1 1 1 0 1 0 1 0 1-1 1 1 1-1 1 1 1-1 1 0 1 1 1-1 1 1 1 0 1-1 1 1 1-1 1 1 1 0 1 0 1-1 1 1 1-1 1 1 1-1 1 1 1-1 1 0 1 0 1 0 1 0 1 0 1 1 1 0 1 0 1-1 1 1 1 0 1-1 1-2 1 2 1 1 1 0 1-1 1 1 1 0 1-1 1 1 1-1 1 0 1 1 1 0 1 0 1 0 1 0 1-1 1 1 1-1 1 1 1 0 1 0 1-1 1 0 1 1 1-1 1 1 1-1 1 1 1-1 1 1 1-1 1 0 1 1 1 0 1 0 1 0 1-1 1 0 1 0 1 0 1 0 1 0 1 1 1-1 1 0 1 1 1 0 1 0 1-1 1 0 1 0 1 1 1-1 1 1 1-1 1-2 1 3 1 0 1-1 1 0 1 0 1 0 1 1 1 0 1-1 1 0 1 0 1 0 1 0 1 1 1 0 1-1 1 0 1 1 1 0 1 0 1-1 1 0 1 0 1 0 1 0 1 1 1-1 1 1 1 0 1-1 1 0 1 1 1 0 1 0 1 0 1 0 1-1 1 0 1 1 1 0 1-1 1 1 1-1 1 0 1 0 1 1 1-1 1 1 1 0 1 0 1 0 1-1 1 1 1-1 1 0 1 0 1 0 1 0 1 0 1 1 1 0 1-1 1 0 1 1 1-1 1 1 1 0 1-1 1 0 1 1 1 0 1 0 1-1 1 0 1 1 1-1 1 1 1 0 1-1 1 1 1 0 1 0 1-1 1 1 1-1 1 0 1 0 1 1 1-1 1 1 1 0 1 0 1 0 1 0 1 0 1 0 1-1 1 0 1 1 1-1 1 1 1 0 1-3 1 2 1 1 1 0 1 0 1 0 1 0 1-1 1 0 1 0 1 1 1 0 1 0 1 0 1-1 1 1 1-1 1 1 1-1 1 1 1-1 1 0 1 0 1 0 1-2 1 2 1 1 1 0 1-1 1 0 1 1 1-1 1 0 1 0 1 1 1 0 1-3 1 2 1 0 1 0 1 1 1-1 1 1 1-1 1 1 1 0 1-1 1 1 1 0 1 0 1 0 1-1 1 1 1-1 1 0 1 0 1 0 1-2 1 2 1 1 1-1 1 0 1 0 1 1 1 0 1 0 1-1 1 0 1 1 1 0 1-1 1 0 1 1 1-1 1 1 1 0 1 0 1 0 1 0 1-1 1 0 1 1 1-1 1 0 1 1 1-1 1 0 1 0 1 1 1-1 1 1 1 0 1-1 1 1 1 0 1-1 1 1 1-1 1 1 1-1 1 1 1-1 1 0 1 1 1-1 1 0 1 1 1 0 1-1 1 1 1-1 1 0 1 1 1-1 1 0 1 0 1 0 1 1 1 0 1-1 1 0 1 0 1 0 1 0 1 0 1 1 1 0 1 0 1 0 1-1 1 1 1 0 1-1 1 0 1 0 1 0 1 1 1-1 1 0 1 1 1 0 1 0 1-1 1 0 1 1 1 0 1-1 1 1 1 0 1-1 1 0 1 0 1 1 1-1 1 1 1 0 1-1 1 0 1 1 1-1 1 1 1 0 1 0 1-1 1 1 1 0 1 0 1-1 1 1 1 0 1 0 1 0 1-1 1 0 1 1 1-1 1 0 1 1 1-1 1 0 1 0 1 1 1 0 1 0 1 0 1 0 1-1 1 0 1 0 1 1 1-1 1 0 1 1 1 0 1-1 1 1 1 0 1 0 1-1 1 1 1 0 1 0 1 0 1 0 1-1 1 1 1 0 1-1 1 1 1 0 1 0 1-1 1 1 1-1 1 0 1 0 1 0 1 0 1 1 1 0 1 0 1 0 1 0 1-1 1 0 1 0 1 1 1 0 1 0 1-1 1 1 1 0 1-1 1 1 1-1 1 0 1 1 1-1 1 0 1 0 1 0 1 1 1 0 1-1 1 1 1-1 1 1 1 0 1 0 1-1 1 1 1-3 1 3 1 0 1 0 1-1 1 1 1 0 1 0 1-1 1 1 1-1 1 1 1 0 1 0 1 0 1-1 1 1 1-1 1 1 1-1 1 1 1 0 1 0 1-1 1 0 1 0 1 1 1-1 1 0 1 1 1-1 1 0 1 1 1 0 1 0 1-3 1 2 1 0 1 0 1 1 1-1 1 1 1-1 1 0 1 0 1 1 1-1 1 0 1 0 1 0 1 0 1 0 1 1 1 0 1 0 1-1 1 0 1 1 1-1 1 0 1 1 1 0 1-1 1 1 1 0 1-1 1 0 1 1 1-1 1 1 1 0 1 0 1-1 1 1 1-1 1 1 1 0 1-1 1 1 1 0 1 0 1-1 1 0 1 1 1-1 1 1 1 0 1 0 1 0 1-1 1 1 1 0 1-1 1 1 1-1 1 1 1 0 1-1 1 1 1 0 1 0 1 0 1 0 1 0 1-1 1 0 1 1 1 0 1-1 1 1 1-1 1 0 1 0 1 0 1 1 1 0 1-1 1 0 1 1 1-1 1 1 1-1 1-2 1 3 1 0 1 0 1 0 1-1 1 1 1-1 1 0 1 1 1-1 1 0 1 0 1 1 1 0 1-1 1 0 1 1 1-1 1 0 1 0 1 1 1 0 1-1 1 0 1 1 1-1 1 0 1 0 1 1 1 0 1-1 1 0 1 0 1 0 1 1 1 0 1-1 1 0 1 1 1 0 1-1 1 1 1-3 1 2 1 1 1-1 1 0 1 0 1 0 1 0 1 0 1 1 1-1 1 0 1 1 1-1 1 1 1-1 1-2 1 2 1 0 1 1 1 0 1 0 1-1 1 0 1 1 1-1 1 0 1 1 1 0 1-1 1 1 1-1 1-2 1 3 1 0 1 0 1-1 1 1 1-1 1 1 1-1 1 1 1 0 1-1 1 1 1 0 1-1 1 1 1-1 1 0 1 1 1-1 1 1 1 0 1-1 1 1 1 0 1 0 1 0 1-1 1 0 1 1 1 0 1-1 1 0 1 1 1-1 1 1 1 0 1-1 1 0 1 0 1 1 1 0 1-1 1 0 1 1 1 0 1 0 1-1 1 1 1-3 1 2 1 1 1 0 1 0 1-1 1 0 1 0 1 0 1 0 1 0 1 1 1-1 1 1 1-1 1 0 1 1 1 0 1-1 1 1 1 0 1 0 1-1 1 1 1-1 1 1 1-1 1 1 1 0 1 0 1-1 1 0 1 0 1 1 1-1 1 0 1 1 1-1 1 1 1 0 1 0 1-1 1 0 1 0 1 1 1 0 1-1 1 1 1 0 1-1 1 1 1 0 1-1 1 1 1 0 1 0 1-1 1 0 1 1 1 0 1-1 1 1 1-1 1 0 1 1 1-1 1 1 1 0 1-1 1 1 1 0 1 0 1 0 1 0 1-1 1 1 1 0 1-1 1 1 1 0 1 0 1-1 1 1 1-3 1 3 1 0 1 0 1-1 1 0 1 0 1 1 1-1 1 0 1 1 1 0 1-1 1 1 1-1 1 1 1 0 1-1 1 0 1 1 1-1 1 0 1 1 1-1 1 0 1 1 1-1 1 0 1 1 1 0 1 0 1-1 1 0 1 0 1 1 1 0 1-1 1 1 1 0 1-1 1 0 1 1 1-1 1 1 1-3 1 3 1-1 1 0 1 0 1 0 1 0 1 0 1 1 1-1 1 0 1 0 1 1 1 0 1 0 1 0 1-1 1 0 1 0 1 0 1 0 1 1 1 0 1 0 1 0 1 0 1-1 1 1 1 0 1 0 1-1 1 0 1 1 1 0 1-1 1 0 1 1 1-1 1 0 1 1 1 0 1 0 1 0 1 0 1 0 1 0 1 0 1 0 1-1 1 1 1-1 1 0 1 0 1 0 1 1 1 0 1-1 1 0 1 1 1-1 1 0 1 1 1 0 1-1 1 0 1 1 1 0 1-1 1 1 1-1 1 0 1-2 1 3 1 0 1 0 1 0 1-1 1 1 1-1 1 1 1 0 1-1 1 0 1 0 1 1 1-1 1 0 1 0 1 1 1-1 1 1 1-1 1 0 1 1 1-1 1 0 1 0 1 0 1 0 1 0 1 0 1-2 1 2 1 1 1-1 1 0 1 0 1 0 1 1 1 0 1 0 1 0 1-1 1 0 1 0 1 0 1 0 1 1 1-1 1 1 1-1 1 0 1 0 1 0 1 0 1 0 1 0 1 1 1-1 1 0" stroke="#555555" stroke-width="0.9" marker-start="url(#m2)" marker-mid="url(#m2)" marker-end="url(#m2)"/><path class="s" transform="translate(596.6 0) scale(0.25 1.0)" vector-effect="non-scaling-stroke" d="M0 224l1 1 1-3 1-3 1 2 1 0 1 3 1-3 1 3 1-2 1 0 1 0 1 0 1 2 1-2 1-1 1 3 1-3 1 1 1-1 1 1 1 2 1-2 1 0 1 0 1 0 1 2 1-3 1 3 1-2 1-1 1 1 1-3 1 3 1 0 1 0 1 0 1-3 1 2 1 3 1-3 1 1 1 2 1-2 1 0 1 0 1-1 1 1 1 3 1-4 1 3 1-3 1 0 1 3 1-5 1 5 1-2 1 0 1 0 1 0 1-1 1 0 1 1 1-1 1-2 1 3 1 0 1 0 1-1 1 1 1 0 1 3 1-1 1-5 1 6 1-4 1 3 1 0 1-2 1 0 1 0 1 2 1-2 1 2 1 0 1-3 1 0 1 4 1-1 1-2 1 0 1 0 1 0 1-1 1 3 1 0 1 0 1-5 1 5 1-3 1 1 1-1 1 1 1-1 1 1 1-1 1 1 1 0 1 0 1-1 1 0 1 1 1-1 1 3 1 0 1-2 1-1 1 1 1 0 1 2 1 0 1 1 1-3 1 0 1 0 1-1 1 4 1-1 1 0 1 0 1-2 1 0 1-1 1 4 1-1 1-3 1 3 1-2 1 0 1 2 1-2 1 2 1-3 1 1 1 2 1 0 1-2 1-1 1 1 1 0 1 2 1 0 1-5 1 3 1-1 1 0 1 1 1-1 1 1 1-4 1 6 1-3 1 1 1-1 1 0 1-2 1 3 1 3 1-6 1 5 1 0 1 0 1-2 1-1 1 0 1 0 1 1 1-1 1 3 1-5 1 5 1-2 1-1 1 1 1 0 1 0 1-1 1 1 1-1 1 4 1-3 1-1 1 1 1 2 1-2 1 0 1 0 1 2 1-2 1-3 1 2 1 1 1 0 1 0 1 0 1-1 1 0 1 4 1-1 1 0 1-2 1 0 1 0 1 0 1 0 1-1 1 3 1 0 1-2 1 0 1 2 1 0 1-2 1 0 1 0 1-1 1 0 1-2 1 6 1-4 1 1 1-3 1 3 1 2 1-2 1 0 1 2 1-3 1 1 1-1 1 0 1 1 1 0 1-1 1 0 1-2 1 5 1 1 1-3 1 0 1-3 1 0 1 3 1-3 1 6 1-4 1 3 1-2 1-3 1 0 1 5 1-2 1 3 1-6 1 5 1-2 1-1 1-2 1 3 1 0 1 0 1 0 1 0 1-1 1 1 1 0 1 0 1 0 1 0 1 2 1-2 1-3 1 2 1 3 1-2 1 2 1-3 1 0 1 4 1-3 1-1 1 1 1-1 1 3 1-3 1 1 1-3 1 3 1 2 1-5 1 3 1-1 1 1 1 0 1 3 1-3 1-3 1 5 1 0 1-5 1 2 1 0 1 0 1 0 1 3 1-2 1 0 1-1 1-2 1 3 1 0 1 0 1-1 1 1 1 2 1 0 1-2 1-3 1 3 1 0 1 3 1-3 1 0 1 0 1-1 1 0 1 1 1 0 1 0 1 0 1 0 1 2 1-2 1-1 1 3 1-2 1 0 1-3 1 0 1 5 1-3 1 1 1-1 1 3 1 0 1-2 1-1 1 1 1 0 1 2 1-2 1-3 1 0 1 3 1 0 1 0 1-1 1 0 1 1 1 2 1-2 1 0 1-1 1 3 1-2 1 0 1-1 1 3 1 1 1-1 1-5 1 3 1-1 1 3 1 1 1-1 1-3 1 3 1-2 1-1 1 0 1 1 1 3 1-4 1 1 1 0 1 3 1 0 1-3 1-1 1 1 1 0 1-1 1 1 1 2 1 0 1-2 1 2 1 0 1-3 1 1 1 0 1-1 1 1 1 2 1-2 1-1 1 0 1 3 1-3 1 1 1 0 1 2 1-2 1 2 1 0 1-5 1 5 1-2 1 0 1 0 1 2 1-3 1 0 1 3 1-5 1 6 1-1 1-2 1-1 1 0 1 4 1-6 1 5 1-3 1 1 1 2 1-3 1 0 1 1 1 0 1-1 1 3 1-3 1 4 1 0 1-3 1 2 1 0 1-2 1 2 1-2 1 2 1 0 1 0 1 0 1-3 1 1 1 0 1-1 1 0 1 1 1 0 1-1 1 1 1 2 1-2 1 0 1-1 1 1 1-1 1 1 1 0 1 0 1 2 1-2 1 0 1-3 1 5 1 0 1-2 1 0 1-1 1 3 1-3 1 3 1-2 1 3 1-3 1 2 1-5 1 6 1-1 1-2 1-1 1 3 1-2 1 2 1-2 1 2 1 0 1-3 1 0 1 1 1 0 1 2 1 1 1-1 1-3 1 0 1 0 1 3 1 0 1 0 1-5 1 3 1 0 1-1 1 3 1-3 1 3 1-2 1 2 1-2 1 0 1 3 1-4 1 1 1 0 1 2 1 1 1 0 1-3 1 2 1-3 1 0 1-3 1 6 1-2 1 0 1 0 1 2 1 0 1-2 1-1 1 3 1-2 1 0 1 0 1 2 1-2 1 2 1-2 1 0 1-1 1 1 1 0 1 2 1 1 1-1 1-3 1 3 1-2 1 2 1 0 1-2 1 2 1-2 1-3 1 2 1 3 1 0 1-3 1 0 1 1 1 2 1 0 1 0 1-2 1-1 1 3 1-3 1 1 1 0 1 0 1 2 1-5 1 2 1 1 1 2 1-2 1 0 1-4 1 3 1 1 1 0 1 0 1-1 1 1 1 0 1-1 1 1 1 0 1 0 1 0 1 0 1-1 1 3 1-2 1 0 1 0 1 2 1-2 1-1 1 0 1 1 1-1 1 0 1 3 1 0 1-3 1 3 1-5 1 2 1 1 1 2 1-2 1 0 1 0 1 2 1-3 1 0 1 0 1 1 1 2 1-3 1 4 1-1 1 0 1-3 1 3 1-2 1 3 1-1 1-2 1 3 1-1 1-2 1 2 1-3 1 4 1-4 1 1 1 0 1 0 1 3 1-3 1 0 1 0 1-1 1 1 1 2 1 0 1-6 1 3 1 1 1-3 1 5 1-2 1 0 1 0 1 2 1-2 1 0 1-1 1 1 1 2 1 1 1 0 1-1 1-2 1-1 1 1 1-1 1 1 1-1 1 4 1-1 1-3 1-2 1 5 1-5 1 2 1 3 1-2 1 0 1 0 1 0 1 0 1-1 1 0 1 1 1-1 1 3 1 1 1-3 1 0 1 0 1 3 1-3 1-1 1 1 1-1 1-2 1 3 1 2 1-2 1-3 1 2 1 1 1-1 1 3 1-2 1 0 1 0 1-1 1-6 1 3 1-2 1 2 1 4 1-4 1 4 1-1 1-2 1 3 1-3 1 2 1-3 1 0 1 3 1 0 1-6 1 4 1 6 1-9 1 3 1 2 1-5 1 5 1-6 1 1 1-1 1 9 1-3 1-2 1 0 1-1 1 4 1-4 1-2 1 0 1 6 1-1 1-3 1-2 1 0 1 5 1 0 1-5 1 3 1-3 1 2 1 3 1 0 1 4 1-12 1 6 1 0 1-1 1 1 1-1 1-3 1 1 1 2 1 1 1-6 1 8 1-2 1-3 1 2 1 4 1-6 1 0 1 0 1 2 1 3 1-5 1 8 1-8 1 3 1 5 1-3 1 0 1-3 1 1 1-4 1 4 1 0 1 2 1-2 1-3 1 2 1 6 1-6 1-2 1 2 1 3 1 0 1-2 1-3 1 5 1 0 1-5 1 5 1-5 1-1 1 3 1 4 1-4 1 3 1-6 1 3 1-2 1 3 1 0 1 0 1-1 1 3 1-3 1-3 1 4 1-3 1 3 1-1 1 4 1-4 1-3 1 4 1 0 1-1 1 4 1-6 1 5 1 1 1-7 1 6 1-3 1 0 1 1 1-4 1 4 1-3 1 2 1 1 1 0 1-1 1-2 1 0 1 2 1 3 1-3 1 1 1-1 1 0 1 1 1 0 1 2 1 0 1-3 1-5 1 8 1 0 1-2 1 5 1-3 1 1 1-4 1-2 1 0 1 5 1-3 1 3 1-3 1 0 1 1 1-1 1 3 1-6 1 6 1 0 1-2 1 2 1-3 1-3 1 10 1-4 1 0 1-2 1 0 1-3 1-1 1 1 1 3 1 0 1 0 1-3 1 6 1-4 1-2 1 3 1 2 1 0 1-3 1 1 1 2 1 0 1 0 1-2 1 2 1-2 1 2 1-3 1 1 1 3 1-6 1 3 1 0 1 2 1-3 1 3 1-3 1 0 1 1 1-1 1-5 1-3 1 9 1 0 1-3 1 0 1 2 1 4 1-3 1-3 1 3 1-1 1 1 1 0 1 0 1 0 1-1 1 1 1 2 1-5 1 3 1 0" stroke="#a070c0" stroke-width="0.9" marker-start="url(#m1)" marker-mid="url(#m1)" marker-end="url(#m1)"/><path class="s" transform="translate(596.6 0) scale(0.25 1.0)" vector-effect="non-scaling-stroke" d="M0 212l1 4 1-1 1 1 1 3 1-4 1 1 1-1 1 1 1 3 1-3 1-1 1 3 1-2 1 0 1-1 1 1 1-3 1 5 1 0 1-3 1 7 1-6 1 5 1-6 1 1 1-6 1 3 1 6 1-3 1 2 1-2 1 3 1-4 1-2 1 0 1 6 1-3 1 2 1 1 1 0 1-3 1 0 1-3 1 3 1-3 1 0 1 0 1 8 1-3 1-2 1-3 1 8 1-5 1 0 1 9 1-7 1-3 1 3 1-2 1 5 1-11 1 9 1-7 1 6 1-5 1 5 1-2 1-1 1-2 1-1 1 3 1 0 1 1 1-1 1 1 1-1 1 0 1 0 1 0 1-2 1 2 1 0 1 3 1-8 1 2 1 1 1 2 1 3 1-2 1-3 1 2 1 4 1-4 1 1 1 2 1-3 1 0 1-5 1 5 1 0 1 1 1-3 1 3 1 2 1-2 1-4 1-2 1 3 1-1 1 4 1 0 1-3 1 3 1-1 1-3 1 0 1 3 1-2 1 3 1 0 1-3 1 2 1-2 1-1 1 3 1 0 1-2 1 2 1 1 1-1 1 0 1-2 1 2 1-2 1 2 1-2 1 2 1 0 1-2 1-4 1 6 1-3 1 3 1 1 1-4 1 3 1 1 1-3 1 5 1 0 1-3 1-5 1 3 1 3 1-3 1 0 1 2 1-2 1-1 1 1 1 0 1 2 1 3 1 0 1 1 1-7 1 9 1-5 1-1 1-2 1-1 1 4 1 2 1-3 1 3 1-5 1 3 1-6 1 5 1-5 1 5 1 0 1 1 1 0 1-1 1 1 1 0 1 2 1-5 1-3 1 6 1-6 1 8 1-3 1 1 1 0 1-1 1 3 1-3 1 4 1-7 1 0 1-2 1 5 1 0 1 0 1 3 1-3 1-3 1 3 1-2 1 3 1-4 1 1 1 3 1-1 1-3 1 4 1-1 1-2 1 0 1 5 1-6 1 3 1-2 1 3 1-1 1-2 1 2 1-2 1 3 1-3 1 6 1-6 1 3 1 0 1-1 1 0 1 0 1-3 1 7 1-6 1 3 1-1 1 1 1 0 1-4 1 3 1-2 1-1 1 6 1 1 1-7 1 3 1 3 1-5 1 2 1 1 1 2 1-2 1-1 1 1 1-1 1 1 1-1 1 3 1-5 1 3 1 0 1 0 1-1 1 3 1 0 1-3 1-2 1 2 1 3 1-3 1 1 1 0 1 0 1-3 1 2 1 3 1-8 1 3 1 2 1 0 1 1 1-6 1 2 1 4 1-1 1-3 1 1 1 6 1-10 1 6 1 0 1-2 1-1 1 6 1-6 1 0 1 3 1 1 1 2 1 0 1-3 1 0 1-2 1 2 1 1 1 2 1-2 1-3 1 5 1 0 1-5 1 0 1 3 1-7 1 7 1-4 1 1 1-3 1 6 1 0 1-6 1 6 1-4 1 4 1 0 1-6 1 3 1 3 1-3 1 3 1 3 1-4 1 0 1-3 1 1 1-1 1 0 1 1 1 0 1 0 1-1 1 4 1-1 1 1 1-3 1 0 1 2 1-2 1 2 1-3 1 0 1 4 1 0 1-3 1 3 1-4 1-2 1 3 1-1 1 1 1 0 1 0 1 0 1 2 1-5 1 6 1-1 1 1 1 0 1-1 1-2 1 5 1-8 1 3 1 3 1-3 1-1 1 3 1 0 1 0 1 0 1 3 1-2 1-6 1 6 1-1 1 0 1 0 1-6 1 9 1-2 1 2 1 0 1 0 1-2 1-3 1 2 1-2 1 3 1-3 1 0 1 3 1-1 1-2 1 0 1-1 1 6 1-6 1 4 1 0 1-1 1 3 1-2 1-4 1 4 1 0 1-1 1 1 1-1 1 1 1-3 1 3 1 0 1-3 1 0 1 2 1-2 1 2 1 1 1 0 1 0 1-1 1-2 1 0 1 6 1-10 1 7 1 3 1-10 1 3 1 1 1 6 1-1 1-3 1-2 1 2 1 0 1 3 1-3 1 1 1-3 1-1 1 6 1-5 1-1 1-3 1 3 1 9 1-8 1-1 1 3 1 0 1 1 1-4 1 0 1 1 1 2 1 1 1-3 1 0 1 2 1 0 1 0 1 0 1 0 1-2 1 2 1 1 1-4 1 4 1 3 1-6 1 0 1 5 1-5 1 2 1 3 1-6 1 1 1 3 1-3 1 2 1 3 1-3 1 0 1 1 1-6 1 5 1 0 1 4 1-7 1-2 1 3 1 0 1-1 1 3 1 0 1 1 1-1 1 3 1-6 1 4 1 2 1-2 1-1 1-2 1 3 1-1 1-2 1 3 1-1 1-3 1 3 1 0 1 1 1 2 1-3 1 0 1-2 1 2 1 4 1-6 1 0 1 3 1 2 1-3 1 1 1 0 1 2 1-6 1 0 1 0 1 4 1-3 1 5 1-3 1 1 1 0 1 0 1-6 1 6 1 0 1 5 1-9 1 3 1-2 1 2 1-3 1 4 1 0 1-6 1 6 1-3 1 0 1 0 1-1 1 6 1 3 1-9 1 1 1 5 1-3 1 1 1-1 1-3 1 1 1-3 1 3 1 0 1 0 1 3 1-1 1 0 1-2 1-1 1 3 1-5 1 6 1-3 1 3 1 2 1-3 1 1 1-3 1 0 1 0 1 5 1-3 1-2 1 5 1-5 1-1 1 4 1-3 1 2 1-2 1 0 1 0 1 0 1-1 1 1 1-1 1 6 1-2 1-4 1 1 1 0 1 2 1 3 1-3 1 0 1-2 1 3 1-3 1 0 1 5 1-2 1-6 1 8 1-5 1 2 1 0 1-2 1 2 1-2 1 3 1-1 1 4 1-4 1 1 1 5 1-6 1 0 1 1 1 0 1-3 1 2 1 0 1-2 1 0 1 2 1-2 1 0 1 3 1-1 1 0 1 1 1 2 1 0 1-9 1 3 1 4 1-3 1 3 1-1 1 0 1-2 1 2 1 3 1 1 1-6 1 2 1 6 1-11 1 3 1 5 1-2 1-3 1-1 1 4 1 0 1-3 1 0 1 0 1 0 1 3 1-3 1-1 1 3 1-2 1 3 1-4 1 4 1 0 1-1 1-3 1 6 1-6 1 0 1 1 1 0 1 0 1-3 1 2 1 1 1 2 1 0 1-3 1 4 1 0 1 0 1 3 1-7 1 6 1-5 1-3 1 8 1 0 1-2 1-3 1-3 1 5 1 0 1 0 1 0 1-3 1 3 1-6 1 7 1-4 1-3 1 3 1-2 1-1 1 4 1 5 1-3 1-3 1-2 1 3 1-3 1 2 1 1 1 2 1-5 1-1 1 3 1-2 1 3 1-1 1 1 1 0 1-1 1-3 1 4 1-1 1 1 1-1 1 0 1-5 1 6 1 0 1-3 1 2 1 1 1-3 1 5 1-2 1-1 1-2 1-1 1 6 1-6 1 6 1-3 1 0 1-3 1 4 1-1 1 3 1 3 1-6 1 4 1 0 1-3 1-1 1-2 1 2 1 1 1 0 1 3 1 0 1-1 1-2 1-4 1 4 1-7 1 6 1-2 1 8 1 0 1-2 1-1 1 0 1-2 1 0 1 0 1-1 1 0 1 4 1-4 1 1 1 0 1 2 1 1 1-3 1-1 1 3 1-3 1 0 1-3 1 3 1 1 1-3 1 5 1-5 1 3 1 0 1 0 1 0 1 2 1 0 1-5 1 8 1-5 1-1 1-2 1 3 1-1 1 1 1 2 1 3 1 0 1-5 1-4 1 3 1 3 1-3 1 3 1-2 1 0 1-1 1 1 1 2 1 3 1-2 1-3 1 2 1-2 1 3 1 0 1-1 1-2 1 0 1 0 1 5 1-6 1 1 1 0 1-1 1 1 1 3 1-1 1-3 1 6 1-5 1 2 1-3 1 4 1-1 1-3 1-2 1 5 1 1 1-4 1 4 1-3 1 0 1-4 1 1 1 6 1-4 1 1 1-6 1 6 1 0 1-1 1 3 1-2 1-1 1 0 1 1 1 6 1-3 1-4 1 1 1 5 1-2 1-3 1-3 1 5 1 1 1-7 1 3 1 3 1-3 1 0 1 1 1-1 1 4 1-4 1 3 1 0 1-2 1 0 1 2 1-2 1-1 1 3 1 0 1-3 1 1 1-3 1 0 1 3 1 0 1-3 1 5 1 0 1-3 1 1 1-3 1 0 1 2 1 1 1-1 1 0 1 4 1-3 1-1 1-2 1 3 1-1 1 0 1 3 1 0 1-2 1 0 1 2 1-2 1-1 1-2 1 6 1-1 1-5 1 3 1-3 1 6" stroke="#2ea65c" stroke-width="0.9" marker-start="url(#m3)" marker-mid="url(#m3)" marker-end="url(#m3)"/><path class="s" transform="translate(596.6 0) scale(0.25 1.0)" vector-effect="non-scaling-stroke" d="M0 215l1-2 1-1 1-3 1 0 1 4 1 0 1 5 1-2 1 2 1-3 1-2 1-1 1 4 1 3 1-4 1 1 1-3 1-3 1 2 1 3 1-5 1 2 1-6 1 7 1-8 1 10 1-6 1 3 1-2 1 5 1-5 1 2 1 0 1 3 1-3 1-2 1 2 1 0 1 4 1-1 1-5 1 5 1 6 1-2 1-6 1-4 1 3 1 1 1-3 1 6 1-10 1 9 1 0 1 0 1-5 1 3 1-4 1 9 1-2 1-4 1 4 1-3 1 0 1-1 1-2 1-3 1 6 1-3 1 0 1-1 1 9 1-9 1 1 1 2 1 0 1 1 1-4 1 0 1 3 1-3 1 3 1-3 1 4 1-6 1 5 1-6 1 7 1 3 1-6 1 0 1 0 1 8 1-5 1 3 1-1 1-5 1 0 1 6 1-3 1-1 1 3 1-8 1 3 1-3 1 11 1-5 1 0 1 2 1-3 1 6 1-8 1 0 1 0 1-4 1 4 1 0 1 5 1-10 1 4 1 4 1-1 1 4 1-3 1 2 1-5 1-4 1 7 1 3 1-4 1-3 1 4 1-4 1 0 1-2 1 5 1-2 1-1 1 0 1 1 1 0 1 3 1 2 1-12 1 15 1-6 1 4 1-7 1-3 1 6 1 1 1-4 1 3 1 3 1-3 1-2 1-1 1 6 1 0 1-3 1-6 1 4 1 2 1 0 1 0 1 1 1-3 1 0 1 0 1 2 1-2 1 5 1-3 1-5 1 8 1-9 1 0 1 1 1 3 1 5 1 1 1-6 1 0 1 6 1-1 1-2 1-11 1 10 1-2 1 6 1-4 1-5 1 3 1-1 1 6 1-5 1 3 1-4 1 0 1 6 1-2 1-7 1 1 1 2 1 4 1-3 1 6 1-6 1 3 1-3 1 8 1-8 1-3 1 8 1 1 1-9 1 6 1-1 1-2 1 8 1-8 1-4 1 7 1-1 1-3 1 1 1 3 1 0 1-4 1-2 1 9 1-1 1 0 1 1 1-1 1-2 1 0 1-3 1 0 1 2 1 0 1 3 1-8 1 5 1 1 1-1 1 3 1-5 1 3 1-3 1 2 1 0 1 0 1-3 1 3 1 0 1-2 1 0 1 3 1-7 1 1 1 8 1-5 1 2 1-2 1 0 1 6 1 0 1-4 1 1 1-4 1-2 1 2 1 0 1 1 1 3 1-6 1 0 1 0 1 5 1 0 1-6 1 6 1 1 1 2 1-5 1 5 1-3 1-3 1-3 1 4 1 2 1 0 1 1 1-6 1 8 1-2 1-1 1 7 1-3 1-3 1 2 1-8 1 8 1-2 1-6 1 3 1 3 1 0 1-3 1-4 1 1 1 2 1 0 1 3 1 3 1-3 1-5 1 8 1-10 1 5 1 2 1 4 1-7 1 3 1 1 1 0 1 2 1-3 1 1 1-6 1 6 1 3 1-7 1 6 1-6 1 4 1 0 1 2 1-2 1 3 1-10 1 7 1 2 1 1 1 0 1 5 1-6 1-3 1 0 1-5 1 0 1 5 1 0 1 3 1 0 1-9 1 7 1-4 1 7 1-3 1-7 1 6 1 6 1-3 1-6 1 0 1 1 1 5 1 1 1-3 1-6 1 2 1 7 1 5 1-8 1 3 1-4 1 6 1-9 1 3 1-2 1 0 1-3 1 2 1 3 1 3 1-2 1-4 1 4 1-3 1 3 1-4 1 3 1 3 1-3 1-2 1 0 1 0 1 3 1 2 1-3 1-3 1 1 1-4 1 6 1 6 1-6 1-2 1-1 1 7 1-6 1 5 1-8 1 0 1 8 1 0 1-3 1-2 1 0 1 3 1 3 1-11 1 8 1 3 1-7 1 1 1 0 1 0 1 5 1-3 1 0 1 1 1-3 1 2 1 3 1-3 1-3 1-2 1 3 1 3 1-4 1 1 1-4 1 6 1-7 1 7 1 0 1 1 1-3 1 2 1 1 1 0 1 0 1-1 1 0 1-2 1 6 1-3 1-1 1 1 1 2 1-5 1-1 1 3 1-5 1 6 1 6 1-13 1 9 1-5 1 0 1 3 1 2 1-2 1-1 1 1 1-1 1-2 1 2 1-5 1 3 1-3 1 3 1 8 1-8 1 3 1 0 1-1 1-2 1 3 1-6 1 2 1 1 1 0 1 0 1 0 1 3 1-3 1 0 1 5 1-2 1 0 1 2 1-2 1-1 1 1 1-7 1 0 1 6 1 4 1-1 1-6 1 0 1 0 1 4 1-6 1 6 1 3 1-7 1 3 1 1 1-3 1 0 1 2 1 1 1-4 1 4 1-1 1 0 1 0 1-3 1 3 1 4 1-6 1-1 1 0 1 1 1 0 1 0 1 3 1-6 1 6 1 0 1 3 1-6 1 3 1-3 1 2 1 0 1-3 1 3 1 7 1-6 1-7 1-1 1 14 1-12 1 3 1-3 1 5 1 3 1 0 1 0 1 1 1-1 1-3 1 0 1-2 1 2 1-5 1 6 1 0 1-1 1-5 1 6 1 3 1 5 1-6 1-9 1 6 1-3 1-7 1 13 1-6 1 7 1-6 1 2 1 4 1-9 1 6 1-1 1-2 1 5 1-2 1-1 1 4 1-9 1 9 1-7 1 3 1 1 1-7 1 4 1-1 1 4 1-10 1 9 1 1 1 5 1-5 1 2 1-6 1 4 1-4 1 4 1-3 1-3 1 5 1 4 1-3 1 0 1-1 1-5 1 9 1-7 1 3 1-2 1-3 1 5 1 1 1-6 1 6 1 0 1 2 1-3 1 9 1-9 1 0 1 3 1-5 1 3 1 3 1-6 1 8 1-3 1-2 1-1 1 3 1-9 1 7 1-3 1 0 1 5 1-9 1 9 1-3 1 7 1-10 1-3 1 6 1 3 1-3 1-3 1 3 1-6 1 10 1-4 1-3 1-7 1 10 1 3 1-6 1 3 1-2 1 3 1-1 1 3 1-6 1 10 1-4 1-6 1 1 1 2 1 0 1-6 1 9 1-2 1-1 1-2 1 2 1 0 1 3 1-5 1-1 1 6 1 0 1-2 1 3 1 0 1-7 1-4 1 4 1 3 1 3 1-8 1-1 1 6 1 1 1 3 1 0 1-4 1 0 1-2 1 6 1-9 1 0 1 5 1 4 1-6 1 8 1-2 1-4 1-3 1 3 1 9 1-12 1 3 1-5 1-1 1 4 1 8 1-5 1 6 1-4 1-12 1-1 1 8 1-8 1 3 1-2 1 4 1 0 1-4 1 0 1 2 1 0 1 1 1 0 1 0 1-4 1-2 1 5 1-2 1 3 1-3 1 2 1-2 1 3 1 3 1-4 1 4 1-3 1-9 1 9 1-9 1 10 1 3 1 0 1-8 1 7 1-2 1-5 1 1 1 2 1-5 1 5 1-2 1 3 1 0 1-1 1 1 1 3 1-4 1-2 1 4 1-1 1-4 1 4 1-1 1 1 1-4 1 4 1 1 1-4 1-1 1 5 1-1 1-7 1 8 1 2 1-6 1-4 1 7 1-4 1 3 1-2 1 3 1 6 1-6 1 1 1-1 1-1 1 8 1-11 1-2 1 12 1-13 1 8 1-1 1 4 1-8 1 4 1-3 1-3 1 5 1 1 1-1 1 1 1 3 1-6 1 2 1-3 1-2 1 2 1 11 1-4 1-2 1-2 1 4 1 0 1-2 1-2 1 2 1 3 1 2 1-9 1-3 1 7 1-4 1 2 1 2 1 0 1-2 1 2 1-5 1 5 1 0 1-5 1 1 1 9 1-7 1 5 1-4 1-3 1 0 1 4 1 2 1-3 1 4 1-8 1 0 1 0 1 5 1-4 1 3 1 4 1-3 1 3 1-5 1 1 1 3 1 4 1-11 1 4 1 0 1 1 1-1 1 3 1-3 1-4 1 5 1-2 1 7 1-10 1 3 1-3 1 4 1-3 1-3 1 0 1 10 1-5 1 0 1-2 1 2 1 5 1-10 1 6 1 1 1 0 1 2 1-6 1 4 1 0 1-10 1-3 1 15 1-2 1-4 1 10 1-10 1 3 1-6 1 2 1-2 1-1 1 1 1 13 1-13 1 3 1 9 1-7 1 0 1 2 1-1 1-3 1 2 1-3 1-6 1 6 1 0 1 3 1 4 1-6 1 3 1-3 1 0 1 0 1 3 1 0 1-4 1 1 1 0 1 6 1-4 1 1 1 0 1-1 1 7 1-5 1-5 1 5 1-2 1 1 1 0 1-4 1-2 1 3 1 2 1-2 1 2 1 2 1 2 1-10 1 3 1 3" stroke="#f0d820" stroke-width="0.9" marker-start="url(#m4)" marker-mid="url(#m4)" marker-end="url(#m4)"/><path class="s" transform="translate(596.6 0) scale(0.25 1.0)" vector-effect="non-scaling-stroke" d="M0 209l1-7 1 1 1 0 1 0 1 2 1-2 1 4 1-2 1 0 1 1 1 4 1-7 1 0 1-1 1 4 1-3 1 0 1 0 1-6 1 12 1 0 1-9 1 5 1-3 1 8 1-7 1 4 1 0 1-2 1 2 1 3 1-8 1 5 1 0 1 2 1-6 1 6 1-4 1 4 1-6 1 3 1-3 1 4 1-1 1-3 1 0 1-1 1 4 1-1 1 0 1-3 1 4 1 1 1-2 1-2 1 3 1-1 1 0 1-6 1 7 1 3 1-7 1 3 1-3 1 1 1-1 1 4 1-1 1-2 1-3 1-6 1 3 1 5 1-3 1-3 1 1 1 2 1-2 1-3 1 3 1 8 1-6 1 4 1 0 1-9 1 2 1 4 1-9 1 6 1 2 1 3 1-3 1-5 1 3 1 0 1 3 1-3 1 3 1-3 1 2 1 1 1 2 1-12 1 15 1-5 1-1 1 3 1-6 1 7 1-7 1 6 1 3 1-5 1-3 1 0 1 0 1 5 1-6 1 1 1 0 1 5 1-5 1 2 1-6 1 4 1 2 1-2 1-4 1 6 1 0 1 3 1-5 1-3 1 3 1 2 1 3 1-6 1 0 1 1 1-6 1 8 1 1 1-1 1 0 1-5 1 3 1 3 1-4 1-2 1 8 1-6 1 3 1-3 1 9 1-9 1 4 1-1 1-2 1-3 1 3 1 2 1-2 1 6 1-6 1 2 1 1 1-1 1 1 1-1 1-6 1 6 1 0 1 0 1-2 1 5 1-8 1 8 1-6 1 3 1 0 1-5 1 8 1-2 1-3 1 5 1-2 1-1 1 1 1-1 1-6 1 9 1-8 1 8 1-8 1 2 1 1 1 0 1 3 1-6 1 2 1 3 1-3 1 1 1-1 1 1 1 3 1-3 1 0 1 3 1-6 1 6 1 0 1 3 1-9 1 6 1-6 1 6 1 0 1 2 1-5 1 0 1 0 1-3 1 5 1 7 1-6 1 3 1-6 1-7 1 9 1 0 1 0 1 0 1 6 1-8 1-1 1 1 1 3 1-4 1 0 1 1 1-1 1-3 1 4 1 2 1 0 1 7 1-10 1 7 1-7 1-2 1 0 1 6 1-3 1 3 1-6 1 5 1 1 1 3 1-6 1 2 1-3 1-3 1 1 1 0 1 0 1 8 1-6 1 1 1-4 1 12 1-12 1 9 1-5 1-3 1 11 1-6 1 3 1-2 1-3 1 0 1 3 1-1 1 0 1-8 1 9 1-4 1-2 1 8 1-6 1-5 1 5 1 3 1 0 1 4 1-6 1 2 1 0 1 1 1-4 1 4 1 2 1-11 1 8 1 1 1 3 1-1 1-3 1-8 1 8 1 3 1 4 1-6 1-4 1 0 1 7 1-9 1 2 1 1 1 0 1-1 1 4 1-6 1 0 1 6 1-6 1-1 1 9 1-5 1-3 1 3 1 0 1 2 1 3 1-2 1-6 1 2 1 6 1-2 1-1 1-2 1 2 1 3 1-6 1 9 1-9 1 3 1 3 1-5 1 0 1 0 1-1 1 4 1 0 1-4 1 4 1 3 1-3 1-3 1-4 1 4 1-4 1 9 1-8 1 6 1-3 1 2 1-2 1 3 1 0 1-1 1 1 1 0 1-3 1 2 1-3 1 1 1 0 1 5 1-6 1 7 1-6 1 9 1-7 1-2 1 0 1 2 1-2 1 3 1-7 1 1 1 5 1 0 1 3 1 0 1-3 1-2 1 5 1-3 1 0 1 0 1-2 1 10 1-13 1 6 1-1 1-3 1 3 1-5 1 2 1 0 1 3 1-8 1 6 1-4 1 7 1-1 1 0 1 6 1-3 1-2 1-7 1 3 1 3 1 0 1-2 1-1 1 3 1-2 1 2 1-3 1 6 1-5 1 2 1 0 1-5 1 6 1-7 1 1 1-1 1 4 1 2 1-2 1 5 1-5 1-4 1 4 1 2 1-2 1-1 1 3 1-2 1-3 1 9 1-7 1-2 1 2 1 1 1 8 1-6 1 1 1 5 1-8 1-1 1 4 1-9 1 5 1-2 1 3 1 2 1-5 1 8 1 3 1-5 1-4 1 7 1-7 1-2 1 6 1 0 1-4 1-3 1 13 1-12 1 6 1-1 1 11 1-17 1-3 1 4 1 2 1 6 1-2 1 2 1-3 1 0 1-3 1 4 1-6 1 0 1 0 1 3 1-4 1 7 1-4 1-3 1 0 1 3 1-2 1 2 1 1 1 5 1-5 1-1 1 4 1 2 1-5 1 3 1-1 1-2 1 0 1-1 1 3 1-6 1 0 1 7 1 2 1-3 1 1 1 0 1 0 1-9 1 3 1 6 1-1 1 3 1-5 1 0 1 0 1 2 1 1 1-7 1 6 1 1 1-4 1 0 1 4 1-3 1-1 1 6 1-6 1 4 1-4 1 3 1 3 1-8 1-5 1 8 1 0 1-3 1 2 1-3 1 7 1 3 1-7 1 6 1-2 1-4 1-2 1 2 1 1 1 9 1-4 1-8 1 3 1 2 1 0 1 3 1-8 1 2 1 0 1 0 1 1 1-1 1 4 1-3 1 3 1 0 1 0 1 0 1 0 1 0 1-7 1 6 1 0 1-5 1 6 1 5 1-5 1 3 1-3 1 3 1-6 1-1 1 6 1-6 1-2 1 3 1-6 1 6 1 2 1-5 1 5 1 0 1 0 1-6 1 7 1-3 1-4 1 1 1 6 1-6 1 6 1 0 1-6 1 2 1 4 1-4 1 0 1 1 1 0 1 2 1 1 1 0 1 2 1-9 1 3 1 4 1-6 1 5 1-3 1-3 1 9 1-6 1 1 1-3 1 9 1-6 1 2 1 3 1 0 1-12 1 15 1-9 1-3 1 4 1 2 1-5 1 2 1 1 1 2 1-3 1 1 1 3 1-1 1 1 1-4 1 3 1-3 1 1 1-1 1 0 1 3 1 0 1 0 1 0 1-2 1 3 1 2 1-11 1 2 1 7 1-3 1 3 1-3 1 3 1-1 1-5 1 8 1-8 1 5 1-2 1 0 1-3 1 5 1-8 1 6 1-1 1 7 1-7 1 1 1 6 1-12 1 8 1 0 1-2 1 0 1 2 1 0 1 3 1 0 1-5 1 3 1-6 1 5 1-6 1 6 1-3 1-2 1 0 1 3 1-4 1 4 1 6 1-1 1-6 1-2 1 8 1-2 1-4 1 3 1 0 1 0 1 0 1-5 1-5 1 4 1 1 1-1 1 0 1-6 1 7 1-1 1-3 1 3 1-3 1 7 1-1 1-5 1 2 1 1 1-3 1 5 1-3 1 1 1 0 1-1 1-2 1 3 1 2 1-2 1-1 1 0 1 0 1-2 1 3 1 2 1-7 1 5 1-3 1 5 1 0 1-2 1-3 1 0 1 6 1-3 1-3 1 6 1-3 1 0 1 2 1 0 1 1 1-6 1 3 1 2 1-9 1 10 1-1 1-3 1 1 1 2 1-6 1 4 1 0 1-1 1 1 1-3 1-1 1 3 1-3 1 6 1-3 1-4 1 4 1 3 1-3 1 0 1 0 1-3 1 9 1-8 1 0 1 3 1 0 1 2 1-2 1-3 1 2 1 0 1-2 1 0 1 5 1-5 1 2 1-2 1 3 1 2 1 0 1-3 1 3 1-6 1 3 1-2 1 5 1-2 1-3 1 5 1 0 1-5 1 3 1-3 1 0 1 3 1-1 1 4 1-3 1-3 1 3 1-3 1 3 1 3 1-7 1 3 1-2 1 3 1-4 1 1 1 6 1-1 1-3 1-2 1 5 1-3 1 4 1-6 1 3 1-5 1 4 1-2 1 3 1 0 1-5 1 7 1-3 1 1 1 2 1-6 1-1 1 5 1 0 1-4 1 3 1 0 1 1 1-3 1 2 1-3 1 6 1-5 1 2 1-2 1 5 1-3 1 1 1 6 1-7 1 3 1 1 1-3 1-1 1 0 1 3 1-5 1 3 1-3 1 3 1 0 1-3 1 9 1-6 1-4 1 4 1 2 1-6 1 3 1-2 1 5 1 0 1-5 1 0 1 3 1 2 1-6 1 4 1 2 1-5 1 2 1 3 1-3 1-2 1 3 1-3 1 2 1-2 1 2 1 3 1-3 1 0 1 4 1-6 1 3 1-3 1 5 1-2 1 0 1-3 1 5 1-6 1 4 1 0 1-1 1 0 1-2 1 2 1 1 1-1 1-2 1 9 1-7 1 0 1 0 1-2 1 5 1-3 1 1 1 2 1-3 1 0 1 1 1-1 1 3 1 3 1-5 1 2" stroke="#4b66b4" stroke-width="0.9" marker-start="url(#m5)" marker-mid="url(#m5)" marker-end="url(#m5)"/><path class="s" transform="translate(596.6 0) scale(0.25 1.0)" vector-effect="non-scaling-stroke" d="M0 197l1-4 1-3 1 16 1-15 1-21 1 7 1 7 1 9 1-16 1 13 1 1 1 12 1-3 1-9 1 9 1 0 1 0 1-11 1-17 1 21 1 4 1-6 1-2 1-2 1 3 1-15 1 12 1-6 1 6 1-13 1 22 1-2 1-17 1-3 1 15 1-2 1 4 1-5 1 3 1-2 1 9 1 0 1-15 1-4 1 6 1 1 1 7 1 12 1-9 1-3 1 5 1-22 1 9 1 10 1-2 1 0 1-2 1-2 1-4 1 3 1 3 1 1 1-7 1 4 1 2 1 8 1-8 1 5 1-16" stroke="#b0b0b0" stroke-width="1.8" marker-start="url(#m6)" marker-mid="url(#m6)" marker-end="url(#m6)"/><path class="s" transform="translate(596.6 0) scale(0.25 1.0)" vector-effect="non-scaling-stroke" d="M70 181l1 3 1 2 1-2 1 0 1-1 1 4 1-1 1-9 1 10 1-1 1-5 1 9 1 0 1-1 1 2 1 0 1-10 1 5 1 3 1 1 1-7 1 1 1-4 1-2 1 6 1-6 1 3 1-9 1 8 1 22 1-30 1 12 1-6 1 3 1 8 1-11 1-1 1 22 1-13 1-2 1 2 1-5 1 15 1-22 1 3 1 13 1-12 1 13 1-8 1-6 1 16 1-16 1 1 1 3 1 13 1-5 1-17 1 17 1 1 1-3 1 0 1-6 1 5 1-5 1-1 1 7 1 3 1 0 1-12 1-6 1 14 1-3 1-6 1 10 1-1 1 4 1-3 1 2 1-5 1-1 1 7 1-6 1 2 1 1 1-6 1 5 1 4 1-4 1 1 1 2 1 4 1-13 1 4 1-3 1 0 1 9 1-3 1-3 1 2 1-6 1-2 1 5 1 8 1 0 1-7 1 0 1 12 1-3 1 0 1-15 1 12 1 4 1-13 1 2 1 4 1 0 1-4 1-12 1 12 1 0 1 4 1 4 1-1 1-1 1-8 1-4 1 9 1-5 1-1 1 1 1 9 1-10 1 3 1 1 1-6 1 9 1 2 1-11 1 3 1 2 1 10 1-4 1 0 1-3 1 0 1-5 1 9 1-9 1-6 1 11 1-14 1 14 1-2 1 0 1 0 1-1 1-11 1 18 1-6 1 9 1-13 1-3 1 3 1 19 1-19 1-3 1 3 1 0 1-2 1 3 1 5 1-11 1 15 1 1 1-10 1 8 1-5 1-7 1 14 1-2 1 4 1-9 1 2 1 1 1-3 1 0 1 2 1-2 1 2 1 3 1-9 1-2 1-3 1 8 1 7 1-10 1-6 1 4 1 2 1-9 1 1 1 5 1 1 1 9 1-3 1 6 1-6 1-7 1 7 1-12 1 12 1-9 1 2 1 9 1 0 1-3 1-11 1 6 1 11 1-6 1 10 1-10 1 17 1-14 1 5 1-16 1 18 1-9 1-7 1 6 1 0 1 0 1 1 1-12 1-1 1 6 1 4 1 3 1-1 1 0 1 1 1-4 1 14 1-8 1 4 1-6 1 2 1-3 1 6 1 0 1-14 1 22 1-19 1 8 1 1 1 4 1-13 1-4 1-3 1 12 1 0 1 1 1 7 1-11 1-2 1 2 1 7 1-10 1 6 1 7 1-10 1 7 1-13 1 19 1 1 1-16 1 9 1-6 1 2 1-2 1-4 1 13 1-6 1 7 1-1 1 1 1 3 1-10 1 5 1 2 1 2 1-15 1 8 1-14 1 14 1 1 1 2 1-12 1 7 1-4 1 4 1-4 1 3 1-3 1-2 1 3 1 0 1 12 1-10 1 1 1 7 1-7 1 3 1 2 1 0 1-5 1 9 1-7 1-6 1 10 1-15 1 16 1-5 1 5 1-8 1 1 1-13 1 10 1 6 1-1 1-5 1 2 1 0 1 1 1-6 1 9 1-7 1 1 1 9 1 0 1 3 1-15 1 0 1 9 1-10 1 3 1 9 1-6 1 6 1-6 1-6 1 0 1 1 1 3 1 6 1-7 1 7 1-3 1 3 1 0 1 2 1-12 1 3 1-5 1 14 1-15 1 7 1 3 1-7 1 6 1 0 1 3 1-5 1-3 1-3 1 14 1-12 1 9 1 1 1-6 1 2 1 1 1-1 1 0 1 7 1-3 1 3 1-3 1-3 1-4 1 11 1-20 1 13 1-7 1 1 1 3 1 0 1 6 1-6 1 13 1-7 1 2 1-12 1 9 1 0 1-2 1-4 1-2 1 5 1 8 1-1 1-1 1-9 1-2 1 11 1-3 1-8 1 8 1-5 1 2 1 1 1-3 1 5 1-2 1 3 1-4 1-8 1 6 1 10 1-7 1-13 1 13 1-7 1 7 1 6 1-12 1 0 1 5 1 1 1-1 1-5 1 8 1 3 1-5 1-6 1 6 1-1 1 1 1-4 1 4 1 0 1 2 1 11 1-7 1 4 1-17 1 6 1-2 1 13 1-5 1-14 1 2 1 9 1 7 1-4 1 1 1-7 1 8 1-11 1 0 1 0 1-5 1 14 1-15 1 17 1-14 1 3 1 6 1-9 1 7 1-1 1-8 1 12 1-10 1 17 1-14 1 6 1 4 1-6 1-9 1 11 1-12 1 15 1-5 1 0 1 0 1 3 1-13 1-2 1 11 1-3 1 10 1-1 1 1 1-4 1-2 1-4 1-2 1 5 1 0 1 11 1-3 1 0 1-10 1 13 1-19 1 19 1-8 1-5 1 6 1 2 1-12 1-7 1 13 1 4 1 7 1-7 1-7 1 6 1 1 1 6 1-15 1-1 1 12 1-9 1-3 1 12 1-3 1-5 1 3 1-4 1 3 1 3 1-9 1 9 1-8 1 0 1 0 1 6 1-3 1 2 1 8 1-8 1 6 1 8 1-1 1-10 1 7 1-3 1-3 1-13 1 19 1-7 1-6 1 10 1 0 1-12 1 12 1-1 1-9 1-2 1 0 1 2 1 13 1-7 1 3 1-12 1 12 1 5 1-5 1-14 1 9 1-4 1 7 1 0 1-6 1-10 1 7 1 0 1-3 1 8 1 4 1-10 1 12 1-2 1 2 1-3 1 11 1-16 1 6 1-10 1 4 1 0 1-4 1 0 1 19 1-15 1-9 1 14 1-2 1-9 1 3 1 6 1 5 1-12 1 9 1-2 1-1 1 8 1-14 1 9 1-3 1 1 1-12 1 9 1 8 1-2 1-6 1 5 1 1 1-3 1 6 1 3 1 0 1-16 1 16 1-13 1 7 1-9 1 15 1-10 1-5 1-3 1 6 1 2 1-6 1 7 1-1 1 1 1-17 1 16 1-2 1-3 1 12 1-1 1-6 1-12 1 6 1 7 1-3 1 8 1-8 1 3 1 5 1-8 1-1 1-8 1 5 1 0 1-10 1 10 1 1 1-6 1 5 1 1 1-3 1 9 1-13 1 3 1 3 1 13 1-23 1 14 1 13 1-17 1 1 1-3 1 0 1-1 1-2 1 2 1-2 1 12 1-3 1-7 1-7 1 11 1 2 1-12 1 10 1-4 1 1 1 6 1 5 1-22 1 6 1 4 1-3 1-1 1 11 1-1 1 3 1-2 1-6 1-7 1 16 1-1 1-8 1 6 1 2 1-22 1 26 1-22 1 0 1 9 1 3 1 0 1 3 1-3 1-9 1-1 1 10 1 3 1-9 1-1 1 14 1 6 1-13 1-2 1-7 1 7 1 5 1-8 1-2 1 2 1-4 1 3 1-3 1 4 1 0 1 2 1-9 1 6 1 13 1-10 1 15 1-5 1-10 1-3 1 13 1-20 1 14 1-4 1 9 1 7 1-22 1 15 1 0 1-6 1 4 1-9 1 8 1 0 1-2 1-17 1 17 1-8 1 11 1-3 1-6 1-1 1 1 1 3 1 6 1 6 1-13 1-2 1 2 1-18 1 12 1-13 1 16 1 15 1-12 1 4 1-10 1 10 1 0 1 3 1-17 1 17 1-3 1-3 1-4 1-3 1 6 1 12 1-3 1-11 1 8 1-5 1 2 1-10 1 7 1 0 1 1 1-3 1 0 1-4 1 3 1 7 1 3 1-3 1-13 1 18 1-12 1 6 1-7 1-2 1 6 1 7 1-7 1-3 1 18 1-15 1 7 1-17 1 11 1 3 1 0 1-6 1 3 1 0 1-7 1 19 1-6 1 3 1-3 1-10 1-9 1 9 1-7 1 11 1-3 1-1 1 3 1 3 1-2 1 9 1-1 1-2 1-6 1 2 1 10 1-15 1 0 1 8 1 0 1 6 1 0 1-2 1 13 1-14 1-15 1 9 1-5 1-5 1 3 1 2 1 2 1-6 1 6 1 3 1 4 1-16 1 21 1-12 1 1 1-4 1 4 1 2 1-7 1 7 1 1 1-1 1 4 1-10 1-7 1 14 1-4 1 10 1-16 1 13 1-4 1 6 1-3" stroke="#222" stroke-width="0.9" marker-start="url(#m2)" marker-mid="url(#m2)" marker-end="url(#m2)"/><path class="s" transform="translate(596.6 0) scale(0.25 1.0)" vector-effect="non-scaling-stroke" d="M0 191l1-4 1 3 1 6 1-7 1 11 1-7 1 14 1-23 1 6 1 1 1-4 1 3 1 6 1-2 1 11 1-9 1-12 1 26 1-20 1 6 1-5 1 6 1-13 1 6 1 1 1 2 1-4 1 4 1 6 1-19 1 6 1 11 1-6 1-8 1 1 1 10 1 3 1-8 1 7 1-9 1 9 1-3 1-6 1 4 1 9 1-16 1 19 1 7 1-7 1-7 1-6 1-6 1 16 1-16 1 15 1-19 1 9 1 13 1-12 1-13 1 14 1 9 1 10 1-13 1 0 1-14 1 16 1-6 1 19 1-31 1-3 1 8 1-24 1 9 1 4 1 12 1-7 1-6 1 6 1 14 1-11 1-3 1 11 1-14 1 3 1 10 1-9 1 12 1-19 1 10 1-4 1-2 1 9 1-1 1-6 1-6 1 6 1 0 1-5 1 15 1-6 1 6 1-9 1 9 1-7 1 6 1-9 1 0 1 0 1 1 1 5 1-2 1 3 1 2 1 2 1-1 1 0 1-9 1 3 1 2 1-11 1 2 1 9 1-8 1 0 1 5 1-5 1 6 1-7 1 13 1-9 1-3 1 5 1-3 1 17 1-8 1-8 1-1 1 16 1-5 1-16 1 14 1-2 1-10 1 0 1 13 1-13 1-2 1-5 1 13 1-5 1 3 1 3 1-1 1-2 1-3 1-4 1 15 1 1 1 1 1-7 1 15 1-12 1-20 1 10 1 6 1 7 1-12 1 11 1-3 1 3 1-5 1-9 1 5 1 10 1-13 1 10 1 0 1-6 1 8 1-11 1 5 1 0 1 1 1-13 1 13 1 2 1-11 1-3 1 17 1-12 1 9 1 4 1-12 1 0 1 5 1 1 1 3 1-4 1 4 1-6 1-7 1 1 1 6 1 5 1-2 1-7 1 1 1 11 1 5 1-8 1-6 1-9 1 12 1 3 1-5 1 3 1 0 1-13 1 23 1-13 1 9 1-7 1 3 1-19 1 17 1-13 1 10 1 3 1-7 1 9 1-5 1 5 1-2 1 6 1-12 1-8 1 10 1 6 1-6 1 3 1 4 1-6 1 6 1-1 1-14 1 5 1 10 1-7 1 1 1-4 1-3 1 9 1-5 1-3 1-3 1 8 1-3 1 0 1 10 1 4 1-20 1 0 1 6 1-6 1 6 1 4 1 0 1 3 1 6 1-15 1 11 1 3 1-6 1-9 1 6 1 0 1-3 1-5 1 2 1 9 1-11 1 11 1 1 1-9 1-3 1 6 1-6 1 17 1-11 1-3 1 2 1 3 1 4 1-3 1 9 1-13 1 10 1 0 1-13 1 10 1 7 1 11 1-13 1-3 1 1 1-13 1 7 1 3 1-10 1 9 1-11 1 6 1 9 1 0 1-12 1 9 1-4 1 6 1-5 1 0 1 0 1 2 1 1 1 0 1 0 1-6 1 2 1 9 1-12 1 14 1-2 1-3 1-12 1 13 1-6 1-3 1 12 1-9 1-4 1-2 1 14 1-5 1-1 1 3 1 3 1-15 1 1 1 2 1 13 1 3 1-19 1 12 1 5 1 2 1-13 1 9 1-11 1 2 1 0 1 10 1-4 1 1 1-6 1-7 1 6 1 10 1-12 1 6 1-3 1-3 1 3 1-7 1 1 1 6 1 3 1-1 1-5 1 5 1-5 1 6 1-7 1 9 1-2 1-7 1 4 1-1 1 6 1 0 1-3 1-6 1 4 1-4 1 6 1-11 1 6 1 6 1-4 1 1 1 8 1-14 1 14 1-15 1 9 1-2 1-7 1 3 1-13 1 13 1 9 1-6 1-6 1 7 1 8 1 0 1-9 1 3 1-2 1-6 1 11 1 0 1 1 1-9 1 3 1-6 1 5 1-9 1 12 1 0 1-3 1 0 1-2 1 6 1-1 1 1 1-10 1 4 1-6 1 9 1-6 1 6 1 0 1-1 1-8 1 12 1-1 1-9 1 17 1-10 1-3 1 3 1 2 1-6 1 1 1 9 1-9 1-6 1 9 1 6 1-3 1-6 1 0 1-1 1 10 1-7 1 0 1-2 1 0 1 18 1-10 1-6 1-3 1-6 1 13 1 2 1-9 1 7 1-3 1-3 1-6 1 17 1-12 1-6 1 6 1 3 1 7 1-13 1 6 1-2 1 6 1-3 1-4 1 0 1 3 1 0 1 4 1 3 1-6 1-3 1 0 1 0 1 12 1-3 1 3 1-4 1-3 1 0 1-2 1 0 1 3 1 2 1 4 1-7 1 0 1-9 1 16 1-10 1-6 1 12 1 7 1-7 1-6 1 4 1 3 1 0 1-6 1 10 1-11 1-5 1 9 1 2 1 1 1 10 1-16 1 9 1-6 1 0 1-10 1 7 1 12 1-21 1 18 1-13 1 4 1 2 1-9 1 17 1 2 1-4 1-8 1 9 1-1 1 4 1-4 1-5 1-3 1-3 1 12 1-15 1 3 1 5 1-2 1-6 1 9 1-1 1 11 1-20 1-2 1 8 1-5 1 11 1-9 1 6 1 0 1-13 1 11 1 3 1-16 1 3 1 1 1 8 1 3 1 1 1-1 1-2 1 5 1-15 1-6 1 9 1-4 1 1 1-7 1 22 1 0 1-11 1 6 1 3 1 2 1-9 1-2 1-3 1 8 1 6 1-6 1 0 1 9 1-6 1 1 1 5 1-11 1-3 1 15 1-7 1-9 1 3 1 13 1-7 1 4 1-13 1-2 1 14 1 4 1-13 1 10 1 0 1-9 1 0 1 2 1 6 1 1 1-6 1 0 1 0 1-1 1-8 1 0 1 8 1 1 1 2 1 3 1-6 1-3 1-2 1 5 1 9 1-8 1 5 1-12 1 3 1 6 1-9 1 7 1 5 1 1 1-1 1-12 1 4 1 5 1 0 1 1 1-12 1 9 1 5 1-6 1 0 1-8 1 17 1-6 1 1 1-6 1 2 1 1 1-3 1 9 1-4 1-8 1 3 1-8 1 14 1 0 1 0 1 2 1-11 1 15 1-9 1-7 1 16 1-15 1 15 1 1 1-16 1 3 1-1 1 1 1 0 1-3 1-3 1 12 1-1 1 0 1-6 1 4 1 3 1 2 1-8 1-1 1-2 1 16 1-20 1 19 1-9 1 8 1-11 1-8 1 4 1 6 1-2 1-3 1 5 1 0 1-2 1-6 1 9 1 0 1-4 1-2 1 6 1 0 1-4 1 9 1-3 1-15 1 18 1 3 1-17 1 6 1-17 1 6 1-8 1 11 1 14 1-17 1-6 1 4 1 3 1 2 1-15 1 10 1 6 1-4 1 0 1 1 1 4 1-7 1 3 1 0 1-3 1 6 1-7 1 6 1 1 1-9 1 16 1-8 1 11 1-11 1 16 1-24 1 6 1 3 1 4 1-5 1-5 1 3 1-1 1 10 1-13 1 8 1-8 1 13 1-12 1 2 1 8 1 0 1 8 1 1 1-12 1-7 1-1 1 7 1-7 1 8 1-7 1 9 1-3 1 0 1 0 1-4 1-6 1-9 1 18 1-3 1-9 1 3 1 6 1 0 1-8 1 18 1-19 1 14 1-13 1 8 1 0 1 8 1-16 1 2 1 4 1 0 1 7 1 3 1-7 1-4 1 1 1 2 1-8 1 11 1-8 1 10 1 11 1-3 1-6 1 4 1-23 1 16 1-9 1 5 1-8 1 0 1 13 1-10 1 9 1-7 1 7 1-9 1 2 1-6 1 12 1 0 1-5 1 6 1-17 1 14 1 4 1 3 1-4 1 0 1 0 1 4 1-7 1-10 1 1 1 12 1-4 1 5 1-1 1 6 1-9 1-4 1 16 1-22 1 22 1-16 1-5 1 11 1-3 1-5 1 5 1-2 1 6 1 0 1 1 1-13 1 15 1-2 1 0 1-7 1-3 1 3 1 7 1-13 1 12 1-7 1 10 1-10 1 10 1-6 1 2 1-5 1 5 1 0 1 10 1-22 1 7 1 19 1-13 1 1 1-5 1 7 1-6 1 0 1-4 1 3 1 8 1-4 1-1 1 1 1-1 1-3 1 4 1 6 1-9 1 4 1-10 1 12 1-6 1-1 1-8 1 5 1 6 1 2 1 0 1 0 1-7 1 7 1-4 1 7 1 6 1-6 1-7 1 6 1-4 1 8 1-8 1-9 1 9 1 2 1-5 1 11 1-11 1-6 1 14 1-1 1-3 1-12 1 5 1 17 1-23 1 13 1-6 1 7 1-7 1-3 1 6 1-7 1 7 1 6 1 1 1-8 1 8 1-13 1 12 1-6 1-3 1 6 1-1 1 8" stroke="#555555" stroke-width="0.9" marker-start="url(#m2)" marker-mid="url(#m2)" marker-end="url(#m2)"/><path class="s" transform="translate(596.6 0) scale(0.25 1.0)" vector-effect="non-scaling-stroke" d="M0 151l1-15 1 19 1-3 1-38 1 31 1-21 1 3 1-6 1 15 1-3 1 4 1-8 1 3 1 19 1-15 1-6 1-3 1 13 1-14 1 4 1-6 1 16 1-7 1-15 1 25 1-6 1 3 1-5 1 4 1 1 1-19 1 12 1 7 1-17 1 10 1-10 1 17 1 5 1-8 1-8 1 3 1 1 1-4 1 17 1-3 1 2 1-15 1 10 1-5 1 19 1-19 1-14 1 21 1 3 1-5 1 5 1-9 1 7 1-19 1 21 1-16 1 25 1-12 1-7 1 14 1-13 1 3 1-2 1-10 1-22 1-24 1 19 1-9 1 0 1 13 1 7 1 5 1 14 1-12 1-8 1 0 1-16 1 29 1-25 1 45 1-29 1-3 1-1 1-3 1-25 1 22 1-9 1 6 1 63 1-70 1-6 1 9 1 19 1-3 1-12 1 6 1 10 1-35 1 3 1 16 1 3 1-10 1 3 1 16 1 3 1-18 1 18 1-34 1 74 1 2 1-22 1-39 1 29 1 1 1-30 1 4 1 28 1-16 1 5 1-16 1-10 1 9 1 26 1-11 1-16 1 18 1-42 1 26 1-2 1-12 1 25 1-8 1-16 1-1 1 23 1-13 1 9 1-3 1-9 1 6 1 6 1-12 1 2 1 13 1-29 1 73 1 2 1-51 1 3 1-3 1-11 1-3 1 16 1 6 1-21 1 5 1 5 1-26 1 61 1-36 1-12 1 6 1-3 1 32 1-16 1-8 1 4 1-6 1-1 1-12 1-3 1 7 1 0 1-1 1-5 1 19 1-4 1-6 1 5 1-6 1 26 1-19 1 31 1 36 1-49 1 5 1-33 1-3 1 15 1-14 1 11 1 1 1 13 1-23 1 19 1-26 1 5 1 18 1-6 1 2 1 0 1-5 1 19 1-17 1 68 1-55 1-9 1 0 1-1 1-15 1 29 1-10 1-10 1 11 1-4 1-9 1-10 1 18 1-12 1 9 1-9 1 13 1 16 1-22 1-7 1 35 1-22 1 3 1-9 1-13 1 10 1-7 1 38 1-6 1-36 1 30 1-22 1 3 1 13 1-3 1-13 1 15 1-4 1 0 1 4 1 0 1-26 1 42 1-2 1 3 1-16 1-5 1 7 1 44 1-47 1-26 1 58 1-35 1 15 1-14 1-7 1 9 1 6 1 49 1-64 1 7 1 12 1 15 1-21 1-6 1 11 1 42 1-57 1-3 1 6 1 41 1-38 1 14 1-10 1-4 1 7 1-7 1 9 1-18 1-7 1 25 1-18 1-1 1 0 1 6 1 1 1 35 1 3 1-53 1 12 1 16 1-10 1-12 1 12 1 58 1-49 1-2 1-3 1-17 1-13 1 26 1 4 1-8 1 30 1-20 1-3 1-5 1-5 1-3 1 26 1-10 1 16 1-31 1-4 1 19 1-13 1-8 1 21 1 14 1-22 1 14 1-18 1 10 1 3 1-3 1-30 1 93 1-71 1 10 1 3 1-11 1-17 1 36 1-16 1 3 1-8 1 10 1 1 1 5 1 11 1-4 1-22 1 55 1-54 1-17 1 13 1 2 1-17 1 14 1 16 1-15 1 74 1-51 1-32 1 3 1 79 1-69 1 0 1 28 1-45 1 70 1-47 1-17 1 10 1-7 1-3 1 41 1-35 1 4 1-19 1 48 1-32 1-7 1 45 1-23 1 0 1-9 1-6 1 50 1 3 1-44 1 13 1 47 1-70 1 0 1 20 1-23 1 17 1-9 1 14 1-8 1 3 1 7 1-32 1 11 1 38 1-28 1 19 1-34 1 18 1-12 1 22 1-13 1-21 1 19 1 5 1 13 1-3 1-35 1 28 1 5 1-18 1-9 1 1 1 80 1-68 1 55 1-61 1 3 1-12 1 22 1-20 1 11 1-14 1 16 1-4 1-3 1 68 1-38 1 2 1-31 1 0 1 3 1 4 1 2 1-15 1 22 1-22 1 15 1-10 1 43 1-23 1-20 1 17 1-12 1 0 1 15 1-13 1-3 1 23 1-13 1-4 1-6 1 38 1-35 1-10 1 0 1 14 1 3 1-14 1 14 1-7 1-3 1 16 1-16 1 6 1-24 1 25 1 62 1-38 1-6 1-26 1-6 1 17 1-6 1-11 1 16 1-15 1 12 1-5 1-14 1 17 1 49 1 14 1-57 1-4 1-16 1 25 1 10 1-31 1 12 1 13 1-6 1-12 1 0 1 16 1-11 1-12 1 2 1-5 1 0 1 18 1 6 1-15 1 15 1 20 1-58 1 17 1-3 1 47 1-53 1 24 1 4 1-4 1 10 1-23 1 0 1-5 1 62 1-53 1 19 1-12 1 28 1-36 1 36 1-32 1 12 1-14 1 54 1-62 1 1 1 35 1-25 1 3 1-20 1 7 1 5 1 5 1-1 1 22 1-24 1-11 1 44 1-28 1 41 1-34 1 2 1-8 1-1 1 3 1-15 1 54 1-51 1 9 1 0 1-3 1-13 1 9 1 5 1-3 1 11 1-19 1 33 1-30 1 16 1-3 1-8 1 15 1-19 1-3 1-12 1 40 1 12 1-21 1-4 1 42 1-48 1 48 1-45 1-9 1 12 1-22 1 0 1 20 1 3 1-11 1 30 1-22 1 2 1 29 1 25 1-51 1-12 1 26 1-19 1-25 1 31 1 4 1-14 1-12 1 0 1 31 1-9 1 44 1-48 1 20 1-44 1 19 1-4 1-4 1 4 1 70 1-86 1-2 1 11 1 14 1-11 1 20 1-4 1-6 1-10 1 0 1 30 1-22 1-4 1-16 1-6 1 12 1 39 1-28 1 12 1-17 1-2 1 12 1-6 1-6 1 2 1-8 1 44 1-44 1 13 1 6 1-14 1 58 1-51 1-4 1-6 1-6 1 16 1-7 1 6 1-9 1 33 1-32 1 9 1 9 1 0 1 49 1-80 1 23 1 52 1-40 1 2 1-19 1 8 1 27 1-31 1 1 1 62 1-48 1-8 1-16 1 2 1 8 1-4 1 2 1-8 1 24 1-15 1 70 1-71 1 5 1-5 1-12 1 19 1-3 1 16 1-32 1-6 1 16 1-7 1-2 1 34 1-13 1-19 1 20 1 35 1-55 1 7 1-7 1 10 1 10 1-22 1 25 1-6 1-7 1 44 1-31 1-17 1 1 1 3 1-15 1 28 1-16 1-1 1 14 1-9 1 11 1-19 1 17 1 9 1-16 1 50 1-53 1-6 1 0 1 10 1-20 1 22 1-16 1-5 1 3 1 3 1-10 1 6 1 3 1 6 1 5 1-4 1 12 1-32 1 14 1-10 1 12 1 1 1-20 1 49 1-39 1 4 1 11 1-9 1 1 1-3 1 18 1-32 1 22 1 7 1-15 1 12 1-4 1 8 1 2 1-32 1 3 1-8 1 34 1-26 1 5 1 30 1-31 1 9 1-9 1 26 1-19 1 40 1 16 1-40 1-10 1-17 1 19 1-8 1 9 1-16 1 19 1 47 1-63 1 9 1-13 1 13 1 7 1-4 1 3 1-6 1-6 1-3 1 10 1 31 1-34 1 8 1-9 1 13 1-15 1 18 1-9 1 12 1-10 1-8 1 12 1 3 1-3 1 4 1-22 1-1 1 7 1-6 1 15 1-4 1-6 1 13 1 0 1-12 1-1 1 9 1 62 1-57 1-4 1-12 1 11 1-2 1-15 1 84 1-67 1-8 1 8 1-12 1 7 1-7 1 12 1-3 1 1 1-7 1-2 1 67 1-74 1 9 1 9 1-9 1 6 1-2 1 13 1-6 1-14 1 0 1 42 1-33 1 11 1-8 1 8 1-16 1 24 1-30 1 65 1-57 1 6 1-8 1-6 1-8 1 24 1 19 1-33 1 7 1-4 1-6 1 17 1-16 1 15 1 12 1-22 1 0 1 42 1-28 1 3 1-8 1 5 1-16 1 11 1 7 1 0 1-12 1-7 1 10 1-12 1 11 1-22 1 13 1-10 1 5 1 8 1 7 1-7 1 6 1 5 1-7 1-1 1 4 1-6 1-7 1 9 1-13 1 11 1 2 1-8 1 9 1-9 1-5 1 27 1-25 1 79 1-70 1 0 1-16 1 16 1 28 1-18 1-4 1 0 1-7 1 4 1-12 1 41 1-17 1-15 1-1 1 0 1-8 1 15 1 16 1-36 1 14 1-7 1 4 1 3 1-6 1 11 1-16 1 20 1-12 1-1 1-5 1-8 1 23 1 3 1-13 1 6 1-3 1 48 1-57 1 1 1 8 1 3 1 43 1-51 1 3 1 2 1-19 1 35" stroke="#f58a50" stroke-width="1.0" marker-start="url(#m7)" marker-mid="url(#m7)" marker-end="url(#m7)"/></g><path d="M596.3 49.9V225.0" stroke="#c4c4c4" stroke-width="1" fill="none"/><text class="tk" x="592" y="228.6">0</text><text class="tk" x="592" y="199.4">20</text><text class="tk" x="592" y="170.2">40</text><text class="tk" x="592" y="141">60</text><text class="tk" x="592" y="111.9">80</text><text class="tk" x="592" y="82.7">100</text><text class="tk" x="592" y="53.5">120</text><path d="M595.8 225h6M595.8 195.8h6M595.8 166.6h6M595.8 137.4h6M595.8 108.3h6M595.8 79.1h6M595.8 49.9h6" stroke="#8a8a8a" stroke-width="1" fill="none"/><text class="yl" transform="translate(563.4 129) rotate(-90)" textLength="116.6" lengthAdjust="spacingAndGlyphs">No. of FSF domains</text><path d="M860.7 41.5H891.2" stroke="#f39060" stroke-width="1.0"/><circle cx="876" cy="41.2" r="1.15" fill="#8a3410"/><text class="lt" x="894.9" y="45.7" textLength="72.6" lengthAdjust="spacingAndGlyphs">Other enzymes</text><path d="M860.7 67.5H891.2" stroke="#6a80c8" stroke-width="1.0"/><circle cx="876" cy="67.6" r="1.15" fill="#13205e"/><text class="lt" x="894.9" y="72.1" textLength="58.5" lengthAdjust="spacingAndGlyphs">Transferases</text><path d="M860.7 93.5H891.2" stroke="#5a5a5a" stroke-width="1.0"/><circle cx="876" cy="93.7" r="1.15" fill="#000000"/><text class="lt" x="894.9" y="98.2" textLength="29.8" lengthAdjust="spacingAndGlyphs">Redox</text><path d="M860.7 120.5H891.2" stroke="#4cb87a" stroke-width="1.0"/><circle cx="876" cy="120.1" r="1.15" fill="#0a4a22"/><text class="lt" x="894.9" y="124.6" textLength="110.4" lengthAdjust="spacingAndGlyphs">Secondary metabolism</text><path d="M860.7 146.5H891.2" stroke="#ee5a64" stroke-width="1.0"/><circle cx="876" cy="146.7" r="1.15" fill="#b0101e"/><text class="lt" x="894.9" y="151.2" textLength="37.7" lengthAdjust="spacingAndGlyphs">Storage</text><path d="M860.7 173H891.2" stroke="#f8eaa6" stroke-width="2.6"/><circle cx="876" cy="172.7" r="1.15" fill="#bba400"/><text class="lt" x="894.9" y="177.2" textLength="45.9" lengthAdjust="spacingAndGlyphs">E-transfer</text><path d="M860.7 199H891.2" stroke="#dcc8e4" stroke-width="2.6"/><circle cx="876" cy="199.2" r="1.15" fill="#3d1250"/><text class="lt" x="894.9" y="203.7" textLength="72.8" lengthAdjust="spacingAndGlyphs">Photosynthesis</text><path d="M860.7 225H891.2" stroke="#c8c8c8" stroke-width="2.6"/><circle cx="876" cy="225.4" r="1.15" fill="#1a1a1a"/><text class="lt" x="894.9" y="229.9" textLength="33.4" lengthAdjust="spacingAndGlyphs">Energy</text></g>
<g><text class="ti" x="594.6" y="256.3" textLength="73.9" lengthAdjust="spacingAndGlyphs">Information</text><path d="M594.7 279.7V263.1H839.4V279.7M612.2 263.1V279.7M779.0 263.1V279.7" fill="none" stroke="#6e6e6e" stroke-width="1.15"/><text class="br" x="603.5" y="274.6">A</text><text class="br" x="707.6" y="274.6">B</text><text class="br" x="809.2" y="274.6">E</text><g class="d"><path class="s" transform="translate(595 0) scale(0.25 1.0)" vector-effect="non-scaling-stroke" d="M0 460l1 0 1-1 1 0 1 0 1 0 1-2 1 3 1 0 1 0 1 0 1-1 1 0 1 1 1-1 1 0 1 0 1 0 1 0 1 0 1 1 1 0 1-1 1 0 1 0 1 1 1 0 1-3 1 2 1-2 1 0 1 3 1-1 1 0 1 0 1-2 1 2 1 0 1-2 1 0 1 2 1 0 1 0 1 0 1 0 1-2 1 2 1 1 1-1 1-2 1 2 1 0 1-2 1 2 1 0 1 0 1 1 1-1 1 0 1-2 1 3 1-1 1 0 1-2 1 3 1-1 1-2 1 2 1 0 1 0 1 0 1 1 1-3 1 3 1 0 1-1 1-2 1 2 1 0 1 0 1-4 1 4 1 1 1 0 1-1 1 1 1 0 1-3 1 2 1-2 1 2 1 0 1 0 1 1 1 0 1 0 1-3 1 3 1-1 1-2 1 3 1-1 1 0 1 1 1-1 1-2 1 0 1 2 1 1 1-3 1 2 1 0 1 0 1 0 1 1 1 0 1-1 1 0 1 0 1 0 1 0 1 0 1-2 1 2 1 0 1 0 1 0 1 0 1 1 1-1 1 0 1-2 1 2 1 0 1-2 1 2 1 1 1-1 1 0 1-2 1 2 1 0 1 0 1 0 1 0 1 1 1-1 1 1 1-1 1 1 1-1 1-4 1 5 1-1 1 0 1 0 1 0 1 1 1-1 1 0 1 0 1 0 1 0 1 0 1 1 1-1 1 0 1 0 1-2 1 3 1-1 1 1 1-1 1 0 1 0 1 0 1 0 1 1 1-1 1 0 1 0 1-2 1 2 1 0 1 1 1 0 1-3 1 2 1-2 1 2 1 0 1 1 1-1 1 0 1 0 1 0 1 0 1 1 1 0 1 0 1-3 1 3 1 0 1-1 1-2 1 2 1 0 1 0 1 0 1 0 1 0 1-2 1 2 1 1 1-1 1 0 1 0 1 0 1 0 1 0 1-2 1 2 1-2 1 2 1 0 1 1 1-1 1 0 1 0 1-2 1 2 1 0 1 0 1 0 1-4 1 4 1-2 1 2 1-4 1 5 1-3 1 2 1-2 1 2 1 0 1 0 1 0 1 0 1 0 1 0 1 1 1 0 1-1 1 1 1 0 1-3 1 0 1 2 1 0 1 1 1-1 1 0 1-2 1 2 1 1 1-3 1 2 1-2 1 2 1 0 1 0 1-2 1 2 1 1 1 0 1-1 1-2 1 0 1 2 1 0 1 1 1-1 1 0 1 1 1-3 1 0 1 0 1 2 1-2 1 0 1 3 1-1 1 0 1 1 1 0 1 0 1-1 1 1 1 0 1-1 1 1 1-1 1 0 1 0 1 0 1-2 1 2 1 1 1-3 1 2 1-2 1 2 1 1 1 0 1-1 1-2 1 3 1-1 1 0 1 0 1 0 1 0 1-2 1 2 1 0 1 0 1-2 1 2 1 1 1-1 1 0 1 0 1 0 1 0 1 0 1 1 1-1 1 0 1 0 1-2 1 2 1 1 1-1 1-2 1 3 1 0 1-3 1 0 1 0 1 2 1 1 1-1 1 0 1 1 1-3 1 2 1 0 1 0 1 1 1-3 1 2 1 0 1 1 1-1 1 0 1 1 1 0 1-1 1 0 1-2 1 2 1 0 1 0 1-2 1 0 1 3 1 0 1-1 1 1 1-3 1 2 1-2 1 0 1 2 1 0 1 0 1-2 1 2 1 0 1 1 1-1 1 0 1 0 1 1 1-1 1 0 1 0 1 0 1 0 1 0 1 0 1 0 1 1 1 0 1-1 1 0 1-2 1 3 1-1 1 1 1-1 1-2 1 3 1-1 1 0 1 0 1 1 1-3 1 3 1 0 1-1 1 0 1 0 1-2 1 2 1 0 1 0 1 0 1 0 1 0 1 1 1-1 1 1 1 0 1-3 1 2 1 1 1-3 1 2 1 0 1 1 1-3 1 3 1-1 1 1 1-3 1 3 1-1 1 0 1 0 1 0 1 0 1 0 1 0 1 0 1 1 1-3 1 2 1-2 1 2 1 0 1 1 1-1 1 0 1 0 1 1 1-1 1 0 1-2 1 3 1-1 1 1 1-1 1 1 1 0 1-1 1 0 1 1 1 0 1-1 1 1 1 0 1 0 1-1 1 0 1-2 1 2 1-2 1 2 1-2 1 2 1 0 1 1 1-3 1 0 1 0 1 2 1 0 1-2 1 2 1-2 1 2 1 1 1-1 1-2 1 2 1 0 1-2 1 0 1 2 1 0 1 0 1 0 1-2 1 0 1 3 1-1 1 1 1-1 1 0 1 0 1 0 1 0 1 0 1 0 1 0 1 1 1-1 1-2 1 0 1 2 1-2 1 3 1-5 1 4 1 0 1 1 1-1 1 0 1-4 1 4 1 1 1-1 1 0 1 0 1 1 1-1 1 0 1 0 1-2 1 2 1 0 1 0 1 1 1-1 1 1 1 0 1-1 1 1 1-1 1-2 1 2 1 1 1 0 1-1 1 1 1 0 1-1 1 0 1 0 1 0 1 0 1 0 1-4 1 5 1-1 1 0 1 0 1 0 1 0 1 1 1-3 1 2 1 0 1 1 1-1 1 0 1-2 1 0 1 3 1-1 1 0 1 0 1 0 1-2 1 0 1 3 1-3 1 2 1 0 1 0 1-2 1 2 1 0 1 0 1 0 1 0 1 0 1 0 1 1 1-3 1 2 1 1 1-1 1 0 1 1 1-1 1 0 1 1 1 0 1 0 1-1 1-2 1 2 1 0 1 0 1 0 1 0 1 0 1 0 1 0 1 1 1-1 1-2 1 2 1 0 1 1 1-1 1 0 1 0 1 0 1 0 1 1 1-3 1 3 1 0 1-1 1 0 1 0 1 0 1-2 1 2 1 0 1-2 1 0 1 2 1-2 1 3 1 0 1-1 1 0 1 0 1 0 1 0 1 1 1-1 1 0 1 0 1-2 1 0 1 3 1-1 1 1 1 0 1-3 1 2 1 0 1 0 1-2 1 3 1-1 1 1 1 0 1-3 1 2 1 1 1 0 1-1 1 0 1 1 1-3 1 2 1 0 1 0 1 0 1 0 1-2 1 2 1 0 1 0 1 0 1 0 1 0 1 0 1-2 1 0 1 2 1 0 1 1 1-1 1 0 1 0 1 0 1 0 1 0 1 0 1 0 1 0 1 0 1 0 1 0 1 0 1 0 1 1 1-1 1 0 1-2 1 3 1-5 1 4 1 0 1 0 1 1 1-1 1-2 1 0 1 2 1-2 1 0 1 0 1 2 1-2 1 0 1 2 1 0 1 0 1 0 1-2 1 2 1 0 1 1 1-1 1-4 1 4 1-4 1 2 1 0 1 2 1 0 1 1 1-1 1 1 1-5 1 4 1-2 1 2 1-2 1 2 1 0 1 0 1-4 1 2 1 0 1 2 1-2 1-2 1 4 1 0 1-2 1 2 1 0 1-4 1 4 1-4 1 2 1 2 1 0 1-2 1 2 1 1 1-1 1-4 1 4 1-4 1 5 1-1 1 1 1-7 1 2 1 2 1 0 1 2 1-2 1 0 1 2 1-2 1 2 1-2 1 2 1-2 1 2 1 0 1-2 1 0 1 0 1 3 1 0 1-1 1-4 1 2 1 2 1 0 1 0 1-2 1 2 1 0 1-2 1 2 1 0 1 0 1-6 1 6 1 0 1-2 1 0 1 2 1-2 1 0 1 0 1 2 1-2 1 0 1 3 1-1 1-2 1 0 1 0 1 2 1 1 1-3 1 2 1 0 1-2 1 2 1-2 1 0 1 0 1 0 1 2 1 1 1-1 1 0 1 0 1-2 1 0 1 2 1-2 1 3 1-5 1 2 1 3 1-5 1 5 1-3 1 0 1 0 1 2 1 0 1-4 1 4 1 0 1-2 1 0 1 2 1 0 1-2 1 2 1 0 1-2 1 0 1 2 1 0 1-4 1 4 1 0 1 0 1-2 1 0 1 0 1 0 1 0 1 2 1-4 1 2 1 2 1-4 1 2 1 0 1 3 1-1 1-2 1 0 1 0 1 2 1 0 1 0 1 0 1 0 1-2 1 2 1 0 1-2 1 0 1-2 1 2 1 0 1 0 1 2 1 0 1 0 1-4 1 5 1-1 1 0 1 1 1-1 1-2 1 0 1 2 1-2 1 2 1 0 1 0 1-4 1 4 1 0 1-2 1 2 1-2 1 2 1 0 1 0 1-2 1 0 1 2 1 1 1-3 1 0 1 2 1-2 1 0 1-2 1 2 1 0 1-2 1 2 1-2 1 2 1 0 1 0 1 2 1-2 1 2 1 0 1 0 1-2 1 2" stroke="#b0b0b0" stroke-width="1.8" marker-start="url(#m6)" marker-mid="url(#m6)" marker-end="url(#m6)"/><path class="s" transform="translate(595 0) scale(0.25 1.0)" vector-effect="non-scaling-stroke" d="M0 455l1 2 1 2 1 0 1 0 1-2 1 0 1 0 1 2 1-2 1 2 1 1 1-1 1 1 1-1 1 0 1 1 1-1 1 0 1 0 1 1 1 0 1-3 1 0 1 3 1 0 1-1 1 0 1 0 1 0 1-2 1 0 1 0 1 3 1-3 1 2 1 1 1-1 1 0 1 1 1-1 1 1 1-1 1-2 1 2 1 1 1-1 1-4 1 4 1-2 1 2 1 0 1-2 1 3 1-1 1 0 1 0 1-2 1 0 1-2 1 2 1 0 1 3 1-1 1-2 1 2 1-2 1 2 1 1 1-1 1 0 1-2 1 0 1 2 1 1 1-1 1 0 1 0 1 0 1 0 1 1 1-1 1 0 1 0 1 0 1-2 1 0 1 0 1 2 1 0 1-2 1 2 1-4 1 4 1-2 1 2 1 1 1-3 1 2 1 0 1 1 1-1 1 1 1 0 1 0 1-3 1 0 1 2 1-2 1 0 1 3 1 0 1-1 1-2 1 0 1 0 1 2 1 0 1-2 1 2 1 0 1-2 1 2 1 1 1-3 1 2 1 0 1 0 1-2 1 0 1 2 1-2 1 2 1 1 1-3 1 2 1-2 1 2 1-2 1-2 1 2 1 2 1-2 1 2 1 1 1 0 1-3 1 0 1 0 1 2 1 0 1 0 1-2 1 2 1 1 1-1 1 1 1-3 1 2 1 0 1 0 1 0 1 1 1-5 1 5 1-1 1 0 1-2 1 3 1-1 1-2 1 0 1 2 1 0 1-2 1 2 1 1 1-1 1-2 1 2 1 1 1-1 1 1 1-3 1 3 1-1 1-2 1 0 1 2 1 0 1-4 1 5 1 0 1-3 1 2 1 1 1-1 1 0 1 0 1 0 1-4 1 4 1-2 1 0 1 3 1-1 1-2 1 3 1-1 1-2 1 2 1-2 1 2 1-2 1 3 1-1 1 0 1 0 1-2 1 2 1 0 1-2 1 3 1-3 1 2 1 0 1-2 1 2 1-2 1 2 1 0 1-2 1 0 1 0 1 2 1 0 1-2 1 2 1 0 1-2 1 2 1-2 1 2 1-2 1 2 1 0 1 0 1 0 1 1 1-5 1 4 1 0 1 0 1 0 1 0 1-2 1 2 1 0 1-2 1 2 1-2 1 0 1 2 1 1 1 0 1-1 1 0 1-2 1 0 1 2 1-2 1 2 1 0 1 0 1 1 1 0 1-3 1 0 1 2 1 0 1 0 1-2 1 2 1 1 1-1 1 1 1-1 1 0 1 0 1-2 1 2 1 0 1-2 1 2 1 1 1 0 1-1 1-2 1 0 1 2 1 1 1-1 1-2 1 2 1 0 1 0 1-2 1 3 1-1 1-2 1 0 1 2 1 0 1 1 1-1 1 0 1 0 1 0 1 0 1-4 1 4 1 0 1-2 1 2 1-4 1 4 1 0 1 0 1-2 1 2 1-4 1 4 1 0 1 0 1 0 1 0 1 0 1 0 1 0 1-2 1 3 1-1 1 1 1-3 1 2 1-2 1 3 1-1 1 0 1-2 1 2 1-2 1 2 1-2 1 2 1 0 1 0 1-2 1 2 1 0 1 0 1-2 1 3 1-3 1 2 1-2 1 0 1 0 1 3 1-1 1 1 1-1 1 0 1 0 1 0 1-2 1 3 1-1 1-2 1 2 1 0 1 0 1 0 1 1 1-3 1 2 1 0 1 0 1-2 1 3 1-1 1 0 1 0 1 0 1-2 1 2 1 0 1-2 1 3 1-1 1 0 1-2 1 3 1-1 1 0 1 0 1-4 1 2 1 3 1-3 1 0 1 2 1-4 1 5 1-1 1 0 1-2 1 2 1 1 1-1 1-2 1 3 1-1 1-2 1 2 1 1 1-1 1 0 1 0 1 0 1 0 1 0 1 1 1-3 1 0 1 0 1 2 1 0 1 1 1-1 1 0 1-2 1 2 1 1 1-3 1 2 1 0 1-2 1 2 1-4 1 4 1 0 1 0 1 0 1 0 1 0 1 0 1 0 1 0 1 0 1-2 1 0 1 2 1 0 1 0 1-2 1 0 1 3 1-3 1 2 1 1 1-1 1 0 1-4 1 4 1 0 1 1 1-1 1-4 1 2 1 3 1-1 1 1 1 0 1-3 1 2 1 0 1 0 1-2 1 2 1-2 1 0 1 2 1 0 1 0 1 0 1 1 1-1 1 0 1-2 1 2 1 0 1-2 1 0 1 2 1 0 1 0 1 0 1 1 1-3 1 2 1-2 1 0 1 2 1 0 1 1 1-3 1 2 1 1 1-1 1 0 1-2 1 0 1 3 1-1 1-2 1 0 1 2 1-2 1 2 1-2 1 2 1 1 1-3 1 2 1-2 1 2 1-2 1 0 1 0 1 0 1 2 1-2 1 0 1 0 1 3 1-1 1 1 1-3 1 3 1-3 1 0 1 0 1 0 1 0 1 2 1-4 1 4 1 0 1 0 1-2 1 2 1 0 1 1 1-3 1 2 1-2 1 2 1 0 1-2 1 2 1 0 1-2 1 0 1 2 1 0 1 0 1 0 1 0 1 0 1 0 1 0 1 0 1-2 1 2 1 1 1-5 1 2 1 0 1 3 1-1 1-2 1 3 1 0 1-3 1 3 1-3 1 3 1-1 1 0 1-2 1 0 1 2 1-2 1 2 1-2 1 2 1 0 1 0 1 0 1-2 1 3 1-5 1 2 1 2 1-4 1 4 1-2 1 2 1 1 1-5 1 2 1 3 1-3 1 2 1 0 1 0 1-4 1 2 1 0 1 2 1 0 1 0 1 0 1-2 1 2 1-2 1-2 1 0 1 2 1-2 1 2 1 2 1 0 1-2 1 2 1 0 1 0 1-2 1 3 1-1 1 1 1-5 1 4 1 0 1 0 1-2 1 2 1 0 1 1 1-3 1 2 1 0 1 1 1-1 1 0 1 0 1-2 1 3 1-3 1 0 1-2 1 4 1 1 1 0 1-3 1 2 1 0 1-2 1 0 1 2 1-4 1 2 1 0 1 2 1 0 1-2 1 0 1 3 1-1 1 0 1 0 1-2 1 2 1 0 1-2 1 0 1-2 1 4 1 0 1 0 1-4 1 4 1 0 1 0 1 0 1-2 1 2 1 0 1 0 1-2 1 2 1-2 1 3 1 0 1-3 1 3 1-1 1-2 1 0 1 2 1 1 1-3 1 0 1 2 1-4 1 4 1 1 1-1 1-2 1 3 1-1 1-2 1 2 1-4 1 4 1-2 1-2 1 2 1 2 1-4 1 2 1 0 1 2 1-2 1 0 1-2 1 2 1 0 1 2 1-4 1 4 1 0 1 0 1-2 1 0 1 0 1 0 1 2 1-4 1 2 1 2 1-2 1 2 1-2 1-4 1 2 1 2 1 0 1 0 1 0 1 2 1-4 1 2 1-2 1 4 1-2 1 2 1 0 1 1 1-3 1 2 1 0 1-2 1 3 1-5 1 0 1 4 1 0 1-2 1 0 1 2 1 1 1-3 1 0 1-4 1 4 1 0 1 0 1 0 1 2 1-2 1 2 1-4 1 4 1-4 1 2 1 0 1 0 1 0 1 0 1 0 1 3 1-5 1 4 1-2 1 0 1 0 1 2 1 0 1 0 1-4 1 2 1 2 1 0 1 0 1-2 1-2 1 2 1-2 1 4 1 0 1-2 1 0 1 0 1-2 1-3 1 5 1-2 1 2 1-2 1 0 1 2 1-4 1 4 1 2 1 0 1-2 1-2 1-2 1 7 1-5 1 4 1 0 1 0 1-2 1-2 1 0 1 4 1-2 1-2 1 2 1 3 1-1 1-2 1 2 1-4 1 4 1-2 1 0 1 0 1 0 1 0 1 3 1-1 1-2 1-2 1 2 1 2 1-4 1 5 1-3 1 0 1 0 1 2 1 0 1-2 1 2 1-6 1 6 1-2 1 3 1-3 1 3 1-3 1 0 1 2 1-4 1 4 1-4 1 4 1-4 1 2 1 0 1 2 1-2 1 0 1-2 1 0 1 2 1 0 1 2 1-4 1 2 1-2 1 0 1 2 1 0 1 2 1 0 1-2 1 2 1-2 1 2 1 1 1-3 1-2 1 4 1-2 1 0 1 2 1-4 1 4 1-4 1 4 1-2 1 2 1-2 1 2 1 0 1 0 1-2 1 2 1 1 1-3 1 0 1-4 1 7 1-1 1-2 1-2 1 2 1-2 1 2 1 3 1-5 1 0 1 2 1 0 1-2 1 2 1-2 1 5 1-1 1-4 1 2 1 2 1-4 1 0 1 4 1-6 1 2 1 2 1 2 1-6 1 6 1-4" stroke="#555555" stroke-width="1.2" marker-start="url(#m17)" marker-mid="url(#m17)" marker-end="url(#m17)"/><path class="s" transform="translate(595 0) scale(0.25 1.0)" vector-effect="non-scaling-stroke" d="M0 453l1 0 1-1 1 1 1 2 1-3 1 0 1-2 1 3 1-1 1 0 1 0 1 1 1-1 1 0 1 1 1 0 1-1 1 0 1 1 1 0 1-1 1 1 1 0 1-1 1 3 1-3 1 0 1 1 1 0 1-1 1 0 1 1 1 0 1-1 1 1 1-1 1 0 1 0 1 1 1 0 1-1 1 0 1 1 1 0 1-1 1 1 1-1 1 0 1 0 1 1 1 0 1-1 1 0 1-2 1 3 1-1 1 0 1 1 1 0 1 0 1 0 1 0 1-1 1-2 1 3 1 0 1-1 1 1 1 0 1 0 1-3 1 2 1 1 1 0 1-1 1 0 1 0 1 0 1 1 1-1 1 1 1 0 1 0 1-3 1 2 1 0 1 1 1 0 1 0 1-1 1 0 1 0 1 1 1-1 1 0 1 0 1 0 1 1 1-1 1 0 1 1 1-3 1 3 1 0 1-1 1 0 1 0 1 0 1-2 1 3 1-1 1 0 1 0 1 3 1-2 1-1 1 0 1 0 1 1 1 0 1-1 1-2 1 3 1-1 1 0 1 1 1 0 1-1 1 1 1-1 1 0 1 0 1 3 1-2 1-1 1 0 1 0 1 1 1-1 1 0 1 0 1 3 1-2 1-3 1 3 1-1 1 0 1 0 1 0 1 0 1 0 1 0 1 0 1 0 1 1 1 0 1-1 1 0 1 3 1-3 1 0 1 0 1-2 1 3 1 0 1 0 1 0 1-1 1 0 1 0 1 0 1 1 1-1 1 0 1-2 1 3 1-1 1-2 1 2 1 0 1 1 1 0 1-1 1 0 1 0 1 1 1-1 1 0 1 0 1 1 1-1 1-2 1 2 1 1 1 0 1-1 1 0 1 0 1 0 1 1 1-1 1 0 1 1 1-1 1 0 1 0 1 0 1 1 1-1 1 1 1-1 1 0 1 0 1 1 1-1 1 0 1 3 1-2 1-1 1 1 1-1 1 0 1 1 1-1 1 1 1-1 1 1 1 0 1-1 1 0 1 1 1 0 1-1 1-2 1 2 1 1 1 0 1-3 1 2 1 1 1-1 1 0 1 1 1 0 1-1 1 0 1 0 1 1 1 2 1-2 1-1 1 1 1-1 1 1 1 0 1-1 1 1 1 0 1-1 1 1 1-1 1 1 1 0 1 0 1 0 1 0 1-1 1 0 1 0 1 1 1-1 1 1 1-1 1 0 1 0 1 0 1 1 1-1 1 0 1 1 1-1 1 3 1-3 1 3 1-5 1 2 1 0 1 0 1 3 1-3 1 1 1 0 1-1 1 0 1 0 1 0 1 0 1 1 1 0 1-1 1 1 1 0 1-1 1 0 1 1 1 0 1-1 1 1 1 0 1 0 1-1 1 0 1 1 1-1 1 0 1 0 1 0 1 1 1-3 1 2 1 1 1 0 1-1 1 1 1-1 1 1 1-3 1 2 1 0 1 1 1-1 1 1 1 0 1 2 1-3 1 1 1 0 1 0 1-1 1 1 1-1 1 0 1 3 1-2 1-1 1-2 1 3 1-1 1-2 1 3 1 0 1-1 1 1 1-1 1 0 1 0 1 1 1-3 1 3 1-1 1 1 1-1 1 3 1-3 1 0 1 1 1 0 1-1 1 0 1 0 1 1 1-1 1 1 1 0 1 0 1 0 1 0 1-1 1-2 1 3 1 0 1 0 1-1 1 0 1 0 1 0 1 1 1 0 1-1 1 1 1 0 1 0 1 0 1-1 1 0 1 1 1 0 1-1 1 1 1-1 1 0 1 1 1-3 1 3 1-3 1 3 1-1 1 1 1 0 1-1 1 1 1-1 1 1 1 0 1-1 1 0 1 1 1 0 1 0 1 0 1 2 1-3 1 0 1 1 1 0 1-3 1 3 1 0 1-1 1 0 1 1 1-3 1 2 1 1 1 0 1 0 1 0 1-1 1 0 1 0 1 0 1 1 1-3 1 3 1-1 1 1 1-1 1 1 1-1 1 1 1-1 1 0 1 0 1 0 1 0 1 1 1-1 1 0 1 1 1-1 1 0 1 1 1 0 1 0 1 0 1-1 1 1 1 0 1 0 1 2 1-3 1 0 1 1 1 0 1 0 1-1 1 0 1 0 1 0 1 0 1 0 1 0 1 1 1-1 1 1 1-1 1 0 1 1 1-1 1 0 1 1 1 0 1 0 1-1 1 1 1-1 1 1 1 0 1-1 1 1 1-1 1 1 1 0 1-1 1 0 1 0 1 0 1 3 1-5 1 2 1 1 1-1 1 1 1 0 1 2 1-3 1 0 1 1 1-1 1 1 1 0 1-1 1 0 1 0 1 3 1-2 1-1 1 0 1 1 1-5 1 4 1-2 1 2 1 0 1 0 1 1 1-1 1 0 1 1 1 0 1-1 1 1 1 0 1-3 1 0 1 3 1 0 1 0 1 0 1-1 1 0 1 0 1 0 1 0 1 0 1 0 1 1 1-1 1-2 1 2 1 1 1-1 1 1 1 0 1-1 1 0 1 1 1 0 1-1 1 1 1-1 1 0 1 0 1 0 1 0 1 1 1 0 1-1 1 1 1 0 1 0 1 0 1-1 1 0 1 0 1 1 1-3 1 2 1 0 1-2 1 2 1 1 1 0 1 0 1-1 1 0 1 0 1 0 1 0 1 0 1 0 1 1 1 0 1-1 1 1 1-1 1 1 1 0 1 2 1-3 1 0 1-2 1 2 1 1 1-1 1 1 1-1 1 1 1-1 1 1 1 2 1-3 1 0 1 1 1-1 1 0 1 0 1 1 1-1 1 1 1-1 1 1 1 0 1 0 1-1 1 1 1 0 1 0 1-3 1 3 1 0 1 0 1 0 1 0 1 0 1-1 1 1 1-1 1 0 1-2 1 3 1-1 1 0 1 0 1 1 1-1 1-2 1 0 1 3 1-1 1 1 1-3 1 3 1 0 1 0 1-3 1 3 1 0 1-1 1 0 1 1 1 2 1-3 1-2 1 3 1-1 1 1 1 0 1-3 1 3 1 0 1 0 1-1 1 0 1 0 1 1 1-1 1 0 1 0 1 0 1 1 1-1 1 0 1-2 1 5 1-3 1 0 1 3 1-3 1 3 1-2 1 0 1-1 1 1 1-1 1 0 1 0 1 0 1-2 1 2 1 3 1-3 1 0 1 0 1 1 1 2 1-3 1 1 1-1 1 1 1 0 1 0 1-3 1 2 1 0 1-2 1 2 1 0 1 1 1 0 1 0 1 0 1-1 1 1 1-1 1-4 1-2 1 2 1-3 1 5 1-7 1 2 1 0 1 3 1-2 1 2 1 0 1-2 1 4 1-4 1 0 1 2 1 2 1-5 1 1 1 0 1 2 1 0 1-2 1 0 1 2 1-3 1 3 1-2 1 4 1-4 1 0 1-3 1 3 1 0 1 2 1 0 1-2 1 0 1 2 1 2 1 0 1-2 1 0 1 0 1-2 1 2 1 0 1-7 1 4 1 1 1 0 1 0 1 0 1 6 1-2 1-2 1-3 1 3 1-2 1-1 1 3 1 2 1-2 1 0 1-2 1 0 1 2 1-2 1 0 1 4 1-5 1 0 1 0 1 0 1 1 1 0 1 4 1-2 1 0 1-3 1 0 1 3 1-3 1 1 1 2 1-2 1 0 1-1 1 1 1 2 1 0 1 0 1-3 1 5 1-2 1-2 1 2 1-3 1 1 1 2 1 0 1-2 1 0 1 2 1-2 1 4 1-7 1 7 1-2 1 0 1-5 1 2 1 1 1 0 1 0 1 2 1-2 1 0 1 2 1-2 1 2 1 0 1-2 1-1 1 1 1 6 1-6 1 4 1-2 1-2 1-3 1 2 1 1 1 0 1 0 1 0 1 6 1-4 1 0 1 0 1-3 1 1 1 2 1 0 1-2 1 2 1-3 1 1 1 2 1 2 1 0 1-2 1 0 1 2 1-4 1 2 1 0 1-2 1 0 1 2 1 2 1-2 1-2 1 0 1-1 1 3 1 2 1-5 1 3 1-2 1 4 1-2 1-3 1 1 1 0 1 0 1 2 1 2 1-5 1 1 1 2 1 2 1 0 1 0 1-2 1 0 1-2 1 0 1 0 1 0 1-3 1 3 1 0 1 0 1 2 1 0 1-2 1 4 1-2 1 0 1-2 1 2 1-2 1 0 1 0 1 2 1 2 1-4 1 2 1-2 1 0 1 0 1-1 1 5 1 0 1-4 1 0 1 0 1 2 1-2 1 2 1-3 1 0 1 3 1-2 1 0 1 2 1-2 1 4 1-4 1 2 1-3 1 3 1-3 1-2 1 3 1 0 1 0 1 2 1 0" stroke="#f0d820" stroke-width="0.9" marker-start="url(#m4)" marker-mid="url(#m4)" marker-end="url(#m4)"/><path class="s" transform="translate(595 0) scale(0.25 1.0)" vector-effect="non-scaling-stroke" d="M0 439l1-1 1 0 1 1 1 6 1-2 1-5 1 7 1-7 1 3 1 0 1 4 1-2 1-2 1 0 1-2 1 6 1-6 1 0 1 2 1 0 1 2 1-2 1-5 1 5 1 2 1-5 1 1 1 7 1-7 1 2 1-2 1 0 1 4 1 5 1-9 1 2 1 2 1-2 1-5 1 5 1 2 1 0 1-4 1 2 1-2 1 0 1 4 1-4 1 2 1 0 1-2 1 4 1-2 1 0 1 4 1-4 1 0 1-5 1 3 1 4 1 2 1 0 1-7 1 3 1 4 1-7 1 3 1 2 1-2 1-2 1 0 1 0 1 0 1 4 1-5 1 1 1-3 1 5 1-3 1 0 1 1 1 2 1-3 1 1 1 2 1-3 1 3 1 2 1-2 1 2 1-7 1 5 1 4 1-6 1 4 1-5 1 5 1-2 1-3 1 3 1 0 1 2 1-4 1 0 1 2 1 0 1 2 1-2 1 0 1-3 1 3 1-2 1 7 1-7 1 0 1-1 1 0 1 3 1 0 1-3 1 1 1 0 1 6 1-9 1 3 1 6 1-2 1-7 1 3 1 4 1 0 1-2 1 0 1 2 1-2 1-2 1-3 1 3 1 0 1 4 1-2 1-3 1 0 1 3 1 0 1 5 1-10 1 5 1 2 1-5 1 0 1 0 1-4 1 7 1-3 1 5 1-5 1 0 1 8 1-1 1-4 1-2 1-3 1 5 1 0 1-2 1 0 1 0 1 7 1-5 1 0 1 2 1-2 1 0 1-3 1 0 1 3 1 2 1-4 1 0 1-1 1 5 1-4 1-1 1 0 1 3 1 2 1-4 1 4 1 2 1-13 1 9 1 5 1-8 1-2 1 5 1 4 1-7 1 7 1-6 1 2 1 0 1 0 1-2 1 0 1 4 1-5 1 1 1 4 1 0 1 0 1-7 1 9 1-6 1-5 1 5 1-1 1 3 1 2 1-2 1 2 1-2 1 0 1 0 1-3 1 0 1 0 1 3 1 0 1-3 1 3 1-3 1 7 1-6 1 0 1 0 1 6 1-4 1-3 1 5 1-7 1 7 1-7 1 7 1-2 1-3 1 7 1-6 1 2 1-3 1 3 1-2 1 2 1 0 1 0 1 2 1 2 1-7 1 0 1 7 1-7 1 3 1-2 1 2 1 0 1 0 1-3 1 3 1 4 1-7 1 7 1-11 1 7 1-5 1 5 1-2 1-1 1 3 1 2 1 0 1-4 1-1 1 8 1-3 1-2 1-2 1 4 1 0 1-5 1 3 1-2 1 6 1-2 1 0 1-7 1 3 1-3 1 9 1-6 1 2 1 5 1-3 1-7 1 3 1 2 1 0 1-3 1 3 1-3 1 1 1 4 1-5 1 3 1-3 1 7 1-9 1 3 1 0 1-3 1 7 1-4 1 2 1-2 1-1 1 0 1 0 1 3 1 0 1-2 1 2 1 4 1-4 1-2 1 2 1 2 1-7 1 3 1 4 1 2 1-2 1-2 1 2 1-4 1-1 1 1 1 2 1 2 1 3 1-5 1-2 1-3 1 3 1 4 1-4 1 2 1-2 1 2 1-3 1 3 1 2 1-5 1 7 1-6 1 4 1-5 1 0 1 0 1 0 1 0 1 5 1-2 1 2 1-2 1-2 1-3 1 3 1-1 1 3 1 0 1-3 1 1 1-7 1 9 1-3 1 0 1 3 1-2 1 4 1-2 1-3 1 5 1 0 1 0 1-4 1 0 1-3 1 2 1 7 1-6 1 2 1 0 1-3 1 7 1-9 1 3 1 2 1-2 1 4 1 0 1-2 1 4 1-9 1 9 1-11 1 9 1-2 1-2 1 2 1 0 1-2 1 4 1-9 1 5 1-3 1 5 1 0 1 4 1-4 1-3 1 1 1 2 1-3 1 0 1 5 1-4 1-1 1 1 1 6 1-6 1 0 1 0 1 0 1 0 1 0 1 2 1 0 1 0 1-5 1 0 1 3 1-1 1-2 1 2 1 0 1-4 1 9 1 0 1 0 1-2 1-2 1 2 1 0 1-3 1 1 1 4 1-4 1-1 1 5 1 0 1 0 1-5 1 1 1-3 1 5 1 0 1-3 1-2 1 3 1 2 1-2 1 2 1 2 1-5 1 5 1-5 1 5 1-2 1-2 1 0 1 2 1-2 1 4 1-4 1 0 1 2 1-2 1 0 1 4 1-2 1-2 1-1 1 1 1-1 1 0 1 0 1 3 1 0 1 0 1 0 1-3 1 7 1-9 1 0 1 5 1 2 1-4 1-1 1 3 1-2 1 2 1-2 1 2 1-2 1 2 1 4 1 0 1-2 1-5 1 3 1-3 1 1 1-3 1 3 1 2 1-2 1-3 1 3 1-1 1 10 1-9 1-1 1 0 1 1 1 2 1 0 1-3 1 0 1 7 1-6 1 0 1 0 1-3 1 5 1 0 1 2 1-2 1-2 1 0 1 2 1-5 1 3 1 2 1-2 1 2 1-3 1 7 1-7 1 7 1-9 1 2 1 1 1 4 1-2 1-5 1-4 1 13 1-6 1 2 1 0 1 0 1 4 1-4 1 2 1 3 1-8 1 5 1-2 1 4 1-7 1 1 1 2 1-5 1 2 1 5 1 2 1-6 1 0 1 0 1 2 1 4 1-2 1-7 1 10 1-1 1-4 1 4 1-7 1 1 1 2 1-2 1 0 1 4 1-5 1 1 1 2 1 0 1 2 1-4 1 2 1 2 1-2 1-2 1-1 1-2 1 2 1 3 1 0 1 0 1-3 1 3 1-2 1 0 1 2 1-2 1 6 1-4 1 0 1-7 1 11 1-4 1 5 1 0 1-5 1 2 1-4 1 4 1-12 1 7 1 5 1-4 1 2 1-3 1 0 1 0 1 3 1 2 1 0 1-5 1 1 1 6 1-4 1-3 1 1 1 4 1 0 1-2 1-2 1 2 1-3 1 5 1-2 1 2 1 0 1 3 1-8 1 1 1 4 1-5 1 3 1 2 1 0 1-2 1 0 1 2 1-4 1 4 1-5 1 8 1-8 1 10 1-7 1-2 1 4 1-2 1-3 1 7 1-4 1-2 1 6 1-6 1 6 1 3 1-10 1 1 1-1 1 1 1 2 1-3 1 7 1-2 1-9 1 9 1-5 1 5 1 0 1 2 1-7 1 8 1-7 1 7 1-7 1 6 1-7 1 10 1-7 1-2 1 4 1-4 1-1 1 1 1-3 1 10 1-7 1 0 1 0 1-7 1 2 1-5 1 5 1-2 1 0 1-3 1 3 1 4 1-4 1 2 1 0 1 4 1-9 1 7 1-2 1 4 1-2 1 0 1-5 1 5 1 2 1-4 1-2 1-1 1 3 1 2 1 5 1-5 1-4 1-5 1 7 1 4 1-2 1 3 1-5 1 2 1-5 1 3 1 4 1-6 1 2 1 0 1 2 1-7 1 2 1 3 1 2 1-2 1-2 1-1 1 5 1 0 1-5 1 3 1 2 1-4 1-3 1 5 1 4 1-6 1 6 1-2 1 0 1 0 1-2 1-3 1 7 1-6 1 4 1 0 1 0 1 0 1-2 1 2 1 0 1-4 1 4 1 2 1-4 1-2 1 0 1 0 1-1 1 3 1-3 1 3 1-2 1 4 1-2 1 2 1 2 1-4 1-2 1 6 1 0 1-4 1 4 1-6 1 2 1 4 1-9 1 7 1-4 1 4 1 0 1 0 1 2 1-4 1 2 1 0 1-2 1 0 1 0 1-2 1 0 1 2 1 4 1-6 1 0 1 2 1-5 1 5 1 2 1-7 1 3 1 4 1-4 1 4 1-2 1-2 1 4 1-2 1 2 1 2 1-4 1 2 1-2 1-2 1 2 1 0 1 0 1-3 1-2 1 7 1 0 1-5 1 0 1 3 1-2 1 0 1 0 1 0 1 0 1 0 1-1 1 0 1 5 1 2 1-6 1 2 1 2 1-2 1 0 1-2 1 0 1 7 1-3 1-2 1 2 1 2 1-4 1 0 1-2 1 6 1-2 1 0 1-2 1 0 1-2 1 6 1-2 1 0 1 3 1-3 1-4 1 2 1-2 1 4 1-4 1 2 1-3 1 1 1 0 1 0 1-1 1 1 1 9 1-7 1 0 1-2 1 4 1-4 1-1 1 5 1-4 1 0 1 0 1 2 1-2 1 2 1 2 1 0 1 2 1-4 1-2 1 2 1 2 1-2 1 2 1-2 1 2 1 0 1 2 1-6 1 2 1-2 1 2 1-2 1 0 1 0 1 7 1-7 1-5 1 7 1-3 1 1 1 4 1-4 1-1 1 8" stroke="#ee6a28" stroke-width="1.0" marker-start="url(#m7)" marker-mid="url(#m7)" marker-end="url(#m7)"/><path class="s" transform="translate(595 0) scale(0.25 1.0)" vector-effect="non-scaling-stroke" d="M0 417l1 3 1-3 1 17 1-7 1-7 1-10 1 10 1 16 1-21 1 0 1 14 1-19 1 7 1 8 1-14 1 14 1-3 1-12 1 10 1-9 1 6 1 12 1-16 1-2 1 0 1 11 1-4 1-5 1 7 1 0 1-5 1 2 1 7 1-4 1 2 1-11 1 0 1 14 1-1 1-20 1 7 1 16 1 2 1-11 1-1 1 10 1-9 1 2 1-3 1-7 1 5 1 2 1 3 1-5 1-11 1 11 1 0 1 17 1-26 1 4 1 14 1-2 1-5 1 12 1-14 1-4 1 7 1 2 1-23 1 6 1-16 1 19 1-3 1 12 1-14 1 7 1-9 1 7 1-23 1 7 1 13 1-11 1 7 1-7 1 12 1-3 1-14 1 12 1-9 1 11 1-2 1-7 1 7 1-3 1 3 1 14 1-7 1-9 1-17 1 26 1 7 1-19 1 17 1-12 1-5 1 3 1-15 1 21 1 3 1-2 1 2 1-5 1 3 1-3 1-7 1 26 1-7 1-5 1-18 1 4 1-4 1 9 1 11 1-7 1-9 1 3 1 6 1-4 1 14 1-10 1 3 1 11 1-14 1 22 1-15 1-9 1-2 1 0 1 7 1 5 1-17 1 7 1-2 1-7 1 32 1-11 1-12 1-14 1 12 1-3 1-6 1 0 1 32 1-26 1 1 1-5 1 0 1 11 1-7 1 10 1-7 1 5 1 4 1-7 1 9 1-11 1-5 1 9 1 0 1-6 1 7 1-21 1 18 1 2 1-6 1 4 1 5 1-3 1-13 1 13 1-9 1 3 1-1 1 0 1 8 1-5 1-9 1 9 1-3 1 8 1 9 1-14 1 4 1-14 1 5 1 14 1-4 1-7 1 2 1 2 1-4 1 23 1-24 1 1 1 7 1 6 1 1 1-10 1-4 1 7 1-7 1-1 1-7 1 12 1 9 1-18 1 16 1-18 1-3 1 12 1 2 1 7 1-9 1-5 1 0 1 0 1 16 1-4 1-12 1-7 1 14 1 7 1 2 1-6 1 2 1-9 1 27 1-20 1-12 1 25 1-6 1-17 1 7 1-5 1 7 1 3 1-9 1-5 1-2 1 4 1 2 1 15 1-14 1 6 1 7 1-18 1 32 1-21 1-6 1 7 1 2 1 4 1-13 1 7 1 4 1-16 1 2 1 21 1-11 1-8 1-4 1-2 1 16 1-5 1 12 1-28 1 23 1 0 1-4 1-5 1 2 1-4 1-5 1 0 1 9 1 3 1-3 1 0 1 3 1 4 1-11 1 11 1-16 1 33 1-24 1 2 1 0 1-9 1 30 1-27 1 20 1-11 1-5 1 5 1-5 1 17 1-8 1-14 1 17 1-21 1 2 1 24 1-10 1-2 1-5 1 23 1-27 1 6 1-11 1 11 1-2 1 0 1 16 1-21 1 1 1 9 1-24 1 26 1-12 1-9 1 17 1-1 1-6 1-5 1 9 1-2 1 0 1-3 1 1 1 2 1 28 1-26 1 16 1-20 1 18 1-4 1 2 1-7 1-2 1 14 1 6 1-25 1 0 1-3 1-4 1 5 1-8 1 19 1-19 1 5 1 31 1-21 1-1 1-18 1 14 1 0 1-19 1 24 1-8 1 28 1-27 1 9 1 0 1-3 1-11 1 9 1-4 1 6 1-16 1 2 1 1 1 6 1 3 1 28 1-28 1-2 1 9 1 19 1-28 1-3 1 16 1-18 1 4 1-6 1 2 1 4 1 3 1 0 1-2 1 0 1-3 1 10 1 7 1-24 1 2 1 12 1-5 1 7 1 7 1 1 1-10 1 14 1-19 1-4 1 18 1 1 1-8 1-6 1 6 1-2 1-9 1 12 1-10 1 10 1-7 1 2 1 4 1 0 1-11 1 5 1-12 1 26 1-14 1 11 1-14 1 9 1-4 1 7 1 2 1-7 1-21 1 16 1 10 1-10 1 7 1-2 1 12 1-7 1-14 1 11 1 7 1-11 1 14 1-19 1 7 1-9 1 4 1 5 1 2 1-4 1-7 1 4 1 3 1-5 1 9 1 0 1-7 1 14 1-9 1 7 1-18 1 14 1-12 1 18 1-9 1 21 1-32 1 7 1 7 1 6 1-7 1 5 1-19 1 0 1 31 1-30 1 16 1-10 1-4 1 14 1 2 1-11 1 4 1 16 1-7 1-11 1 9 1-11 1-7 1 11 1-4 1-7 1 14 1 0 1 6 1-23 1 0 1 0 1 12 1 0 1-3 1 14 1-16 1 14 1-11 1-3 1 14 1-12 1-4 1 7 1-14 1 7 1 7 1-9 1-8 1 28 1-6 1-5 1 2 1-7 1-9 1 12 1 4 1 2 1-11 1 4 1 8 1-12 1 9 1 2 1-6 1 30 1-24 1-2 1-12 1 10 1-10 1 17 1-5 1-11 1 13 1-14 1 3 1 2 1 3 1-5 1 2 1 3 1 7 1 0 1-12 1 9 1-11 1 6 1 7 1 5 1-16 1 0 1 16 1-14 1 2 1 31 1-33 1 16 1-7 1-6 1-1 1 0 1 8 1-24 1 40 1-23 1-5 1-5 1 21 1-19 1 17 1-2 1-15 1 14 1-7 1 12 1 14 1-12 1 1 1-24 1 21 1-25 1 4 1 9 1-6 1 14 1 6 1 0 1-14 1 3 1 0 1 4 1 1 1-8 1 10 1 0 1-16 1 7 1 14 1-22 1 5 1 14 1 0 1-2 1 0 1-21 1 9 1 10 1-3 1-2 1 0 1-3 1 10 1-9 1-1 1-7 1 22 1-7 1-1 1-2 1-14 1 2 1 12 1-7 1 19 1-10 1-6 1-8 1 3 1 4 1-9 1 16 1 0 1-4 1-23 1 21 1 6 1 3 1 0 1-17 1 14 1 1 1-7 1 32 1-26 1 0 1-16 1 2 1 31 1-24 1 7 1 0 1 0 1-7 1 31 1-30 1 6 1-2 1-9 1 4 1 8 1 20 1-27 1 9 1-9 1 2 1 0 1-5 1-5 1 15 1-1 1-4 1-10 1 14 1 0 1-13 1-7 1 14 1-1 1 3 1 28 1-23 1-3 1 0 1-4 1-10 1 14 1-12 1 26 1-14 1 0 1-5 1-7 1 5 1-5 1-2 1 14 1-12 1 3 1 4 1 17 1-21 1 2 1 14 1-23 1 11 1 15 1-14 1 14 1 13 1-14 1-11 1 5 1-12 1-3 1 0 1-6 1 9 1 4 1 5 1 3 1-7 1 2 1 4 1-14 1 10 1 9 1-14 1 16 1-13 1 7 1-1 1 0 1-9 1 2 1 0 1 1 1-3 1 3 1 4 1 2 1-6 1 21 1-15 1 8 1-15 1 7 1 3 1-14 1 9 1-7 1 5 1-2 1 13 1-16 1 2 1 8 1 0 1-8 1-6 1 14 1-5 1-5 1-4 1 2 1 7 1-3 1-4 1 5 1 4 1-11 1 18 1-18 1 4 1-4 1 7 1 6 1 0 1-11 1 2 1 12 1-3 1 3 1-2 1-1 1-4 1 0 1-5 1 0 1-2 1 4 1-9 1 10 1-1 1 3 1 0 1 11 1-7 1-9 1-5 1 17 1-9 1 2 1-5 1 2 1-4 1-5 1 17 1-3 1 21 1-33 1 10 1 2 1-7 1 7 1 3 1-8 1 0 1-2 1 0 1 2 1-2 1 5 1-5 1 10 1-3 1-12 1 10 1 21 1-14 1-12 1 9 1-11 1 5 1-1 1 3 1-2 1-1 1-4 1 4 1 0 1 8 1 2 1-7 1 4 1-16 1 12 1-7 1 11 1-13 1 7 1-1 1 3 1 2 1 2 1 3 1-3 1-6 1 4 1 0 1-12 1 21 1-6 1-7 1-7 1 11 1 5 1-12 1-2 1 5 1-1 1 14 1-13 1 4 1 0 1-9 1 7 1 5 1 0 1-15 1 10 1 5 1-3 1-2 1 0 1 9 1-11 1-3 1 0 1 21 1-9 1 2 1-14 1-2 1 2 1 12 1-7 1 16 1-23 1 11 1-9 1 5 1-7 1 5 1-1 1-2 1 26 1-17 1 5 1-9 1 9 1-5 1-2 1-5 1 1 1 4 1-4 1-7 1 14 1-1 1-2 1-11 1 11 1 2 1-4 1 0 1-10 1 17 1-12 1 5 1 0 1 5 1-8 1 0 1 0 1 7 1-21 1 17 1 4 1-4 1-2 1 11 1-7 1-7 1 2 1 7 1 5 1-23 1 11 1 1 1 4 1 0 1 0 1-9 1 0 1 7 1-5 1 9 1-18 1 23" stroke="#e6323e" stroke-width="0.9" marker-start="url(#m0)" marker-mid="url(#m0)" marker-end="url(#m0)"/><path class="s" transform="translate(595 0) scale(0.25 1.0)" vector-effect="non-scaling-stroke" d="M0 369l1-1 1 3 1-5 1 0 1 2 1 3 1-3 1-2 1-2 1 4 1 3 1-3 1 1 1-5 1 7 1-2 1 4 1-5 1 5 1-4 1 0 1 4 1-7 1 0 1 2 1 0 1 1 1 4 1-2 1-3 1-4 1 4 1 1 1 0 1 0 1 0 1-3 1 3 1 6 1-2 1-2 1-2 1-3 1 2 1 1 1-1 1 3 1-3 1 3 1 2 1 2 1-7 1-2 1 2 1 0 1 3 1 2 1-2 1 4 1-9 1 2 1 0 1 3 1 0 1-2 1-3 1 3 1 4 1-30 1 2 1-4 1 4 1 2 1 1 1 0 1-3 1 0 1 14 1-11 1 0 1-5 1 2 1 0 1 5 1-7 1 0 1 2 1 3 1-5 1 0 1 7 1-2 1-7 1-3 1 7 1 0 1 0 1 2 1 15 1-17 1 0 1 0 1-5 1 1 1 0 1 6 1 1 1-1 1 0 1-4 1 2 1 0 1 2 1-7 1 5 1 2 1-2 1 2 1-4 1 2 1 2 1-2 1 0 1-2 1 2 1 0 1 0 1-2 1-2 1 6 1-2 1 2 1 0 1 0 1 0 1-2 1 0 1 2 1-7 1 1 1 7 1-1 1 12 1-12 1-4 1 0 1 2 1 2 1 1 1 0 1-5 1-2 1 6 1 1 1-3 1-2 1 4 1-2 1-2 1 0 1 0 1 2 1 2 1-4 1 5 1-5 1 0 1 7 1-5 1 2 1-2 1 0 1 5 1 0 1-7 1 4 1 0 1-2 1 0 1 0 1 5 1-7 1 0 1 2 1 3 1-3 1 0 1 3 1-5 1 2 1 3 1-7 1-3 1 5 1 2 1 2 1-6 1 7 1 0 1-7 1 6 1-4 1 2 1 0 1 2 1 1 1-5 1 2 1 3 1-3 1-2 1 0 1 2 1-4 1 2 1 2 1 3 1-3 1-5 1 7 1 1 1-7 1 4 1-2 1 2 1-5 1 8 1-5 1 0 1 2 1 17 1-17 1 0 1 0 1 2 1 0 1 0 1 1 1-3 1 5 1-2 1-8 1 7 1-6 1 6 1-4 1-2 1 2 1 5 1-1 1-2 1 0 1-2 1 2 1-2 1 4 1 0 1 1 1-3 1-4 1 2 1 5 1 0 1-7 1 7 1-7 1 6 1-2 1-2 1 4 1-2 1-4 1 6 1 0 1-2 1-2 1 0 1-3 1 5 1 3 1 7 1-10 1 2 1 0 1 1 1-1 1 0 1-4 1 2 1 2 1 0 1-6 1 0 1 7 1-3 1-2 1-2 1 6 1-2 1 7 1-4 1-3 1 3 1-1 1 3 1-2 1 14 1-19 1 4 1-4 1 5 1-3 1 0 1 0 1-2 1 5 1-7 1 6 1-4 1 5 1 4 1-11 1 4 1 2 1-2 1 2 1-2 1 3 1-1 1 0 1 1 1-7 1 2 1 5 1-5 1 2 1 2 1 0 1 3 1-9 1 4 1-4 1 0 1 7 1-5 1 4 1-2 1 3 1-1 1-4 1 4 1-2 1 2 1 5 1-7 1-2 1 4 1-2 1 2 1 0 1-6 1 2 1 4 1-4 1 0 1 2 1 2 1 1 1-1 1-2 1-2 1 4 1-4 1 2 1-4 1 0 1 2 1 0 1 2 1-2 1 4 1-6 1 4 1 2 1-4 1 7 1 5 1-8 1-2 1 0 1-4 1 4 1-4 1 0 1 6 1 0 1 0 1-6 1 4 1-5 1 8 1-3 1 2 1-4 1 4 1-4 1-2 1 0 1 4 1-2 1 2 1 2 1-2 1-2 1 4 1 0 1 0 1-4 1 4 1-2 1 0 1 3 1-3 1 0 1 5 1-5 1-2 1 2 1-2 1-2 1 6 1-2 1 0 1-4 1 0 1 11 1-9 1 4 1-6 1 4 1-2 1 2 1-2 1 2 1 2 1-7 1 17 1-9 1 2 1-7 1 4 1-6 1 6 1-4 1 4 1-4 1-2 1 2 1 0 1 5 1-3 1-2 1 2 1 0 1-2 1 2 1-2 1 4 1-2 1-2 1-2 1 6 1-2 1 3 1-3 1-4 1 0 1 6 1 1 1-3 1 0 1-4 1 0 1 2 1 2 1 0 1 2 1 0 1-2 1 2 1 0 1-4 1 5 1-5 1 0 1 2 1 5 1-3 1-2 1-4 1 4 1 2 1-2 1 10 1-7 1-7 1 6 1-4 1 4 1 3 1-3 1-4 1 2 1-2 1 5 1 7 1-10 1 7 1-4 1-5 1 7 1 11 1-18 1 2 1 2 1 15 1-15 1-6 1 0 1 2 1 4 1 1 1-7 1 2 1 4 1-4 1 0 1 0 1 5 1 0 1-5 1 2 1 17 1-19 1 0 1 2 1 3 1-1 1 0 1 0 1 0 1 1 1-3 1 0 1 7 1-7 1 2 1-2 1-4 1 4 1 0 1 0 1 0 1 0 1 14 1-11 1-5 1 7 1-7 1 0 1-2 1-1 1 7 1-4 1 4 1-6 1 6 1-2 1 0 1 9 1-6 1-5 1 4 1-7 1 5 1-5 1 5 1 0 1 0 1-4 1 7 1-3 1 0 1 5 1-5 1 0 1 0 1-5 1 1 1 4 1-2 1 0 1 5 1-8 1 1 1 11 1-9 1 4 1 3 1-7 1-2 1 4 1 2 1 0 1-2 1 0 1 2 1 1 1-1 1-4 1 0 1 2 1-5 1 17 1-10 1 0 1 0 1-6 1 4 1 0 1 0 1 2 1-2 1-2 1 0 1 0 1 5 1-5 1-2 1 6 1-7 1 5 1 0 1 5 1-7 1-2 1 4 1 2 1-4 1 5 1-8 1 7 1 0 1-7 1 7 1-7 1 7 1 0 1-2 1 2 1 0 1 0 1 0 1-2 1 0 1 5 1-2 1-3 1-2 1 2 1-2 1 4 1-4 1 2 1-2 1 2 1 0 1-5 1 5 1 33 1-37 1 6 1-4 1 2 1 0 1 0 1-2 1 0 1 0 1 16 1-12 1-4 1 0 1 5 1-7 1 4 1 2 1 0 1 1 1-3 1-4 1 7 1-3 1 0 1 0 1-2 1 5 1-3 1 0 1-4 1 4 1 2 1 0 1-2 1 2 1-2 1 2 1 0 1 3 1-3 1-2 1 5 1-3 1-6 1 2 1 0 1 4 1-2 1 2 1 0 1-2 1 2 1-2 1 0 1 0 1-23 1 4 1 1 1 23 1-10 1-4 1 11 1-9 1 0 1 37 1-44 1 12 1-3 1 15 1-17 1 35 1-21 1-25 1 13 1 22 1-36 1 19 1 12 1-10 1 0 1-7 1-4 1 25 1 12 1-54 1 12 1 0 1 5 1-2 1 7 1-8 1 3 1 0 1-3 1 3 1-5 1-12 1 12 1 0 1 0 1 2 1 0 1 28 1-14 1-9 1 21 1-25 1-1 1-13 1 14 1 6 1-14 1 5 1 5 1-3 1 1 1-10 1 10 1 2 1-2 1 21 1-8 1-2 1-26 1 17 1-5 1 2 1 3 1 5 1 16 1-28 1 11 1 14 1-14 1-14 1 21 1-32 1 14 1-16 1 14 1 0 1 16 1-10 1 10 1 18 1-16 1-11 1-5 1 0 1-3 1 5 1 7 1-4 1 18 1-11 1-5 1-9 1 0 1 16 1-21 1 11 1-4 1 18 1-11 1-21 1 18 1 8 1 0 1 4 1 0 1 19 1-35 1-2 1 9 1-7 1 11 1-4 1 0 1-7 1 9 1-2 1 21 1-31 1 17 1-14 1 0 1-10 1 33 1-26 1 43 1-12 1-24 1 24 1 11 1-27 1 34 1-46 1-3 1 12 1 24 1-19 1-7 1-14 1 19 1-5 1 4 1 12 1 12 1-24 1-2 1-2 1-5 1 5 1-9 1 34 1-23 1 5 1 18 1-27 1 7 1-10 1-2 1 44 1-46 1 9 1-7 1 0 1 4 1 19 1-19 1-7 1-9 1 44 1 1 1-38 1 5 1 0 1 7 1-12 1 10 1 2 1 28 1-17 1-7 1-4 1-16 1 53 1-53 1 18 1 3 1 6 1-18 1 46 1-48 1 2 1 16 1-18 1 14 1-1 1 5 1 2 1-7 1 33 1-61 1 22 1-8 1 0 1 5 1 0 1 2 1 8 1-7 1-1 1 7 1-2 1 3 1-7 1-8 1 1 1 7 1-14 1 11 1 7 1-4 1-7 1 9 1 30 1-35 1 44 1-56 1 15 1-1 1 1 1 2 1 4 1 5" stroke="#2ea65c" stroke-width="0.9" marker-start="url(#m3)" marker-mid="url(#m3)" marker-end="url(#m3)"/></g><path d="M594.7 285.3V460.3" stroke="#c4c4c4" stroke-width="1" fill="none"/><text class="tk" x="590.4" y="463.9">0</text><text class="tk" x="590.4" y="428.9">20</text><text class="tk" x="590.4" y="393.9">40</text><text class="tk" x="590.4" y="358.9">60</text><text class="tk" x="590.4" y="323.9">80</text><text class="tk" x="590.4" y="288.9">100</text><path d="M594.2 460.3h6M594.2 425.3h6M594.2 390.3h6M594.2 355.3h6M594.2 320.3h6M594.2 285.3h6" stroke="#8a8a8a" stroke-width="1" fill="none"/><text class="yl" transform="translate(563.4 365.8) rotate(-90)" textLength="116.6" lengthAdjust="spacingAndGlyphs">No. of FSF domains</text><path d="M859.4 330H890.3" stroke="#c8c8c8" stroke-width="2.6"/><circle cx="874.8" cy="330.1" r="1.15" fill="#1a1a1a"/><text class="lt" x="894" y="334.6" textLength="76.3" lengthAdjust="spacingAndGlyphs">Nuclear transfer</text><path d="M859.4 357H890.3" stroke="#f8eaa6" stroke-width="2.6"/><circle cx="874.8" cy="356.7" r="1.15" fill="#bba400"/><text class="lt" x="894" y="361.2" textLength="75.0" lengthAdjust="spacingAndGlyphs">RNA processing</text><path d="M859.4 383H890.3" stroke="#f4b0b4" stroke-width="2.6"/><circle cx="874.8" cy="383" r="1.15" fill="#6e0a10"/><text class="lt" x="894" y="387.5" textLength="76.3" lengthAdjust="spacingAndGlyphs">DNA replication</text><path d="M859.4 409H890.3" stroke="#f8c0a6" stroke-width="2.6"/><circle cx="874.8" cy="409.2" r="1.15" fill="#6a2a0a"/><text class="lt" x="894" y="413.7" textLength="63.2" lengthAdjust="spacingAndGlyphs">Transcription</text><path d="M859.4 435.5H890.3" stroke="#4cb87a" stroke-width="1.0"/><circle cx="874.8" cy="435.2" r="1.15" fill="#0a4a22"/><text class="lt" x="894" y="439.7" textLength="52.7" lengthAdjust="spacingAndGlyphs">Translation</text><path d="M859.4 461.5H890.3" stroke="#5a5a5a" stroke-width="1.0"/><circle cx="874.8" cy="461.8" r="1.15" fill="#000000"/><text class="lt" x="894" y="466.3" textLength="96.6" lengthAdjust="spacingAndGlyphs">Chromatin structure</text></g>
<g><text class="ti" x="594.4" y="490.0" textLength="67.1" lengthAdjust="spacingAndGlyphs">Regulation</text><path d="M594.7 516.0V499.4H838.75V516.0M612.2 499.4V516.0M778.4 499.4V516.0" fill="none" stroke="#6e6e6e" stroke-width="1.15"/><text class="br" x="603.5" y="510.9">A</text><text class="br" x="707.3" y="510.9">B</text><text class="br" x="808.6" y="510.9">E</text><g class="d"><path class="s" transform="translate(595 0) scale(0.25 1.0)" vector-effect="non-scaling-stroke" d="M0 697l1 0 1 0 1-4 1 0 1 4 1 0 1 0 1 0 1 0 1 0 1-4 1 0 1 4 1 0 1 0 1-4 1 4 1-4 1 4 1-4 1 4 1-4 1 4 1 0 1-4 1 4 1 0 1-4 1 4 1 0 1-4 1 0 1 4 1-4 1 0 1 4 1 0 1 0 1 0 1 0 1 0 1 0 1-4 1 4 1 0 1 0 1 0 1 0 1 0 1 0 1 0 1 0 1 0 1 0 1 0 1 0 1 0 1-4 1 4 1 0 1 0 1 0 1-4 1 4 1 0 1 0 1 0 1-4 1 0 1 4 1 0 1 0 1-4 1 4 1-4 1 4 1 0 1 0 1 0 1-4 1 4 1 0 1 0 1 0 1 0 1 0 1-4 1 4 1 0 1-4 1 4 1 0 1 0 1-4 1 4 1 0 1 0 1 0 1 0 1 0 1 0 1 0 1 0 1-4 1 4 1 0 1 0 1 0 1-4 1 4 1 0 1 0 1 0 1 0 1 0 1 0 1 0 1-4 1 4 1-4 1 0 1 4 1-4 1 4 1 0 1 0 1-4 1 4 1 0 1 0 1 0 1 0 1 0 1-4 1 0 1 4 1 0 1-4 1 4 1 0 1 0 1 0 1-4 1 4 1 0 1 0 1 0 1 0 1 0 1 0 1-4 1 0 1 4 1 0 1-4 1 4 1 0 1 0 1 0 1 0 1 0 1-4 1 4 1 0 1 0 1 0 1 0 1 0 1 0 1 0 1-4 1 4 1 0 1 0 1 0 1 0 1 0 1 0 1 0 1 0 1 0 1 0 1 0 1 0 1 0 1-4 1 4 1 0 1 0 1 0 1 0 1-4 1 4 1-4 1 4 1 0 1-4 1 0 1 4 1 0 1 0 1 0 1-4 1 4 1 0 1 0 1-4 1 4 1-4 1 4 1-4 1 0 1 4 1 0 1 0 1 0 1 0 1 0 1 0 1 0 1 0 1 0 1-4 1 4 1 0 1 0 1 0 1 0 1 0 1-4 1 4 1-4 1 4 1 0 1 0 1 0 1 0 1 0 1 0 1 0 1 0 1 0 1 0 1 0 1 0 1 0 1 0 1 0 1 0 1 0 1 0 1-4 1 4 1 0 1 0 1-4 1 4 1 0 1 0 1 0 1 0 1 0 1 0 1 0 1 0 1 0 1-4 1 4 1 0 1 0 1 0 1 0 1 0 1 0 1 0 1 0 1-4 1 4 1 0 1 0 1-4 1 4 1 0 1 0 1 0 1 0 1 0 1 0 1 0 1-4 1 4 1 0 1 0 1 0 1 0 1 0 1-4 1 4 1 0 1 0 1 0 1-4 1 4 1 0 1 0 1 0 1 0 1-4 1 0 1 4 1-4 1 4 1 0 1 0 1 0 1 0 1 0 1-4 1 4 1-4 1 4 1-4 1 0 1 4 1 0 1 0 1-4 1 0 1 4 1-4 1 4 1 0 1 0 1-4 1 0 1 4 1 0 1-4 1 4 1-4 1 4 1-4 1 4 1 0 1-4 1 0 1 4 1-4 1 4 1 0 1 0 1-4 1 0 1 4 1 0 1 0 1 0 1-4 1 0 1 0 1 0 1 4 1 0 1 0 1-4 1 4 1 0 1 0 1 0 1 0 1 0 1 0 1 0 1 0 1-4 1 4 1 0 1-4 1 4 1-4 1 4 1 0 1 0 1-4 1 4 1 0 1 0 1-4 1 4 1-4 1 4 1-4 1 4 1-4 1 4 1 0 1 0 1 0 1 0 1 0 1 0 1-4 1 4 1 0 1 0 1 0 1 0 1 0 1 0 1-4 1 0 1 0 1 4 1 0 1 0 1 0 1 0 1 0 1 0 1-4 1 0 1 0 1 0 1 4 1 0 1 0 1 0 1-4 1 4 1 0 1-4 1 4 1 0 1 0 1-4 1 4 1 0 1 0 1-4 1 0 1 0 1 4 1-4 1 0 1 0 1 4 1 0 1-4 1 4 1 0 1-4 1 0 1 4 1 0 1 0 1-4 1 4 1 0 1 0 1-4 1 4 1 0 1 0 1 0 1 0 1 0 1-4 1 4 1 0 1 0 1 0 1-4 1 4 1 0 1-4 1 4 1 0 1 0 1 0 1 0 1 0 1-4 1 0 1 0 1 4 1 0 1-4 1 0 1 4 1 0 1 0 1 0 1 0 1-4 1 4 1 0 1 0 1 0 1 0 1 0 1 0 1-4 1 0 1 4 1 0 1 0 1 0 1-4 1 4 1 0 1-4 1 4 1-4 1 4 1 0 1 0 1 0 1 0 1 0 1 0 1-4 1 0 1 4 1 0 1 0 1 0 1 0 1 0 1 0 1 0 1-4 1 4 1 0 1 0 1 0 1 0 1-4 1 4 1-4 1 4 1 0 1 0 1-4 1 0 1 4 1 0 1 0 1 0 1 0 1 0 1-4 1 0 1 4 1 0 1-4 1 4 1-4 1 4 1 0 1 0 1 0 1-4 1 4 1-4 1 4 1-4 1 4 1-4 1 4 1-4 1 4 1 0 1 0 1 0 1-4 1 4 1 0 1 0 1 0 1 0 1 0 1 0 1 0 1 0 1 0 1 0 1-4 1 4 1 0 1 0 1 0 1 0 1-4 1 0 1 4 1 0 1-4 1 0 1 4 1 0 1 0 1 0 1 0 1 0 1 0 1 0 1-4 1 4 1 0 1 0 1-4 1 4 1 0 1-4 1 4 1-4 1 4 1-4 1 0 1 4 1 0 1 0 1-4 1 4 1 0 1 0 1-4 1 0 1 0 1 4 1 0 1-4 1 4 1 0 1 0 1 0 1 0 1-4 1 4 1 0 1-4 1 4 1 0 1 0 1 0 1 0 1 0 1 0 1 0 1 0 1 0 1-4 1 4 1 0 1 0 1-4 1 4 1 0 1-4 1 4 1 0 1 0 1 0 1 0 1 0 1 0 1 0 1 0 1 0 1-4 1 0 1 4 1 0 1 0 1 0 1-4 1 4 1 0 1 0 1 0 1 0 1 0 1 0 1 0 1-4 1 4 1 0 1-4 1 0 1 4 1 0 1-4 1 0 1 4 1 0 1 0 1 0 1 0 1 0 1 0 1 0 1 0 1-4 1 4 1 0 1 0 1-4 1 4 1 0 1 0 1 0 1-4 1 4 1 0 1-4 1 4 1 0 1 0 1-4 1 4 1 0 1 0 1 0 1 0 1-4 1 4 1 0 1 0 1-4 1 4 1 0 1 0 1 0 1-4 1 4 1 0 1 0 1-4 1 4 1-4 1 4 1-4 1 0 1 4 1-4 1 0 1 4 1 0 1-4 1 4 1 0 1 0 1 0 1 0 1-4 1 0 1 0 1 4 1 0 1 0 1 0 1-4 1 4 1-4 1 4 1 0 1 0 1-4 1 4 1 0 1 0 1-4 1 4 1-4 1 0 1 4 1 0 1-4 1 4 1 0 1 0 1-4 1 0 1 4 1-4 1 0 1 0 1 0 1 4 1-4 1 0 1 4 1 0 1 0 1-4 1 0 1 0 1 0 1 4 1 0 1-4 1 0 1 0 1 0 1 4 1-4 1 0 1 0 1 0 1 0 1 4 1-4 1 4 1-4 1 4 1 0 1-4 1 0 1 0 1 0 1 4 1-4 1 0 1 4 1 0 1 0 1 0 1 0 1 0 1-4 1 0 1 4 1-4 1 0 1 0 1 4 1 0 1 0 1 0 1-4 1 4 1-4 1 0 1 0 1 4 1-4 1 0 1 0 1 0 1 4 1 0 1 0 1-4 1 0 1 4 1 0 1-4 1 0 1 0 1 0 1 4 1-4 1 0 1 0 1 0 1 0 1 0 1 0 1 4 1 0 1 0 1 0 1 0 1 0 1 0 1-4 1 4 1-4 1 4 1 0 1-4 1 4 1 0 1 0 1-4 1 0 1-3 1 3 1 0 1 0 1 4 1 0 1-4 1 4 1-4 1 4 1 0 1 0 1-4 1 0 1 0 1 4 1 0 1-4 1 0 1 0 1 4 1 0 1 0 1-4 1 0 1 4 1-4 1 0 1 0 1 4 1 0 1-4 1 0 1 0 1 4 1 0 1 0 1 0 1-4 1 0 1 0 1 0 1 0 1 0 1 4 1 0 1-4 1 0 1 4 1 0 1 0 1 0 1-4 1 0 1 0 1 4 1-4 1 0 1 4 1 0 1-7 1 3 1 4 1 0 1-4 1 4 1-7 1 3 1 4 1-4 1 4 1-4 1 0 1 4 1-4 1 0 1 4 1-4 1 0 1 0 1 4 1-4 1 4 1-4 1 4 1-4 1 0" stroke="#555555" stroke-width="0.9" marker-start="url(#m2)" marker-mid="url(#m2)" marker-end="url(#m2)"/><path class="s" transform="translate(595 0) scale(0.25 1.0)" vector-effect="non-scaling-stroke" d="M0 693l1-3 1 0 1 3 1-7 1 4 1 0 1 3 1 0 1 4 1-4 1-3 1 0 1 0 1 3 1 0 1 0 1-3 1-4 1 7 1 0 1 0 1 0 1 0 1-3 1 7 1-4 1 0 1-3 1 0 1 3 1-3 1 0 1 0 1 3 1 4 1-7 1 3 1 0 1-3 1 7 1-4 1-3 1 0 1 3 1 4 1-4 1-3 1 3 1-7 1 0 1 7 1 0 1-3 1 3 1 0 1-3 1 3 1 0 1-3 1 7 1 0 1-7 1 3 1-3 1 7 1-4 1 4 1-4 1 0 1 0 1 0 1-7 1 11 1-7 1 7 1-4 1 0 1 4 1-7 1 7 1 0 1-7 1 3 1 0 1 4 1-7 1 3 1 4 1-4 1-3 1 0 1 3 1 0 1 0 1-3 1 7 1 0 1 0 1-4 1 0 1 4 1-4 1 0 1-3 1 0 1 0 1-4 1 4 1 3 1-3 1 7 1-4 1 0 1 0 1-3 1 3 1 0 1 0 1-3 1 0 1 0 1 3 1 0 1 4 1-4 1-3 1 3 1 4 1-7 1 7 1 0 1-4 1-7 1 7 1 0 1-3 1 3 1 0 1 0 1-3 1 0 1 0 1 3 1-3 1 7 1-4 1 0 1-7 1 4 1 3 1 0 1-3 1 3 1 4 1 0 1-7 1 3 1 0 1-3 1 0 1 3 1-3 1 3 1-3 1 0 1 0 1 7 1-4 1 0 1 0 1 0 1 4 1-7 1 0 1 3 1 0 1-3 1 3 1-3 1 3 1 0 1 0 1 4 1-7 1 0 1 3 1 4 1-7 1 7 1-4 1 4 1-4 1-3 1 3 1 0 1-3 1 0 1 3 1 4 1-7 1 3 1 0 1 0 1 0 1 0 1 0 1-3 1 0 1 3 1 4 1-4 1-3 1 7 1-7 1 7 1-4 1-3 1 0 1 0 1 3 1-3 1 7 1-4 1 0 1 0 1 0 1 0 1-3 1 3 1 0 1-3 1 3 1-7 1 7 1-3 1 3 1-3 1 3 1 4 1-7 1 3 1-3 1 0 1 0 1 0 1 3 1 0 1 0 1 0 1 0 1-3 1 3 1-3 1 0 1 3 1 0 1-3 1 3 1 4 1-4 1 0 1 4 1-4 1 0 1 0 1-3 1 0 1 0 1 7 1-7 1 3 1 0 1-3 1 3 1-3 1 3 1 0 1 0 1 0 1 0 1-3 1 0 1 0 1 3 1 0 1 0 1 4 1 0 1-4 1-3 1 0 1 0 1 3 1 0 1 0 1 0 1-3 1 3 1 0 1-3 1 3 1 0 1 0 1 0 1 4 1-4 1 4 1-7 1 7 1 0 1-4 1-3 1 3 1-3 1 3 1 0 1 0 1 0 1 0 1-3 1 0 1 3 1 0 1-3 1 0 1 3 1 0 1-3 1 0 1 3 1 4 1-4 1-3 1 3 1-3 1 3 1 0 1 0 1-3 1 0 1 3 1 4 1-7 1 3 1 0 1-3 1 3 1-3 1 3 1 0 1 0 1-3 1 7 1-4 1 4 1 0 1-4 1 4 1-7 1 7 1-7 1 3 1 4 1-7 1 3 1 0 1-3 1 3 1 0 1-3 1 0 1 7 1-4 1 0 1 0 1 0 1-3 1 0 1 3 1 0 1 0 1-3 1 3 1-3 1 3 1 0 1 0 1 4 1 0 1-7 1 3 1-3 1 3 1-3 1 7 1 0 1-7 1 0 1 3 1 0 1-3 1 3 1 4 1-7 1 7 1-7 1 0 1 3 1-3 1 7 1-4 1 0 1-3 1 0 1 3 1 0 1-3 1 0 1 3 1-7 1 11 1-7 1 0 1 7 1-7 1 7 1 0 1-4 1 0 1 0 1 0 1-3 1 0 1 0 1 7 1-4 1 0 1-3 1 3 1-3 1 3 1-3 1 0 1 3 1 0 1 0 1 0 1 0 1 0 1 4 1 0 1-4 1-3 1 0 1 0 1 7 1-7 1-4 1 11 1-4 1 0 1-3 1 3 1 0 1-3 1 3 1-3 1 3 1 4 1-4 1-3 1 7 1-4 1 0 1 4 1-4 1 0 1-3 1 3 1 0 1 0 1 0 1 0 1 0 1 4 1-7 1 0 1 3 1 0 1 0 1 0 1 0 1 0 1 4 1 0 1-4 1-3 1 3 1 0 1-3 1 3 1 4 1-7 1 3 1 0 1 0 1-3 1 7 1-7 1 0 1 0 1 7 1-4 1-3 1 3 1 0 1 0 1 0 1 4 1-7 1 3 1 0 1 4 1-7 1 3 1 0 1 0 1 0 1 0 1-3 1 7 1-4 1 0 1-3 1 3 1-3 1 3 1-3 1 3 1 0 1 0 1 0 1-3 1 0 1 3 1 0 1-7 1 4 1 0 1 3 1 0 1 0 1 0 1 0 1-3 1 7 1-4 1 0 1-3 1 0 1 7 1-4 1 0 1 0 1-3 1 3 1 4 1-7 1 0 1 0 1 3 1 0 1-3 1 0 1 3 1-3 1 7 1-4 1 4 1-4 1 4 1-4 1-3 1 3 1 0 1-3 1 3 1 0 1 0 1 0 1 0 1 4 1-7 1 3 1 0 1-3 1 0 1 7 1 0 1-4 1 0 1 0 1-3 1 3 1 0 1 0 1 0 1 0 1 4 1-7 1 3 1 4 1-4 1 0 1-3 1-4 1 7 1 4 1-7 1 7 1-4 1 0 1 0 1 0 1 0 1-3 1 3 1-3 1 0 1 3 1-3 1 0 1 7 1 0 1-4 1 0 1-3 1 0 1 0 1 3 1 0 1 0 1-3 1 0 1 3 1-3 1 7 1-7 1 0 1 3 1 0 1 0 1-3 1 0 1 7 1-7 1 7 1 0 1-4 1 0 1 0 1 0 1-3 1 0 1 3 1-10 1 7 1 7 1-4 1 4 1-4 1 0 1-3 1 7 1-4 1-3 1 3 1-3 1 0 1 7 1-7 1 7 1-4 1-3 1 7 1 0 1 0 1-4 1 0 1 4 1-7 1 3 1 4 1-4 1 0 1 0 1-3 1 3 1 0 1-3 1 0 1 0 1 0 1 3 1 4 1 0 1-4 1-3 1 7 1-7 1 0 1 0 1 7 1 0 1-4 1 0 1-3 1 7 1-7 1 3 1 0 1 0 1-3 1 3 1 0 1 0 1 4 1-7 1 0 1-4 1 4 1 3 1 0" stroke="#8a8a8a" stroke-width="1.8" marker-start="url(#m6)" marker-mid="url(#m6)" marker-end="url(#m6)"/><path class="s" transform="translate(595 0) scale(0.25 1.0)" vector-effect="non-scaling-stroke" d="M734 690l1-7 1 10 1-7 1 0 1-3 1 10 1-7 1-3 1 7 1 0 1 3 1 4 1-7 1-4 1 0 1 11 1-7 1 0 1 3 1-3 1 0 1 3 1-7 1 0 1 4 1 0 1-11 1 0 1 14 1-10 1 14 1-4 1-7 1 4 1-7 1-4 1 0 1 4 1 0 1 3 1 0 1-3 1 10 1-10 1 0 1 0 1 0 1-4 1-3 1 7 1 7 1-11 1 7 1 7 1 0 1-14 1 7 1-10 1 10 1-3 1 7 1 0 1 0 1-4 1 0 1 0 1 11 1-14 1 0 1 0 1 10 1 0 1-7 1-10 1 14 1-4 1 4 1-4 1-7 1 0 1 18 1-11 1-7 1 0 1 7 1 7 1-3 1-7 1-7 1 10 1 0 1-3 1 3 1-3 1-7 1 10 1-3 1 7 1-7 1 0 1 0 1 3 1 7 1-3 1-4 1 0 1 0 1-3 1-4 1 4 1-7 1 17 1-3 1-4 1 11 1-14 1 3 1 7 1-10 1-7 1 14 1 0 1-7 1 3 1-3 1-4 1 7 1 0 1 0 1-3 1 14 1-7 1-4 1-3 1 7 1-7 1 10 1-21 1 21 1-10 1 7 1 7 1-11 1-3 1 7 1 0 1-7 1 14 1-14 1-7 1 3 1 4 1 7 1-11 1 11 1 0 1-7 1 7 1-11 1 7 1-7 1 4 1 3 1-3 1 10 1-3 1-7 1 0 1 3 1-7 1 11 1 0 1-14 1 14 1-7 1 7 1-7 1-4 1 4 1 0 1-4 1 0 1-3 1 17 1-21 1 25 1-14 1 7 1-7 1-4 1 7 1 4 1-7 1-7 1 10 1 11 1-7 1-4 1-3 1-4 1 7 1-3 1-4 1 7 1-3 1 14 1-11 1 4 1-4 1-14 1 25 1-4 1-14 1 7 1 0 1-7 1 7 1 4 1-4 1-3 1-7 1 10 1 11 1-11 1 0 1-3 1 14 1-18 1 7 1-7 1 0 1 11 1-4 1-3 1-4 1 7 1 7 1-7 1 4" stroke="#b0b0b0" stroke-width="1.4" marker-start="url(#m18)" marker-mid="url(#m18)" marker-end="url(#m18)"/><path class="s" transform="translate(595 0) scale(0.25 1.0)" vector-effect="non-scaling-stroke" d="M0 686l1-3 1 7 1-11 1 7 1-3 1-4 1 4 1 0 1 3 1-3 1 0 1-4 1 0 1 4 1 7 1-7 1 7 1-7 1 0 1-4 1 4 1 3 1 0 1 0 1-3 1 3 1 4 1 0 1-11 1 0 1 0 1 11 1 0 1-7 1 0 1 0 1 3 1-3 1-4 1 7 1 4 1-7 1 7 1 3 1-10 1 3 1 0 1 4 1-7 1 7 1-4 1-7 1 7 1 0 1-7 1 0 1 7 1 0 1 4 1-11 1 4 1 10 1-10 1-4 1 7 1-3 1-4 1 0 1 4 1 3 1-3 1 0 1 7 1-4 1-3 1 0 1 0 1 7 1-14 1 3 1 4 1 0 1 3 1 0 1 0 1 0 1 0 1-7 1 4 1-4 1 7 1 4 1-4 1-3 1 0 1 7 1-7 1 0 1 3 1-7 1-3 1 10 1-10 1 10 1-3 1-4 1 4 1 7 1-4 1-3 1-4 1 7 1-3 1 3 1 0 1-3 1-7 1 7 1-7 1 3 1 0 1 4 1-4 1 4 1-4 1 4 1 0 1 0 1 3 1-14 1 7 1 4 1 7 1-4 1-3 1 3 1-3 1 0 1-4 1 4 1-4 1-3 1 10 1-7 1 4 1 0 1 3 1-7 1 4 1 3 1-3 1 0 1 0 1 3 1 0 1-3 1 3 1 0 1 4 1-11 1 0 1 0 1-3 1 7 1 0 1 3 1 0 1-3 1 0 1-4 1-3 1 7 1 0 1-4 1 4 1-7 1 10 1-3 1-4 1 4 1 3 1 0 1-3 1 0 1-4 1 4 1-4 1 7 1-10 1 10 1-7 1 0 1 4 1 0 1 0 1-4 1 7 1-3 1 0 1 0 1-7 1 7 1 3 1-10 1 3 1 7 1-10 1 7 1-4 1 0 1 0 1 0 1 4 1 7 1-11 1 7 1-3 1 3 1 4 1 0 1-11 1 4 1-7 1 7 1 3 1-3 1-4 1 4 1 0 1 0 1 0 1-4 1 0 1-3 1 10 1 4 1-14 1 10 1-7 1-3 1 3 1-3 1 10 1-3 1 0 1 3 1 4 1-7 1-4 1 0 1-3 1 7 1-4 1 4 1 3 1-7 1 14 1-10 1-7 1 7 1 0 1 0 1 3 1-3 1 3 1-3 1 3 1 0 1-3 1 0 1 3 1 0 1-7 1 4 1 0 1 3 1-3 1 0 1 0 1 0 1-11 1 14 1-3 1 0 1 0 1 3 1-3 1-4 1 4 1-7 1 7 1 3 1 0 1 0 1-3 1 3 1-7 1 4 1 0 1 3 1 4 1-4 1-3 1-4 1 4 1 0 1-4 1 4 1-4 1 0 1 4 1 0 1 0 1-4 1 4 1 0 1-4 1 4 1-7 1 3 1 4 1-4 1 4 1-4 1 4 1 7 1-4 1-3 1 0 1 0 1 7 1-4 1 0 1-10 1 10 1-7 1 4 1-4 1 0 1 4 1 3 1-3 1 0 1 3 1-7 1 0 1 4 1 0 1-7 1 7 1-4 1 4 1 3 1-7 1 4 1 7 1-14 1 7 1 3 1 0 1-3 1 0 1 0 1-7 1 7 1-4 1 0 1 4 1 0 1 0 1 3 1-7 1 7 1 4 1-11 1 4 1-4 1-3 1 3 1 7 1-3 1-4 1 7 1-3 1 7 1-7 1 3 1-3 1 3 1-3 1 3 1-10 1 7 1 3 1-3 1 3 1-3 1 0 1 3 1-3 1 3 1-3 1 0 1 0 1 3 1-3 1 7 1-7 1 0 1 3 1-3 1 3 1-3 1 3 1 0 1 0 1 0 1 0 1 0 1-3 1 0 1 0 1 3 1-7 1 0 1 0 1 4 1-4 1 0 1 4 1 0 1-7 1 7 1 3 1-10 1 3 1 7 1-3 1-7 1 3 1 4 1 3 1-3 1 0 1 0 1 3 1-7 1 7 1-7 1 4 1 0 1 0 1-7 1 7 1 7 1-7 1-4 1 4 1 0 1-7 1 0 1 7 1 0 1-4 1 0 1 11 1-7 1 0 1 0 1-4 1 4 1 3 1-3 1 3 1 0 1-7 1 7 1-3 1 0 1-7 1 3 1 0 1 4 1-4 1 4 1 3 1-3 1 0 1-7 1 10 1 4 1-7 1-4 1 0 1 4 1 0 1 0 1 0 1 3 1-3 1-4 1 0 1 0 1 7 1 0 1-7 1 0 1 4 1 0 1-4 1 4 1 7 1-4 1-10 1 7 1-7 1 7 1-4 1 4 1 0 1 0 1-4 1 4 1-4 1 0 1 7 1-3 1 3 1 0 1-3 1-4 1 0 1 0 1-3 1 7 1 0 1 7 1-7 1-7 1 10 1 0 1-14 1 7 1 0 1-3 1 3 1 4 1 0 1 0 1 3 1-10 1 3 1 4 1-4 1 7 1 4 1-7 1 3 1 0 1-3 1 0 1-4 1 4 1 3 1 0 1-3 1-7 1 3 1 0 1 4 1 0 1 3 1-10 1 7 1 3 1-3 1-4 1 0 1 4 1-4 1 0 1 4 1 3 1-3 1-7 1 7 1-4 1 7 1-3 1-4 1 0 1 7 1-3 1 3 1-3 1 3 1-7 1 0 1 0 1 4 1-4 1 11 1-4 1-3 1 0 1 7 1 0 1-4 1-7 1 0 1 0 1 4 1 0 1 0 1-4 1-3 1 7 1 3 1 4 1-4 1-7 1 4 1 0 1 0 1 3 1 0 1-3 1 0 1-4 1 4 1-7 1 3 1 4 1-4 1 7 1-3 1-7 1 10 1 0 1 0 1-7 1 7 1-3 1 0 1 0 1 0 1 3 1 0 1-3 1-4 1 7 1-10 1 3 1 0 1 0 1 4 1 0 1 0 1 0 1-7 1 10 1-7 1 4 1-4 1 4 1 0 1 0 1 0 1-7 1 3 1-3 1 10 1-7 1 7 1-10 1 7 1 0 1-4 1 4 1 0 1 3 1-3 1-4 1 0 1-3 1 7 1 0 1 7 1-18 1 4 1 3 1 7 1 0 1-3 1 3 1-7 1 0 1 4 1 7 1-7 1-7 1 3 1 7 1 0 1 0 1 0 1-3 1-4 1-3 1 7 1-7 1 14 1-7 1 0 1 0 1-7 1 7 1 0 1-4 1 4 1-7 1 7 1-7 1 10 1-10 1 10 1 0 1 0 1 0 1 0 1-3 1 7 1-7" stroke="#e8c860" stroke-width="0.9" marker-start="url(#m19)" marker-mid="url(#m19)" marker-end="url(#m19)"/><path class="s" transform="translate(595 0) scale(0.25 1.0)" vector-effect="non-scaling-stroke" d="M734 634l1 3 1 0 1-3 1 3 1 0 1 4 1-4 1 0 1-3 1 3 1-3 1 3 1-3 1 10 1-7 1 0 1 0 1 0 1-7 1 11 1-4 1 0 1 4 1-7 1 3 1 4 1-7 1 0 1 3 1 0 1 0 1 4 1-4 1 0 1 4 1 0 1 0 1-4 1 4 1 0 1-4 1 0 1-3 1 10 1-7 1 0 1 0 1 0 1 4 1-4 1 0 1 0 1-3 1 7 1-4 1 0 1 4 1-4 1 0 1 0 1 4 1-7 1 3 1 7 1-10 1 7 1 0 1-4 1-3 1 7 1-4 1 0 1 0 1 0 1 0 1 0 1 4 1 0 1-4 1 0 1 0 1 0 1 0 1-3 1 3 1 0 1 4 1-4 1 0 1 0 1 0 1 0 1 4 1-7 1 3 1-3 1 0 1 3 1 0 1 0 1 0 1-3 1 0 1 7 1-4 1 4 1-4 1-3 1 0 1 0 1 3 1 0 1 4 1-4 1 0 1-3 1 3 1 4 1 0 1-4 1-3 1 3 1-3 1 0 1 3 1 0 1 4 1-4 1 0 1 0 1-3 1 3 1 0 1 0 1-3 1 3 1 4 1 0 1-4 1 4 1-4 1 0 1 0 1 0 1 0 1 0 1 4 1-4 1-3 1 7 1-4 1 0 1-3 1 3 1-3 1 3 1-3 1 3 1 0 1 0 1-3 1 7 1-4 1 0 1-3 1 0 1 3 1 0 1 0 1 0 1 4 1-7 1 3 1 0 1-3 1 3 1 0 1-3 1 7 1 0 1-4 1 4 1 0 1-4 1 0 1-3 1 7 1-4 1 4 1 0 1-4 1 4 1-4 1 0 1-3 1 3 1 0 1-3 1 3 1 0 1 0 1 0 1 0 1 0 1 4 1 0 1 0 1-7 1 10 1-7 1 0 1 0 1 0 1-3 1 0 1 3 1 0 1-7 1 4 1 3 1-3 1 7 1-4 1 0 1 0 1-3 1 7 1 0 1-4 1-3 1 7 1-4 1 0 1 4 1-4 1 0 1 0 1-3 1 0" stroke="#f0d820" stroke-width="0.9" marker-start="url(#m4)" marker-mid="url(#m4)" marker-end="url(#m4)"/><path class="s" transform="translate(595 0) scale(0.25 1.0)" vector-effect="non-scaling-stroke" d="M0 669l1 7 1-21 1 10 1 11 1-7 1-4 1-3 1 3 1-7 1 14 1-7 1 4 1 10 1-14 1 0 1 7 1-7 1 0 1-3 1 10 1-3 1 7 1-7 1 3 1 0 1-10 1 17 1-3 1-14 1 3 1 7 1-10 1 14 1 0 1-7 1 0 1 0 1 10 1-7 1-7 1 11 1-4 1 0 1-3 1-4 1-7 1 11 1 7 1-14 1 7 1-4 1 4 1 7 1-11 1-3 1 7 1 3 1-7 1 4 1 0 1-4 1 4 1-7 1 10 1-7 1 4 1 3 1-7 1 7 1-7 1 7 1-7 1 0 1 0 1 0 1 0 1 0 1 0 1 4 1 0 1-11 1 7 1 0 1-3 1 3 1 0 1-3 1 3 1 0 1 4 1-11 1 4 1 3 1-3 1 0 1 3 1 0 1 4 1-7 1 0 1 10 1-3 1-4 1 4 1-4 1 0 1 4 1 0 1-7 1 10 1-7 1 0 1 0 1 0 1-3 1 3 1-7 1 7 1 0 1-7 1 7 1 0 1 4 1-7 1 3 1 7 1-17 1 7 1 10 1-10 1 7 1-4 1-3 1 3 1 4 1-7 1 0 1 7 1-11 1 7 1 0 1 0 1 0 1 4 1-4 1-3 1 0 1 3 1 0 1-3 1 3 1-3 1 0 1 7 1-7 1 3 1 0 1-3 1 3 1 0 1 7 1-7 1 4 1 0 1-7 1 3 1 4 1-4 1-3 1 0 1 0 1 10 1-7 1 4 1-7 1 3 1-3 1 0 1 0 1 0 1 3 1 4 1-4 1 11 1-4 1-10 1 14 1-18 1 11 1 0 1 0 1 0 1-7 1 10 1-10 1 3 1 7 1-3 1-4 1 0 1 0 1 4 1-4 1 0 1 4 1 3 1-7 1 0 1 0 1 0 1 4 1 0 1-4 1 0 1 7 1-7 1 4 1 3 1-7 1 0 1-3 1 3 1 0 1 4 1 0 1-7 1 0 1 3 1-3 1 10 1-3 1 7 1-7 1-7 1 3 1 4 1-7 1 0 1 7 1-11 1 11 1 0 1-7 1 3 1-3 1 7 1 0 1-7 1 0 1 3 1 4 1-4 1-3 1-4 1 4 1 10 1-7 1 4 1-4 1 0 1 0 1 0 1-3 1 7 1-4 1 0 1-3 1 3 1 4 1-7 1 0 1 7 1-4 1 0 1 11 1-11 1 4 1-4 1-7 1 7 1-3 1 3 1 4 1-7 1 0 1-4 1 11 1-7 1 3 1-7 1 7 1 4 1-4 1 4 1-7 1 0 1 0 1 0 1 0 1 3 1 0 1 4 1-4 1 0 1-3 1 7 1-4 1-3 1 3 1-3 1 10 1-7 1 0 1-7 1 4 1 3 1 0 1-3 1 7 1 0 1 3 1-7 1 4 1 0 1-7 1 7 1 0 1-4 1-3 1-4 1 4 1 0 1 0 1 7 1-7 1 3 1 0 1 4 1-7 1 0 1-4 1 14 1-3 1-7 1 3 1 0 1-7 1 11 1-7 1 7 1-4 1 0 1-3 1 0 1 3 1 0 1 4 1-7 1 3 1-3 1-7 1 14 1-7 1 3 1 4 1 0 1-4 1 0 1 0 1 4 1-7 1 7 1 0 1-4 1-3 1 0 1 7 1 0 1 0 1-4 1-3 1 10 1-7 1 4 1 3 1-7 1 0 1-3 1 7 1-4 1 4 1-4 1 7 1-7 1 4 1-4 1 0 1-3 1-4 1 7 1 4 1-4 1 0 1 0 1-3 1 3 1-3 1-4 1 11 1 0 1 0 1 0 1-4 1-3 1 3 1 0 1-3 1 3 1 0 1-3 1 0 1 3 1 0 1 7 1-7 1 7 1-3 1-7 1 3 1 4 1-4 1-3 1 0 1 10 1-14 1 11 1 7 1-11 1-3 1 7 1 7 1-7 1-4 1-7 1 11 1 0 1-4 1-3 1-4 1 14 1-10 1 3 1-3 1 10 1-10 1 0 1 3 1 4 1-4 1 0 1-3 1 7 1 3 1-10 1 0 1 10 1-7 1 0 1 4 1-4 1 4 1-7 1 7 1-7 1 0 1 3 1-3 1 14 1-11 1 0 1 0 1 4 1-4 1 0 1 0 1 4 1 3 1-7 1 0 1-3 1 14 1-11 1 0 1-7 1 4 1 0 1 7 1-4 1 4 1-4 1 0 1-3 1 0 1 10 1-10 1 0 1 7 1 3 1-3 1 3 1-7 1 7 1-7 1 7 1-7 1 4 1-4 1-3 1 3 1-3 1 3 1 4 1 0 1 0 1 0 1 3 1-3 1 0 1-4 1-3 1 7 1-4 1 0 1-3 1 10 1 0 1-17 1 14 1 0 1-4 1-3 1 3 1 4 1-7 1 10 1-10 1 3 1 0 1 4 1-7 1 3 1 0 1 7 1-7 1 0 1 0 1 4 1-4 1-3 1 3 1-3 1 0 1 3 1-3 1 0 1 3 1 4 1 0 1-4 1-3 1 3 1 0 1 0 1 0 1 0 1 4 1-4 1-3 1 0 1 3 1 0 1 7 1-10 1 3 1 7 1-3 1-4 1 4 1-4 1 7 1-3 1-11 1 11 1-4 1 0 1 7 1-7 1 0 1 0 1 4 1 3 1-7 1-10 1 10 1 4 1 3 1-14 1 11 1 0 1 0 1-4 1-3 1 7 1-7 1 7 1-7 1 3 1 0 1 0 1 4 1-4 1-3 1 10 1-3 1-4 1 4 1 0 1-4 1 0 1 0 1 4 1 0 1-4 1 0 1 0 1 0 1 4 1-4 1 0 1 4 1-11 1 14 1-14 1 4 1 3 1-3 1 3 1-3 1 0 1 3 1 4 1-4 1 7 1-3 1-4 1 0 1 4 1 0 1 0 1-11 1 7 1-7 1 7 1 4 1-4 1-3 1 3 1 0 1 0 1 7 1-10 1 0 1-4 1 7 1 0 1-3 1 3 1 0 1 0 1 0 1 4 1 0 1-4 1 0 1 7 1-7 1-3 1 3 1-3 1 3 1 0 1 0 1 0 1 4 1-4 1-3 1 3 1 7 1 0 1-10 1 3 1 7 1-3 1-7 1 10 1-3 1-7 1 3 1 0 1 4 1-4 1 0 1 0 1 0 1-3 1 3 1 0 1-7 1 7 1 0 1 4 1-4 1-3 1 3 1-3 1 0 1 3 1-7 1 4 1-4 1 4 1 3 1-3 1 3 1 0 1 0 1-3 1-4 1 11 1-7 1 0 1 10 1 0 1-10 1 21 1-21 1 3 1 7 1-7 1 4 1-7 1 0 1 3 1 4 1 0 1 0 1 3 1 4 1 0 1-7 1-4 1 4 1-4 1 4 1 3 1 4 1-14 1 10 1 0 1-7 1 4 1-4 1 4 1 10 1-14 1 4 1 0 1 3 1-7 1-10 1 3 1 18 1-4 1-7 1 11 1-11 1 4 1-4 1-3 1-4 1 21 1-7 1 4 1 0 1-18 1 0 1 11 1 7 1-7 1-4 1 7 1-7 1-3 1 3 1 14 1-7 1-3 1 3 1-3 1 7 1-4 1-14 1 7 1 0 1 0 1 0 1 0 1 4 1-11 1 14 1-10 1 0 1 3 1 14 1-10 1-4 1 0 1 4 1-4 1 7 1 0 1-14 1 11 1-4 1 4 1-4 1 0 1 4 1 3 1-3 1-7 1 3 1-3 1 3 1 7 1-7 1 11 1-7 1 3 1-10 1 10 1-3 1-4 1 7 1-7 1-3 1 3 1-3 1 7 1-4 1 7 1-7 1 4 1-7 1 7 1-11 1 7 1-3 1 7 1-11 1 7 1 4 1-7 1 0 1 0 1 0 1 17 1-3 1-7 1 3 1-3 1-4 1 4 1 0 1-11 1 11 1 7 1-4 1-17 1 7 1 14 1-7 1-4 1 7 1-7 1 4 1-7 1-4 1 18 1-14 1-7 1 10 1 0 1 4 1-11 1 11 1 0 1-7 1 3 1 4 1-4 1 7 1 4 1-11 1 0 1-7 1 11 1-4 1 0 1-3 1 3 1 0 1 4 1 3 1 0 1-10 1-4 1 0 1 7 1 7 1-10 1 3 1 0 1 4 1 10 1-10 1-11 1 7 1-7 1 0 1 7 1 4 1 3 1-14 1 11 1 0 1 0 1-11 1 14 1-14 1 7 1 11 1-7 1 10 1-7 1-3 1-7 1 3 1 7 1-3 1 3 1-3 1 0 1 3 1-7 1 11 1-14 1 7 1 7 1-7 1-14 1 10 1 11" stroke="#ee6a28" stroke-width="1.0" marker-start="url(#m7)" marker-mid="url(#m7)" marker-end="url(#m7)"/><path class="s" transform="translate(595 0) scale(0.25 1.0)" vector-effect="non-scaling-stroke" d="M0 672l1 4 1 0 1-4 1 4 1-7 1 3 1-3 1 3 1-3 1 3 1-3 1 3 1 0 1-3 1 7 1-4 1 0 1-3 1 3 1-7 1 0 1 4 1-4 1 4 1 3 1 0 1 7 1-7 1-3 1 3 1-7 1 0 1 7 1 0 1 0 1-3 1 3 1 0 1-3 1 10 1 0 1-7 1 4 1-11 1 4 1 3 1 0 1 4 1-11 1 7 1 0 1 0 1-3 1 3 1 0 1 0 1-3 1 3 1-3 1 3 1 4 1 0 1-7 1-4 1 7 1 4 1-4 1 0 1 0 1-3 1 7 1 3 1-10 1 0 1 0 1 3 1 4 1-4 1 4 1-4 1 4 1-4 1-3 1 7 1 0 1 0 1 0 1 0 1 0 1-4 1 0 1 4 1-4 1 0 1 0 1-3 1 3 1 4 1 0 1 3 1-10 1 3 1 0 1 4 1 0 1 0 1 0 1-4 1 4 1 3 1-7 1-3 1 10 1-3 1 0 1 0 1 3 1-3 1 0 1-7 1 7 1-4 1 0 1 4 1 0 1 0 1-4 1 4 1-4 1 4 1-7 1 0 1 10 1-7 1 0 1 4 1 0 1-4 1 4 1-7 1 3 1 0 1-3 1 10 1-10 1 3 1 4 1 0 1 0 1-4 1 0 1 4 1-4 1 0 1 0 1-3 1 3 1 7 1-7 1 4 1-4 1 4 1 3 1-7 1 0 1 0 1 0 1 4 1-7 1 0 1 7 1-4 1 11 1-11 1 0 1 0 1-3 1 7 1-4 1 4 1-4 1 4 1-4 1 0 1 4 1 0 1 0 1-7 1 10 1-3 1 0 1 0 1-4 1 4 1 0 1 3 1 0 1-7 1 4 1-4 1 0 1 0 1-3 1 3 1 0 1 0 1 4 1-4 1 0 1 0 1 0 1 7 1-7 1 0 1 0 1 4 1 0 1 0 1-4 1 0 1 0 1 4 1-4 1 7 1-3 1-4 1 4 1 0 1-4 1 4 1-4 1 4 1 0 1-7 1 3 1 4 1-4 1 4 1-4 1 0 1 4 1-7 1 10 1-7 1-3 1 7 1 3 1-7 1 7 1-7 1 4 1 0 1-4 1 0 1 0 1 7 1-3 1 0 1-4 1 7 1 0 1-7 1 0 1 4 1 0 1-4 1 7 1-7 1 0 1-3 1 10 1-3 1 0 1 0 1 3 1-3 1 0 1-4 1 4 1 0 1 0 1 3 1-7 1 4 1-7 1 3 1 4 1-4 1 4 1-4 1 0 1 0 1 0 1 4 1-4 1 0 1 0 1 4 1 0 1 0 1 0 1 0 1 0 1-7 1 0 1 7 1-4 1 4 1 0 1 0 1 3 1-10 1 3 1 0 1-7 1 7 1 0 1 0 1 4 1 0 1-4 1 7 1-3 1-4 1 0 1 4 1-4 1 0 1 0 1 4 1-4 1 0 1 0 1-3 1 7 1 0 1-4 1 4 1 0 1 0 1-4 1 4 1-4 1 0 1-3 1 3 1 0 1-3 1 7 1-4 1-7 1 4 1 0 1 3 1 4 1-4 1 0 1 4 1-7 1 7 1 0 1-4 1 0 1 0 1-3 1 3 1 0 1 0 1 4 1-7 1 7 1-4 1 4 1 0 1-4 1 0 1 0 1 4 1 0 1 0 1 0 1 0 1-4 1 4 1-4 1 0 1 4 1 3 1-10 1 7 1 0 1 0 1-4 1 7 1-3 1 0 1-4 1 0 1 4 1 3 1-3 1 3 1-3 1-4 1 0 1 4 1-7 1 7 1 0 1 3 1 4 1-4 1-7 1 4 1 0 1-4 1 0 1 7 1-3 1 0 1 0 1 0 1 3 1-3 1-4 1 0 1 7 1 0 1-3 1 3 1-3 1-4 1 4 1-4 1 4 1 3 1-7 1 0 1 4 1-4 1 0 1 4 1 3 1-3 1 0 1-4 1 4 1 3 1 0 1-3 1 0 1-4 1 4 1 0 1 0 1 0 1-7 1 3 1 0 1 7 1-3 1 0 1-4 1 4 1 0 1-4 1 7 1-3 1-4 1 0 1-3 1 0 1 3 1 4 1 0 1-4 1 0 1 0 1 7 1 0 1-3 1 0 1 0 1 0 1-7 1 10 1 0 1-10 1 3 1 7 1-7 1 4 1 0 1-4 1 4 1-11 1 4 1 3 1 4 1-7 1 7 1-11 1 11 1 0 1-4 1 0 1 0 1 0 1-3 1 10 1-7 1 4 1 0 1 0 1-4 1 0 1 0 1 4 1 0 1-4 1 7 1-7 1 0 1 4 1-4 1 0 1 4 1 0 1-7 1 3 1 0 1-3 1 3 1 0 1 4 1 0 1 0 1 0 1 0 1-4 1 0 1 4 1 0 1 3 1 0 1-3 1 3 1-10 1 3 1 7 1-3 1-4 1 4 1-4 1-3 1 10 1-3 1 0 1-4 1 0 1 7 1-7 1 4 1 0 1 0 1 0 1-4 1 0 1 4 1-4 1 4 1 0 1 0 1 0 1 0 1-4 1 0 1-3 1 7 1-4 1 0 1 0 1 4 1-7 1 7 1-4 1 0 1 4 1-4 1 4 1 0 1-4 1 0 1 0 1 7 1-7 1 0 1-3 1 3 1 4 1 0 1-4 1 0 1 4 1-4 1 4 1 0 1-4 1 0 1 7 1-3 1 0 1-4 1 0 1 4 1 0 1 0 1-4 1 0 1 0 1 7 1-7 1 7 1-7 1 0 1 4 1 0 1 0 1 0 1-4 1 0 1 4 1 3 1-10 1 3 1 4 1-7 1 3 1 0 1 0 1 4 1-7 1 14 1-11 1 4 1 0 1 0 1-4 1 0 1-3 1 3 1 4 1-7 1 10 1 0 1-7 1-3 1 3 1 0 1 7 1-3 1 3 1-7 1-3 1 7 1 3 1-7 1 0 1 4 1 3 1 0 1-3 1 0 1 0 1-4 1-3 1 0 1 3 1 0 1 4 1-4 1 4 1-7 1 10 1 0 1-7 1 7 1-7 1 4 1-4 1 0 1 0 1 4 1-4 1 4 1 0 1-4 1 4 1 0 1 0 1-7 1 0 1 7 1-4 1 4 1 3 1-3 1-4 1-3 1 7 1 0 1 0 1-4 1 4 1 0 1 0 1 0 1-4 1-3 1 7 1-4 1-3 1 7 1 0 1-4 1 0 1 4 1 0 1-4 1 4 1-7 1 7 1 0 1-32 1 7 1-7 1 4 1 0 1 14 1-14 1 3 1-3 1 10 1-7 1 0 1-3 1-4 1 4 1 3 1-3 1 3 1-3 1 10 1-10 1 10 1-7 1 4 1-11 1 7 1 0 1 0 1-3 1 7 1-14 1 10 1 0 1-3 1 10 1-7 1 0 1 4 1 0 1-4 1 0 1 4 1 3 1-7 1-3 1 7 1-7 1-4 1 11 1-4 1 4 1-4 1 0 1-3 1 3 1-3 1 0 1 0 1-4 1 0 1 7 1-3 1 3 1-7 1 7 1 0 1 4 1-4 1 4 1 3 1-10 1-4 1 4 1 3 1-7 1-3 1 10 1-3 1 3 1-7 1 4 1 0 1-4 1 7 1-7 1 7 1 4 1-7 1 3 1-7 1-3 1 10 1 4 1-7 1 0 1 0 1 10 1-10 1-7 1 7 1 0 1 0 1 0 1 0 1 3 1-3 1 0 1-4 1 0 1 11 1-11 1 7 1 7 1-14 1 4 1-4 1 7 1 0 1 4 1-7 1 3 1-3 1 0 1 7 1 0 1 3 1-7 1 0 1 0 1 4 1-4 1 0 1-3 1 7 1-7 1-4 1 4 1 7 1 0 1-4 1-10 1 3 1 4 1 0 1 0 1 0 1 0 1 3 1 0 1 0 1-7 1 4 1-4 1 0 1 7 1-3 1 3 1-7 1 7 1 4 1-4 1-3 1 3 1-3 1-4 1 4 1 3 1-3 1 3 1-3 1-4 1 0 1 7 1-3 1 3 1 0 1-10 1 10 1-3 1 10 1-3 1-4 1-3 1 0 1 7 1-4 1 0 1-7 1 4 1-4 1 7 1 0 1-10 1 14 1-4 1-3 1 7 1-7 1 3 1 0 1-10 1 7 1 0 1 0 1-4 1 7 1 0 1 0 1 4 1 0 1-4 1 4 1-11 1 14 1-14 1 7 1-3 1 3 1-10 1 7 1-4 1 4 1 0 1 0 1 3 1 0 1-7 1 4 1-4 1 4 1 0 1-4 1 7 1 4 1-4 1-7 1 4 1 3 1-7 1 7" stroke="#555555" stroke-width="0.9" marker-start="url(#m2)" marker-mid="url(#m2)" marker-end="url(#m2)"/><path class="s" transform="translate(595 0) scale(0.25 1.0)" vector-effect="non-scaling-stroke" d="M0 651l1 14 1-3 1-4 1 0 1-7 1 0 1 4 1 3 1-7 1 7 1 0 1-3 1 7 1-11 1 11 1 0 1-4 1 4 1 10 1-3 1-7 1-7 1 0 1-4 1 7 1-7 1-3 1 14 1-7 1-4 1 7 1 0 1 0 1-3 1 0 1 3 1-10 1 0 1 10 1 0 1 0 1-3 1 3 1 7 1-3 1 3 1-10 1 10 1-3 1-7 1 3 1 0 1 7 1 0 1-7 1 0 1 7 1-10 1-4 1 4 1 7 1-7 1 3 1-3 1 7 1-4 1 0 1-3 1 10 1-3 1-18 1 7 1 11 1 0 1 7 1-11 1 4 1-4 1-14 1 11 1 3 1-7 1 7 1-17 1 7 1 21 1-7 1-14 1 10 1 4 1-11 1 11 1-4 1-14 1 14 1 4 1-11 1-10 1 10 1-14 1 4 1 7 1 7 1-7 1 7 1-7 1 14 1 0 1 10 1-28 1 0 1 4 1 10 1 0 1 4 1-4 1-3 1-7 1 3 1-3 1 0 1 3 1-3 1-4 1 11 1-4 1 4 1 0 1 7 1-4 1 4 1-7 1 3 1-7 1 4 1 7 1-7 1 3 1-3 1-14 1 17 1-14 1 14 1-14 1 4 1 10 1-3 1-7 1 3 1 7 1-3 1-7 1 14 1 7 1-21 1 3 1-7 1 11 1 3 1-7 1 14 1-10 1-4 1-3 1 3 1 11 1-14 1 10 1-7 1 7 1 7 1 0 1-7 1-17 1 17 1 4 1-7 1 3 1 0 1-3 1 10 1-14 1 4 1-7 1-4 1 18 1 0 1-11 1-3 1 3 1 7 1-7 1-7 1 18 1-4 1 4 1 0 1-4 1 4 1-4 1-10 1-4 1 11 1 3 1 0 1 0 1 7 1-7 1 0 1 0 1-3 1 3 1-14 1 18 1-14 1 7 1 0 1 3 1-7 1 7 1-10 1 14 1-18 1 11 1 7 1-4 1-7 1 18 1-7 1-11 1-7 1 7 1 11 1 0 1-4 1 0 1 0 1 4 1-4 1-7 1 11 1-18 1 14 1-17 1 21 1-4 1-3 1 14 1-11 1 0 1-7 1-3 1 24 1-14 1 4 1-25 1 18 1 3 1-3 1 7 1-7 1 3 1 0 1-7 1 0 1 7 1-7 1-3 1 7 1-11 1 18 1 7 1-25 1 11 1-4 1 0 1-3 1 14 1-14 1 10 1-7 1 4 1-4 1-7 1 11 1 10 1-7 1-3 1 0 1-7 1 7 1 14 1-28 1 14 1 7 1-14 1 17 1-17 1 14 1-4 1-10 1 10 1-10 1-7 1 7 1 21 1-7 1-4 1 4 1-18 1 11 1-4 1-10 1 14 1 0 1-7 1 0 1 10 1-10 1-7 1 24 1-14 1-14 1 14 1 7 1-21 1 0 1 14 1 7 1 4 1-14 1 0 1 0 1 10 1-10 1-4 1-7 1 14 1 0 1 11 1 0 1-11 1 7 1 0 1-7 1 21 1-14 1 14 1-21 1 11 1-4 1 0 1 7 1-24 1 3 1 14 1-7 1 14 1 0 1-17 1 7 1-4 1 7 1 0 1 0 1 4 1 0 1-7 1-18 1 14 1-3 1-4 1 11 1-4 1 4 1-4 1 7 1-7 1-3 1-11 1 25 1 3 1 0 1-17 1 10 1-7 1 7 1 0 1 4 1 3 1 4 1-11 1-10 1 7 1 10 1-10 1 0 1-4 1-7 1-3 1 10 1 7 1-3 1 10 1-14 1 0 1 7 1-7 1 4 1 7 1 0 1-7 1 0 1 0 1 3 1 0 1-7 1 7 1 4 1 0 1 7 1-7 1-18 1 21 1-3 1-11 1 7 1-3 1-4 1 14 1-3 1-7 1 3 1 11 1-21 1 3 1 7 1 0 1-7 1 7 1-3 1 10 1-10 1 3 1-7 1 7 1-7 1 18 1-18 1 4 1 10 1-7 1-3 1 10 1-7 1-7 1 18 1-7 1-14 1 0 1 14 1 14 1-14 1-11 1 4 1-18 1 18 1-11 1 18 1 0 1-7 1 10 1-21 1 11 1 7 1-4 1-7 1 7 1-7 1 4 1 7 1 3 1-10 1 0 1-7 1 0 1 14 1 0 1 0 1-14 1 17 1-3 1-4 1 0 1 11 1-14 1 0 1 7 1-4 1 0 1 7 1-3 1-7 1 10 1-17 1 14 1-7 1 3 1-10 1 0 1 7 1 0 1-11 1 0 1-3 1 14 1-14 1 17 1-7 1-7 1 4 1 0 1 10 1 0 1-10 1 7 1-11 1 11 1-11 1 18 1-18 1 14 1-10 1-4 1 7 1 7 1-7 1 0 1-7 1 11 1-4 1-7 1 11 1 0 1-7 1-4 1 7 1-14 1 21 1-10 1 17 1-14 1-7 1 21 1-17 1 0 1 10 1 4 1-4 1-3 1-18 1 28 1-21 1 14 1-7 1 4 1 3 1-17 1 17 1-7 1 4 1 0 1-7 1 21 1-11 1-17 1 7 1 7 1-7 1 7 1 3 1 4 1-4 1-10 1 14 1-4 1-3 1 10 1-7 1-7 1 7 1-3 1 10 1-10 1-4 1 11 1-11 1 7 1-10 1 3 1 14 1-10 1-7 1 17 1-14 1 0 1 4 1 14 1-18 1 0 1 7 1-14 1 0 1 11 1 0 1-4 1 0 1-3 1 7 1-7 1 7 1 3 1 4 1 3 1-17 1 14 1 0 1-7 1 7 1-11 1 11 1-11 1 7 1-3 1 3 1 0 1-10 1 3 1 4 1 7 1-4 1-10 1 7 1-7 1-11 1 18 1 0 1 10 1-10 1-11 1 14 1 0 1-24 1 21 1-4 1 4 1 3 1-7 1 7 1-7 1 7 1-17 1 21 1-11 1 7 1 0 1-7 1 18 1-14 1 10 1-17 1-11 1 7 1 14 1-3 1-7 1 10 1 4 1-7 1-4 1-14 1 11 1 7 1-4 1-3 1 7 1-7 1 3 1 4 1-11 1 14 1-3 1-7 1 10 1-3 1 3 1 0 1 0 1-10 1 3 1-7 1 14 1 0 1-10 1 10 1-3 1-7 1 0 1 3 1 0 1 7 1-3 1-11 1 0 1 7 1 7 1-7 1 0 1 14 1-17 1 17 1-3 1 3 1-14 1 14 1-10 1-14 1 10 1 0 1 0 1 4 1 7 1-4 1-70 1-3 1 3 1 25 1 14 1-74 1 18 1 0 1 14 1-4 1 0 1 0 1 49 1-24 1 3 1-7 1-35 1 0 1-3 1 52 1-14 1-3 1-4 1 11 1-39 1-3 1 17 1 14 1-31 1 24 1 11 1-11 1-14 1 18 1-21 1 14 1 7 1-11 1 28 1-21 1 7 1-7 1-7 1-24 1 35 1 3 1-14 1 11 1-4 1 14 1-3 1-7 1 10 1-35 1 25 1-21 1 21 1 3 1 11 1-39 1 4 1 3 1 25 1 3 1-24 1 0 1 14 1 0 1-11 1-3 1 14 1 0 1-4 1-17 1 17 1-24 1 28 1-4 1-35 1 28 1 11 1 0 1 28 1-46 1 14 1 18 1-21 1-4 1 0 1 18 1 10 1 25 1-46 1 11 1-11 1-3 1-14 1 24 1-3 1 14 1-18 1-3 1 17 1-28 1 25 1 0 1-21 1 3 1 4 1 10 1 0 1 4 1-21 1 7 1 3 1 11 1 0 1-11 1 14 1-17 1-11 1-3 1-4 1 67 1-60 1 28 1-35 1 28 1-3 1 3 1-14 1 4 1 0 1 7 1 7 1-18 1-7 1 4 1 10 1-31 1 24 1 35 1-38 1 10 1 14 1 14 1-28 1 7 1-3 1 10 1-31 1 38 1-38 1 42 1-25 1-10 1 17 1-14 1 18 1-7 1 0 1-32 1 21 1 7 1-3 1 7 1 0 1 24 1-24 1-7 1 0 1 24 1-28 1 18 1 0 1-14 1 3 1-7 1 4 1 10 1 0 1-10 1 45 1-49 1 32 1-35 1 28 1-18 1-14 1 4 1-4 1 4 1 24 1-10 1 3 1-28 1 14 1 18 1 10 1-14 1 14 1-24 1 0 1-32 1 21 1 39 1-46 1 14 1 7 1 28 1-52 1 24 1 4 1-18 1 4 1 45 1-38 1 0 1 24 1 4 1-32 1 14 1-31 1 59 1-35 1 11 1-7 1 14 1-28 1 52 1-42 1 14 1-31 1 7 1 10 1 21 1-35 1 4 1 21 1-4" stroke="#e6323e" stroke-width="0.9" marker-start="url(#m0)" marker-mid="url(#m0)" marker-end="url(#m0)"/><path class="s" transform="translate(595 0) scale(0.25 1.0)" vector-effect="non-scaling-stroke" d="M0 641l1-4 1 7 1-7 1 7 1-3 1 0 1-4 1 4 1 0 1 0 1 3 1 0 1-3 1-4 1 7 1 4 1-11 1 4 1 3 1-3 1-4 1 4 1 0 1 3 1 0 1-7 1 7 1-7 1 4 1 0 1 3 1-3 1 0 1-4 1 4 1 0 1 0 1 0 1 0 1 0 1 3 1-3 1 0 1 3 1 0 1-3 1-4 1 7 1-3 1 0 1 3 1-3 1 0 1 0 1-4 1 4 1 3 1 0 1-3 1 3 1-3 1-4 1 4 1 3 1 0 1-3 1 0 1 0 1-4 1-3 1 3 1-17 1 7 1 17 1 7 1-31 1 31 1-10 1 3 1 0 1-10 1 10 1-10 1-7 1 14 1-7 1 17 1-21 1 4 1 0 1 0 1 0 1 10 1-14 1 7 1-14 1 11 1 3 1 4 1-4 1 7 1-3 1 0 1-11 1 4 1 10 1-7 1 0 1-10 1 7 1 7 1-4 1-3 1 0 1 0 1 10 1 4 1-11 1 0 1-7 1 18 1-11 1-3 1 3 1 4 1-14 1 10 1-3 1 10 1-31 1 38 1-28 1 11 1-7 1 14 1-7 1-4 1 14 1-10 1-7 1 14 1-7 1 0 1 3 1 0 1 4 1 0 1 0 1 3 1-7 1 0 1 4 1-11 1 4 1 14 1-14 1 7 1-7 1 0 1 7 1 7 1-28 1 35 1-18 1 14 1-14 1 0 1-3 1 0 1 3 1-24 1 28 1-32 1 28 1 0 1 4 1 7 1-11 1-10 1 17 1 0 1-3 1 0 1-32 1 35 1-14 1 11 1-4 1 4 1-7 1 3 1-7 1 7 1 14 1-21 1-7 1 11 1 3 1 7 1-7 1 7 1 0 1-3 1 0 1-11 1 21 1-17 1 3 1 0 1 0 1-10 1 17 1 0 1 0 1-3 1-4 1 0 1-14 1 11 1 7 1 7 1-7 1 0 1 3 1-3 1 3 1-7 1 11 1-14 1 17 1-7 1-7 1 4 1-21 1 24 1 0 1-10 1 0 1 10 1 7 1-7 1-17 1 14 1-4 1 7 1-7 1-3 1-4 1 4 1 3 1 0 1-3 1 7 1-11 1 14 1-17 1 0 1 3 1 11 1 0 1 3 1 0 1 0 1-3 1-7 1 3 1 4 1 10 1-7 1-10 1 7 1-14 1 10 1 0 1 4 1 7 1-7 1-14 1 10 1 11 1-4 1-7 1 0 1-3 1-4 1 11 1-7 1 3 1-3 1 10 1-10 1 3 1 4 1 3 1-17 1 0 1 3 1 14 1-10 1 3 1-7 1 18 1-4 1-10 1 28 1-25 1 4 1-4 1-3 1 7 1 0 1-4 1-3 1 7 1-4 1-3 1-7 1 14 1-4 1 0 1 4 1-4 1 4 1 3 1-35 1 21 1 14 1 7 1-10 1 0 1 0 1 0 1-21 1 17 1 4 1-4 1-17 1 24 1-17 1 10 1 4 1 0 1 10 1-35 1 18 1 3 1-3 1-4 1 14 1-7 1 4 1-18 1 14 1 0 1-10 1 14 1-7 1 7 1-14 1 14 1 3 1-7 1-3 1 14 1-7 1 0 1-14 1 14 1-7 1 7 1 14 1-11 1-14 1 7 1-10 1 7 1 3 1 14 1-21 1 4 1-4 1 4 1 0 1-4 1 4 1 0 1 0 1 10 1-7 1 0 1 0 1 0 1-7 1 0 1 11 1 0 1 7 1-7 1-14 1 3 1 4 1 0 1 7 1 0 1 10 1-24 1 17 1-7 1-7 1 7 1-7 1 7 1 4 1 3 1-10 1 14 1-4 1-17 1 7 1 7 1 10 1-17 1-11 1 18 1-7 1 3 1 0 1 0 1 0 1-10 1 17 1-10 1-7 1 0 1-7 1 21 1-18 1 14 1-7 1 4 1 10 1-17 1 3 1 4 1 3 1 0 1 4 1 3 1 0 1 0 1-17 1 3 1 7 1 0 1 7 1-10 1 0 1 0 1-7 1 7 1 7 1-4 1 0 1-3 1 7 1-32 1 32 1-14 1 10 1-3 1 14 1-14 1 0 1 3 1-3 1-11 1 14 1 0 1 7 1-10 1 10 1 7 1-17 1 10 1-7 1-3 1 10 1-3 1-7 1 0 1 0 1 3 1-3 1 7 1 3 1-17 1 17 1-10 1 10 1-3 1-14 1 14 1 10 1-7 1-14 1-14 1 18 1 3 1 4 1 10 1-7 1-10 1 10 1 4 1-11 1 7 1-3 1 0 1 7 1-11 1-14 1 21 1-14 1 0 1 4 1 10 1-14 1 14 1-3 1-4 1 0 1 0 1 7 1-14 1 11 1 14 1-14 1 3 1-7 1 4 1 3 1-10 1 0 1 3 1 0 1-3 1 7 1-11 1 11 1 7 1-4 1 0 1-10 1-4 1 18 1-18 1 4 1 7 1-32 1 25 1-11 1-7 1 11 1-4 1 25 1-14 1 7 1-7 1 3 1 4 1-4 1 4 1-11 1 0 1-7 1 11 1 10 1-14 1 14 1-7 1 4 1-4 1 0 1 0 1-21 1 14 1 14 1 0 1-14 1 11 1 0 1 3 1-10 1 3 1 0 1 4 1 3 1 0 1 4 1-11 1 4 1 3 1 0 1 4 1-18 1-3 1 10 1-10 1 0 1 7 1 7 1-4 1 4 1-7 1 3 1-10 1 0 1 14 1-14 1 7 1-14 1 28 1-4 1-14 1 4 1 0 1-14 1 17 1 4 1-14 1 0 1 7 1 0 1 3 1 0 1 0 1-7 1 0 1 7 1-7 1 11 1-11 1 7 1 0 1-3 1 0 1 7 1 0 1-4 1-7 1 11 1 7 1-35 1 14 1 3 1 11 1-7 1 7 1 3 1-3 1 3 1-10 1 0 1 0 1-4 1 14 1-10 1 7 1 3 1 11 1-14 1 0 1-7 1 10 1 0 1-10 1 7 1-4 1-3 1-4 1 14 1-14 1 7 1 4 1-11 1 4 1 7 1 3 1-14 1 7 1-7 1 14 1-7 1 11 1-4 1-24 1 7 1 7 1 3 1-14 1 18 1-21 1 7 1 28 1-11 1-7 1 7 1-10 1 7 1-11 1-3 1 17 1-10 1 3 1 0 1 4 1 0 1 0 1-7 1-11 1 21 1 0 1 0 1-7 1 4 1 3 1-3 1-7 1 3 1-3 1 3 1-7 1 7 1-77 1 39 1-39 1 35 1-38 1 38 1-38 1 0 1 0 1-4 1 7 1 18 1 14 1 3 1-42 1 4 1 59 1-59 1 0 1 35 1 7 1-7 1 17 1-52 1 3 1 56 1-7 1-56 1 42 1-3 1-39 1 0 1 56 1-10 1-4 1-3 1 14 1-42 1-7 1 0 1 49 1-49 1-4 1 0 1 46 1-46 1 7 1 35 1-42 1 7 1 39 1-35 1 42 1-7 1-46 1 46 1-7 1-4 1-31 1 38 1-17 1-21 1 35 1 3 1-42 1 7 1 42 1-10 1 24 1-59 1 35 1 24 1-17 1-39 1 11 1 24 1-38 1 42 1-4 1 0 1-17 1-7 1-21 1 45 1 21 1-59 1 56 1-53 1 60 1-56 1-4 1 4 1-7 1-4 1 0 1 7 1 11 1 28 1-42 1 42 1-21 1-21 1 38 1-28 1 25 1-35 1 38 1 25 1-28 1 0 1-28 1-11 1 42 1-38 1 0 1-4 1 4 1 35 1-35 1 38 1 4 1-39 1 4 1-7 1 3 1-3 1 35 1 21 1-56 1 38 1-42 1 4 1 35 1 28 1-21 1 0 1 0 1-7 1-35 1 0 1 42 1-46 1 46 1-4 1-24 1 35 1-14 1 17 1-56 1 4 1 31 1 7 1-7 1 25 1-18 1-42 1 0 1 4 1 56 1-60 1 42 1-38 1-4 1 4 1 0 1 0 1 38 1-35 1 35 1-38 1 3 1 0 1 25 1 31 1-24 1 17 1-49 1-3 1 17 1 14 1-35 1 0 1 4 1 35 1-39 1 0 1 18 1-11 1-3 1 38 1-21 1 25 1-46 1 39 1-25 1-10 1 45 1-45 1 0 1 21 1 3 1-21 1 49 1-56 1 4 1 0 1 42 1-39 1 39 1 3 1-45 1-4 1 4 1 0 1 45 1-7 1-38 1 59 1-17 1 17 1-38 1-25 1 42 1-35 1 32 1 3 1 0 1-3 1-32 1 35 1 0 1 0 1 25 1-4 1-31 1 10 1-35 1 35 1 4 1-28" stroke="#2ea65c" stroke-width="0.9" marker-start="url(#m3)" marker-mid="url(#m3)" marker-end="url(#m3)"/></g><path d="M594.7 521.9V696.9" stroke="#c4c4c4" stroke-width="1" fill="none"/><text class="tk" x="590.4" y="700.5">0</text><text class="tk" x="590.4" y="665.5">10</text><text class="tk" x="590.4" y="630.5">20</text><text class="tk" x="590.4" y="595.5">30</text><text class="tk" x="590.4" y="560.5">40</text><text class="tk" x="590.4" y="525.5">50</text><path d="M594.2 696.9h6M594.2 661.9h6M594.2 626.9h6M594.2 591.9h6M594.2 556.9h6M594.2 521.9h6" stroke="#8a8a8a" stroke-width="1" fill="none"/><text class="yl" transform="translate(563.4 588.2) rotate(-90)" textLength="116.6" lengthAdjust="spacingAndGlyphs">No. of FSF domains</text><path d="M858.9 565H890" stroke="#c8c8c8" stroke-width="2.6"/><circle cx="874.5" cy="565.3" r="1.15" fill="#1a1a1a"/><text class="lt" x="893.9" y="569.8" textLength="79.7" lengthAdjust="spacingAndGlyphs">Receptor activity</text><path d="M858.9 592H890" stroke="#f8eaa6" stroke-width="2.6"/><circle cx="874.5" cy="592.1" r="1.15" fill="#bba400"/><text class="lt" x="893.9" y="596.6" textLength="122.2" lengthAdjust="spacingAndGlyphs">Other regulatory function</text><path d="M858.9 617.5H890" stroke="#ee5a64" stroke-width="1.0"/><circle cx="874.5" cy="617.8" r="1.15" fill="#b0101e"/><text class="lt" x="893.9" y="622.3" textLength="92.4" lengthAdjust="spacingAndGlyphs">Signal transduction</text><path d="M858.9 643.5H890" stroke="#f39060" stroke-width="1.0"/><circle cx="874.5" cy="643.8" r="1.15" fill="#8a3410"/><text class="lt" x="893.9" y="648.3" textLength="105.2" lengthAdjust="spacingAndGlyphs">Kinases/phosphatases</text><path d="M858.9 670.5H890" stroke="#4cb87a" stroke-width="1.0"/><circle cx="874.5" cy="670.2" r="1.15" fill="#0a4a22"/><text class="lt" x="893.9" y="674.7" textLength="62.7" lengthAdjust="spacingAndGlyphs">DNA-binding</text><path d="M858.9 696.5H890" stroke="#5a5a5a" stroke-width="1.0"/><circle cx="874.5" cy="696.8" r="1.15" fill="#000000"/><text class="lt" x="893.9" y="701.3" textLength="85.6" lengthAdjust="spacingAndGlyphs">RNA binding, m/tr</text></g>
<g><text class="ti" x="592.2" y="720.4" textLength="136.3" lengthAdjust="spacingAndGlyphs">Intracellular processes</text><path d="M591.9 743.3V726.5H836.25V743.3M609.7 726.5V743.3M776.25 726.5V743.3" fill="none" stroke="#6e6e6e" stroke-width="1.15"/><text class="br" x="600.8" y="738">A</text><text class="br" x="705" y="738">B</text><text class="br" x="806.2" y="738">E</text><g class="d"><path class="s" transform="translate(592.2 0) scale(0.25 1.0)" vector-effect="non-scaling-stroke" d="M0 922l1-4 1 4 1 0 1 0 1-4 1 4 1 0 1 0 1-4 1 0 1 4 1 0 1 0 1 0 1-4 1 4 1 0 1 0 1 0 1 0 1 0 1-4 1 4 1 0 1 0 1 0 1 0 1 0 1 0 1 0 1 0 1 0 1-4 1 4 1 0 1 0 1-4 1 4 1 0 1 0 1 0 1 0 1 0 1-4 1 4 1 0 1 0 1 0 1 0 1 0 1-4 1 4 1 0 1 0 1 0 1-4 1 4 1 0 1-4 1 0 1 4 1 0 1 0 1 0 1 0 1 0 1 0 1 0 1 0 1-4 1 0 1 4 1 0 1 0 1 0 1 0 1 0 1 0 1 0 1-4 1 4 1 0 1 0 1-4 1 4 1 0 1 0 1 0 1-4 1 0 1 4 1-4 1 0 1 0 1 4 1 0 1 0 1 0 1 0 1-4 1 0 1 4 1 0 1-4 1 4 1 0 1 0 1 0 1 0 1 0 1 0 1 0 1-4 1 0 1 4 1 0 1 0 1 0 1 0 1 0 1 0 1 0 1-4 1 4 1-4 1 4 1 0 1-4 1 0 1 4 1-4 1 4 1 0 1 0 1 0 1 0 1 0 1 0 1 0 1 0 1 0 1 0 1 0 1-4 1 0 1 4 1 0 1 0 1 0 1-4 1 4 1 0 1-4 1 0 1 4 1 0 1-4 1 4 1-4 1 4 1 0 1 0 1-4 1 4 1-4 1 0 1 4 1 0 1 0 1-4 1 4 1-4 1 4 1-4 1 0 1 4 1-4 1 0 1 0 1 0 1 4 1 0 1 0 1-4 1 4 1 0 1 0 1 0 1 0 1-4 1 4 1-4 1 4 1 0 1-4 1 4 1 0 1-4 1 4 1 0 1 0 1-4 1 0 1 4 1-4 1 4 1 0 1 0 1 0 1 0 1 0 1 0 1 0 1 0 1 0 1-4 1 4 1-4 1 4 1-4 1 4 1 0 1 0 1 0 1 0 1 0 1-4 1 4 1 0 1-4 1 4 1-4 1 4 1-4 1 4 1 0 1 0 1-4 1 4 1 0 1 0 1 0 1 0 1-4 1 4 1 0 1 0 1 0 1 0 1 0 1 0 1 0 1 0 1 0 1-4 1 4 1 0 1 0 1 0 1 0 1-4 1 4 1-4 1 4 1 0 1 0 1 0 1-4 1 4 1-4 1 4 1 0 1 0 1 0 1 0 1 0 1 0 1-4 1 4 1 0 1 0 1 0 1 0 1 0 1 0 1 0 1 0 1 0 1-4 1 4 1 0 1 0 1 0 1 0 1 0 1-4 1 4 1 0 1 0 1 0 1 0 1-4 1 4 1 0 1-4 1 0 1 0 1 4 1 0 1 0 1 0 1 0 1 0 1 0 1 0 1 0 1 0 1-4 1 4 1-4 1 4 1 0 1-4 1 4 1 0 1 0 1 0 1 0 1 0 1-4 1 4 1-4 1 0 1 0 1 4 1 0 1 0 1 0 1 0 1 0 1 0 1 0 1 0 1 0 1 0 1 0 1 0 1 0 1-4 1 4 1 0 1-4 1 4 1-4 1 0 1 4 1-4 1 0 1 4 1 0 1-4 1 4 1-4 1 4 1 0 1 0 1 0 1 0 1-4 1 4 1-4 1 0 1 4 1 0 1 0 1 0 1 0 1 0 1 0 1 0 1 0 1 0 1 0 1 0 1 0 1-4 1 4 1 0 1-4 1 0 1 0 1 4 1 0 1 0 1-4 1 4 1 0 1 0 1 0 1-4 1 4 1 0 1 0 1 0 1-4 1 0 1 0 1 4 1 0 1 0 1-4 1 4 1-4 1 4 1 0 1 0 1 0 1-4 1 0 1 4 1 0 1 0 1 0 1 0 1 0 1 0 1 0 1 0 1 0 1-4 1 4 1 0 1 0 1 0 1-4 1 0 1 4 1 0 1 0 1 0 1-4 1 4 1 0 1 0 1 0 1-4 1 4 1-4 1 4 1 0 1-4 1 0 1 4 1 0 1 0 1 0 1-4 1 4 1 0 1 0 1-4 1 4 1 0 1-4 1 4 1-4 1 4 1 0 1 0 1-4 1 4 1 0 1 0 1-4 1 4 1 0 1-4 1 4 1 0 1 0 1 0 1 0 1 0 1 0 1-4 1 4 1-4 1 4 1 0 1-4 1 0 1 4 1 0 1 0 1 0 1 0 1 0 1 0 1 0 1 0 1 0 1-4 1 4 1-4 1 4 1 0 1-4 1 4 1 0 1-4 1 0 1 4 1-4 1 4 1-4 1 4 1 0 1 0 1 0 1 0 1-4 1 0 1 4 1 0 1 0 1 0 1 0 1 0 1 0 1 0 1 0 1 0 1 0 1-4 1 4 1 0 1 0 1 0 1-4 1 4 1 0 1 0 1 0 1 0 1 0 1-4 1 4 1 0 1 0 1 0 1-4 1 4 1-4 1 4 1 0 1 0 1-4 1 4 1-4 1 4 1 0 1 0 1 0 1 0 1-4 1 4 1 0 1-4 1 4 1 0 1 0 1 0 1 0 1 0 1 0 1-4 1 4 1 0 1 0 1 0 1 0 1 0 1-4 1 4 1 0 1 0 1 0 1-4 1 4 1 0 1 0 1 0 1 0 1-4 1 4 1 0 1 0 1 0 1-4 1 4 1 0 1 0 1 0 1-4 1 4 1 0 1 0 1 0 1 0 1 0 1 0 1 0 1 0 1 0 1-4 1 0 1 4 1 0 1 0 1 0 1 0 1 0 1 0 1 0 1-4 1 0 1 0 1 4 1 0 1-4 1 4 1 0 1-4 1 4 1 0 1 0 1 0 1 0 1 0 1 0 1 0 1-4 1 4 1-4 1 0 1 4 1 0 1 0 1 0 1 0 1-4 1 4 1 0 1 0 1 0 1 0 1 0 1 0 1 0 1-4 1 4 1-4 1 4 1-4 1 4 1 0 1 0 1 0 1 0 1 0 1-4 1 4 1 0 1 0 1 0 1 0 1 0 1 0 1 0 1 0 1 0 1 0 1-4 1 4 1 0 1 0 1 0 1 0 1 0 1-4 1 4 1 0 1 0 1 0 1-4 1 4 1 0 1 0 1 0 1 0 1 0 1-4 1 0 1 4 1 0 1 0 1 0 1 0 1 0 1-4 1 4 1-4 1 0 1 4 1 0 1 0 1 0 1 0 1 0 1-4 1 4 1-4 1 4 1-4 1 4 1-4 1 4 1 0 1-4 1 4 1 0 1 0 1 0 1 0 1 0 1-4 1 0 1 0 1 4 1-4 1 0 1 0 1 4 1-4 1 4 1 0 1-4 1 4 1 0 1 0 1 0 1 0 1-4 1 4 1-4 1 4 1-4 1 0 1 0 1 4 1 0 1-4 1 0 1 4 1 0 1 0 1 0 1 0 1-4 1 4 1 0 1 0 1-4 1 4 1-4 1 4 1-4 1 4 1-4 1 0 1 0 1 0 1 0 1 4 1 0 1-4 1 0 1 4 1-4 1 4 1 0 1 0 1 0 1-4 1 0 1 4 1-4 1 0 1 0 1 0 1 0 1 4 1-4 1 4 1-4 1 4 1-4 1 4 1-4 1 4 1 0 1-4 1 0 1 4 1 0 1-4 1 0 1 4 1-4 1 0 1 4 1-4 1 0 1 4 1 0 1-4 1 4 1-4 1 4 1-4 1 0 1 4 1 0 1 0 1 0 1-4 1 4 1-4 1 0 1 0 1 0 1 0 1 0 1 0 1 4 1-4 1 0 1 4 1-4 1 4 1-4 1 0 1 4 1-4 1 0 1 4 1-4 1 0 1 0 1 4 1-4 1 0 1 0 1 4 1 0 1-4 1 4 1 0 1-4 1 0 1 0 1 4 1-4 1 4 1-4 1 0 1 4 1-4 1 0 1 4 1 0 1-4 1 0 1 4 1 0 1 0 1-4 1 0 1 0 1 4 1 0 1 0 1 0 1 0 1-4 1 4 1-4 1 4 1-4 1 4 1-4 1 0 1 0 1 4 1 0 1-4 1 0 1 4 1-4 1 4 1 0 1 0 1-4 1 4 1 0 1-4 1 4 1-4 1 0 1 4 1-4 1 0 1 4 1 0 1 0 1 0 1-4 1 0 1 0 1 0 1 4 1 0 1 0 1-4 1 4 1 0 1-4 1 0 1 4 1-4 1 4 1-4 1 4 1-4 1 4 1-4 1 4 1 0 1-4 1 4 1 0 1 0 1 0 1 0 1-4 1 4 1 0 1-4 1 0 1 4 1-4 1 4 1-4 1 4 1 0 1-4 1 4 1 0 1-4 1 0 1 0 1 0 1 0 1 4 1 0" stroke="#555555" stroke-width="0.9" marker-start="url(#m17)" marker-mid="url(#m17)" marker-end="url(#m17)"/><path class="s" transform="translate(592.2 0) scale(0.25 1.0)" vector-effect="non-scaling-stroke" d="M0 913l1 0 1 0 1 0 1 5 1-9 1 9 1-9 1 4 1 9 1-4 1-5 1 0 1 5 1-5 1 0 1 0 1 0 1 9 1-9 1 0 1 0 1-4 1 4 1 5 1 0 1-5 1 0 1 5 1-5 1 5 1 0 1 0 1 0 1 0 1-5 1 5 1-5 1 0 1 5 1 0 1-5 1 0 1 5 1 0 1 0 1 0 1 4 1-9 1 0 1 0 1 5 1 0 1 0 1 0 1 0 1 0 1 0 1 0 1 0 1 0 1 0 1-5 1 5 1 0 1-5 1 9 1-9 1 0 1 5 1-5 1 9 1-9 1 0 1 0 1 9 1-9 1 5 1 0 1-5 1 0 1 5 1-5 1 9 1-4 1 0 1 0 1 4 1-4 1 0 1-5 1 5 1 4 1-9 1 9 1-4 1 0 1 0 1-5 1 5 1 4 1-4 1 0 1 4 1-4 1-5 1 5 1 0 1 0 1 0 1 0 1 0 1 4 1 0 1-4 1 0 1 4 1 0 1 0 1-4 1 0 1 0 1 0 1-5 1 5 1 0 1 0 1 0 1 0 1 4 1-9 1 9 1 0 1-4 1 0 1-9 1 13 1-4 1 0 1-5 1 5 1 0 1 0 1 4 1-4 1 0 1 0 1 0 1 4 1 0 1-4 1 0 1 0 1 0 1 0 1-5 1 5 1 0 1 0 1 0 1 0 1 4 1-4 1 0 1 4 1-4 1 4 1-4 1 0 1 0 1-5 1 5 1 4 1-4 1 0 1-5 1 0 1 9 1 0 1 0 1-4 1 0 1 0 1 4 1 0 1-4 1 0 1 0 1 4 1 0 1-9 1 5 1-5 1 9 1 0 1 0 1-4 1 0 1 4 1-9 1 5 1 0 1 0 1 0 1 4 1-4 1 0 1 4 1 0 1-4 1 0 1 4 1-4 1 0 1 0 1-5 1 5 1 0 1 4 1-4 1 0 1-5 1 5 1 0 1 0 1 0 1 0 1 0 1 0 1 0 1 0 1 0 1 4 1-9 1 5 1 0 1 0 1 0 1 0 1 0 1 0 1 0 1 0 1 0 1 0 1 0 1-5 1 5 1 0 1-5 1 0 1 0 1 5 1-5 1 5 1 0 1 4 1-4 1 0 1 0 1 0 1 0 1 0 1-5 1 0 1 9 1-4 1 4 1 0 1-4 1 4 1-4 1 0 1 4 1-4 1 0 1 0 1 4 1-9 1 0 1 5 1 0 1 4 1-9 1 5 1 0 1 4 1 0 1-4 1 0 1 0 1 4 1-4 1 0 1 0 1 0 1-5 1 5 1 0 1 0 1 0 1 0 1 0 1 0 1 4 1 0 1-4 1 0 1 0 1 0 1 4 1-4 1 0 1 0 1 0 1 0 1-5 1 5 1-5 1 5 1 0 1 4 1-9 1 0 1 9 1 0 1 0 1 0 1-9 1 5 1 0 1-5 1 5 1 0 1 0 1-5 1 9 1-9 1 9 1-4 1-5 1 5 1 0 1 0 1 4 1-4 1-5 1 5 1 4 1-9 1 0 1 5 1 0 1 0 1-5 1 0 1 5 1 0 1 0 1-5 1 5 1-5 1 5 1 0 1 4 1 0 1-4 1-5 1-4 1 4 1 9 1-9 1 0 1 9 1 0 1-9 1 5 1 0 1 0 1-5 1 9 1-4 1-5 1 5 1 0 1 0 1 4 1-4 1 0 1 0 1 0 1 0 1 0 1 0 1-5 1 0 1 0 1 5 1 4 1-4 1 0 1 4 1-4 1 0 1 0 1 0 1 4 1-9 1 9 1-9 1 5 1 0 1 0 1 4 1 0 1 0 1-4 1-5 1 5 1 0 1 0 1 0 1 0 1 0 1 0 1 0 1 0 1-5 1 5 1-5 1 5 1 4 1 0 1-4 1 4 1-4 1-5 1 5 1 0 1 0 1 0 1 0 1-5 1 5 1 0 1 4 1-4 1 0 1 0 1 4 1-4 1 4 1-4 1 4 1-4 1 0 1-5 1 5 1 0 1 0 1 0 1 0 1 0 1 0 1-5 1 5 1 4 1 0 1-4 1 0 1-5 1 5 1 0 1 0 1 0 1-5 1 5 1-5 1 5 1 4 1-4 1 0 1 0 1 0 1 4 1-4 1 0 1 0 1-5 1 5 1 0 1-5 1 5 1-5 1 0 1 0 1 5 1 0 1-5 1 5 1 0 1 0 1 0 1-5 1 0 1 9 1 0 1-4 1 0 1 0 1-5 1 5 1 0 1-5 1 5 1-5 1 5 1-5 1 9 1-4 1 0 1 0 1 0 1 0 1 4 1-4 1 0 1 0 1-5 1 0 1 5 1 0 1 0 1 4 1-9 1 5 1 0 1 0 1 0 1 0 1 0 1 0 1 4 1-4 1 0 1 0 1 4 1 0 1-9 1 5 1-5 1 0 1 0 1 9 1-4 1 0 1 0 1 4 1 0 1-4 1 0 1-5 1 9 1-4 1 0 1-5 1 5 1 0 1 0 1 0 1 0 1-5 1 0 1 9 1-9 1 0 1 5 1 0 1 0 1 4 1-4 1-5 1 9 1-4 1 4 1-4 1-5 1 9 1-4 1 0 1 4 1-4 1 0 1 0 1 4 1 0 1-4 1 0 1 4 1 0 1-4 1 0 1 0 1-5 1 0 1 5 1-5 1 5 1-5 1 5 1 0 1 0 1 0 1 0 1 0 1-5 1 5 1 4 1 0 1-4 1 0 1 0 1-5 1 5 1 0 1 0 1 0 1 0 1 0 1 0 1 0 1 0 1-5 1 9 1-9 1 5 1 4 1 0 1 0 1-4 1 0 1 0 1 4 1-4 1 0 1 0 1 0 1 0 1 0 1 0 1-5 1 5 1 0 1-5 1 5 1 0 1-5 1 0 1 5 1-5 1 5 1 0 1 0 1 0 1 0 1 4 1-9 1 0 1 0 1 5 1 0 1 0 1 4 1-9 1 0 1 9 1-4 1 4 1 0 1-4 1 0 1-5 1 0 1 5 1 4 1-13 1 9 1 0 1 0 1 4 1-4 1 0 1 0 1 4 1-4 1-5 1 0 1 5 1 0 1 4 1-9 1 9 1-4 1-5 1 9 1-4 1 4 1-4 1 0 1 0 1 0 1 0 1-5 1 9 1-4 1 0 1 4 1 0 1-4 1 4 1-4 1 4 1-4 1 0 1 4 1 0 1 0 1-4 1 0 1 0 1 0 1 4 1-4 1 4 1-4 1 0 1 0 1-18 1 0 1 5 1-5 1-4 1 9 1-5 1 5 1-9 1 4 1 5 1-9 1 4 1 5 1-5 1 0 1-4 1 9 1-9 1 4 1 5 1-9 1-4 1 4 1 4 1-4 1 9 1 0 1-9 1 4 1 0 1-4 1-4 1 8 1-4 1 4 1-4 1 9 1-5 1-4 1 4 1 0 1 0 1 0 1 5 1-5 1 0 1 0 1 5 1-5 1 0 1 0 1-4 1 0 1 4 1 0 1 0 1-4 1 4 1-8 1 13 1 4 1-9 1 0 1 0 1 0 1 5 1-5 1-4 1 4 1 5 1-9 1 9 1-5 1 5 1-5 1 9 1-13 1 4 1-4 1 4 1-4 1 9 1-5 1-4 1 4 1 0 1 0 1 0 1 0 1 0 1-4 1 0 1 4 1-4 1 4 1-4 1 4 1 5 1-5 1-4 1 4 1 0 1 5 1 0 1-5 1 0 1 5 1-5 1-4 1 4 1-4 1 4 1 5 1 0 1-5 1 0 1 0 1 5 1-5 1 5 1-9 1 0 1 9 1-9 1 9 1 0 1-9 1 0 1 0 1 4 1 0 1 0 1 0 1 5 1-9 1 4 1-4 1 4 1 0 1 0 1 0 1 0 1 5 1-5 1 0 1 0 1 5 1-9 1 9 1-5 1 0 1 0 1 0 1 0 1-8 1 8 1 5 1-5 1-8 1 4 1 4 1 5 1-5 1 5 1 0 1-5 1 5 1-5 1-4 1 4 1 0 1 0 1 5 1-5 1 0 1 5 1-5 1 5 1-5 1 5 1 4 1-9 1 0 1-8 1 13 1-5 1 5 1 4 1-4 1 0 1-5 1-4 1 13 1-13 1 9 1-13 1 8 1 0 1-4 1 4 1 5 1-5 1 5 1-9 1 0 1 4 1-8 1 13 1 0 1-13 1 8 1 5 1-9 1 4 1 9 1-9 1 5 1-9 1 4 1 0 1 0 1-4 1 4 1 0 1 0 1-4 1 4 1 0 1 0 1 0 1-4 1 0 1 4 1 5 1-5 1-4 1 0 1 4" stroke="#a070c0" stroke-width="0.9" marker-start="url(#m1)" marker-mid="url(#m1)" marker-end="url(#m1)"/><path class="s" transform="translate(592.2 0) scale(0.25 1.0)" vector-effect="non-scaling-stroke" d="M0 905l1 4 1 0 1 4 1-4 1-4 1 0 1 0 1 0 1 0 1 4 1 0 1 4 1-4 1 0 1 0 1-4 1 0 1 0 1 4 1 0 1-4 1 0 1 0 1 4 1-4 1 0 1 4 1-9 1 0 1 5 1 0 1 0 1 0 1 8 1-8 1 0 1 8 1-4 1 0 1 4 1-4 1-9 1 9 1 0 1 0 1 0 1 4 1 0 1-8 1 4 1 0 1-4 1 4 1-4 1 0 1 0 1 0 1 4 1-9 1 5 1 4 1-4 1 0 1 0 1 8 1-8 1 4 1-4 1 0 1 0 1-9 1 9 1 0 1 4 1-4 1 0 1 0 1-5 1 0 1 9 1-4 1 4 1-9 1 9 1 0 1-9 1-4 1 4 1 9 1-4 1 4 1-4 1-5 1 5 1 0 1 0 1-5 1 5 1 4 1-9 1 5 1 4 1 0 1-9 1 5 1-5 1 9 1 0 1-4 1 4 1 0 1 0 1 9 1-5 1-8 1 0 1 0 1 0 1-5 1 9 1 0 1 4 1-8 1 0 1 4 1-9 1 5 1 4 1-4 1 0 1 8 1-4 1-4 1 4 1 4 1-13 1 9 1-4 1-9 1 17 1-8 1 0 1 0 1 0 1 4 1-9 1 5 1 0 1-5 1 0 1-4 1 4 1 9 1-9 1 5 1 0 1 4 1-4 1 4 1 0 1-4 1-5 1 9 1-4 1 0 1 4 1-4 1-5 1 9 1-9 1 9 1-9 1 5 1 0 1-5 1 0 1 0 1 5 1 0 1 4 1 0 1-4 1-5 1 5 1 0 1 8 1-4 1 0 1-9 1 0 1 0 1 5 1 0 1-5 1 5 1 0 1 8 1-8 1 4 1-4 1-9 1 13 1 0 1-4 1 0 1-5 1 0 1 5 1 4 1-4 1 4 1-9 1 5 1 4 1-4 1 0 1-5 1 5 1 4 1-4 1 0 1-5 1 5 1-5 1 9 1 0 1-9 1 5 1 4 1-4 1 0 1 4 1-9 1 0 1 9 1 0 1-4 1 4 1 4 1-4 1 4 1-21 1 8 1 13 1-8 1 0 1-5 1 9 1 0 1-9 1 9 1-4 1 4 1-4 1 0 1 4 1-4 1 4 1 0 1 0 1-9 1 5 1 4 1-4 1 4 1-4 1-5 1 13 1-4 1-4 1 4 1-9 1 5 1 0 1 0 1 0 1 0 1 4 1-9 1 0 1 0 1 5 1 8 1-8 1 0 1 0 1 4 1-4 1 0 1 4 1-4 1 4 1 0 1-4 1 4 1-4 1 4 1-4 1 0 1 4 1-4 1-5 1 0 1 5 1 0 1 4 1 0 1-4 1 4 1 0 1-4 1-5 1 5 1 4 1-4 1 0 1 8 1-13 1 13 1-4 1-4 1 8 1 0 1-8 1-5 1 5 1 4 1-9 1 5 1 0 1 4 1 0 1 0 1 4 1-8 1-5 1 0 1 9 1-9 1 5 1 4 1 0 1-4 1 4 1-4 1 4 1-4 1-5 1 9 1 0 1-4 1 4 1 4 1-8 1-5 1 5 1 0 1 0 1 4 1-9 1 0 1 9 1-4 1 0 1-5 1 9 1 0 1 0 1 0 1-4 1-5 1 0 1 0 1 9 1 0 1-4 1 4 1-4 1 0 1 8 1-4 1-4 1-5 1 0 1 5 1 4 1-9 1 5 1 4 1 0 1 0 1 0 1 0 1-9 1 0 1 0 1 5 1 8 1-4 1 0 1-9 1 5 1 0 1 0 1 4 1-9 1 0 1 0 1 5 1 0 1 0 1 4 1-9 1 5 1-5 1 9 1-9 1 0 1 5 1 4 1 0 1 0 1-4 1 0 1 0 1-5 1 9 1-4 1 0 1 4 1 0 1-13 1 9 1 0 1 0 1 0 1 0 1 4 1-4 1 8 1-8 1 4 1 4 1 0 1-8 1-5 1 5 1 4 1 0 1-4 1 4 1-4 1 4 1-4 1 8 1-4 1 0 1-9 1 5 1-5 1 9 1-4 1 0 1 4 1 0 1 0 1 4 1-13 1 9 1-4 1 4 1 4 1-4 1-4 1-5 1 9 1-9 1 0 1 9 1-4 1 4 1-4 1 0 1 0 1 4 1 0 1-4 1 4 1 0 1-4 1 4 1-4 1 0 1 8 1-8 1 8 1 0 1-4 1-4 1 0 1 4 1 4 1-8 1 0 1 4 1 4 1-8 1 0 1 4 1 0 1-9 1 0 1 5 1 0 1 0 1 4 1-9 1 5 1 0 1 0 1 4 1-4 1 4 1 0 1-9 1 5 1 0 1 0 1 0 1 0 1 0 1 0 1-5 1 5 1 0 1 0 1 4 1 0 1-9 1 5 1-5 1 5 1 4 1-9 1-4 1 13 1 0 1-9 1 9 1-4 1 4 1-4 1 0 1 0 1 4 1-4 1 0 1 0 1-5 1 5 1 0 1 0 1 0 1 8 1 0 1 0 1-8 1 8 1-4 1-4 1 0 1 0 1 0 1 4 1-4 1-9 1 0 1 13 1 0 1 0 1-9 1 5 1 0 1 4 1-4 1-5 1 9 1-4 1-5 1 9 1 0 1-9 1 5 1 4 1-9 1 9 1-4 1-5 1 0 1 9 1-4 1 4 1 4 1-13 1 5 1 4 1-4 1 4 1-9 1 5 1 4 1 4 1-4 1 0 1 0 1-4 1 4 1 0 1-4 1 4 1-9 1 5 1 8 1-8 1 0 1 0 1 0 1 4 1-4 1 4 1-9 1 0 1 5 1 0 1 0 1-5 1 9 1-9 1 13 1-17 1 17 1-8 1 0 1 4 1 0 1 0 1-9 1 9 1-4 1 4 1-4 1 0 1-5 1 5 1 0 1 0 1 4 1-4 1 0 1 0 1 4 1-4 1 0 1 0 1 0 1 8 1-4 1 0 1-9 1 0 1 5 1 4 1 4 1-8 1 4 1-4 1 0 1-5 1 5 1-5 1 5 1 8 1-4 1-4 1 4 1 4 1-13 1 5 1 4 1 0 1 4 1-4 1 0 1 0 1-9 1 5 1 0 1-5 1 5 1-5 1-4 1 13 1-4 1 4 1-4 1 4 1-4 1 0 1-5 1 13 1-13 1 5 1 4 1 0 1-4 1 0 1 8 1-8 1 0 1 8 1-8 1-5 1 0 1 5 1 0 1 0 1 4 1 0 1-9 1 9 1-9 1 5 1 0 1 0 1 0 1 4 1-39 1-4 1-14 1 9 1 13 1-4 1 0 1-4 1 21 1-8 1-18 1 18 1-5 1-22 1 40 1-35 1 13 1-9 1 18 1-5 1-8 1 4 1-13 1 26 1 13 1-30 1 13 1-31 1 35 1 13 1-22 1-13 1 18 1 0 1 17 1-35 1 13 1 5 1-9 1-13 1 17 1 5 1 0 1-9 1 0 1 26 1-30 1 17 1-17 1 0 1 26 1-22 1-4 1-14 1 35 1-4 1-17 1-14 1 18 1 26 1-22 1-13 1 5 1 13 1-9 1-4 1 4 1-9 1 9 1-9 1 9 1 4 1-13 1-4 1 17 1-13 1 13 1-4 1-9 1 0 1 18 1-5 1-4 1-4 1 8 1-17 1 43 1-8 1-18 1-4 1-9 1-4 1 4 1 5 1-14 1 14 1 4 1-4 1 13 1-5 1 5 1 8 1-35 1 9 1 13 1-8 1-5 1 22 1-13 1 13 1-26 1 13 1 0 1 22 1-22 1-9 1 5 1-5 1 9 1-4 1 13 1 0 1 0 1-13 1-5 1 31 1-9 1-4 1-9 1 0 1 4 1-8 1 0 1 17 1-9 1 22 1-30 1 8 1 9 1-35 1 18 1-22 1 22 1 0 1 21 1-17 1 0 1 4 1 0 1-4 1 9 1 0 1-18 1 18 1-18 1 31 1-22 1 13 1-22 1-4 1 17 1-13 1 13 1-4 1 0 1 4 1 0 1-13 1 18 1-9 1-13 1 13 1-13 1 22 1-18 1 35 1-22 1-17 1-9 1 39 1-4 1-13 1 0 1 0 1 13 1-17 1 8 1 13 1-17 1-9 1 22 1-4 1 0 1-5 1 0 1-26 1 9 1 22 1-5 1-8 1 8 1-4 1-4 1 17 1 0 1-13 1 9 1-22 1 26 1-35 1 22 1-4 1 8 1-35 1 27 1 13 1 0 1-5 1-13 1 22 1-13 1-9 1 0 1 18 1-9 1-9 1 13 1-22 1 18 1 26 1-30 1 21 1-21 1 0 1 8 1-4 1 4 1-13 1-9" stroke="#f0d820" stroke-width="0.9" marker-start="url(#m4)" marker-mid="url(#m4)" marker-end="url(#m4)"/><path class="s" transform="translate(592.2 0) scale(0.25 1.0)" vector-effect="non-scaling-stroke" d="M0 913l1 0 1 0 1 9 1-13 1 0 1 4 1 0 1-4 1 4 1 0 1-4 1 9 1-5 1-4 1 4 1 0 1-4 1 0 1 4 1-8 1 8 1 5 1-5 1 0 1 0 1 0 1 0 1 0 1 0 1 5 1-5 1-4 1 4 1-4 1 4 1 5 1-9 1 4 1 0 1 9 1-4 1 4 1-4 1-5 1 0 1 5 1-5 1-4 1-4 1 8 1 0 1 0 1-4 1 4 1 0 1 5 1-5 1-4 1 9 1-5 1 5 1-9 1 4 1 0 1-4 1 0 1 9 1-9 1 13 1-4 1-18 1 0 1 13 1-8 1 4 1-4 1 8 1-4 1-9 1 5 1 13 1-9 1 4 1-4 1-4 1 0 1-5 1 13 1 0 1-4 1 9 1-5 1-8 1 0 1-9 1 13 1-9 1 0 1 18 1-22 1 13 1 9 1-18 1 13 1-8 1 8 1-13 1 5 1 0 1 4 1-4 1-5 1 9 1-4 1 13 1-13 1 0 1 4 1-9 1 9 1-9 1 13 1-8 1-5 1 18 1-18 1 5 1 4 1-4 1 0 1-9 1 13 1-9 1 13 1-4 1-4 1-5 1 9 1-9 1 5 1 8 1 0 1-4 1 4 1-4 1 13 1-13 1-4 1 8 1 0 1-8 1-5 1 9 1 0 1 0 1 0 1 4 1-17 1 13 1-9 1 9 1 0 1-4 1 0 1 4 1 0 1-9 1 5 1 4 1 4 1 5 1-9 1-9 1 5 1 4 1-4 1 8 1 0 1-4 1 4 1 0 1-4 1-4 1 8 1-8 1 8 1-8 1 0 1 4 1 4 1 0 1-4 1 4 1 9 1-13 1 4 1 0 1-8 1 8 1-4 1-9 1 5 1 0 1 0 1 4 1-9 1 0 1 18 1-18 1 9 1 9 1-9 1-9 1 5 1 8 1 0 1-8 1 8 1-4 1-13 1 13 1-9 1 9 1-4 1-9 1 17 1 0 1 5 1-5 1 5 1-13 1-5 1 9 1 0 1-4 1 4 1-4 1 8 1 0 1-8 1 4 1 0 1-9 1 18 1-13 1 4 1-9 1 13 1-8 1 4 1-4 1 4 1-9 1 13 1 5 1-9 1-9 1 9 1-13 1 22 1 0 1-5 1-8 1-5 1 5 1 0 1 0 1 8 1 0 1 0 1-4 1 4 1-8 1 17 1-22 1 13 1-4 1 0 1 0 1-4 1 8 1-13 1 9 1 0 1 0 1 9 1-9 1-4 1-5 1 5 1 4 1-9 1 5 1 0 1 4 1-9 1 5 1 4 1-13 1 13 1-4 1 17 1-13 1 0 1-4 1 0 1 0 1 4 1 4 1-8 1-5 1 9 1 9 1-13 1 0 1 4 1 9 1-9 1-4 1-5 1-4 1 17 1-4 1-9 1 13 1-8 1 8 1-4 1 0 1-4 1 0 1 0 1-5 1 18 1-18 1 0 1 0 1 5 1-5 1 9 1-13 1 9 1 8 1 0 1-4 1 0 1-13 1 9 1 0 1 4 1 0 1-4 1-5 1 9 1-9 1 0 1 5 1-5 1 9 1 0 1 9 1-13 1-5 1 13 1-4 1 0 1 4 1-4 1-13 1 17 1-8 1-5 1 5 1 0 1 4 1-9 1 0 1 13 1-13 1 0 1 5 1 4 1 4 1-4 1-9 1 9 1-4 1 13 1-9 1-13 1 13 1-9 1 9 1-4 1-5 1 9 1 4 1-8 1 0 1 4 1 0 1-4 1-13 1 17 1 0 1-4 1 8 1-4 1-9 1 13 1-13 1 5 1-5 1 9 1-9 1 5 1 13 1-5 1-8 1 0 1 4 1-13 1 4 1 9 1 4 1-4 1 0 1 0 1 0 1 0 1-4 1 8 1-8 1 4 1 0 1 0 1 9 1-13 1 13 1-5 1-13 1 9 1-4 1 13 1-9 1 4 1-4 1 4 1-4 1-17 1 26 1-13 1 0 1 13 1-9 1 0 1 9 1-13 1 8 1 0 1 5 1-5 1-8 1-5 1 18 1-13 1 4 1 0 1 0 1 0 1-4 1 8 1-8 1 0 1-5 1 9 1 9 1-5 1-4 1-9 1 9 1 0 1-4 1 13 1 0 1-18 1 13 1-4 1-4 1 0 1 4 1 0 1 0 1 0 1-4 1 4 1 0 1 0 1 0 1-13 1 0 1 17 1 0 1-4 1 0 1-9 1 9 1 0 1-4 1 0 1-5 1 18 1-13 1 4 1 4 1-4 1 0 1 13 1-26 1 13 1 9 1-22 1 22 1-9 1-4 1-5 1 13 1-4 1-4 1 4 1-9 1 5 1 4 1-4 1 0 1 4 1-9 1 5 1 8 1 5 1-9 1 0 1 0 1-4 1 8 1-8 1 0 1-5 1 13 1-4 1 0 1-4 1 0 1 13 1-13 1-5 1 18 1-9 1-4 1 0 1 8 1 0 1 0 1-4 1 0 1-4 1 4 1-4 1 0 1-5 1 9 1 0 1 0 1-9 1 9 1-9 1 0 1 13 1-13 1 5 1 8 1-4 1-4 1 4 1-9 1 0 1 5 1-5 1 9 1 9 1-5 1 0 1-4 1 0 1 0 1 9 1-18 1 13 1-13 1 18 1-5 1 5 1-9 1-4 1 4 1 0 1 9 1-9 1 4 1-8 1-9 1 13 1-4 1-13 1 8 1 0 1 5 1-5 1 0 1 9 1 4 1 5 1-18 1 13 1-13 1 5 1 4 1 0 1 0 1 4 1-4 1 0 1 0 1 0 1 0 1 4 1 0 1-8 1 0 1 8 1-4 1 0 1-13 1 4 1 13 1-17 1 13 1-4 1 4 1 4 1-4 1 0 1 4 1-8 1 4 1 0 1-9 1 18 1-13 1 4 1 9 1-5 1-4 1 0 1 0 1 0 1-4 1 4 1-4 1 4 1-4 1 4 1 9 1-22 1 13 1 0 1 0 1 9 1-5 1 0 1-8 1 13 1-18 1 13 1-17 1 17 1-8 1 0 1 4 1 4 1 0 1-8 1 4 1-9 1 5 1 8 1-4 1 0 1 0 1 0 1-4 1 8 1-4 1 0 1-4 1 0 1 13 1-13 1 4 1 9 1-13 1 0 1 4 1 4 1 0 1-4 1 0 1 4 1-4 1-9 1 5 1 4 1-13 1 17 1-13 1 5 1 0 1-5 1 13 1 0 1 0 1-13 1 9 1-4 1 4 1 0 1-13 1-35 1 18 1 13 1-18 1 9 1-4 1 4 1 0 1 0 1 0 1-13 1-13 1 30 1-4 1-9 1-8 1 13 1-13 1 0 1 8 1 5 1 13 1-18 1 0 1 13 1-21 1 13 1 13 1-9 1 4 1-13 1-4 1 13 1-13 1-4 1 8 1-4 1 9 1 8 1 5 1-13 1-13 1 17 1 9 1-26 1 8 1 9 1 0 1-4 1 0 1 8 1-8 1 4 1 9 1-35 1 13 1-13 1 22 1-5 1-4 1 4 1 5 1 0 1-5 1 9 1-4 1-9 1 9 1 13 1-26 1 13 1-5 1 5 1-18 1 9 1 17 1-13 1 0 1-8 1 4 1 4 1-4 1 9 1 8 1-13 1 5 1 0 1 8 1-17 1-4 1 21 1-13 1 5 1 8 1-30 1 17 1 9 1-13 1 22 1-18 1 9 1-9 1 26 1-30 1 13 1-9 1 9 1-13 1 13 1-4 1 4 1-9 1 9 1-4 1 4 1 0 1-9 1 0 1 9 1 0 1-4 1 0 1 0 1 0 1-9 1 4 1 0 1-13 1 26 1-26 1 9 1 4 1 0 1-4 1 0 1 13 1-9 1 0 1 9 1 9 1-9 1 9 1-13 1-5 1-8 1-9 1 13 1 9 1 8 1-17 1 0 1-4 1 17 1 0 1-4 1-9 1 4 1 5 1 8 1-13 1 0 1 5 1 4 1-22 1 13 1-4 1 4 1-4 1-4 1 4 1 4 1 5 1 4 1 0 1 9 1-9 1-4 1 8 1-4 1 4 1-13 1-13 1 13 1-13 1 9 1-4 1 21 1-21 1 0 1 0 1 8 1-4 1 0 1 17 1 0 1 0 1-8 1 4 1-4 1 0 1 13 1-9 1-17 1 30 1-30 1-18 1 26 1-4 1 4 1-4 1 0 1 9 1 21 1-13 1 5 1-13 1-13 1 8 1 5 1 0 1 13 1-18 1 5 1-9 1-9 1 22 1-4 1 0 1-13 1 8 1 5 1-9 1 17 1-8 1-9 1 4 1 0 1-8" stroke="#555555" stroke-width="0.9" marker-start="url(#m17)" marker-mid="url(#m17)" marker-end="url(#m17)"/><path class="s" transform="translate(592.2 0) scale(0.25 1.0)" vector-effect="non-scaling-stroke" d="M0 874l1 13 1-4 1 9 1-13 1-9 1 26 1-13 1 17 1-13 1-8 1-5 1 5 1 0 1 0 1 0 1 8 1 9 1-17 1 8 1-4 1-4 1 8 1 0 1-4 1 4 1-13 1 18 1-22 1 22 1-9 1 4 1-13 1 9 1 9 1-9 1-4 1 0 1 4 1-4 1 0 1 0 1 13 1-18 1 9 1-13 1 9 1 0 1 4 1 0 1-4 1-5 1 13 1 0 1 0 1-4 1 0 1 4 1 5 1-9 1 0 1-9 1 5 1 13 1-18 1 13 1-8 1 4 1-13 1 13 1-4 1-18 1-9 1 18 1-4 1 0 1-5 1 9 1-4 1-9 1 9 1-9 1 4 1 5 1 8 1 0 1-8 1-5 1-4 1 13 1-4 1 8 1-17 1 9 1 4 1 0 1-9 1 18 1-9 1 4 1 5 1 13 1-18 1-4 1 0 1-13 1 9 1 21 1-17 1-9 1 9 1-26 1 26 1-4 1-18 1 39 1-35 1 14 1 0 1-5 1 5 1-5 1-4 1 17 1-8 1 4 1-9 1-4 1 13 1 22 1-26 1 0 1 0 1 4 1-18 1 22 1-4 1-13 1 17 1-8 1 17 1-17 1-9 1 4 1 22 1-17 1-18 1 18 1-5 1 9 1 0 1 9 1-9 1-13 1 17 1-4 1-13 1 17 1-8 1 0 1-9 1 9 1 4 1 0 1 9 1-5 1 0 1-8 1-5 1 0 1 0 1-4 1 9 1 0 1-5 1 5 1-5 1 13 1-4 1-13 1 22 1-13 1-9 1 22 1-13 1-9 1 4 1 13 1-13 1 13 1 0 1 13 1-21 1 0 1-5 1 0 1 0 1 0 1 5 1-14 1 9 1-4 1 9 1 26 1-18 1-4 1-4 1-9 1 4 1 9 1-9 1 9 1-9 1 9 1-4 1 4 1-9 1 5 1 13 1-18 1 5 1-5 1 13 1-4 1-13 1 13 1 0 1 0 1-18 1 18 1-13 1 4 1 0 1-4 1 4 1 13 1-8 1 4 1-4 1 4 1 22 1-35 1 13 1 0 1-4 1-9 1 4 1 5 1 0 1 4 1 4 1 5 1-13 1 4 1 4 1 0 1-13 1 9 1 4 1-8 1-5 1 9 1 4 1-8 1 4 1-4 1 0 1 0 1 4 1 0 1 0 1-4 1 0 1 0 1 4 1-9 1 0 1 5 1-5 1 5 1 4 1-4 1 0 1 8 1-8 1 8 1-13 1 18 1-13 1 0 1 4 1-9 1 9 1 4 1 5 1-9 1 17 1-21 1 4 1 0 1-4 1-5 1 0 1 9 1-4 1 4 1-9 1-4 1 17 1-4 1-4 1-9 1 9 1 4 1 0 1-9 1 0 1 9 1 17 1-35 1 14 1 4 1-4 1-9 1 4 1 9 1 17 1-30 1 13 1-4 1 17 1-13 1 4 1-4 1-9 1 0 1 13 1-13 1-4 1 17 1-4 1-4 1 8 1-8 1 4 1-4 1 0 1 0 1 8 1-8 1-9 1 0 1 13 1 17 1-13 1-17 1 13 1-13 1 9 1 0 1 4 1 17 1-17 1-22 1 22 1 4 1-4 1 4 1 0 1-4 1-18 1 22 1-13 1 0 1 9 1-13 1 4 1 9 1-13 1 13 1-13 1 4 1 13 1 5 1-5 1-8 1 8 1-4 1-9 1 0 1 5 1-5 1 13 1-8 1 4 1-9 1 5 1 17 1-13 1-9 1 5 1 8 1-17 1 13 1-9 1 13 1-8 1-5 1 13 1-13 1 26 1-30 1 13 1 0 1 17 1-26 1 9 1-9 1-13 1 18 1 4 1 9 1-9 1-13 1 4 1-4 1 13 1-4 1 4 1-18 1 9 1 9 1-13 1 0 1 4 1 5 1 8 1-17 1 4 1 18 1-13 1-9 1 9 1-5 1 5 1-9 1 22 1-22 1 17 1 0 1-8 1-5 1 13 1-4 1-4 1 8 1 0 1-13 1-4 1 0 1 0 1 4 1-9 1 18 1-4 1 4 1 4 1-8 1 4 1-13 1 4 1 13 1-8 1 8 1-17 1 26 1-26 1 17 1-17 1 4 1-4 1 26 1-9 1-13 1 5 1-5 1 9 1 0 1-9 1 0 1 5 1-5 1 5 1 0 1-9 1 4 1 5 1-9 1 4 1 9 1 0 1 13 1-13 1-13 1 9 1 17 1-9 1-4 1-4 1 13 1-18 1 0 1 13 1-13 1 13 1-13 1 18 1-9 1-4 1 17 1-31 1 9 1 0 1 5 1-9 1 4 1 0 1 5 1 17 1-17 1 13 1-13 1 0 1 4 1-4 1 4 1-4 1-5 1 9 1 9 1-9 1 22 1-31 1 5 1 4 1 9 1-13 1 4 1-9 1 5 1 8 1 0 1-13 1 9 1 0 1-9 1 9 1-4 1 13 1-18 1 5 1-9 1 35 1 0 1-31 1 5 1-14 1 14 1 13 1-13 1 8 1-17 1 17 1-13 1-9 1 9 1 22 1-17 1 4 1 0 1 22 1-22 1 0 1-13 1-5 1 9 1-13 1 35 1-26 1 13 1 0 1 0 1 17 1-8 1-22 1 13 1-4 1 0 1-5 1 9 1-4 1 0 1 0 1 0 1-9 1 9 1-5 1 5 1 0 1 0 1-9 1 13 1 17 1-30 1 13 1-4 1 4 1 0 1-13 1 4 1 13 1-13 1 0 1 13 1-17 1 0 1 0 1 30 1-17 1 9 1-9 1-9 1 5 1-9 1 17 1-26 1 18 1 4 1-4 1-5 1 0 1 5 1-5 1 5 1 8 1-8 1-5 1 0 1 0 1-9 1 18 1 0 1-4 1 4 1 0 1-4 1 17 1-17 1 8 1-8 1 0 1 13 1-9 1-13 1 13 1-4 1 8 1 9 1-13 1-9 1 13 1-26 1 9 1 9 1 8 1-4 1-13 1 17 1 5 1-18 1 5 1-9 1 13 1-13 1 13 1-9 1 9 1-13 1 9 1 0 1 4 1 9 1-13 1 13 1-13 1-9 1 13 1-4 1 0 1 13 1-18 1 5 1 0 1 8 1-13 1 31 1-35 1 13 1-9 1 0 1 5 1-5 1 0 1 0 1-4 1 17 1-4 1-13 1 0 1 17 1-4 1 17 1-21 1-9 1 4 1 5 1-5 1 13 1-13 1 5 1 0 1 17 1-4 1-22 1 4 1 22 1-22 1-13 1 0 1 4 1 0 1 0 1 0 1-4 1 4 1-4 1 0 1 4 1-4 1 9 1-5 1-4 1 4 1 0 1 0 1-4 1 0 1-4 1 8 1 0 1-4 1 4 1 0 1 0 1 0 1 0 1-4 1 0 1 0 1 4 1 0 1 0 1 0 1-4 1 4 1-4 1 4 1 0 1-4 1 4 1 5 1-5 1 0 1-4 1 4 1-4 1 0 1 4 1 0 1-4 1 4 1 5 1 0 1-5 1 0 1 0 1 0 1-4 1 4 1 0 1 0 1-4 1 4 1 0 1 0 1 0 1 0 1 0 1 0 1 0 1-4 1 9 1-9 1 4 1 0 1 0 1 0 1-4 1 0 1 4 1-4 1 4 1-4 1 4 1 5 1-9 1 0 1 4 1 5 1-5 1 0 1 0 1 0 1 0 1 5 1-9 1 0 1 4 1 0 1 0 1-4 1 4 1-4 1 4 1-4 1 4 1 0 1 0 1 0 1 0 1 0 1 0 1 0 1 0 1 5 1-9 1 4 1-4 1 4 1-4 1 4 1 0 1 0 1-4 1 0 1 0 1 4 1 0 1 0 1 0 1-4 1 0 1 0 1 0 1 4 1-4 1 0 1 9 1-5 1 0 1 0 1-4 1 0 1 0 1 4 1 0 1-4 1 0 1 4 1-4 1 4 1 0 1-4 1 4 1-4 1 4 1 0 1 0 1 0 1 0 1 0 1-8 1 8 1 5 1-5 1-4 1 4 1 0 1 0 1 0 1 0 1 0 1 0 1-4 1 9 1-9 1 4 1-4 1 4 1-4 1 4 1 5 1-5 1 0 1-4 1 0 1 0 1 4 1 0 1 0 1 5 1-5 1-4 1 9 1-5 1 0 1-4 1 4 1 0 1 0 1 0 1 0 1 0 1 0 1 0 1 5 1 0 1-5 1-4 1 0 1 0 1 4 1 0 1-4 1 9 1-9 1 4 1 0 1 0 1 0 1-4 1 0 1 0 1 0 1 4 1-4 1 4 1-4 1 0 1 4 1 0 1 0 1 0 1 0 1 0 1 5" stroke="#4b66b4" stroke-width="0.9" marker-start="url(#m5)" marker-mid="url(#m5)" marker-end="url(#m5)"/><path class="s" transform="translate(592.2 0) scale(0.25 1.0)" vector-effect="non-scaling-stroke" d="M737 804l1 14 1-14 1-4 1-4 1 22 1-22 1 4 1 22 1 4 1-30 1 4 1-4 1 4 1-13 1 13 1-4 1-5 1 5 1 0 1-18 1 22 1 4 1-8 1 4 1 0 1 9 1-13 1-13 1 21 1 0 1-8 1 22 1-9 1-13 1 13 1-9 1-4 1 22 1-27 1 18 1-9 1-13 1 4 1 13 1-26 1 26 1 5 1-13 1-9 1 13 1-9 1 9 1-13 1 4 1 22 1-4 1-9 1 0 1 9 1-13 1 13 1-13 1 26 1-26 1 0 1-9 1 13 1 31 1-40 1 9 1 22 1-44 1 44 1-13 1-18 1 13 1-4 1-9 1 13 1-17 1-9 1 22 1 22 1-26 1-18 1 13 1-8 1 26 1-9 1 4 1 9 1-17 1 0 1 13 1 0 1-26 1 13 1-9 1 9 1 22 1-14 1-8 1 8 1 0 1 0 1 0 1-13 1 9 1-4 1-13 1 35 1-27 1 9 1-13 1 0 1 17 1 0 1-13 1 9 1 9 1-18 1 31 1-31 1 13 1-17 1 17 1-8 1 0 1 13 1 9 1-44 1-4 1 34 1-8 1 4 1 0 1 0 1 13 1 5 1-27 1 18 1 4 1-9 1-8 1-22 1 35 1 4 1-30 1 21 1 5 1-18 1 5 1 8 1-8 1-9 1 31 1-18 1 0 1 4 1-13 1 22 1-9 1-13 1 22 1-13 1-22 1 40 1-22 1 0 1 8 1-4 1 0 1-13 1 13 1-13 1 13 1 0 1-9 1 0 1 18 1-5 1 18 1-26 1 13 1 4 1-17 1-13 1 30 1 0 1-4 1-18 1 31 1-22 1 0 1 13 1 0 1-4 1-13 1 4 1-4 1 4 1 0 1 9 1-9 1-4 1 22 1-22 1 4 1 0 1 13 1-4 1-18 1 5 1 17 1 0 1-22 1 18 1 0 1-13 1-9 1 17 1 0 1-26 1 22 1-4 1 22 1-14 1-17 1 13 1 0 1 0 1 9 1 9 1-18 1-30 1 34 1-4 1 9" stroke="#f59a70" stroke-width="0.8" marker-start="url(#m7)" marker-mid="url(#m7)" marker-end="url(#m7)"/><path class="s" transform="translate(592.2 0) scale(0.25 1.0)" vector-effect="non-scaling-stroke" d="M0 852l1 14 1-14 1 5 1 4 1-4 1-5 1 0 1 5 1 4 1-4 1-9 1 9 1 0 1 0 1-5 1 5 1 4 1-9 1 5 1-9 1 13 1 0 1 0 1-4 1-5 1 5 1-5 1 5 1 9 1-14 1 5 1 0 1-5 1 14 1-14 1 5 1-5 1 9 1-9 1 5 1-5 1 5 1 0 1-9 1 13 1 0 1 0 1-4 1-5 1 5 1 4 1-9 1-4 1 13 1-4 1 0 1-5 1 5 1-5 1 5 1 9 1-9 1 0 1-5 1 9 1-9 1 5 1 0 1 0 1 0 1-26 1 4 1-13 1 9 1 17 1-13 1 9 1-26 1-9 1 30 1 5 1-31 1 26 1 18 1-18 1 0 1 0 1 22 1-9 1-8 1 22 1-35 1 4 1 9 1 8 1-26 1 18 1-26 1 8 1 18 1-18 1 0 1-13 1 18 1-13 1 30 1 13 1-30 1 0 1 13 1-9 1 9 1-9 1 17 1-17 1 13 1-30 1 17 1-4 1 21 1-21 1 8 1 0 1 0 1-13 1 9 1 0 1 0 1-22 1 13 1 18 1-5 1-21 1 0 1 17 1 0 1-17 1 17 1 0 1-4 1 13 1-5 1 0 1-17 1 26 1-9 1-8 1-18 1 0 1 13 1 13 1-17 1 22 1 4 1-9 1 18 1-18 1-26 1 26 1-4 1 22 1-22 1-4 1 8 1 0 1-21 1 4 1 0 1 13 1 9 1-13 1 21 1-4 1-9 1-8 1 21 1-26 1 31 1-22 1 13 1 0 1-22 1 13 1-26 1 22 1-17 1 13 1-5 1 0 1 13 1 18 1-13 1-5 1-4 1-13 1 4 1 22 1-9 1-13 1-13 1 44 1-22 1 13 1-17 1-5 1 18 1-9 1 4 1 5 1 0 1-5 1-13 1 9 1-9 1 9 1-17 1 4 1 9 1 13 1-9 1-9 1 5 1-5 1 9 1 4 1-4 1-9 1-17 1 17 1 18 1-5 1-8 1-18 1 22 1 4 1 13 1-21 1-5 1 5 1 4 1 13 1-9 1-8 1 8 1-8 1 13 1-13 1 21 1-17 1 4 1 0 1-8 1 0 1 8 1 5 1 17 1-26 1 26 1-22 1 0 1-21 1 26 1-13 1-5 1 18 1 0 1-5 1 13 1-34 1 13 1-13 1 26 1-22 1 22 1-13 1 4 1 0 1-13 1 9 1 0 1 4 1 0 1-9 1-8 1 26 1 0 1-26 1 8 1-4 1 17 1 13 1-21 1 0 1-5 1 18 1-22 1 17 1-39 1 44 1-5 1-8 1 0 1 0 1 0 1-5 1 13 1 9 1-13 1-4 1-5 1 5 1 0 1-5 1 13 1-17 1 30 1 5 1-22 1-9 1 9 1-13 1 22 1-5 1-8 1 4 1-9 1 31 1-26 1 8 1-4 1-17 1 17 1-9 1 26 1-8 1-5 1-8 1 13 1-22 1 13 1-4 1 8 1 0 1 5 1-18 1 13 1-4 1-22 1 35 1 0 1-22 1 18 1 8 1 0 1-8 1 17 1-22 1-26 1 44 1-9 1 0 1-13 1 13 1-9 1 5 1-5 1-4 1-4 1-9 1 0 1-4 1 4 1 35 1-35 1 0 1 4 1 5 1 21 1-8 1 0 1-9 1 4 1-17 1 30 1-13 1-8 1 13 1-22 1 22 1-13 1-5 1 0 1 9 1-26 1 26 1-4 1 8 1 0 1 0 1-17 1 13 1 0 1-4 1 4 1 0 1-13 1 9 1-5 1 13 1-13 1 0 1 9 1 0 1 13 1-4 1-31 1 26 1 9 1-17 1 8 1-26 1-17 1 43 1-21 1 26 1-5 1 13 1-13 1-17 1 35 1-53 1 35 1 0 1 0 1-4 1-17 1 21 1-35 1 27 1 21 1-8 1 4 1-17 1 13 1 8 1-30 1 0 1 0 1 4 1 26 1-17 1 4 1-13 1 26 1 0 1-13 1-17 1 17 1-8 1 26 1-39 1 13 1 4 1-4 1 8 1 5 1-5 1 9 1-9 1-8 1-13 1 17 1 9 1-22 1 0 1 9 1 0 1-5 1 0 1 18 1 8 1 0 1-21 1 4 1-9 1 13 1 0 1 5 1 0 1 13 1-18 1 13 1-39 1 22 1 17 1-26 1-13 1 26 1-8 1 13 1-9 1-9 1 9 1 0 1 9 1-9 1 0 1 4 1 18 1-22 1 0 1 26 1-30 1-13 1 26 1-22 1 9 1 4 1 0 1 0 1-9 1 0 1 5 1 17 1 0 1-13 1-9 1 13 1 9 1-9 1 5 1-9 1-22 1 9 1 9 1-5 1 0 1 0 1 22 1 0 1-17 1 8 1-4 1 4 1-13 1 13 1-8 1-9 1 22 1-13 1 4 1-4 1 8 1 5 1-13 1 13 1-18 1 18 1-5 1-4 1 13 1-4 1 0 1 8 1-21 1 30 1-4 1-22 1 0 1-9 1 13 1-4 1-4 1 4 1-17 1 4 1 9 1 13 1-5 1 0 1 18 1-9 1-4 1-35 1 26 1-4 1 17 1-17 1-22 1 17 1-4 1 17 1 5 1-5 1-8 1-9 1 22 1-5 1 5 1-22 1 13 1-9 1 0 1 22 1-13 1 13 1-26 1 13 1 4 1-8 1-27 1 35 1 9 1-13 1 13 1 0 1-22 1 13 1-8 1 13 1-9 1 0 1-4 1-5 1-4 1 4 1 5 1 8 1 0 1-8 1-9 1 13 1 4 1 0 1-13 1-8 1 21 1-4 1 9 1-9 1-4 1-5 1 0 1 5 1 13 1-5 1 0 1-4 1-4 1-5 1 0 1 5 1 8 1 0 1-17 1 30 1-34 1 21 1-8 1-40 1 48 1 13 1-26 1 9 1 17 1-8 1-9 1-9 1 18 1-9 1 4 1-8 1 21 1-26 1 18 1-5 1 0 1 5 1 4 1-13 1-17 1-9 1 35 1 0 1-31 1 18 1-13 1 21 1-13 1 0 1 13 1-8 1-13 1 13 1 21 1-26 1 13 1-4 1 9 1-13 1 8 1 5 1 8 1-30 1 17 1-8 1 17 1-39 1 22 1 4 1-13 1 39 1-26 1 13 1-9 1-8 1 4 1 4 1-4 1 0 1 4 1 9 1-13 1 4 1 13 1 0 1-34 1 4 1 17 1-21 1 8 1 9 1 22 1-31 1 31 1-26" stroke="#666" stroke-width="1.2" marker-start="url(#m6)" marker-mid="url(#m6)" marker-end="url(#m6)"/><path class="s" transform="translate(592.2 0) scale(0.25 1.0)" vector-effect="non-scaling-stroke" d="M737 800l1-17 1 13 1-13 1 13 1-9 1 9 1-22 1-9 1 9 1 4 1 48 1-26 1-4 1-13 1 4 1 9 1 8 1-13 1 9 1-26 1 35 1-18 1-26 1 9 1 0 1 26 1-9 1 44 1-44 1-17 1 13 1-13 1 9 1 52 1-31 1-13 1-17 1 4 1 18 1-9 1-22 1 26 1 5 1-22 1-4 1 48 1-40 1 5 1-9 1-4 1 30 1-9 1 0 1 0 1 5 1-31 1 26 1 0 1-4 1 13 1-26 1 22 1-22 1-9 1 5 1 30 1-35 1 44 1-9 1-9 1 31 1-31 1-17 1-9 1 13 1 31 1-26 1-18 1 35 1-9 1 13 1-4 1-17 1 21 1-8 1-26 1 21 1-8 1-5 1 13 1 5 1 0 1 8 1-30 1-9 1 13 1 48 1-48 1-4 1 0 1-9 1 22 1 13 1-4 1-9 1 0 1 0 1 22 1-18 1 18 1-9 1-4 1 26 1-18 1-4 1-17 1-18 1 26 1 5 1-31 1 31 1 8 1-26 1 9 1 22 1-44 1 31 1-18 1 0 1 31 1-26 1 21 1-21 1-18 1 31 1-18 1 26 1 0 1-4 1-22 1-8 1 34 1-17 1-13 1 9 1 0 1 26 1-22 1 22 1 0 1 0 1-44 1 9 1-4 1 0 1 34 1-8 1 13 1-22 1 22 1 0 1-26 1-13 1 26 1 0 1-13 1 8 1-26 1 35 1 0 1-9 1-21 1 26 1-5 1 13 1-34 1 21 1-13 1 13 1-17 1 0 1 35 1-13 1-5 1 9 1-9 1-17 1 57 1-61 1 17 1 9 1-22 1 4 1 53 1-61 1 17 1-17 1 4 1 9 1 4 1 17 1-26 1 31 1-35 1-9 1 57 1-13 1-39 1 21 1 18 1-44 1 35 1-4 1 13 1-39 1 13 1-5 1 44 1-18 1-26 1 13 1-13 1 0 1-8 1 17 1-4 1 17 1 9 1-35 1 9 1 21 1-13 1 9 1-9 1 13 1-13 1 0 1-17" stroke="#333" stroke-width="1.2" marker-start="url(#m6)" marker-mid="url(#m6)" marker-end="url(#m6)"/><path class="s" transform="translate(592.2 0) scale(0.5 1.0)" vector-effect="non-scaling-stroke" d="M0 874l1 13 1-13 1-8 1-5 1 22 1-22 1 0 1 18 1-5 1 5 1 8 1-26 1 18 1 0 1 0 1 0 1-5 1-4 1 0 1 0 1-4 1 8 1-4 1 4 1-17 1 0 1 22 1-9 1 4 1-4 1 4 1-8 1 8 1-4 1-9 1-22 1-13 1-13 1 18 1-9 1-4 1 8 1-4 1 26 1-35 1 5 1 0 1 8 1-4 1 9 1 4 1 0 1-31 1 40 1-22 1 0 1 4 1 0 1 0 1 0 1 0 1-4 1-4 1 17 1-9 1 5 1-9 1 0 1 9 1 4 1 0 1 4 1-13 1-13 1 13 1 0 1 0 1-4 1 13 1-4 1 0 1 4 1-31 1 35 1-26 1 18 1-5 1 9 1 9 1-13 1 0 1-9 1 4 1 5 1 4 1-17 1 17 1-17 1 13 1 4 1-4 1-9 1-4 1 4 1 17 1-13 1-4 1 13 1 0 1-9 1 5 1-9 1 9 1 0 1-13 1 4 1-4 1 8 1-8 1 8 1-13 1 18 1-5 1 5 1-9 1 4 1 13 1-13 1-4 1 4 1 5 1-5 1 13 1-4 1-4 1-5 1-4 1 13 1-22 1 13 1-4 1 0 1 13 1-9 1 0 1-13 1 9 1 4 1 0 1 0 1 9 1-4 1-13 1 13 1-5 1 0 1 9 1-22 1 9 1 13 1-13 1 0 1-4 1 4 1 4 1-4 1 4 1 13 1-21 1 8 1 0 1-13 1 13 1 5 1 8 1-8 1-9 1 0 1 0 1 9 1-9 1 4 1 18 1-18 1 0 1 5 1 4 1-9 1-4 1 17 1-8 1 0 1 4 1-9 1 0 1 5 1-13 1 21 1-21 1 13 1 0 1-5 1 0 1 0 1-4 1-4 1 17 1 0 1-17 1 17 1-4 1-9 1 4 1-4 1 0 1 13 1-4 1 8 1-13 1 9 1 0 1-13 1 0 1 13 1-4 1-22 1 17 1 5 1 0 1 4 1-9 1 5 1-5 1 0 1-8 1 13 1-5 1 5 1-9 1 4 1 13 1-13 1 5 1-5 1 0 1-8 1 13 1 0 1-9 1 0 1 9 1 4 1-17 1 13 1-5 1 0 1-8 1 4 1 4 1-13 1 9 1 0 1 13 1 0 1-13 1-9 1 13 1-8 1 4 1 4 1-8 1 8 1 13 1-13 1 5 1 0 1-9 1 0 1 4 1 5 1 0 1 0 1-9 1 9 1-9 1 4 1 5 1 4 1-9 1-8 1 8 1-4 1-4 1 13 1 0 1 8 1-13 1 5 1 0 1 4 1-26 1 0 1-5 1 27 1-9 1 4 1-4 1 9 1-5 1 0 1 5 1-9 1 4 1-4 1 0 1 0 1 4 1-4 1 4 1 5 1-9 1-4 1 8 1 9 1-17 1 13 1-9 1 0 1 13 1-4 1-13 1 8 1-8 1 0 1 13 1 0 1-5 1 9 1-9 1 5 1 0 1-13 1 8 1 9 1-4 1 0 1 4 1 4 1-13 1 5 1 0 1-13 1 4 1 22 1-31 1 13 1 0 1 0 1-4 1 0 1 13 1-13 1 4 1-13 1 22 1-17 1 21 1-21" stroke="#f59a70" stroke-width="0.8" marker-start="url(#m20)" marker-mid="url(#m20)" marker-end="url(#m20)"/><path class="s" transform="translate(592.2 0) scale(0.25 1.0)" vector-effect="non-scaling-stroke" d="M0 870l1-4 1-5 1 5 1 0 1 8 1-13 1 22 1-9 1-4 1-4 1 13 1-9 1 0 1 17 1-13 1 0 1 5 1-9 1 13 1-9 1 5 1-5 1 0 1 9 1-13 1 4 1 5 1-5 1-13 1 9 1 17 1-13 1-8 1 0 1 17 1-22 1 9 1 9 1 0 1-5 1-4 1-4 1-5 1 13 1-13 1 13 1-4 1 13 1-22 1 22 1-4 1 0 1-5 1 13 1-21 1 8 1-13 1 18 1-9 1 0 1-4 1 13 1 0 1 4 1-22 1 9 1-4 1 13 1-18 1 18 1-40 1-4 1 9 1 4 1 4 1 14 1-27 1-4 1 22 1-18 1-13 1 0 1 26 1-4 1 13 1-26 1 4 1 13 1 9 1-17 1 8 1-4 1 13 1-35 1 31 1-9 1-4 1 0 1-9 1 0 1 0 1 9 1 4 1-13 1 0 1 26 1-30 1 13 1 0 1 0 1-18 1 26 1-4 1 0 1 0 1-9 1 5 1 0 1-5 1 0 1 22 1-9 1-8 1 0 1-9 1 0 1 9 1 0 1-9 1 26 1-13 1-13 1 13 1-4 1 0 1 22 1-35 1 4 1 17 1-4 1-4 1 4 1-13 1-4 1 13 1-9 1 9 1-5 1-4 1 4 1-13 1 26 1-4 1-17 1 21 1 14 1-18 1-13 1 13 1-4 1-5 1 9 1 18 1-18 1 13 1-4 1 0 1 4 1-17 1-13 1 21 1 9 1-26 1 9 1-5 1 5 1 8 1-4 1-17 1 4 1 22 1-18 1 22 1 5 1-5 1-13 1-4 1-5 1 9 1-9 1 13 1-13 1-4 1 0 1 13 1-4 1-13 1 8 1 9 1 4 1-17 1 22 1-13 1 4 1 13 1-13 1-26 1 26 1-22 1 22 1-13 1 4 1 9 1 4 1 9 1-22 1 13 1 14 1-14 1 0 1-8 1 0 1-5 1-8 1 17 1 9 1-5 1 5 1-9 1-9 1-4 1-13 1 44 1-31 1 9 1 8 1-21 1 8 1 18 1-22 1 9 1-9 1 0 1 17 1-30 1 22 1-5 1-13 1 22 1-22 1 0 1 26 1-13 1 13 1-4 1 4 1-8 1 0 1 4 1-13 1-4 1 17 1 4 1-21 1 21 1-21 1 4 1 9 1-13 1 8 1-4 1 22 1-18 1-4 1 0 1-4 1 21 1 5 1-9 1 0 1-9 1-8 1 0 1 13 1-5 1-4 1 9 1-5 1 9 1-4 1 4 1-30 1 21 1-4 1 0 1 17 1 0 1-4 1-13 1 13 1 9 1-18 1 5 1-18 1 9 1-9 1 31 1 0 1-18 1 9 1-4 1-13 1 8 1 5 1-22 1 4 1 31 1-9 1-13 1 13 1-17 1-5 1-8 1 34 1-13 1-4 1-9 1 13 1 5 1 17 1-9 1-13 1-8 1-5 1 22 1 9 1-18 1-13 1 13 1 13 1-26 1 13 1 0 1 5 1 0 1-13 1 4 1 4 1 9 1-17 1-5 1 13 1 0 1 0 1 5 1-13 1 21 1-8 1-13 1 13 1 4 1-17 1 21 1 9 1-9 1-21 1 4 1 17 1-13 1 9 1 0 1 4 1 0 1-4 1 18 1-22 1-22 1 30 1 14 1-31 1 17 1-17 1 13 1-4 1-5 1 22 1-22 1 0 1 9 1 13 1-17 1 0 1-13 1 0 1 8 1-4 1 4 1 9 1-17 1 0 1 39 1-4 1-22 1-13 1 21 1-8 1 8 1-13 1 0 1 22 1-26 1-4 1 26 1-22 1 13 1 13 1-17 1-9 1 4 1 13 1-26 1 22 1 0 1-13 1 17 1-26 1 22 1 4 1-4 1-13 1 4 1 27 1-18 1 4 1 0 1-8 1-5 1 9 1-4 1 4 1-22 1 22 1 9 1-13 1-13 1 8 1 9 1 0 1-13 1 9 1-5 1 18 1-9 1-4 1-5 1 5 1-5 1-13 1 18 1-26 1 30 1-13 1 13 1-17 1 4 1 0 1 17 1-17 1 22 1-18 1 9 1 9 1-26 1-5 1 22 1-17 1 8 1 22 1-39 1 9 1 8 1-8 1 13 1-18 1 9 1-4 1 21 1 5 1-18 1 5 1 4 1 9 1 4 1 31 1-40 1-4 1 0 1 13 1-4 1-9 1 13 1-30 1 17 1-17 1 13 1 8 1-13 1 9 1 18 1-40 1 26 1 0 1-8 1-13 1 21 1-4 1-4 1-22 1 35 1-26 1 8 1-4 1-4 1 8 1-13 1 9 1 0 1 13 1-22 1 26 1 5 1-18 1 18 1-22 1 31 1-14 1-21 1 8 1 18 1-13 1-13 1 4 1 13 1-9 1 5 1-22 1 22 1-5 1-13 1 22 1 4 1-4 1 4 1-8 1-5 1-8 1 4 1-4 1 4 1 9 1 4 1 9 1-26 1 21 1 0 1-4 1 9 1-22 1 17 1-21 1 17 1 4 1-17 1 4 1 18 1-9 1 0 1 0 1 0 1-9 1 0 1 9 1-13 1 17 1 0 1-4 1 9 1-9 1 0 1-9 1 13 1-26 1 31 1-9 1 9 1 0 1 0 1 9 1-31 1 13 1-9 1-4 1 0 1 22 1-9 1 0 1-9 1 9 1 0 1-9 1 5 1-9 1 13 1-13 1 4 1 18 1 4 1-30 1 4 1 26 1-13 1-13 1 4 1-4 1-4 1 17 1-22 1 13 1 0 1 27 1-31 1-17 1 21 1-8 1 13 1-18 1 26 1-4 1 13 1-26 1 4 1 13 1-17 1 4 1 5 1 0 1-5 1-21 1 17 1-9 1 22 1-9 1 5 1-13 1 13 1 4 1 4 1-13 1 9 1 9 1-22 1 17 1-13 1-13 1 18 1-13 1 8 1-4 1 0 1 17 1-21 1 17 1-9 1 5 1-5 1-13 1 9 1 4 1-13 1 18 1 8 1-21 1 17 1 4 1-21 1 21 1 9 1-35 1 18 1 0 1-9 1 17 1-21 1 17 1 0 1 9 1-13 1-13 1-5 1 44 1-26 1-13 1 21 1 5 1-22 1 9 1 0 1-13 1 4 1 13 1-35 1 26 1-8 1 13 1-9 1 13 1-9 1 5 1 0 1-9 1 9 1 17 1-35 1 22 1 0 1 13 1-13 1-17 1-13 1 8 1 5 1 13 1-18 1 35 1-43 1 26 1-18 1 5 1-13 1 4 1 0 1 0 1-4 1 13 1-13 1 13 1-22 1 9 1 8 1 5 1 0 1-13 1 8 1-4 1-4 1 13 1-13 1 4 1 0 1 4 1 9 1-17 1-9 1 9 1 0 1 4 1 0 1 9 1-22 1 13 1-9 1 22 1-4 1-5 1 5 1 0 1-5 1-13 1-4 1 17 1 5 1-13 1 17 1-4 1-9 1 0 1 9 1-18 1 5 1 13 1 4 1-22 1 9 1 9 1 0 1-5 1-4 1 0 1 4 1-4 1-4 1 4 1-9 1 9 1 0 1 4 1 5 1-13 1 13 1-9 1-9 1 9 1 4 1-8 1 4 1 9 1-13 1 4 1 13 1-17 1 8 1 5 1-18 1 0 1 13 1-8 1-9 1 17 1 5 1-9 1 4 1-13 1 22 1-9 1 5 1 4 1-9 1 0 1 0 1-4 1 4 1 5 1-9 1-4 1 17 1-9 1 0 1 0 1 5 1-22 1 4 1 13 1 0 1 0 1-8 1 13 1 0 1-5 1-4 1-9 1 0 1 13 1 0 1 0 1-4 1 9 1-18 1 9 1 0 1 4 1-4 1 0 1 17 1-13 1 0 1-8 1 0 1 8 1-13 1 18 1 0 1-9 1 0 1 9 1-9 1-4 1 4 1-4 1 13 1-5 1-13 1 13 1 5 1-9 1 9 1-9 1 0 1 4 1 0 1-4 1 4 1 5 1-18 1 9 1-13 1 0 1 9 1 0 1 17 1-17 1 4 1 13 1-13 1 13 1-4 1 0 1-18 1 9 1-4 1 4 1 17 1-8 1-13 1 8 1-17 1 26 1-17 1 0 1 8 1-4 1 9 1 17 1-26 1 4 1-4 1-9 1 5 1 4 1 0 1 13 1-13 1-9 1 9 1 4 1 5 1 0 1-22 1 13 1 9 1-13 1 17 1-4 1 4 1-17 1 13 1-18 1 0 1 18 1 4 1-9 1 0 1 0 1-4 1 0 1 0 1 0 1 0 1-4 1 0 1 8 1-8 1 8 1-4 1 0 1 4" stroke="#2ea65c" stroke-width="0.9" marker-start="url(#m3)" marker-mid="url(#m3)" marker-end="url(#m3)"/></g><path d="M591.9 747.8V922.2" stroke="#c4c4c4" stroke-width="1" fill="none"/><text class="tk" x="587.6" y="925.8">0</text><text class="tk" x="587.6" y="904">5</text><text class="tk" x="587.6" y="882.2">10</text><text class="tk" x="587.6" y="860.4">15</text><text class="tk" x="587.6" y="838.6">20</text><text class="tk" x="587.6" y="816.8">25</text><text class="tk" x="587.6" y="795">30</text><text class="tk" x="587.6" y="773.2">35</text><text class="tk" x="587.6" y="751.4">40</text><path d="M591.4 922.2h6M591.4 900.4h6M591.4 878.6h6M591.4 856.8h6M591.4 835h6M591.4 813.2h6M591.4 791.4h6M591.4 769.6h6M591.4 747.8h6" stroke="#8a8a8a" stroke-width="1" fill="none"/><text class="yl" transform="translate(563.4 815.6) rotate(-90)" textLength="116.6" lengthAdjust="spacingAndGlyphs">No. of FSF domains</text><path d="M858 740H888.5" stroke="#f8c0a6" stroke-width="2.6"/><circle cx="873.2" cy="740.3" r="1.15" fill="#6a2a0a"/><text class="lt" x="892.3" y="744.8" textLength="46.8" lengthAdjust="spacingAndGlyphs">Transport</text><path d="M858 766.5H888.5" stroke="#6a80c8" stroke-width="1.0"/><circle cx="873.2" cy="766.3" r="1.15" fill="#13205e"/><text class="lt" x="892.3" y="770.8" textLength="39.5" lengthAdjust="spacingAndGlyphs">Ion m/tr</text><path d="M858 792.5H888.5" stroke="#5a5a5a" stroke-width="1.0"/><circle cx="873.2" cy="792.7" r="1.15" fill="#000000"/><text class="lt" x="892.3" y="797.2" textLength="46.3" lengthAdjust="spacingAndGlyphs">Proteases</text><path d="M858 818.5H888.5" stroke="#4cb87a" stroke-width="1.0"/><circle cx="873.2" cy="818.8" r="1.15" fill="#0a4a22"/><text class="lt" x="892.3" y="823.3" textLength="97.9" lengthAdjust="spacingAndGlyphs">Protein modification</text><path d="M858 845.5H888.5" stroke="#ee5a64" stroke-width="1.0"/><circle cx="873.2" cy="845.4" r="1.15" fill="#b0101e"/><text class="lt" x="892.3" y="849.9" textLength="97.9" lengthAdjust="spacingAndGlyphs">Trafficking/secretion</text><path d="M858 872.5H888.5" stroke="#f3dc5a" stroke-width="1.0"/><circle cx="873.2" cy="872" r="1.15" fill="#bba400"/><text class="lt" x="892.3" y="876.5" textLength="57.4" lengthAdjust="spacingAndGlyphs">Cell motility</text><path d="M858 898.5H888.5" stroke="#a880cc" stroke-width="1.0"/><circle cx="873.2" cy="898.4" r="1.15" fill="#3d1250"/><text class="lt" x="892.3" y="902.9" textLength="87.6" lengthAdjust="spacingAndGlyphs">Phospholipid m/tr</text><path d="M858 924.5H888.5" stroke="#5a5a5a" stroke-width="1.0"/><circle cx="873.2" cy="924.8" r="1.15" fill="#000000"/><text class="lt" x="892.3" y="929.3" textLength="97.5" lengthAdjust="spacingAndGlyphs">Cell cycle, Apoptosis</text></g>
<g><text class="ti" x="594.2" y="949.3" textLength="138.0" lengthAdjust="spacingAndGlyphs">Extracellular processes</text><path d="M594.7 975.0V958.4H839.4V975.0M612.5 958.4V975.0M779.0 958.4V975.0" fill="none" stroke="#6e6e6e" stroke-width="1.15"/><text class="br" x="603.6" y="969.9">A</text><text class="br" x="707.8" y="969.9">B</text><text class="br" x="809.2" y="969.9">E</text><g class="d"><path class="s" transform="translate(595 0) scale(0.25 1.0)" vector-effect="non-scaling-stroke" d="M70 1155l1 0 1 0 1 0 1-6 1 6 1 0 1 0 1 0 1 0 1 0 1 0 1 0 1 0 1 0 1 0 1 0 1-6 1 6 1 0 1 0 1 0 1-6 1 6 1 0 1 0 1-6 1 6 1 0 1-6 1 6 1 0 1 0 1 0 1 0 1 0 1 0 1 0 1 0 1 0 1 0 1 0 1 0 1 0 1 0 1 0 1 0 1 0 1 0 1 0 1 0 1-6 1 6 1 0 1 0 1 0 1 0 1 0 1 0 1 0 1 0 1-6 1 0 1 0 1 6 1 0 1 0 1 0 1-6 1 6 1-6 1 6 1 0 1 0 1 0 1 0 1 0 1 0 1 0 1-6 1 6 1-6 1 6 1 0 1 0 1 0 1 0 1 0 1 0 1-6 1 6 1 0 1 0 1-6 1 6 1-6 1 6 1 0 1-6 1 0 1 6 1 0 1 0 1 0 1 0 1-6 1 6 1 0 1 0 1 0 1 0 1 0 1 0 1 0 1 0 1 0 1 0 1-6 1 6 1 0 1 0 1 0 1 0 1 0 1 0 1 0 1-6 1 6 1 0 1 0 1 0 1 0 1 0 1-6 1 0 1 6 1 0 1 0 1 0 1 0 1 0 1 0 1-6 1 0 1 6 1 0 1 0 1 0 1 0 1 0 1 0 1 0 1 0 1 0 1-6 1 6 1 0 1-6 1 6 1-6 1 6 1 0 1 0 1 0 1 0 1 0 1 0 1 0 1 0 1-6 1 6 1 0 1 0 1 0 1 0 1 0 1 0 1-6 1 6 1 0 1 0 1-6 1 0 1 6 1 0 1 0 1 0 1 0 1 0 1 0 1 0 1 0 1 0 1-6 1 6 1 0 1-6 1 6 1 0 1 0 1 0 1 0 1 0 1 0 1 0 1 0 1 0 1 0 1 0 1 0 1 0 1 0 1 0 1 0 1 0 1 0 1 0 1 0 1 0 1-6 1 6 1 0 1 0 1-6 1 6 1 0 1 0 1-6 1 0 1 6 1 0 1 0 1 0 1 0 1 0 1-6 1 6 1 0 1 0 1 0 1 0 1-6 1 6 1 0 1 0 1 0 1 0 1 0 1 0 1 0 1 0 1 0 1 0 1 0 1 0 1 0 1-6 1 6 1 0 1 0 1 0 1 0 1-6 1 0 1 6 1-6 1 6 1 0 1 0 1 0 1 0 1 0 1 0 1 0 1 0 1 0 1 0 1 0 1 0 1 0 1-6 1 6 1 0 1 0 1 0 1 0 1 0 1 0 1 0 1 0 1 0 1 0 1-6 1 6 1 0 1 0 1 0 1-6 1 6 1-6 1 6 1 0 1 0 1 0 1 0 1 0 1 0 1-6 1 6 1 0 1 0 1 0 1 0 1 0 1-6 1 6 1-6 1 6 1 0 1-6 1 6 1 0 1 0 1 0 1 0 1-6 1 0 1 0 1 6 1 0 1 0 1-6 1 0 1 6 1 0 1 0 1 0 1 0 1 0 1-6 1 6 1-6 1 6 1 0 1 0 1 0 1 0 1 0 1-6 1 6 1 0 1 0 1-6 1 6 1 0 1 0 1 0 1 0 1 0 1 0 1 0 1 0 1 0 1 0 1 0 1 0 1 0 1-6 1 0 1 6 1 0 1 0 1-6 1 6 1 0 1 0 1 0 1 0 1-6 1 6 1-6 1 6 1 0 1-6 1 0 1 6 1-6 1 0 1 6 1 0 1 0 1 0 1 0 1 0 1 0 1 0 1-6 1 6 1 0 1 0 1 0 1 0 1 0 1 0 1 0 1 0 1 0 1-6 1 6 1 0 1-6 1 6 1 0 1-6 1 6 1 0 1 0 1 0 1 0 1 0 1 0 1 0 1-6 1 6 1-6 1 6 1 0 1 0 1 0 1 0 1 0 1 0 1 0 1-6 1 6 1 0 1 0 1 0 1 0 1 0 1-6 1 6 1 0 1 0 1 0 1 0 1 0 1 0 1 0 1 0 1 0 1-6 1 0 1 6 1 0 1 0 1 0 1-6 1 6 1 0 1-6 1 6 1-6 1 6 1-6 1 6 1-6 1 6 1 0 1 0 1 0 1 0 1-6 1 6 1-6 1 6 1-6 1 0 1 6 1 0 1 0 1 0 1 0 1 0 1-6 1 6 1 0 1-6 1 6 1 0 1 0 1 0 1 0 1 0 1-6 1 6 1 0 1 0 1 0 1 0 1 0 1 0 1-6 1 6 1 0 1 0 1 0 1-6 1 6 1 0 1 0 1 0 1 0 1 0 1 0 1 0 1 0 1 0 1 0 1 0 1 0 1 0 1 0 1 0 1 0 1 0 1 0 1 0 1 0 1 0 1 0 1 0 1 0 1-6 1 6 1-6 1 6 1-6 1 6 1 0 1 0 1 0 1-6 1 0 1 6 1 0 1 0 1 0 1 0 1 0 1 0 1 0 1 0 1 0 1 0 1-6 1 6 1-6 1 0 1 6 1 0 1 0 1 0 1 0 1-6 1 6 1 0 1-6 1 6 1 0 1-6 1 6 1-6 1 6 1 0 1 0 1 0 1-6 1 6 1 0 1 0 1-6 1 6 1 0 1-6 1 6 1 0 1 0 1 0 1 0 1 0 1-6 1 6 1-6 1 6 1-6 1 6 1-6 1 6 1 0 1-6 1 6 1-6 1 6 1 0 1-6 1 6 1 0 1 0 1 0 1-6 1 6 1 0 1 0 1-6 1 6 1 0 1 0 1 0 1 0 1 0 1 0 1 0 1 0 1-6 1 0 1 6 1 0 1 0 1-6 1 6 1 0 1 0 1 0 1 0 1 0 1 0 1 0 1 0 1 0 1 0 1 0 1 0 1-6 1 6 1 0 1 0 1 0 1 0 1 0 1 0 1 0 1 0 1 0 1 0 1 0 1-6 1 6 1 0 1 0 1-6 1 6 1 0 1 0 1-6 1 6 1 0 1-18 1 18 1 0 1-18 1 0 1 0 1-6 1 24 1-6 1-6 1 0 1 6 1-12 1 6 1-18 1 6 1 12 1 6 1-6 1-12 1 12 1 0 1 6 1-6 1 6 1-6 1 12 1-18 1 18 1-6 1-24 1 24 1 0 1 0 1-12 1 12 1 0 1-12 1 12 1 6 1-12 1-12 1 24 1-24 1 24 1 0 1-12 1-6 1 6 1 0 1 0 1-23 1 35 1-6 1-12 1 18 1-6 1 0 1-12 1 6 1 6 1-6 1 0 1 0 1-12 1 0 1 0 1 6 1 18 1-6 1-12 1 18 1-6 1 6 1-30 1 24 1-6 1 12 1-12 1 12 1 0 1 0 1-12 1 12 1-12 1 0 1 12 1-18 1 12 1-12 1 0 1-6 1 24 1-6 1 0 1-12 1 6 1 6 1-6 1 12 1 0 1-24 1 6 1 12 1-18 1 0 1 12 1-6 1 18 1-6 1-24 1 12 1 0 1 12 1-12 1-6 1 0 1 18 1 0 1-6 1 6 1-6 1 12 1-6 1-6 1 0 1 6 1-12 1 18 1-18 1 12 1-6 1 0 1-6 1 12 1 0 1-12 1-6 1 18 1-12 1 12 1 0 1-6 1-12 1 12 1-12 1 12 1 6 1-6 1 12 1-6 1-12 1 12 1-6 1 12 1-18 1-6 1 6 1 6 1 12 1-18 1 6 1 0 1-6 1 6 1-6 1 18 1-6 1 6 1-18 1-12 1 18 1-6 1-6 1 12 1 0 1-6 1 6 1-12 1 18 1 6 1-18 1 18 1-6 1 6 1-24 1 12 1 6 1 0 1-6 1 0 1-6 1 18 1-12 1 0 1 6 1-6 1-12 1 6 1 0 1-6 1-6 1 12 1 12 1-6 1 0 1 12 1-18 1 6 1 12 1-18 1 12 1-12 1-6 1 18 1 6 1-18 1 6 1-12 1 6 1 12 1-12 1 18 1 0 1-6 1-12 1 18 1-18 1 0 1 18 1-18 1 6 1-18 1 12 1 18 1-18 1 0 1 0 1 0 1 12" stroke="#f7b99a" stroke-width="1.8" marker-start="url(#m12)" marker-mid="url(#m12)" marker-end="url(#m12)"/><path class="s" transform="translate(595 0) scale(0.25 1.0)" vector-effect="non-scaling-stroke" d="M0 1149l1 6 1 0 1 0 1 0 1 0 1 0 1 0 1 0 1 0 1 0 1 0 1-6 1 6 1 0 1-6 1 0 1 6 1-6 1 6 1 0 1-6 1 6 1-6 1 6 1 0 1 0 1 0 1 0 1 0 1 0 1-6 1 6 1 0 1-6 1 0 1 6 1 0 1 0 1 0 1-6 1 6 1-6 1 6 1 0 1 0 1 0 1-6 1 6 1 0 1 0 1 0 1 0 1 0 1 0 1 0 1 0 1 0 1 0 1-6 1 6 1 0 1 0 1 0 1-6 1 6 1 0 1 0 1 0 1-6 1 6 1 0 1-6 1 6 1-6 1 0 1 6 1-6 1 0 1 6 1 0 1 0 1 0 1 0 1 0 1-6 1 6 1 0 1 0 1 0 1 0 1 0 1 0 1 0 1-6 1 6 1 0 1-6 1 6 1 0 1 0 1-6 1 6 1 0 1 0 1 0 1 0 1-6 1 6 1 0 1 0 1-6 1 6 1 0 1 0 1 0 1 0 1 0 1-6 1 6 1 0 1-6 1 6 1-6 1 0 1 6 1 0 1 0 1 0 1 0 1 0 1 0 1-6 1 6 1 0 1 0 1-6 1 6 1 0 1 0 1 0 1 0 1 0 1 0 1-6 1 6 1 0 1 0 1 0 1 0 1 0 1 0 1 0 1 0 1 0 1-6 1 0 1 6 1-6 1 6 1-6 1 0 1 6 1 0 1-6 1 6 1-6 1 6 1 0 1 0 1-6 1 6 1 0 1-6 1 6 1-6 1 6 1 0 1 0 1 0 1 0 1 0 1 0 1-6 1 6 1 0 1 0 1 0 1 0 1-6 1 6 1 0 1 0 1-6 1 6 1-6 1 6 1-6 1 0 1 6 1 0 1 0 1 0 1 0 1 0 1-6 1 6 1-6 1 6 1 0 1 0 1-6 1 0 1 0 1 0 1 6 1 0 1 0 1 0 1-6 1 0 1 6 1-6 1 6 1 0 1 0 1-6 1 6 1-6 1 6 1-6 1 6 1 0 1 0 1 0 1 0 1 0 1-6 1 6 1 0 1-6 1 0 1 0 1 0 1 6 1 0 1 0 1 0 1 0 1 0 1 0 1-6 1 6 1-6 1 6 1 0 1-6 1 0 1 6 1 0 1 0 1 0 1 0 1 0 1 0 1 0 1 0 1 0 1 0 1 0 1-6 1 0 1 6 1-6 1 6 1 0 1 0 1-6 1 6 1 0 1 0 1 0 1 0 1 0 1 0 1 0 1 0 1 0 1 0 1 0 1 0 1-6 1 0 1 6 1 0 1 0 1-6 1 6 1-6 1 6 1 0 1-6 1 6 1 0 1 0 1 0 1 0 1 0 1 0 1-6 1 6 1 0 1-6 1 6 1 0 1 0 1-6 1 6 1 0 1-6 1 6 1 0 1 0 1 0 1-6 1 6 1 0 1 0 1-6 1 6 1-6 1 0 1 6 1 0 1-6 1 6 1-6 1 0 1 6 1-6 1 6 1 0 1 0 1-6 1 6 1 0 1-6 1 6 1 0 1 0 1 0 1 0 1-6 1 6 1-6 1 0 1 6 1 0 1 0 1 0 1-6 1 6 1 0 1 0 1 0 1 0 1 0 1 0 1-6 1 6 1 0 1-6 1 6 1 0 1-6 1 6 1 0 1 0 1-6 1 6 1-6 1 6 1-6 1 6 1-6 1 6 1-6 1 0 1 6 1 0 1 0 1 0 1 0 1-6 1 6 1 0 1 0 1 0 1 0 1 0 1-6 1 6 1 0 1 0 1-6 1 0 1 0 1 6 1 0 1 0 1-6 1 6 1-6 1 6 1 0 1 0 1 0 1 0 1-6 1-6 1 12 1 0 1 0 1-6 1 6 1 0 1 0 1 0 1-6 1 6 1-6 1 0 1 0 1 0 1 6 1-6 1 6 1-6 1 0 1 0 1 0 1 0 1 6 1 0 1 0 1-6 1 0 1 0 1 6 1 0 1 0 1 0 1 0 1 0 1 0 1-6 1 6 1 0 1-6 1 6 1 0 1 0 1 0 1 0 1-6 1 6 1 0 1-6 1 0 1 6 1 0 1-6 1 6 1-6 1 6 1-6 1 0 1 6 1 0 1-6 1 0 1 6 1-6 1 6 1 0 1 0 1-6 1 6 1 0 1 0 1 0 1 0 1 0 1-6 1 6 1 0 1-6 1 6 1 0 1 0 1 0 1-6 1 6 1 0 1 0 1-6 1 6 1 0 1 0 1 0 1 0 1 0 1 0 1 0 1-6 1 6 1 0 1-6 1 6 1 0 1 0 1 0 1-6 1 6 1 0 1-6 1 6 1 0 1 0 1 0 1 0 1-6 1 6 1-6 1 6 1 0 1 0 1 0 1 0 1-6 1 6 1 0 1 0 1 0 1 0 1-6 1 6 1 0 1 0 1 0 1-6 1 6 1 0 1 0 1 0 1-6 1 0 1 0 1 6 1 0 1 0 1 0 1 0 1 0 1 0 1 0 1 0 1 0 1 0 1 0 1 0 1 0 1 0 1-6 1 6 1 0 1 0 1 0 1 0 1-6 1 0 1 6 1-6 1 0 1 6 1 0 1 0 1 0 1-6 1 0 1 0 1 0 1 6 1 0 1 0 1-6 1 0 1 6 1 0 1 0 1 0 1-6 1 6 1 0 1-6 1 6 1-6 1 6 1 0 1-6 1 0 1 0 1 0 1 6 1-6 1 0 1 6 1-6 1 6 1 0 1-6 1 6 1 0 1 0 1-6 1 6 1 0 1 0 1 0 1 0 1 0 1 0 1 0 1-6 1 6 1-6 1 6 1 0 1 0 1 0 1 0 1-6 1 6 1 0 1-6 1 6 1 0 1 0 1 0 1 0 1-6 1 6 1 0 1 0 1 0 1 0 1 0 1 0 1 0 1 0 1 0 1-6 1 6 1-6 1 0 1 0 1 0 1 6 1 0 1-6 1 0 1 6 1 0 1 0 1 0 1-6 1 0 1 6 1 0 1 0 1 0 1 0 1-6 1 6 1 0 1 0 1-6 1 6 1 0 1 0 1-12 1 12 1-6 1 6 1-6 1 6 1-6 1 6 1-6 1 6 1 0 1 0 1 0 1 0 1 0 1 0 1 0 1-6 1 6 1 0 1-6 1 0 1 6 1 0 1 0 1-6 1 6 1-6 1 6 1 0 1 0 1 0 1 0 1 0 1-6 1 6 1 0 1 0 1 0 1-6 1 6 1 0 1 0 1 0 1 0 1 0" stroke="#f5e02a" stroke-width="0.9" marker-start="url(#m4)" marker-mid="url(#m4)" marker-end="url(#m4)"/><path class="s" transform="translate(595 0) scale(0.25 1.0)" vector-effect="non-scaling-stroke" d="M0 1149l1 0 1 0 1 6 1 0 1-6 1 0 1 0 1 6 1-6 1 6 1 0 1-6 1 6 1-6 1 0 1 6 1-6 1 0 1 0 1-6 1 6 1 0 1 6 1-6 1 0 1-6 1 6 1 6 1-12 1 0 1 6 1 0 1-6 1 6 1 0 1 0 1 6 1-6 1 0 1-12 1 6 1 0 1 6 1-6 1 6 1 6 1-6 1 0 1 0 1 6 1-6 1 0 1-6 1 12 1-12 1 12 1-6 1 0 1 6 1-6 1 6 1-12 1 6 1 0 1-6 1 6 1 0 1 0 1 0 1 0 1 6 1-12 1-6 1 6 1 12 1-18 1 12 1 0 1 0 1 0 1-6 1 0 1 12 1-6 1 6 1-12 1 0 1 12 1-12 1 6 1 0 1 6 1-12 1 6 1 6 1-18 1 12 1-6 1 6 1-6 1 6 1-6 1 6 1 0 1 0 1-6 1 6 1 0 1-6 1 0 1 6 1-6 1 12 1-12 1 6 1 0 1-6 1 0 1 0 1 0 1-6 1 6 1 0 1 6 1 0 1 0 1 6 1 0 1-6 1 0 1 0 1-6 1 6 1-6 1 6 1 0 1 0 1-12 1 6 1 0 1 6 1 0 1 0 1 0 1-6 1 12 1-6 1-6 1 0 1 6 1 0 1 0 1 0 1 0 1-6 1 0 1 0 1 6 1-6 1 0 1 6 1 0 1 6 1-12 1 6 1 6 1-12 1 12 1-18 1 18 1-6 1 0 1 0 1-12 1 6 1 6 1-6 1 6 1 0 1 0 1 0 1-6 1 0 1 0 1 6 1-6 1 12 1-18 1 18 1-6 1-6 1 6 1-6 1 0 1 0 1 0 1 12 1-6 1-6 1 0 1 6 1 0 1-6 1 6 1 0 1 6 1-12 1 6 1 0 1 6 1-6 1 0 1 0 1-6 1 12 1-6 1 0 1-6 1 6 1 0 1 6 1-6 1-6 1 0 1 12 1 0 1-12 1 0 1 6 1 0 1-12 1 0 1 12 1 0 1 0 1 6 1-6 1 0 1 0 1 0 1-6 1 6 1-6 1 12 1-6 1-6 1 6 1 0 1 6 1 0 1-12 1 0 1 6 1 0 1-6 1 6 1 6 1-12 1 6 1 0 1 6 1-6 1-12 1 12 1 0 1 0 1 6 1-12 1 6 1 0 1 0 1 6 1-6 1-6 1 12 1-12 1 0 1 6 1-6 1-6 1 12 1 0 1-6 1 6 1-6 1 6 1 0 1 0 1 0 1 0 1 0 1 0 1 0 1-6 1 0 1 0 1 6 1-6 1 12 1 0 1-12 1 0 1 0 1 0 1 12 1 0 1-12 1 0 1 6 1 6 1-12 1 6 1 0 1-6 1 0 1 12 1-6 1-12 1 18 1-6 1 0 1-12 1 12 1-6 1 0 1 0 1 0 1 12 1-6 1-6 1-6 1 18 1-12 1 6 1 6 1 0 1-6 1 0 1-6 1 0 1 0 1 0 1 0 1 6 1-6 1 6 1 0 1 0 1 6 1-6 1-6 1 12 1-18 1 12 1 0 1-6 1 0 1 12 1-12 1 6 1 0 1 0 1 0 1-6 1 0 1 12 1 0 1-6 1 0 1 0 1 0 1 0 1 6 1-6 1-6 1 6 1-6 1 0 1 6 1-6 1 0 1 6 1 0 1 0 1 0 1 0 1-6 1 6 1-6 1 12 1-12 1 6 1 0 1 6 1 0 1-6 1 0 1 0 1 0 1 0 1 0 1 6 1-6 1-6 1 6 1 0 1 0 1 0 1 0 1 0 1 6 1 0 1 0 1-12 1 6 1 0 1 6 1-12 1 0 1 0 1 6 1 6 1-12 1 0 1 0 1 6 1-6 1 12 1-6 1 0 1-6 1 0 1 0 1 6 1 0 1 0 1 6 1 0 1 0 1-6 1 0 1 0 1 0 1 0 1 0 1 0 1 0 1 0 1-6 1 6 1 0 1 0 1 6 1-6 1-6 1 0 1 6 1-6 1 12 1-18 1 6 1 6 1 6 1 0 1-6 1-6 1 6 1 6 1-12 1-6 1 12 1 0 1 6 1-6 1 0 1 6 1-6 1 0 1 0 1-6 1 0 1 12 1-12 1 0 1 6 1-6 1 12 1 0 1-6 1-6 1 6 1-6 1 6 1 0 1 0 1 0 1 0 1 0 1 6 1-6 1 0 1-6 1 6 1 0 1 0 1-6 1 0 1 6 1 6 1-6 1-6 1 12 1-6 1 0 1-6 1 6 1 0 1-6 1 6 1 0 1-6 1 6 1-6 1 6 1-6 1 0 1 6 1-6 1 0 1 0 1 6 1 0 1 0 1-6 1 6 1 0 1-6 1 6 1-6 1 0 1 0 1 6 1 6 1-12 1-6 1 12 1 0 1-12 1 12 1 0 1 0 1-6 1 0 1 0 1 0 1 12 1-6 1 0 1 6 1-6 1-6 1-6 1 12 1 0 1-12 1 6 1 6 1 0 1 0 1 0 1 0 1-12 1 12 1-6 1 0 1 0 1 0 1 6 1-6 1 6 1 6 1-6 1-6 1 0 1 6 1 6 1-6 1 6 1-6 1 0 1 0 1-6 1 0 1 6 1 0 1-6 1 12 1 0 1-6 1-6 1 0 1 0 1 0 1-6 1 12 1 0 1-6 1 12 1-6 1 0 1 6 1-6 1 0 1 6 1-6 1 6 1-6 1-6 1 6 1 6 1-6 1-6 1 12 1 0 1-6 1 0 1 0 1 0 1-6 1 6 1 0 1-6 1 12 1-12 1 6 1-6 1 0 1 6 1-6 1 6 1 0 1 0 1 0 1-6 1 6 1 6 1-6 1 0 1 0 1 6 1-12 1 6 1-12 1 6 1 0 1 6 1-6 1 0 1 6 1 0 1 0 1 6 1 0 1-6 1 6 1-12 1 12 1-6 1-6 1 6 1 6 1-18 1 6 1 0 1 6 1-6 1 0 1 6 1 0 1 0 1 0 1 0 1-6 1 0 1 6 1 0 1 0 1 0 1-6 1 0 1 0 1 0 1 12 1-12 1 6 1 0 1 0 1-12 1 18 1-6 1 6 1 0 1-12 1 6 1-6 1 6 1 0 1-6 1 0 1 12 1-6 1 6 1-12 1 6 1 6 1-6 1 0 1-6 1 6 1 6 1 0 1-6 1 0 1 6 1-12 1 6 1 0 1-6 1 6 1-12 1 6 1 6 1 6 1-6 1-6 1-6 1 0 1 6 1 0 1-12 1-6 1 6 1 24 1-24 1-6 1 18 1-18 1 24 1-12 1 0 1 6 1-18 1 12 1-12 1 18 1 0 1 12 1-30 1 0 1 24 1-6 1 6 1-6 1 0 1-6 1 6 1-12 1 6 1 0 1 6 1-6 1-6 1 12 1 6 1-18 1 24 1-12 1 6 1-6 1 6 1-18 1 6 1-6 1 6 1 0 1 6 1 6 1-18 1 18 1-12 1 0 1-6 1 6 1 6 1 6 1-6 1-6 1-17 1 5 1-5 1 17 1-6 1 24 1-18 1 12 1-18 1 6 1 0 1 12 1-18 1 24 1-12 1 6 1 0 1 6 1-12 1-6 1 6 1-6 1 12 1-12 1-6 1 12 1 0 1 12 1-6 1-24 1 18 1-6 1 6 1-6 1 0 1 18 1-24 1 24 1-12 1-12 1 6 1 0 1 0 1 6 1-12 1 6 1-6 1 6 1 6 1 6 1-18 1 6 1-12 1 12 1 18 1-12 1-6 1 0 1 6 1-23 1 29 1 6 1-18 1 6 1-6 1 12 1-12 1 18 1-24 1-6 1 12 1 6 1-12 1-6 1 18 1 0 1 0 1 12 1 0 1 0 1-18 1-12 1 18 1-6 1 0 1 12 1-18 1 6 1 12 1-12 1-6 1 12 1 0 1 6 1-18 1 6 1 0 1 0 1-6 1 12 1 12 1-12 1 0 1-12 1 6 1 0 1 0 1-12 1 0 1 24 1-12 1-6 1 6 1-12 1 0 1 30 1-24 1 6 1 6 1-6 1 12 1-6 1-12 1-6 1 12 1-23 1 29 1 0 1 6 1-6 1 0 1 6 1 0 1-6 1 12 1 0 1-18 1 0 1-6 1 18 1-12 1-6 1 24 1 0 1-12 1-6 1 0 1 6 1 0 1 0 1-12 1 18 1-12 1 0 1-12 1 30 1-24 1 24 1-12 1-6 1 6 1 0 1 6 1 0 1-6 1-18 1 12 1-6 1 6 1-6 1 12 1-12 1 6 1 12 1-6 1-6 1 6 1 0 1-12" stroke="#ee3a45" stroke-width="0.9" marker-start="url(#m0)" marker-mid="url(#m0)" marker-end="url(#m0)"/><path class="s" transform="translate(595 0) scale(0.25 1.0)" vector-effect="non-scaling-stroke" d="M736 1125l1 24 1-12 1 12 1-6 1-6 1 0 1-12 1 12 1 0 1-23 1-6 1 12 1-12 1 23 1-6 1 18 1 12 1-12 1-35 1 29 1-17 1-6 1-6 1-6 1 18 1-18 1 29 1-35 1 41 1 0 1 0 1-29 1-12 1 29 1 0 1-11 1 35 1-53 1 6 1 0 1 12 1 0 1 29 1-29 1 29 1-29 1 17 1 12 1-29 1-12 1 41 1-18 1 12 1-12 1-17 1 29 1 12 1-12 1-12 1-11 1 11 1-23 1 0 1 35 1-17 1 23 1-29 1 29 1-35 1 41 1-6 1-29 1-6 1 17 1 24 1 0 1 0 1-29 1 29 1-6 1-41 1 18 1-12 1 41 1-29 1 17 1-29 1 17 1 18 1 6 1-24 1-23 1 41 1 0 1 12 1-30 1-23 1 23 1 0 1-5 1 17 1-12 1-23 1 12 1-12 1 29 1-17 1 17 1 18 1-29 1 0 1 11 1 12 1-23 1-18 1 53 1-30 1 18 1-18 1-5 1 11 1 18 1 6 1-30 1-17 1 41 1-12 1-23 1 23 1-41 1 47 1-23 1-18 1 53 1-35 1 17 1-12 1 30 1-53 1 23 1 0 1 12 1-23 1 35 1-6 1 6 1 6 1-41 1 11 1-23 1 0 1 12 1-18 1 53 1 6 1-24 1 12 1 6 1-47 1 29 1 18 1-18 1-29 1 23 1 0 1 18 1-6 1-35 1 35 1-35 1 41 1-18 1-5 1 17 1-41 1 47 1 0 1 6 1-6 1 6 1-12 1-41 1 24 1-6 1 41 1-30 1 6 1-11 1 5 1-5 1 11 1 24 1-35 1 11 1 0 1 12 1-41 1 35 1-12 1 30 1-35 1-12 1 29 1-23 1-6 1 35 1-6 1 6 1-35 1 35 1-12 1 12 1-12 1 6 1 18 1-24 1-6 1-11 1 23 1-29 1 0 1-12 1 18 1 29 1-41 1 18 1-12 1 0 1 41 1 0 1-12 1-6 1-23 1 23 1 18 1-18 1 0 1-29 1 12 1 6" stroke="#f5e02a" stroke-width="1.6" marker-start="url(#m4)" marker-mid="url(#m4)" marker-end="url(#m4)"/><path class="s" transform="translate(595 0) scale(0.6 1.0)" vector-effect="non-scaling-stroke" d="M307 1125l1 6 1-11 1 11 1-6 1 12 1 18 1 0 1-12 1 6 1-35 1 17 1 18 1-35 1 23 1-17 1 23 1-12 1 12 1-18 1 6 1 6 1 6 1-12 1 0 1 18 1-18 1-11 1-6 1 41 1-35 1 11 1 6 1 12 1-18 1 12 1-18 1 0 1 18 1 0 1-12 1 6 1-12 1 12 1 18 1-18 1 18 1-12 1 0 1-6 1 0 1 0 1 18 1-30 1 6 1 12 1-6 1-6 1 24 1-30 1 0 1 24 1-29 1 11 1-6 1 12 1 6 1-23 1 17 1-12 1 12 1-6 1 6 1-6 1 0 1 6 1 12 1-12 1 0 1-12 1 6 1 6 1 6 1 6 1-24 1 24 1-24 1 18 1-18 1 0 1 18 1-12 1 6 1-6 1 0 1-11 1 17 1-12 1 12 1 0" stroke="#e6323e" stroke-width="0.9" stroke-opacity="0.0" marker-start="url(#m21)" marker-mid="url(#m21)" marker-end="url(#m21)"/><path class="s" transform="translate(595 0) scale(0.3 1.0)" vector-effect="non-scaling-stroke" d="M0 1120l1 17 1 6 1-6 1-6 1 0 1 12 1 0 1-12 1-17 1 17 1 18 1 0 1-6 1-12 1 6 1-12 1 12 1-6 1 18 1-18 1 6 1-6 1 18 1-12 1-6 1 18 1-12 1 0 1-12 1 30 1-18 1-6 1 0 1 18 1-29 1 23 1-12 1-6 1 0 1 12 1 0 1 0 1 6 1 6 1-6 1-6 1 6 1 0 1 6 1-6 1-6 1 6 1-12 1 0 1 0 1 6 1-12 1 18 1-12 1-46 1 35 1 0 1 0 1 5 1-23 1 0 1 18 1-6 1 41 1-59 1 24 1-30 1 41 1-11 1-6 1 6 1 5 1-17 1-18 1 35 1 0 1-5 1 5 1-35 1 41 1 12 1-41 1-12 1 35 1-11 1 17 1 6 1-23 1-6 1 0 1 12 1-6 1 0 1 0 1-6 1 12 1-6 1 17 1-35 1 18 1-29 1 29 1 11 1-17 1 12 1 5 1 6 1-6 1 0 1-35 1 18 1 17 1-5 1 11 1-35 1 24 1 0 1-12 1 17 1-23 1-6 1 18 1-6 1-6 1 23 1-11 1-6 1-18 1 35 1-17 1 17 1-11 1-6 1 29 1-17 1 5 1-5 1 0 1-6 1 11 1 0 1-46 1 29 1 12 1-12 1 23 1-46 1 64 1-35 1 23 1-52 1 29 1 11 1-17 1 6 1-12 1 18 1-12 1 17 1 12 1-41 1 47 1-41 1-6 1 18 1 17 1 0 1-17 1 17 1-11 1-12 1 17 1-17 1 29 1-6 1-23 1 6 1 11 1-5 1 11 1-6 1-5 1 0 1 0 1 0 1 5 1-23 1 0 1-6 1 18 1 0 1 6 1 5 1-5 1 0 1-41 1 23 1 12 1 0 1 0 1 6 1 0 1 0 1-35 1 58 1-35 1 29 1-6 1-6 1 6 1 0 1 12 1-12 1-11 1-6 1 23 1-35 1 23 1-23 1 18 1-12 1 12 1-6 1 6 1 5 1-40 1 0 1 64 1-53 1 24 1-12 1 0 1 23 1 0 1 0 1-17 1 11 1-11 1-6 1 12 1 5 1-35 1 24 1 11 1-5 1 0 1 5 1-17 1 23 1-11 1-30 1 12 1 0 1 12 1 0 1-12 1 18 1-6 1-6 1 6 1 17 1-6 1-11 1 23 1-12 1-5 1 11 1-17 1 23 1-17 1 0 1-18 1 0 1 23 1 12 1-17 1-6 1 6 1 5 1-17 1 12 1 11 1-17 1 6 1-6 1 0 1 0 1 17 1-11 1-6 1-12 1 29 1-6 1 12 1-41 1 24 1-6 1 23 1-29 1 0 1 6 1-6 1 17 1-17 1 23 1-17 1-6 1 23 1-35 1 29 1 0 1 0 1-11 1 11 1-11 1-6 1-6 1 12 1 17 1-6 1 12 1-23 1 17 1-17 1-12 1 23 1-11 1 6 1 5 1-5 1-6 1 6 1 5 1-17 1-6 1 23 1-46 1 52 1-6 1-5 1 5 1-11 1-6 1 12 1 0 1 0 1 0 1-35 1 46 1-11 1-6 1 17 1-23 1 17 1 0 1-11 1 17 1 6 1 6 1-18 1-11 1 11 1-35 1 41 1 0 1 12 1-35 1 6 1 11 1-11 1 6 1-6 1 17 1-29 1 29 1-11 1-6 1-6 1 6 1 23 1-35 1 6 1 23 1-23 1 17 1 0 1-11 1 11 1-17 1 0 1-6 1 35 1-35 1 18 1 0 1 5 1-11 1 11 1-29 1 0 1 29 1 12 1-12 1-40 1 35 1-24 1 24 1 17 1-17 1-6 1 6 1 11 1-17 1-6 1 17 1-5 1-12 1-23 1 29 1 11 1-5 1 11 1 6 1-17 1 0 1 5 1-11 1-6 1 6 1-6 1 6 1 29 1-18 1-17 1 0 1-12 1 24 1 0 1-12 1 12 1-12 1 23 1-6 1-5 1-12 1 17 1 6 1-35 1 24 1 5 1-5 1 0 1-12 1 17 1-29 1 24 1 17 1-23 1-6 1 17 1 0 1-17 1 0 1 12 1 5 1 6 1-11 1 17 1-12 1-5 1 0 1 0 1 17 1-12 1 6 1-11 1 5 1 0 1 0 1-11 1 11 1 6 1 6 1-23 1 11 1-40 1 35 1 5 1-23 1 12 1-24 1 30 1-12 1 12 1 11 1-29 1 18 1 0 1 5 1-5 1 0 1 5 1-46 1 52 1-52 1 41 1 5 1-29 1 53 1-29 1 11 1 0 1-11 1 5 1 0 1 6 1 12 1-29 1-6 1 6 1 6 1 35 1-30 1-11 1 6 1 0 1-6 1-18 1 6 1 6 1-6 1 18 1-12 1 23 1-17 1 17 1-23 1 23 1-11 1 5 1 0 1 12 1-6 1-11 1 0 1-18 1 0 1 12 1-29 1 29 1 0 1 11 1 6 1-6 1-17 1 6 1 6 1 17 1-6 1-29 1 29 1-6 1 0 1 6 1-17 1-12 1 12 1 17 1-41 1 30 1-12 1 6 1-6 1-12 1 6 1 18 1 0 1-12 1 17 1 6 1-17 1 17 1-11 1 11 1-6 1 0 1-29 1 29 1-5 1 17 1-12 1-23 1-23 1 46 1-23 1 12 1 17 1-17 1-24 1 24 1 6 1-30 1 18 1 0 1 23 1-11 1-24 1 18 1-117 1 0 1 0 1 99 1-93 1-18 1 12 1 0 1 6 1 111 1-123 1 105 1 18 1-111 1-12 1 6 1-6 1 18 1-18 1 12 1-6 1 111 1-111 1 17 1-17 1 0 1 6 1 0 1 0 1 93 1 6 1-105 1-6 1 12 1 0 1-6 1 0 1-18 1 6 1 0 1 117 1 0 1-111 1 18 1-12 1 117 1-111 1-12 1 123 1-105 1-6 1 0 1-12 1 6 1 0 1 105 1-93 1 0 1-6 1 0 1 99 1 12 1-111 1-6 1-6 1 0 1 117 1-123 1 123 1-111 1 111 1-111 1 105 1-99 1-6 1 6 1-6 1 0 1 0 1 0 1-12 1 105 1-99 1 12 1-12 1 12 1-12 1 111 1-105 1 6 1 6 1-12 1 99 1 0 1-99 1-6 1 117 1-117 1 0 1 0 1 6 1 105 1 0 1-117 1 18 1 111 1-111 1-18 1 6 1 0 1 123 1 0 1-6 1-111 1 0 1 6 1-12 1 129 1-123 1 0 1 123 1-6 1-111 1-12 1 111 1-111 1 111 1-105 1 99 1 12 1-12 1-99 1 111 1-117 1 18 1 93 1-6 1 18 1-6 1-18 1-93 1 0 1-6 1 117 1-105 1 0 1-12 1 123 1-117 1 0 1 111 1 6 1-117 1 6 1-12 1 0 1-6 1 117 1-105 1 111 1 6 1-117 1 105 1-105 1 0 1 99 1-93 1-6 1 6 1 105 1-123 1 117 1-6 1-99 1 12 1-12 1 123 1-18 1-6 1 12 1-6 1-105 1 0 1 6 1 93 1-105 1 123 1-117 1 0 1 111 1 6 1 0 1-117 1-6 1 0 1 6 1 0 1 6 1-6 1 6" stroke="#151515" stroke-width="1.0" marker-start="url(#m22)" marker-mid="url(#m22)" marker-end="url(#m22)"/></g><path d="M594.7 979.4V1154.7" stroke="#c4c4c4" stroke-width="1" fill="none"/><text class="tk" x="590.4" y="1158.3">0</text><text class="tk" x="590.4" y="1129.1">5</text><text class="tk" x="590.4" y="1099.9">10</text><text class="tk" x="590.4" y="1070.6">15</text><text class="tk" x="590.4" y="1041.4">20</text><text class="tk" x="590.4" y="1012.2">25</text><text class="tk" x="590.4" y="983">30</text><path d="M594.2 1154.7h6M594.2 1125.5h6M594.2 1096.3h6M594.2 1067h6M594.2 1037.8h6M594.2 1008.6h6M594.2 979.4h6" stroke="#8a8a8a" stroke-width="1" fill="none"/><text class="yl" transform="translate(563.4 1056.8) rotate(-90)" textLength="116.6" lengthAdjust="spacingAndGlyphs">No. of FSF domains</text><path d="M860.7 1076H891.8" stroke="#f4b0b4" stroke-width="2.6"/><circle cx="876.2" cy="1075.7" r="1.15" fill="#6e0a10"/><text class="lt" x="895.3" y="1080.2" textLength="72.5" lengthAdjust="spacingAndGlyphs">Toxins/defense</text><path d="M860.7 1102H891.8" stroke="#f8c0a6" stroke-width="2.6"/><circle cx="876.2" cy="1102.1" r="1.15" fill="#6a2a0a"/><text class="lt" x="895.3" y="1106.6" textLength="68.0" lengthAdjust="spacingAndGlyphs">Blood clotting</text><path d="M860.7 1128H891.8" stroke="#f8eaa6" stroke-width="2.6"/><circle cx="876.2" cy="1128.2" r="1.15" fill="#bba400"/><text class="lt" x="895.3" y="1132.7" textLength="87.3" lengthAdjust="spacingAndGlyphs">Immune response</text><path d="M860.7 1154.5H891.8" stroke="#5a5a5a" stroke-width="1.0"/><circle cx="876.2" cy="1154.2" r="1.15" fill="#000000"/><text class="lt" x="895.3" y="1158.7" textLength="64.8" lengthAdjust="spacingAndGlyphs">Cell adhesion</text></g>
<g><text class="ti" x="594.9" y="1181.0" textLength="36.5" lengthAdjust="spacingAndGlyphs">Other</text><path d="M595.6 1209.0V1192.5H840.3V1209.0M613.75 1192.5V1209.0M780.0 1192.5V1209.0" fill="none" stroke="#6e6e6e" stroke-width="1.15"/><text class="br" x="604.7" y="1204">A</text><text class="br" x="708.9" y="1204">B</text><text class="br" x="810.1" y="1204">E</text><g class="d"><path class="s" transform="translate(595.9 0) scale(0.25 1.0)" vector-effect="non-scaling-stroke" d="M0 1387l1 0 1 0 1 0 1 0 1 0 1 0 1-2 1 2 1 0 1 2 1-2 1 0 1 0 1 0 1-2 1 2 1 2 1 0 1-2 1 0 1 0 1 0 1 0 1 0 1 0 1 0 1 0 1 0 1 2 1-2 1 0 1 0 1-2 1 4 1-2 1 2 1-4 1 2 1-2 1 2 1 0 1-2 1 2 1 0 1 0 1 0 1 0 1 2 1-2 1 0 1 0 1 0 1 2 1-4 1 2 1 2 1-2 1 2 1-2 1 0 1 0 1 2 1-4 1 2 1-2 1 2 1 0 1 0 1-2 1 2 1 0 1 2 1 0 1 0 1 0 1-2 1 0 1 0 1 0 1 0 1 0 1 0 1 0 1 2 1 0 1-2 1 2 1-2 1 0 1 2 1 0 1-2 1 2 1-2 1 2 1 0 1 0 1-2 1 2 1 0 1-2 1 2 1 0 1-2 1 0 1 0 1 0 1 2 1 0 1 0 1 0 1-2 1 2 1 0 1 0 1 0 1-2 1 2 1 0 1-2 1 2 1-2 1 2 1 0 1-2 1 0 1 0 1 0 1 2 1-2 1 0 1 2 1 0 1 0 1-2 1 0 1 2 1-2 1 0 1 0 1 0 1 2 1 0 1 0 1-2 1 2 1 0 1-2 1 2 1-2 1 0 1-2 1 4 1 0 1 0 1-2 1 0 1 0 1 0 1 2 1 0 1 0 1 0 1-2 1 0 1 0 1 2 1-2 1 0 1 2 1 0 1-2 1 2 1-2 1 0 1 0 1 0 1 2 1 0 1-2 1 0 1 2 1-2 1 0 1 0 1 2 1-2 1 2 1 0 1-2 1 0 1 2 1-2 1 2 1-2 1 2 1-2 1 0 1 0 1 2 1-2 1 2 1 0 1-2 1 0 1 2 1 0 1-2 1 0 1 0 1 2 1 0 1 0 1 0 1 0 1 0 1 0 1 0 1 0 1 0 1 0 1 0 1-2 1 2 1 0 1-2 1 0 1 0 1 0 1 0 1 2 1-2 1 2 1-2 1 2 1 0 1 0 1 0 1-2 1 2 1 0 1-2 1 2 1-2 1 0 1 0 1 2 1 0 1 0 1 0 1-2 1 2 1 0 1 0 1 0 1-2 1 0 1 2 1 0 1 0 1 0 1-2 1 2 1 0 1 0 1 0 1 0 1-2 1 2 1-2 1 0 1 0 1 2 1 0 1-2 1 0 1 2 1 0 1 0 1-2 1 2 1 0 1-2 1 0 1 0 1 0 1 0 1 0 1 2 1-2 1 2 1 0 1-2 1 2 1 0 1 0 1 0 1-2 1 2 1-2 1 0 1 2 1 0 1 0 1 0 1-2 1 0 1 0 1 0 1 0 1 2 1 0 1 0 1-2 1 0 1 2 1 0 1-2 1 0 1 2 1 0 1-2 1 2 1 0 1 0 1-2 1 0 1 2 1-2 1 2 1 0 1-2 1 0 1 2 1-2 1 0 1 2 1-2 1 2 1-2 1 0 1 0 1 2 1 0 1-2 1 2 1-2 1 2 1 0 1-2 1 0 1 0 1 0 1 2 1 0 1-2 1 2 1-2 1 0 1 0 1 2 1-2 1 0 1 2 1-2 1 0 1 2 1-2 1 2 1-2 1 2 1-2 1 2 1-2 1 0 1 0 1 0 1 0 1 2 1-2 1 0 1 0 1 0 1 2 1-2 1 0 1 0 1 0 1 0 1 2 1 0 1-2 1 0 1 2 1-2 1 0 1 0 1 0 1 2 1 0 1-2 1 2 1 0 1-2 1 0 1 2 1-2 1 0 1 2 1-2 1 2 1-2 1 2 1 0 1-2 1 2 1 0 1-2 1 0 1 2 1 0 1 0 1-2 1 0 1 2 1-2 1 0 1 2 1-2 1 2 1 0 1-2 1 2 1-2 1 0 1 2 1 0 1 0 1 0 1-2 1 0 1 2 1 0 1 0 1-2 1 0 1 2 1-2 1 0 1 0 1 0 1 0 1 2 1 0 1 0 1 0 1 0 1 0 1 0 1-2 1 2 1 0 1 0 1 0 1 0 1 0 1-2 1 0 1 0 1 0 1 0 1 0 1 2 1-2 1 0 1 2 1 0 1 0 1 0 1 0 1 0 1-2 1 0 1 0 1 2 1 0 1-2 1 0 1 2 1 0 1 0 1 0 1-2 1 2 1-2 1 2 1 0 1-2 1 0 1 2 1 0 1-2 1 0 1 0 1 2 1 0 1-2 1 0 1 2 1-2 1 0 1 0 1 0 1-2 1 2 1 0 1 0 1 2 1 0 1-2 1 2 1 0 1-2 1 0 1 2 1 0 1 0 1 0 1-2 1 0 1 2 1 0 1-2 1 0 1 0 1 0 1 2 1-2 1 2 1 0 1-2 1 0 1 2 1 0 1-2 1 0 1 0 1 0 1 0 1 2 1 0 1 0 1 0 1-2 1 2 1-2 1 0 1 0 1 0 1 0 1 2 1 0 1-2 1 0 1 0 1 2 1-2 1 2 1-2 1 0 1 2 1-2 1 2 1-2 1 0 1 2 1-2 1 2 1 0 1 0 1 0 1-2 1 2 1 0 1-2 1 2 1 0 1-2 1 0 1 2 1-2 1 2 1 0 1 0 1 0 1 0 1 0 1-2 1 0 1 0 1 0 1 2 1 0 1-2 1 2 1-2 1 0 1 0 1 0 1 2 1-2 1 2 1-2 1 0 1 0 1 2 1 0 1-2 1 0 1 2 1 0 1-2 1 0 1 2 1 0 1-2 1 0 1 0 1 0 1 0 1 0 1 0 1 2 1 0 1 0 1 0 1 0 1 0 1-2 1 0 1 2 1 0 1-2 1 2 1-2 1 2 1 0 1-2 1 0 1 2 1-2 1 2 1-2 1 0 1 0 1 2 1-2 1 0 1 2 1-2 1 2 1 0 1-2 1 2 1 0 1 0 1 0 1 0 1 0 1-2 1 2 1-2 1 0 1 2 1-2 1 0 1 0 1 0 1 2 1 0 1 0 1-4 1 2 1 2 1 0 1-2 1 2 1 0 1-2 1 0 1 2 1 0 1 0 1-2 1 0 1 0 1 2 1 0 1-2 1 2 1-2 1 2 1-2 1 0 1 2 1-2 1 2 1 0 1 0 1-2 1 2 1-2 1 0 1 2 1-2 1 0 1 2 1-2 1 0 1 2 1-2 1 2 1 0 1-2 1 0 1 2 1 0 1-2 1 0 1 0 1 0 1 2 1-2 1 0 1 2 1-2 1 0 1 0 1 2 1-2 1-2 1 0 1 2 1 2 1-2 1 0 1 2 1-2 1-2 1 4 1-2 1 0 1 0 1 2 1-2 1 0 1 0 1 0 1 0 1 0 1-2 1 2 1 2 1 0 1-2 1 0 1 0 1 0 1 0 1 2 1-2 1 2 1 0 1-2 1 0 1 0 1 0 1 0 1 0 1 2 1 0 1-2 1 2 1-2 1 0 1 0 1-2 1 2 1 0 1 0 1 0 1 2 1-2 1-2 1 2 1 2 1-4 1 2 1 2 1-4 1 2 1 0 1 2 1-2 1-2 1 4 1 0 1 0 1-2 1 2 1-2 1 2 1-2 1 2 1 0 1 0 1-4 1 2 1-2 1 2 1 0 1 0 1 2 1 0 1-2 1 2 1 0 1 0 1 0 1-2 1-2 1 4 1-2 1 0 1 0 1 0 1 0 1 0 1-2 1 2 1 0 1 2 1-2 1 2 1-2 1 0 1 2 1-2 1 0 1 2 1-2 1 0 1 2 1 0 1-2 1 0 1 2 1 0 1-2 1 0 1 2 1-2 1 0 1 0 1 0 1 2 1-2 1 0 1 0 1-2 1 2 1 2 1-4 1 2 1 0 1-2 1 4 1 0 1-4 1 2 1 2 1-2 1-2 1 2 1 2 1 0 1-2 1 0 1 0 1 2 1-2 1 2 1 0 1-4 1 2 1 0 1-2 1 4 1-2 1 0 1 2 1-2 1 0 1 0 1 2 1-2 1 0 1 0 1 2 1-2 1 0 1 0 1 0 1 0 1 0 1 0 1 0 1 0 1 2 1-2 1 0 1 2 1-2 1 0 1 2 1-2 1 0 1 0 1 0 1 0 1 2 1-4 1 2 1 0 1 2 1-2 1 0 1-2 1 2 1 0 1 0 1 0 1 0 1 0 1 0 1 0 1 0 1 0 1 0 1 0 1 0 1 2 1 0 1 0 1 0 1 0 1-2 1-2 1 4 1-2 1 2 1-2 1 0 1 0 1-2 1 4 1-2 1 0 1 0 1 2 1-2 1 0 1 2 1-2 1 0 1 0" stroke="#555555" stroke-width="1.2" marker-start="url(#m17)" marker-mid="url(#m17)" marker-end="url(#m17)"/><path class="s" transform="translate(595.9 0) scale(0.25 1.0)" vector-effect="non-scaling-stroke" d="M0 1387l1 2 1-2 1 2 1-2 1 0 1-2 1 2 1 0 1 0 1 0 1 0 1 0 1 0 1 2 1 0 1 0 1-2 1 0 1-2 1 2 1 0 1 0 1 0 1 0 1 2 1 0 1-4 1 4 1-4 1 2 1 2 1-4 1 2 1 2 1-2 1 0 1 0 1 0 1 2 1 0 1 0 1-2 1 2 1-2 1 0 1 0 1-2 1 2 1 0 1 0 1 2 1 0 1 0 1-2 1 0 1 2 1-2 1 0 1 2 1-2 1 0 1 0 1-2 1 4 1-2 1 0 1 2 1-4 1 2 1 0 1-2 1 2 1-4 1 6 1-6 1 2 1-4 1 4 1-2 1 6 1-4 1 0 1-7 1 3 1 4 1-2 1 4 1 0 1-4 1 4 1 0 1-2 1-9 1 11 1-4 1 2 1 0 1 2 1 0 1 0 1 2 1 0 1-2 1-2 1 4 1-2 1-9 1 7 1-2 1 2 1 0 1 4 1-4 1 2 1 0 1 0 1-2 1 0 1 0 1 0 1 2 1 0 1-2 1 0 1 0 1 0 1 4 1-2 1-2 1 2 1-6 1 4 1 2 1-2 1-2 1 6 1-2 1-2 1 0 1 0 1 0 1 0 1 4 1-6 1 4 1-2 1-2 1 4 1-4 1 0 1-2 1 4 1 2 1 2 1-11 1 9 1 2 1-4 1 0 1 2 1 2 1 0 1-2 1-4 1 4 1 0 1-2 1 0 1 4 1-8 1 6 1 0 1-2 1 0 1 4 1-4 1 0 1 4 1 0 1 0 1-4 1 4 1-2 1 0 1-2 1 2 1 0 1 2 1-4 1 2 1-2 1 0 1-2 1 0 1 2 1 2 1 0 1-2 1 4 1-2 1 2 1-2 1 2 1 0 1-4 1-9 1 5 1 4 1 4 1-6 1 2 1 0 1 0 1 2 1 0 1 0 1-2 1 4 1-2 1-2 1 0 1 4 1-6 1 0 1 4 1 0 1-2 1-2 1 6 1-6 1 2 1 2 1 0 1 0 1-2 1 0 1 4 1-2 1 0 1-4 1 2 1 2 1-2 1 0 1 2 1 0 1 0 1-2 1-2 1 2 1 2 1 2 1-6 1 2 1 4 1-2 1-2 1-2 1 2 1 4 1 0 1 0 1 0 1-6 1-2 1 4 1 0 1-9 1 9 1 0 1 4 1-2 1-4 1 2 1 0 1 2 1-2 1 0 1 2 1-4 1 4 1-4 1 0 1 2 1 4 1-2 1 0 1 2 1-2 1-2 1-2 1 4 1-2 1 2 1 0 1 0 1-2 1 0 1 2 1-2 1 0 1 4 1-11 1 5 1 4 1-6 1 4 1 2 1-2 1 0 1 2 1 0 1-2 1 2 1-2 1 0 1-2 1 6 1-2 1 0 1-2 1 0 1 2 1-2 1 2 1-6 1 6 1-2 1 2 1 0 1 0 1 0 1 0 1 0 1-2 1 0 1 2 1 2 1 0 1-6 1 4 1-2 1 2 1 2 1-6 1 2 1 0 1 4 1-6 1 6 1-11 1 5 1-5 1 9 1-2 1 4 1-2 1 2 1-4 1 0 1 0 1 0 1 0 1-2 1 2 1 2 1-4 1 4 1-4 1 4 1 0 1-2 1 4 1-2 1 0 1-4 1 2 1 2 1-2 1 4 1 0 1-4 1 0 1 2 1-2 1 2 1-6 1 6 1-9 1 11 1-2 1-2 1 0 1 4 1-6 1 6 1-6 1 4 1 0 1 2 1-2 1-4 1 2 1 0 1 2 1-2 1 0 1 4 1 0 1 0 1-2 1 0 1 2 1-2 1 0 1 2 1 0 1 0 1 0 1-6 1 2 1 4 1 0 1-2 1-2 1 0 1-4 1 6 1 2 1-4 1 2 1 0 1 2 1-2 1 2 1-2 1-2 1 4 1-2 1-2 1-2 1 0 1 4 1-2 1 0 1 0 1 4 1-4 1 4 1-2 1 0 1-4 1 4 1 0 1 0 1 0 1 2 1-2 1 0 1 2 1 0 1-4 1 2 1-6 1 4 1 4 1-6 1 4 1 0 1-4 1 4 1 0 1-2 1 0 1-2 1 0 1 4 1 0 1 0 1-2 1 2 1-2 1 0 1 0 1 2 1-2 1-4 1 8 1-2 1 2 1-4 1 0 1-4 1 4 1-9 1 13 1-4 1 4 1-2 1 2 1-2 1-2 1 2 1 0 1 0 1-4 1 2 1 2 1-4 1 4 1-11 1 11 1-2 1 0 1 4 1-2 1 0 1 0 1 0 1 0 1 0 1-2 1 2 1 0 1 2 1-4 1 0 1 0 1 4 1-4 1 2 1-2 1 4 1-2 1 0 1-2 1 2 1 0 1-2 1 4 1 0 1-11 1 11 1-2 1-2 1-2 1 4 1-4 1 4 1 0 1-2 1 0 1 0 1 4 1 0 1-2 1 2 1-2 1 0 1 0 1 2 1-2 1-2 1-7 1 5 1 0 1 6 1 0 1-2 1 0 1-2 1-2 1 0 1 6 1-2 1 0 1 0 1 0 1-2 1 2 1 0 1 0 1-2 1-2 1 6 1-4 1 2 1 2 1-4 1 2 1-2 1-9 1 11 1-6 1 6 1-2 1 4 1-4 1 2 1-2 1 0 1 2 1-2 1 2 1 2 1 0 1-4 1 0 1 0 1 0 1 2 1 0 1-2 1 0 1 0 1 2 1-4 1 2 1-2 1 0 1-2 1 6 1 0 1 0 1 0 1 0 1 0 1 0 1-9 1 11 1-2 1 0 1 0 1 0 1-2 1 2 1 0 1-11 1 11 1 2 1-2 1-2 1-2 1 2 1 2 1-2 1 4 1-2 1-4 1 2 1 0 1 4 1-2 1-4 1 4 1 0 1 2 1-4 1 2 1-2 1 2 1 0 1 0 1 2 1-2 1-2 1 2 1-2 1 0 1-2 1 0 1 4 1-4 1 4 1-2 1 0 1-4 1 4 1-2 1 2 1 0 1 0 1 4 1-8 1 4 1 0 1 4 1 0 1-6 1 4 1 0 1-4 1 0 1 2 1 2 1 0 1 0 1 0 1-4 1 2 1 4 1-2 1 0 1-4 1 6 1-4 1 2 1 0 1-2 1-2 1 2 1 0 1 0 1 2 1 0 1 2 1-6 1 2 1 0 1 2 1 0 1-2 1 2 1 0 1 2 1-6 1 2 1-4 1-3 1 0 1 9 1 2 1-4 1 4 1-2 1 0 1-2 1 0 1-4 1 0 1 0 1 2 1 0 1 2 1 0 1 0 1-4 1 0 1 2 1 4 1 0 1-4 1 2 1-4 1 2 1 4 1-2 1-2 1 2 1-2 1 0 1-2 1 0 1 4 1-2 1-5 1 3 1 6 1-6 1 6 1-4 1 2 1 0 1-4 1 4 1-9 1 7 1-2 1 2 1-5 1 7 1 0 1 0 1-2 1 0 1-2 1 2 1 2 1-7 1 3 1 2 1 2 1-2 1 0 1-2 1 0 1 4 1 2 1-2 1 0 1 0 1-2 1 0 1 0 1-2 1 2 1 0 1 6 1-4 1-2 1-2 1 0 1 2 1 2 1-2 1 0 1 0 1-5 1 9 1 0 1-6 1 2 1 6 1-6 1-2 1-3 1 3 1 6 1 0 1-2 1 4 1-2 1-4 1 2 1 2 1-4 1-2 1 4 1-4 1 4 1 0 1 0 1-2 1 0 1-2 1 6 1-4 1-5 1 3 1 2 1-2 1 2 1-5 1 7 1-4 1-3 1 5 1 2 1 2 1 2 1-6 1 2 1-2 1 2 1 2 1-9 1 7 1 0 1 0 1-2 1 2 1-2 1-5 1 9 1 0 1-2 1-2 1 4 1-9 1 5 1 2 1-4 1 2 1-2 1 2 1 2 1-4 1 2 1 2 1-2 1 0 1 2 1 0 1-2 1 4 1-2 1 2 1-2 1 2 1-6 1 4 1-2 1 2 1 0 1-7 1 5 1 6 1-6 1 2 1-4 1 6 1-9 1 5 1 0 1 2 1 0 1 0 1-2 1-7 1 7 1 2 1-2 1 4 1-2 1-2 1 2 1 0 1 0 1-2 1 0 1-5 1 5 1-2 1 4 1-2 1 2 1-9 1 11 1-4 1-2 1 2 1 0 1 0 1 0 1-2 1 2 1 2 1-2 1 4 1-2 1 0 1-4 1 2 1 4 1-2 1-7 1 9 1-6 1 2 1-5 1 7 1 2 1-2 1 0 1-4 1 8 1-4 1 2 1 2 1 0 1-4 1 2 1-6 1 2 1-2 1 2" stroke="#e6323e" stroke-width="0.9" marker-start="url(#m0)" marker-mid="url(#m0)" marker-end="url(#m0)"/><path class="s" transform="translate(595.9 0) scale(0.25 1.0)" vector-effect="non-scaling-stroke" d="M0 1323l1-15 1 7 1-11 1 6 1 5 1 11 1-14 1 18 1-18 1-6 1 9 1 17 1-17 1 2 1 2 1 2 1-2 1 2 1-4 1 4 1-4 1 0 1-2 1 2 1-2 1 8 1 5 1-11 1 2 1 13 1-11 1 0 1-4 1 6 1-8 1-3 1 5 1-13 1 17 1-6 1 2 1-5 1 3 1-3 1-11 1 9 1 9 1-7 1-4 1 9 1-7 1 2 1 3 1 6 1-13 1 9 1-7 1 7 1-11 1-5 1 16 1 0 1-5 1 0 1-2 1 18 1-7 1-15 1 4 1 9 1-4 1-16 1-9 1-24 1 20 1 46 1-9 1-4 1-35 1 11 1 24 1-13 1 0 1 13 1-15 1-11 1 24 1-29 1 31 1-15 1 52 1-8 1-51 1 7 1-14 1 11 1-24 1 73 1-44 1-24 1 24 1-7 1-15 1 26 1-33 1 46 1-19 1 6 1-9 1 22 1 5 1-46 1 46 1-11 1-7 1 9 1-42 1 27 1 15 1 0 1-4 1-16 1 16 1-20 1 6 1-13 1-4 1 15 1 31 1-20 1 22 1-13 1-22 1 0 1 11 1 2 1-6 1-29 1 44 1-2 1 13 1-22 1 11 1-33 1 44 1-29 1-19 1 37 1-13 1-24 1 26 1 7 1 13 1-40 1-22 1 29 1-9 1 79 1-53 1 27 1-33 1-9 1-15 1-3 1 27 1 22 1 6 1-17 1-5 1 42 1-22 1-46 1 48 1-39 1 20 1-33 1-3 1-4 1 31 1 20 1-5 1-17 1 2 1 61 1-46 1-9 1 0 1-2 1-6 1 0 1 11 1-14 1 5 1 9 1 2 1-2 1-16 1 13 1 27 1-31 1 9 1 4 1 13 1-28 1 24 1-24 1 2 1 20 1-42 1 33 1-2 1 9 1-20 1 26 1-46 1-2 1 15 1-13 1 9 1-7 1-2 1 35 1-59 1 37 1 7 1 2 1 7 1-16 1 22 1-20 1-15 1-2 1 75 1-33 1-44 1 26 1 20 1-42 1 11 1 11 1-22 1 18 1 15 1-22 1 24 1 5 1 26 1-59 1 17 1-9 1 44 1-19 1-7 1 13 1 11 1-39 1-11 1 6 1-6 1 17 1-26 1 37 1-42 1 58 1-5 1 11 1-26 1-27 1 5 1-7 1-15 1 42 1 19 1-52 1 13 1 11 1 4 1-4 1-20 1 31 1 33 1-60 1 16 1 15 1-46 1 33 1 20 1-2 1-11 1-27 1 57 1-66 1 33 1-17 1 9 1-29 1 37 1-13 1 24 1-22 1-2 1 9 1 4 1 20 1-61 1 35 1-13 1 77 1-88 1 46 1-18 1 5 1 33 1-25 1-22 1 9 1-26 1 9 1 48 1-48 1 2 1-2 1 13 1 9 1-5 1 7 1-44 1 92 1-83 1 28 1 0 1-20 1 33 1-6 1-42 1-7 1 27 1 22 1-16 1-15 1 0 1 24 1-35 1 13 1 33 1-13 1 9 1 33 1-29 1-15 1-2 1 15 1-26 1 8 1 31 1-59 1 44 1-13 1-3 1 31 1-46 1 13 1 27 1-44 1 26 1 2 1-17 1 55 1-11 1-36 1-8 1 8 1-8 1-20 1 33 1 6 1-17 1-11 1 4 1 24 1-28 1-20 1 68 1-24 1-2 1 57 1-55 1 0 1-9 1-9 1 7 1 24 1-11 1-24 1 20 1 20 1-20 1 26 1-57 1 33 1-15 1 28 1 13 1-30 1 17 1-2 1-33 1 37 1-6 1-11 1-9 1 2 1-6 1 6 1 9 1-11 1-26 1 39 1 0 1-26 1 31 1 41 1-74 1 68 1-38 1-13 1 27 1-33 1-9 1 42 1-27 1-2 1 7 1 6 1 16 1-25 1 11 1-15 1-22 1 4 1 38 1 2 1 7 1-16 1-13 1 29 1-14 1-22 1 31 1-11 1 24 1-26 1 20 1-35 1-3 1 25 1-14 1 29 1-2 1-27 1-4 1-7 1 7 1 15 1-37 1 42 1-7 1 7 1 9 1-5 1 18 1-11 1-44 1 24 1 51 1-47 1-6 1-13 1 59 1-81 1 48 1 9 1-9 1-18 1 20 1-9 1-24 1 57 1-50 1-11 1 79 1-81 1 13 1 6 1 60 1-62 1 16 1 11 1-27 1-48 1 50 1 18 1-33 1 9 1-16 1-2 1 53 1-37 1 19 1-26 1 22 1 13 1-9 1-30 1-9 1 17 1 22 1-6 1-7 1 11 1 2 1-26 1 15 1 11 1 0 1-4 1 57 1-64 1-11 1 0 1 11 1-2 1 42 1-20 1-37 1 81 1-66 1 13 1-2 1 16 1 37 1-64 1 60 1-66 1 6 1 13 1-2 1-4 1-13 1 17 1-13 1 11 1-11 1-20 1 9 1 40 1 4 1-44 1 7 1 11 1 26 1 9 1-20 1-15 1-16 1 38 1-33 1-20 1 35 1 7 1-14 1-6 1 68 1-37 1-14 1-13 1-17 1 30 1 9 1-46 1 33 1-7 1-15 1 15 1-17 1 15 1 13 1 16 1-13 1-29 1 35 1 35 1-44 1-2 1-2 1 11 1-4 1 46 1-82 1 5 1 37 1-13 1-29 1 9 1 29 1-11 1 4 1-28 1 24 1 2 1-9 1 2 1 25 1 13 1 26 1-6 1-31 1-29 1 7 1 17 1-13 1 2 1-26 1 9 1 4 1-4 1-5 1-17 1 75 1-44 1-11 1-20 1 20 1 37 1-18 1-6 1 15 1-35 1 20 1 0 1 13 1 42 1-68 1 68 1-55 1 37 1-83 1 121 1-104 1 5 1 35 1-5 1 36 1-29 1 7 1-22 1-29 1 40 1-9 1-20 1 0 1 40 1 39 1-61 1 15 1-20 1 2 1 18 1-13 1-7 1-28 1 17 1-4 1 26 1-17 1 6 1 16 1-36 1 29 1 2 1 2 1 7 1-11 1 4 1-26 1 13 1-33 1 24 1-26 1 18 1-25 1 31 1 9 1 20 1 9 1-44 1 19 1 11 1 9 1-22 1 55 1-66 1 16 1-3 1 25 1-25 1 11 1-13 1 13 1-17 1 17 1 9 1-6 1-31 1 20 1 0 1-7 1-35 1 33 1-18 1 27 1-27 1 49 1-14 1 11 1-24 1 22 1-13 1-29 1 27 1-5 1-8 1-9 1 17 1 77 1-70 1-22 1 46 1-64 1 16 1-27 1 25 1-11 1-7 1-9 1 38 1-51 1 18 1 13 1 11 1-22 1 11 1-2 1-16 1 0 1 16 1 4 1 0 1-29 1 0 1 25 1 74 1-74 1 28 1-13 1-20 1 16 1-44 1-5 1 20 1 26 1-24 1 18 1-7 1 11 1-2 1 4 1-8 1 4 1 11 1-35 1 0 1 59 1-13 1-51 1 31 1 44 1-33 1-59 1 55 1 9 1-3 1-13 1 11 1 0 1-20 1 0 1-4 1-20 1 33 1 5 1-22 1 4 1-9 1 13 1 18 1 42 1-68 1-11 1 37 1-22 1 15 1 7 1-42 1-4 1 33 1 24 1-26 1 19 1-22 1 20 1-9 1-4 1-2 1 4 1-9 1 117 1-117 1 0 1 9 1 9 1-24 1-16 1 29 1-15 1 28 1-28 1 24 1-18 1 5 1 11 1 26 1-37 1 26 1-35 1 9 1-3 1-4 1-2 1 61 1-77 1 22 1 11 1-4 1 9 1-9 1 7 1-3 1-24 1 35 1-24 1 27 1 11 1-29 1 2 1-39 1 39 1 9 1-35 1 24 1-9 1 7 1-7 1 9 1 11 1-11 1-40 1 33 1 20 1 9 1-20 1-24 1 9 1-22 1 39 1 20 1-44 1 20 1-2 1 2 1-26 1-7 1 31 1 9 1-16 1 16 1-25 1-11 1 38 1-35 1 24 1 22 1-40 1 29 1 6 1-15 1-13 1 9 1-7 1-2 1 6 1 9 1 0 1-6 1-36 1 18 1 18 1-16 1 7 1 20 1-14 1-4 1 15 1 7 1-33 1 9 1 20 1-18 1 29 1-14 1 11 1-17 1 24 1-13 1-18 1 7 1 13 1-26 1-3 1 20 1-15 1-16 1 36 1-7 1 2 1-9 1-2 1 79 1-74 1-3 1-8 1 26 1-13 1 9 1-7 1 18 1-31 1 6 1-11 1-8 1 28 1 2 1 0 1-15 1-2 1 20 1 6 1-44 1 46 1-13 1-15 1 22 1-27 1 18 1 4 1 5" stroke="#333" stroke-width="1.1" marker-start="url(#m2)" marker-mid="url(#m2)" marker-end="url(#m2)"/></g><path d="M595.6 1213.4V1389.4" stroke="#c4c4c4" stroke-width="1" fill="none"/><text class="tk" x="591.3" y="1393">0</text><text class="tk" x="591.3" y="1371">10</text><text class="tk" x="591.3" y="1349">20</text><text class="tk" x="591.3" y="1327">30</text><text class="tk" x="591.3" y="1305">40</text><text class="tk" x="591.3" y="1283">50</text><text class="tk" x="591.3" y="1261">60</text><text class="tk" x="591.3" y="1239">70</text><text class="tk" x="591.3" y="1217">80</text><path d="M595.1 1389.4h6M595.1 1367.4h6M595.1 1345.4h6M595.1 1323.4h6M595.1 1301.4h6M595.1 1279.4h6M595.1 1257.4h6M595.1 1235.4h6M595.1 1213.4h6" stroke="#8a8a8a" stroke-width="1" fill="none"/><text class="yl" transform="translate(563.4 1281.6) rotate(-90)" textLength="116.6" lengthAdjust="spacingAndGlyphs">No. of FSF domains</text><path d="M859.8 1362.5H891.2" stroke="#ee5a64" stroke-width="1.0"/><circle cx="875.5" cy="1362.8" r="1.15" fill="#b0101e"/><text class="lt" x="894.4" y="1367.3" textLength="63.0" lengthAdjust="spacingAndGlyphs">Viral proteins</text><path d="M859.8 1388H891.2" stroke="#c8c8c8" stroke-width="2.6"/><circle cx="875.5" cy="1388.5" r="1.15" fill="#1a1a1a"/><text class="lt" x="894.4" y="1393" textLength="90.0" lengthAdjust="spacingAndGlyphs">Unknown function</text></g>
<text x="247.1" y="1425.8" font-size="24.5" text-anchor="middle" style="font-family:'Liberation Serif',serif;fill:#000">(A)</text>
<text x="768" y="1425.8" font-size="24.5" text-anchor="middle" style="font-family:'Liberation Serif',serif;fill:#000">(B)</text>
</svg></body></html>
